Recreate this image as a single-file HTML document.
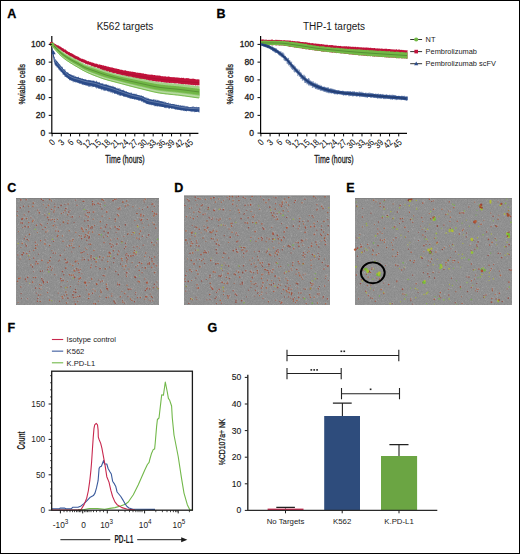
<!DOCTYPE html>
<html><head><meta charset="utf-8"><style>
html,body{margin:0;padding:0;background:#fff;}
#w{position:relative;width:520px;height:554px;box-sizing:border-box;border:1px solid #000;overflow:hidden;background:#fff;}
svg{position:absolute;left:-1px;top:-1px;}
svg text{font-family:"Liberation Sans", sans-serif;}
.h{stroke:#1a1a1a;stroke-width:0.3px;}
.cb{font-weight:bold;}
</style></head><body><div id="w">
<svg width="520" height="554" viewBox="0 0 520 554">
<defs>
<filter id="nf" x="0" y="0" width="100%" height="100%" color-interpolation-filters="sRGB"><feTurbulence type="fractalNoise" baseFrequency="1.3" numOctaves="1" seed="3"/><feColorMatrix type="matrix" values="1.6 0 0 0 -0.23  1.6 0 0 0 -0.23  1.6 0 0 0 -0.23  0 0 0 0 1"/></filter>
<pattern id="noise" patternUnits="userSpaceOnUse" width="160" height="110"><rect width="160" height="110" filter="url(#nf)"/></pattern>
</defs>
<text x="7.30" y="17.70" font-size="12.5" text-anchor="start" font-weight="bold" fill="#000" stroke="#000" stroke-width="0.3">A</text>
<text x="216.60" y="17.70" font-size="12.5" text-anchor="start" font-weight="bold" fill="#000" stroke="#000" stroke-width="0.3">B</text>
<text x="7.20" y="192.40" font-size="12.5" text-anchor="start" font-weight="bold" fill="#000" stroke="#000" stroke-width="0.3">C</text>
<text x="174.30" y="192.40" font-size="12.5" text-anchor="start" font-weight="bold" fill="#000" stroke="#000" stroke-width="0.3">D</text>
<text x="346.20" y="192.40" font-size="12.5" text-anchor="start" font-weight="bold" fill="#000" stroke="#000" stroke-width="0.3">E</text>
<text x="7.60" y="331.90" font-size="12.5" text-anchor="start" font-weight="bold" fill="#000" stroke="#000" stroke-width="0.3">F</text>
<text x="207.60" y="332.20" font-size="12.5" text-anchor="start" font-weight="bold" fill="#000" stroke="#000" stroke-width="0.3">G</text>
<g>
<text x="125.00" y="30.00" font-size="10" text-anchor="middle" font-weight="normal" fill="#1a1a1a" >K562 targets</text>
<path d="M51.8,36 V133.3 M51.2,133.3 H198.4" stroke="#050505" stroke-width="1.2" fill="none"/>
<path d="M52.00,42.79 L52.50,43.17 L53.00,43.27 L53.50,43.15 L54.00,43.31 L54.50,43.51 L55.00,43.92 L55.50,43.95 L56.00,44.48 L56.50,44.68 L57.00,45.16 L57.50,45.35 L58.00,45.18 L58.50,45.55 L59.00,45.75 L59.50,46.31 L60.00,46.54 L60.50,46.54 L61.00,47.20 L61.50,47.28 L62.00,47.66 L62.50,48.16 L63.00,48.12 L63.50,48.59 L64.00,49.02 L64.50,49.48 L65.00,49.45 L65.50,49.61 L66.00,49.85 L66.50,50.60 L67.00,50.98 L67.50,51.18 L68.00,51.42 L68.50,51.89 L69.00,51.97 L69.50,52.02 L70.00,52.66 L70.50,53.05 L71.00,53.07 L71.50,53.13 L72.00,53.49 L72.50,53.70 L73.00,54.01 L73.50,54.43 L74.00,54.51 L74.50,55.05 L75.00,55.47 L75.50,55.41 L76.00,55.71 L76.50,56.32 L77.00,56.11 L77.50,56.39 L78.00,56.85 L78.50,56.75 L79.00,57.22 L79.50,57.82 L80.00,57.81 L80.50,58.15 L81.00,58.53 L81.50,58.76 L82.00,58.71 L82.50,58.77 L83.00,58.97 L83.50,59.28 L84.00,59.58 L84.50,59.58 L85.00,59.84 L85.50,59.99 L86.00,60.54 L86.50,60.50 L87.00,60.75 L87.50,61.22 L88.00,61.16 L88.50,61.11 L89.00,61.43 L89.50,61.88 L90.00,61.56 L90.50,62.03 L91.00,62.19 L91.50,62.34 L92.00,62.70 L92.50,62.49 L93.00,62.59 L93.50,62.96 L94.00,62.99 L94.50,63.43 L95.00,63.61 L95.50,63.74 L96.00,63.53 L96.50,63.74 L97.00,63.67 L97.50,63.94 L98.00,64.48 L98.50,64.58 L99.00,64.70 L99.50,64.37 L100.00,64.47 L100.50,64.83 L101.00,65.07 L101.50,65.07 L102.00,64.83 L102.50,65.44 L103.00,65.46 L103.50,65.23 L104.00,65.44 L104.50,65.95 L105.00,65.74 L105.50,66.07 L106.00,65.85 L106.50,66.45 L107.00,66.13 L107.50,66.76 L108.00,66.52 L108.50,66.53 L109.00,67.17 L109.50,67.04 L110.00,67.11 L110.50,67.48 L111.00,67.27 L111.50,67.39 L112.00,67.53 L112.50,67.58 L113.00,67.84 L113.50,68.10 L114.00,68.12 L114.50,68.29 L115.00,68.41 L115.50,68.48 L116.00,68.32 L116.50,68.54 L117.00,68.98 L117.50,68.84 L118.00,69.09 L118.50,68.93 L119.00,69.12 L119.50,69.54 L120.00,69.51 L120.50,69.83 L121.00,69.75 L121.50,69.79 L122.00,69.86 L122.50,69.97 L123.00,70.21 L123.50,70.45 L124.00,70.32 L124.50,70.58 L125.00,70.25 L125.50,70.32 L126.00,70.41 L126.50,70.93 L127.00,70.65 L127.50,71.05 L128.00,71.27 L128.50,70.97 L129.00,71.17 L129.50,71.61 L130.00,71.21 L130.50,71.51 L131.00,71.40 L131.50,71.81 L132.00,71.80 L132.50,71.56 L133.00,72.01 L133.50,71.76 L134.00,72.28 L134.50,71.96 L135.00,72.00 L135.50,72.23 L136.00,72.40 L136.50,72.72 L137.00,72.40 L137.50,72.74 L138.00,72.53 L138.50,72.97 L139.00,72.68 L139.50,73.10 L140.00,72.85 L140.50,72.92 L141.00,73.23 L141.50,73.37 L142.00,73.28 L142.50,73.51 L143.00,73.34 L143.50,73.38 L144.00,73.62 L144.50,73.96 L145.00,73.88 L145.50,73.87 L146.00,73.88 L146.50,74.25 L147.00,74.00 L147.50,74.52 L148.00,74.52 L148.50,74.40 L149.00,74.41 L149.50,74.66 L150.00,74.52 L150.50,74.81 L151.00,74.70 L151.50,74.56 L152.00,74.64 L152.50,74.82 L153.00,74.78 L153.50,75.32 L154.00,75.04 L154.50,75.11 L155.00,75.09 L155.50,75.22 L156.00,75.71 L156.50,75.33 L157.00,75.43 L157.50,75.31 L158.00,75.65 L158.50,75.55 L159.00,75.49 L159.50,75.60 L160.00,75.63 L160.50,75.84 L161.00,76.06 L161.50,76.21 L162.00,76.25 L162.50,76.10 L163.00,76.51 L163.50,76.41 L164.00,76.05 L164.50,76.61 L165.00,76.56 L165.50,76.25 L166.00,76.52 L166.50,76.74 L167.00,76.66 L167.50,76.76 L168.00,76.54 L168.50,76.52 L169.00,76.55 L169.50,76.87 L170.00,76.95 L170.50,76.92 L171.00,77.14 L171.50,77.01 L172.00,77.15 L172.50,77.24 L173.00,76.88 L173.50,77.32 L174.00,77.37 L174.50,77.26 L175.00,77.30 L175.50,77.51 L176.00,77.48 L176.50,77.22 L177.00,77.63 L177.50,77.56 L178.00,77.30 L178.50,77.71 L179.00,77.76 L179.50,77.71 L180.00,77.72 L180.50,78.02 L181.00,78.12 L181.50,77.58 L182.00,78.11 L182.50,77.93 L183.00,77.83 L183.50,77.87 L184.00,77.88 L184.50,78.41 L185.00,78.37 L185.50,78.45 L186.00,78.10 L186.50,78.30 L187.00,78.05 L187.50,78.36 L188.00,78.22 L188.50,78.36 L189.00,78.22 L189.50,78.76 L190.00,78.86 L190.50,78.88 L191.00,78.61 L191.50,79.03 L192.00,78.69 L192.50,78.68 L193.00,78.61 L193.50,78.77 L194.00,78.79 L194.50,78.99 L195.00,78.95 L195.50,79.29 L196.00,79.18 L196.50,79.41 L197.00,79.32 L197.50,79.37 L198.00,79.42 L198.50,79.19 L199.00,79.61 L199.50,79.38 L199.50,85.51 L199.00,85.33 L198.50,85.24 L198.00,85.55 L197.50,85.39 L197.00,85.11 L196.50,85.36 L196.00,85.54 L195.50,85.43 L195.00,85.47 L194.50,84.97 L194.00,84.97 L193.50,85.33 L193.00,85.22 L192.50,84.71 L192.00,84.89 L191.50,84.95 L191.00,84.78 L190.50,84.68 L190.00,84.89 L189.50,84.49 L189.00,84.82 L188.50,84.83 L188.00,84.49 L187.50,84.42 L187.00,84.49 L186.50,84.16 L186.00,84.64 L185.50,84.48 L185.00,84.32 L184.50,84.05 L184.00,84.24 L183.50,84.23 L183.00,84.40 L182.50,83.95 L182.00,84.32 L181.50,83.97 L181.00,84.21 L180.50,83.73 L180.00,83.63 L179.50,83.79 L179.00,83.64 L178.50,83.84 L178.00,83.54 L177.50,83.34 L177.00,83.47 L176.50,83.39 L176.00,83.24 L175.50,83.52 L175.00,83.52 L174.50,83.29 L174.00,83.60 L173.50,83.09 L173.00,83.08 L172.50,83.03 L172.00,82.87 L171.50,83.11 L171.00,83.19 L170.50,82.70 L170.00,83.06 L169.50,82.98 L169.00,83.06 L168.50,82.72 L168.00,82.48 L167.50,82.83 L167.00,82.90 L166.50,82.81 L166.00,82.76 L165.50,82.52 L165.00,82.65 L164.50,82.48 L164.00,82.55 L163.50,82.39 L163.00,82.03 L162.50,82.09 L162.00,82.36 L161.50,82.17 L161.00,82.04 L160.50,81.80 L160.00,81.61 L159.50,81.78 L159.00,81.64 L158.50,81.72 L158.00,81.65 L157.50,81.51 L157.00,81.43 L156.50,81.72 L156.00,81.40 L155.50,81.58 L155.00,81.20 L154.50,81.13 L154.00,80.93 L153.50,81.11 L153.00,81.14 L152.50,80.65 L152.00,80.92 L151.50,80.47 L151.00,80.52 L150.50,80.62 L150.00,80.65 L149.50,80.66 L149.00,80.29 L148.50,80.40 L148.00,80.08 L147.50,79.80 L147.00,79.93 L146.50,79.89 L146.00,79.48 L145.50,79.40 L145.00,79.40 L144.50,79.38 L144.00,79.30 L143.50,79.15 L143.00,79.04 L142.50,78.99 L142.00,78.84 L141.50,79.23 L141.00,78.78 L140.50,79.01 L140.00,78.91 L139.50,78.79 L139.00,78.78 L138.50,78.38 L138.00,78.07 L137.50,78.36 L137.00,78.40 L136.50,77.91 L136.00,78.20 L135.50,77.64 L135.00,77.93 L134.50,77.53 L134.00,77.85 L133.50,77.76 L133.00,77.38 L132.50,77.17 L132.00,77.14 L131.50,76.79 L131.00,76.87 L130.50,76.78 L130.00,76.73 L129.50,76.87 L129.00,76.56 L128.50,76.73 L128.00,76.64 L127.50,76.04 L127.00,76.27 L126.50,76.28 L126.00,76.03 L125.50,75.67 L125.00,75.68 L124.50,75.39 L124.00,75.76 L123.50,75.24 L123.00,75.50 L122.50,75.43 L122.00,75.07 L121.50,75.05 L121.00,74.83 L120.50,74.67 L120.00,74.75 L119.50,74.48 L119.00,74.23 L118.50,74.28 L118.00,74.29 L117.50,74.02 L117.00,73.92 L116.50,73.75 L116.00,73.82 L115.50,73.33 L115.00,73.11 L114.50,73.30 L114.00,73.40 L113.50,73.26 L113.00,72.87 L112.50,73.00 L112.00,72.58 L111.50,72.54 L111.00,72.23 L110.50,72.04 L110.00,72.29 L109.50,72.19 L109.00,71.87 L108.50,71.35 L108.00,71.52 L107.50,71.44 L107.00,71.39 L106.50,71.23 L106.00,70.69 L105.50,70.55 L105.00,70.87 L104.50,70.38 L104.00,70.47 L103.50,70.29 L103.00,69.93 L102.50,69.94 L102.00,69.68 L101.50,69.58 L101.00,69.20 L100.50,69.27 L100.00,68.66 L99.50,68.48 L99.00,68.37 L98.50,68.56 L98.00,68.04 L97.50,68.00 L97.00,67.57 L96.50,67.24 L96.00,67.35 L95.50,67.31 L95.00,67.18 L94.50,67.13 L94.00,66.51 L93.50,66.68 L93.00,66.51 L92.50,66.10 L92.00,66.13 L91.50,66.14 L91.00,65.40 L90.50,65.31 L90.00,65.62 L89.50,64.98 L89.00,64.87 L88.50,64.59 L88.00,64.65 L87.50,64.77 L87.00,64.06 L86.50,64.01 L86.00,63.70 L85.50,63.94 L85.00,63.44 L84.50,63.10 L84.00,62.83 L83.50,62.67 L83.00,62.39 L82.50,62.50 L82.00,62.12 L81.50,62.12 L81.00,61.86 L80.50,61.18 L80.00,61.27 L79.50,61.06 L79.00,60.74 L78.50,60.40 L78.00,60.06 L77.50,59.94 L77.00,59.54 L76.50,59.24 L76.00,59.42 L75.50,58.89 L75.00,58.90 L74.50,58.65 L74.00,58.13 L73.50,58.12 L73.00,57.48 L72.50,57.52 L72.00,56.86 L71.50,56.79 L71.00,56.64 L70.50,56.13 L70.00,56.27 L69.50,55.80 L69.00,55.48 L68.50,55.35 L68.00,54.75 L67.50,54.52 L67.00,54.04 L66.50,53.89 L66.00,53.63 L65.50,53.21 L65.00,53.06 L64.50,52.36 L64.00,52.16 L63.50,52.20 L63.00,51.72 L62.50,51.50 L62.00,50.96 L61.50,50.82 L61.00,50.41 L60.50,49.96 L60.00,49.56 L59.50,49.43 L59.00,49.23 L58.50,49.06 L58.00,48.33 L57.50,48.12 L57.00,47.67 L56.50,47.59 L56.00,47.64 L55.50,46.93 L55.00,47.03 L54.50,46.34 L54.00,46.32 L53.50,46.15 L53.00,45.85 L52.50,45.46 L52.00,45.29Z" fill="#c0113a" opacity="1"/>
<circle cx="51.6" cy="43.9" r="2.1" fill="#c0113a"/>
<polyline points="54.00,45.27 55.00,45.70 56.00,46.18 57.00,46.71 58.00,47.27 59.00,47.86 60.00,48.47 61.00,49.08 62.00,49.68 63.00,50.28 64.00,50.88 65.00,51.50 66.00,52.13 67.00,52.76 68.00,53.38 69.00,53.98 70.00,54.57 71.00,55.14 72.00,55.69 73.00,56.23 74.00,56.76 75.00,57.28 76.00,57.79 77.00,58.30 78.00,58.80 79.00,59.30 80.00,59.80 81.00,60.29 82.00,60.78 83.00,61.24 84.00,61.69 85.00,62.10 86.00,62.49 87.00,62.86 88.00,63.22 89.00,63.57 90.00,63.90 91.00,64.23 92.00,64.55 93.00,64.87 94.00,65.18 95.00,65.50 96.00,65.82 97.00,66.13 98.00,66.44 99.00,66.74 100.00,67.04 101.00,67.34 102.00,67.64 103.00,67.93 104.00,68.21 105.00,68.50 106.00,68.78 107.00,69.07 108.00,69.35 109.00,69.63 110.00,69.91 111.00,70.18 112.00,70.45 113.00,70.71 114.00,70.96 115.00,71.20 116.00,71.43 117.00,71.66 118.00,71.89 119.00,72.11 120.00,72.33 121.00,72.55 122.00,72.77 123.00,72.98 124.00,73.19 125.00,73.40 126.00,73.60 127.00,73.80 128.00,74.00 129.00,74.20 130.00,74.39 131.00,74.58 132.00,74.77 133.00,74.96 134.00,75.14 135.00,75.32 136.00,75.50 137.00,75.68 138.00,75.86 139.00,76.03 140.00,76.20 141.00,76.37 142.00,76.54 143.00,76.71 144.00,76.87 145.00,77.04 146.00,77.20 147.00,77.36 148.00,77.52 149.00,77.68 150.00,77.84 151.00,77.99 152.00,78.14 153.00,78.28 154.00,78.42 155.00,78.56 156.00,78.70 157.00,78.83 158.00,78.96 159.00,79.08 160.00,79.20 161.00,79.31 162.00,79.43 163.00,79.53 164.00,79.64 165.00,79.74 166.00,79.84 167.00,79.93 168.00,80.03 169.00,80.12 170.00,80.21 171.00,80.30 172.00,80.39 173.00,80.48 174.00,80.57 175.00,80.66 176.00,80.74 177.00,80.83 178.00,80.92 179.00,81.01 180.00,81.10 181.00,81.19 182.00,81.28 183.00,81.37 184.00,81.46 185.00,81.55 186.00,81.63 187.00,81.72 188.00,81.81 189.00,81.89 190.00,81.98 191.00,82.07 192.00,82.15 193.00,82.24 194.00,82.32 195.00,82.41 196.00,82.50 197.00,82.58 198.00,82.67 199.00,82.76" fill="none" stroke="#5a0a1a" stroke-width="0.5" opacity="0.35"/>
<path d="M52.00,43.53 L52.50,43.92 L53.00,44.31 L53.50,44.69 L54.00,45.08 L54.50,45.49 L55.00,45.92 L55.50,46.38 L56.00,46.84 L56.50,47.31 L57.00,47.79 L57.50,48.27 L58.00,48.75 L58.50,49.23 L59.00,49.70 L59.50,50.17 L60.00,50.63 L60.50,51.08 L61.00,51.52 L61.50,51.94 L62.00,52.35 L62.50,52.74 L63.00,53.12 L63.50,53.48 L64.00,53.83 L64.50,54.17 L65.00,54.51 L65.50,54.83 L66.00,55.15 L66.50,55.47 L67.00,55.78 L67.50,56.08 L68.00,56.38 L68.50,56.67 L69.00,56.97 L69.50,57.26 L70.00,57.54 L70.50,57.83 L71.00,58.12 L71.50,58.39 L72.00,58.66 L72.50,58.93 L73.00,59.19 L73.50,59.45 L74.00,59.71 L74.50,59.96 L75.00,60.22 L75.50,60.47 L76.00,60.73 L76.50,60.99 L77.00,61.25 L77.50,61.51 L78.00,61.78 L78.50,62.06 L79.00,62.34 L79.50,62.63 L80.00,62.92 L80.50,63.21 L81.00,63.51 L81.50,63.80 L82.00,64.08 L82.50,64.37 L83.00,64.64 L83.50,64.91 L84.00,65.16 L84.50,65.40 L85.00,65.63 L85.50,65.84 L86.00,66.04 L86.50,66.24 L87.00,66.42 L87.50,66.60 L88.00,66.77 L88.50,66.94 L89.00,67.10 L89.50,67.25 L90.00,67.41 L90.50,67.56 L91.00,67.71 L91.50,67.86 L92.00,68.01 L92.50,68.16 L93.00,68.31 L93.50,68.47 L94.00,68.63 L94.50,68.80 L95.00,68.97 L95.50,69.15 L96.00,69.32 L96.50,69.50 L97.00,69.68 L97.50,69.85 L98.00,70.03 L98.50,70.21 L99.00,70.39 L99.50,70.57 L100.00,70.74 L100.50,70.92 L101.00,71.09 L101.50,71.26 L102.00,71.43 L102.50,71.60 L103.00,71.77 L103.50,71.94 L104.00,72.10 L104.50,72.26 L105.00,72.42 L105.50,72.57 L106.00,72.72 L106.50,72.88 L107.00,73.03 L107.50,73.18 L108.00,73.33 L108.50,73.47 L109.00,73.62 L109.50,73.77 L110.00,73.91 L110.50,74.05 L111.00,74.19 L111.50,74.33 L112.00,74.47 L112.50,74.61 L113.00,74.74 L113.50,74.88 L114.00,75.01 L114.50,75.14 L115.00,75.27 L115.50,75.40 L116.00,75.52 L116.50,75.65 L117.00,75.77 L117.50,75.90 L118.00,76.02 L118.50,76.14 L119.00,76.26 L119.50,76.38 L120.00,76.49 L120.50,76.61 L121.00,76.73 L121.50,76.84 L122.00,76.95 L122.50,77.07 L123.00,77.18 L123.50,77.29 L124.00,77.40 L124.50,77.51 L125.00,77.62 L125.50,77.72 L126.00,77.83 L126.50,77.94 L127.00,78.04 L127.50,78.15 L128.00,78.25 L128.50,78.36 L129.00,78.46 L129.50,78.56 L130.00,78.67 L130.50,78.77 L131.00,78.87 L131.50,78.97 L132.00,79.07 L132.50,79.18 L133.00,79.28 L133.50,79.38 L134.00,79.48 L134.50,79.58 L135.00,79.68 L135.50,79.78 L136.00,79.88 L136.50,79.98 L137.00,80.08 L137.50,80.18 L138.00,80.28 L138.50,80.38 L139.00,80.48 L139.50,80.58 L140.00,80.68 L140.50,80.79 L141.00,80.89 L141.50,80.99 L142.00,81.10 L142.50,81.20 L143.00,81.31 L143.50,81.41 L144.00,81.52 L144.50,81.62 L145.00,81.73 L145.50,81.84 L146.00,81.94 L146.50,82.05 L147.00,82.15 L147.50,82.26 L148.00,82.36 L148.50,82.47 L149.00,82.57 L149.50,82.67 L150.00,82.78 L150.50,82.88 L151.00,82.98 L151.50,83.08 L152.00,83.18 L152.50,83.27 L153.00,83.37 L153.50,83.46 L154.00,83.55 L154.50,83.64 L155.00,83.73 L155.50,83.82 L156.00,83.91 L156.50,83.99 L157.00,84.07 L157.50,84.15 L158.00,84.23 L158.50,84.30 L159.00,84.37 L159.50,84.44 L160.00,84.51 L160.50,84.57 L161.00,84.64 L161.50,84.70 L162.00,84.76 L162.50,84.82 L163.00,84.87 L163.50,84.93 L164.00,84.98 L164.50,85.03 L165.00,85.09 L165.50,85.14 L166.00,85.19 L166.50,85.24 L167.00,85.28 L167.50,85.33 L168.00,85.38 L168.50,85.42 L169.00,85.47 L169.50,85.51 L170.00,85.56 L170.50,85.60 L171.00,85.65 L171.50,85.69 L172.00,85.73 L172.50,85.78 L173.00,85.82 L173.50,85.87 L174.00,85.91 L174.50,85.96 L175.00,86.00 L175.50,86.05 L176.00,86.10 L176.50,86.14 L177.00,86.19 L177.50,86.24 L178.00,86.29 L178.50,86.34 L179.00,86.39 L179.50,86.45 L180.00,86.50 L180.50,86.56 L181.00,86.61 L181.50,86.67 L182.00,86.72 L182.50,86.78 L183.00,86.84 L183.50,86.90 L184.00,86.96 L184.50,87.02 L185.00,87.08 L185.50,87.14 L186.00,87.20 L186.50,87.26 L187.00,87.32 L187.50,87.38 L188.00,87.45 L188.50,87.51 L189.00,87.57 L189.50,87.63 L190.00,87.70 L190.50,87.76 L191.00,87.82 L191.50,87.89 L192.00,87.95 L192.50,88.01 L193.00,88.08 L193.50,88.14 L194.00,88.20 L194.50,88.27 L195.00,88.33 L195.50,88.39 L196.00,88.45 L196.50,88.52 L197.00,88.58 L197.50,88.64 L198.00,88.70 L198.50,88.77 L199.00,88.83 L199.50,88.89 L199.50,95.71 L199.00,95.64 L198.50,95.58 L198.00,95.51 L197.50,95.44 L197.00,95.37 L196.50,95.30 L196.00,95.23 L195.50,95.17 L195.00,95.10 L194.50,95.03 L194.00,94.96 L193.50,94.89 L193.00,94.82 L192.50,94.75 L192.00,94.68 L191.50,94.61 L191.00,94.55 L190.50,94.48 L190.00,94.41 L189.50,94.34 L189.00,94.27 L188.50,94.20 L188.00,94.14 L187.50,94.07 L187.00,94.00 L186.50,93.93 L186.00,93.87 L185.50,93.80 L185.00,93.73 L184.50,93.67 L184.00,93.60 L183.50,93.54 L183.00,93.47 L182.50,93.41 L182.00,93.35 L181.50,93.28 L181.00,93.22 L180.50,93.16 L180.00,93.10 L179.50,93.04 L179.00,92.98 L178.50,92.92 L178.00,92.87 L177.50,92.81 L177.00,92.76 L176.50,92.71 L176.00,92.65 L175.50,92.60 L175.00,92.55 L174.50,92.50 L174.00,92.45 L173.50,92.40 L173.00,92.35 L172.50,92.30 L172.00,92.26 L171.50,92.21 L171.00,92.16 L170.50,92.11 L170.00,92.06 L169.50,92.01 L169.00,91.96 L168.50,91.91 L168.00,91.86 L167.50,91.81 L167.00,91.75 L166.50,91.70 L166.00,91.65 L165.50,91.59 L165.00,91.53 L164.50,91.48 L164.00,91.42 L163.50,91.36 L163.00,91.30 L162.50,91.23 L162.00,91.17 L161.50,91.10 L161.00,91.03 L160.50,90.96 L160.00,90.89 L159.50,90.82 L159.00,90.74 L158.50,90.66 L158.00,90.57 L157.50,90.48 L157.00,90.39 L156.50,90.30 L156.00,90.21 L155.50,90.11 L155.00,90.01 L154.50,89.91 L154.00,89.81 L153.50,89.70 L153.00,89.59 L152.50,89.48 L152.00,89.37 L151.50,89.26 L151.00,89.15 L150.50,89.03 L150.00,88.91 L149.50,88.80 L149.00,88.68 L148.50,88.56 L148.00,88.44 L147.50,88.32 L147.00,88.20 L146.50,88.08 L146.00,87.96 L145.50,87.83 L145.00,87.71 L144.50,87.59 L144.00,87.47 L143.50,87.35 L143.00,87.23 L142.50,87.11 L142.00,86.99 L141.50,86.87 L141.00,86.75 L140.50,86.63 L140.00,86.52 L139.50,86.40 L139.00,86.28 L138.50,86.17 L138.00,86.05 L137.50,85.93 L137.00,85.81 L136.50,85.69 L136.00,85.58 L135.50,85.46 L135.00,85.34 L134.50,85.22 L134.00,85.10 L133.50,84.98 L133.00,84.85 L132.50,84.73 L132.00,84.61 L131.50,84.49 L131.00,84.37 L130.50,84.24 L130.00,84.12 L129.50,84.00 L129.00,83.87 L128.50,83.75 L128.00,83.63 L127.50,83.50 L127.00,83.38 L126.50,83.25 L126.00,83.13 L125.50,83.00 L125.00,82.88 L124.50,82.75 L124.00,82.63 L123.50,82.50 L123.00,82.37 L122.50,82.25 L122.00,82.12 L121.50,81.99 L121.00,81.87 L120.50,81.74 L120.00,81.61 L119.50,81.48 L119.00,81.36 L118.50,81.23 L118.00,81.10 L117.50,80.97 L117.00,80.84 L116.50,80.72 L116.00,80.59 L115.50,80.46 L115.00,80.33 L114.50,80.20 L114.00,80.07 L113.50,79.94 L113.00,79.81 L112.50,79.69 L112.00,79.56 L111.50,79.42 L111.00,79.29 L110.50,79.16 L110.00,79.02 L109.50,78.89 L109.00,78.75 L108.50,78.61 L108.00,78.47 L107.50,78.33 L107.00,78.19 L106.50,78.04 L106.00,77.89 L105.50,77.74 L105.00,77.58 L104.50,77.43 L104.00,77.27 L103.50,77.10 L103.00,76.94 L102.50,76.77 L102.00,76.59 L101.50,76.42 L101.00,76.24 L100.50,76.06 L100.00,75.88 L99.50,75.70 L99.00,75.51 L98.50,75.33 L98.00,75.14 L97.50,74.96 L97.00,74.77 L96.50,74.59 L96.00,74.40 L95.50,74.22 L95.00,74.03 L94.50,73.84 L94.00,73.66 L93.50,73.47 L93.00,73.28 L92.50,73.09 L92.00,72.90 L91.50,72.71 L91.00,72.51 L90.50,72.32 L90.00,72.12 L89.50,71.92 L89.00,71.71 L88.50,71.51 L88.00,71.30 L87.50,71.08 L87.00,70.87 L86.50,70.65 L86.00,70.43 L85.50,70.20 L85.00,69.97 L84.50,69.73 L84.00,69.48 L83.50,69.22 L83.00,68.95 L82.50,68.67 L82.00,68.38 L81.50,68.09 L81.00,67.79 L80.50,67.49 L80.00,67.19 L79.50,66.89 L79.00,66.60 L78.50,66.30 L78.00,66.02 L77.50,65.73 L77.00,65.45 L76.50,65.17 L76.00,64.89 L75.50,64.61 L75.00,64.33 L74.50,64.05 L74.00,63.77 L73.50,63.48 L73.00,63.19 L72.50,62.90 L72.00,62.60 L71.50,62.30 L71.00,62.00 L70.50,61.69 L70.00,61.37 L69.50,61.06 L69.00,60.74 L68.50,60.42 L68.00,60.10 L67.50,59.77 L67.00,59.44 L66.50,59.11 L66.00,58.77 L65.50,58.42 L65.00,58.06 L64.50,57.70 L64.00,57.33 L63.50,56.94 L63.00,56.55 L62.50,56.14 L62.00,55.72 L61.50,55.28 L61.00,54.82 L60.50,54.35 L60.00,53.87 L59.50,53.38 L59.00,52.87 L58.50,52.36 L58.00,51.85 L57.50,51.32 L57.00,50.80 L56.50,50.27 L56.00,49.73 L55.50,49.20 L55.00,48.67 L54.50,48.12 L54.00,47.54 L53.50,46.93 L53.00,46.30 L52.50,45.68 L52.00,45.07Z" fill="#72b846" opacity="1"/>
<path d="M52.00,42.98V45.64M53.00,43.50V47.02M54.00,44.19V48.45M55.00,45.00V49.68M56.00,45.76V50.86M57.00,46.81V51.83M58.00,47.74V53.06M59.00,48.49V53.90M60.00,49.31V55.19M61.00,50.27V56.06M62.00,51.23V56.79M63.00,51.86V57.66M64.00,52.66V58.51M65.00,53.37V59.34M66.00,53.86V60.19M67.00,54.44V60.83M68.00,55.02V61.51M69.00,55.61V62.04M70.00,55.98V62.94M71.00,56.58V63.48M72.00,57.30V63.94M73.00,57.81V64.49M74.00,58.13V65.21M75.00,58.59V65.79M76.00,59.04V66.54M77.00,59.91V66.87M78.00,60.08V67.55M79.00,60.61V68.10M80.00,61.53V68.79M81.00,61.84V69.26M82.00,62.68V69.88M83.00,62.89V70.62M84.00,63.74V70.96M85.00,64.21V71.38M86.00,64.33V71.89M87.00,64.78V72.46M88.00,65.25V73.04M89.00,65.57V73.45M90.00,65.86V73.80M91.00,66.09V74.16M92.00,66.02V74.82M93.00,66.60V75.26M94.00,66.94V75.44M95.00,66.97V75.94M96.00,67.66V76.47M97.00,67.96V76.51M98.00,68.05V76.92M99.00,68.62V77.18M100.00,69.06V77.79M101.00,69.34V78.16M102.00,69.62V78.45M103.00,69.68V78.81M104.00,70.18V79.32M105.00,70.68V79.30M106.00,70.65V79.92M107.00,71.27V79.92M108.00,71.34V80.55M109.00,71.90V80.83M110.00,71.87V80.93M111.00,72.38V80.96M112.00,72.84V81.62M113.00,73.02V81.75M114.00,73.28V82.06M115.00,73.39V82.07M116.00,73.83V82.53M117.00,74.13V82.56M118.00,74.14V83.11M119.00,74.35V83.11M120.00,74.44V83.33M121.00,75.08V83.63M122.00,75.10V83.79M123.00,75.44V84.20M124.00,75.46V84.35M125.00,75.77V84.98M126.00,75.67V85.13M127.00,76.01V85.36M128.00,76.47V85.35M129.00,76.73V86.05M130.00,76.58V86.33M131.00,77.11V86.43M132.00,77.07V86.74M133.00,77.34V87.14M134.00,77.65V87.16M135.00,77.50V87.60M136.00,77.69V87.75M137.00,77.84V88.11M138.00,78.26V88.24M139.00,78.16V88.59M140.00,78.61V88.79M141.00,78.57V88.92M142.00,78.89V89.07M143.00,79.11V89.44M144.00,79.58V89.71M145.00,79.29V90.09M146.00,79.63V90.08M147.00,79.83V90.44M148.00,80.19V90.84M149.00,80.58V91.04M150.00,80.81V91.20M151.00,80.75V91.24M152.00,80.81V91.62M153.00,81.04V92.09M154.00,81.42V91.80M155.00,81.56V92.40M156.00,81.79V92.31M157.00,81.54V92.79M158.00,81.95V93.10M159.00,82.16V93.15M160.00,82.36V93.17M161.00,82.13V93.60M162.00,82.21V93.43M163.00,82.49V93.52M164.00,82.85V93.76M165.00,82.54V94.08M166.00,82.71V94.26M167.00,83.06V93.91M168.00,83.05V94.08M169.00,83.28V94.27M170.00,83.12V94.42M171.00,83.39V94.73M172.00,83.08V94.60M173.00,83.70V94.45M174.00,83.31V94.56M175.00,83.50V94.98M176.00,83.82V95.21M177.00,84.09V94.93M178.00,83.92V94.98M179.00,83.80V95.22M180.00,84.32V95.23M181.00,84.13V95.59M182.00,84.24V95.85M183.00,84.24V96.16M184.00,84.43V95.84M185.00,84.67V95.96M186.00,85.07V96.27M187.00,84.76V96.23M188.00,85.15V96.47M189.00,85.01V96.72M190.00,85.18V97.01M191.00,85.44V97.17M192.00,85.25V96.88M193.00,85.36V97.41M194.00,85.97V97.39M195.00,85.79V97.81M196.00,86.06V97.74M197.00,85.88V98.02M198.00,85.96V97.96M199.00,86.26V97.94" stroke="#72b846" stroke-width="0.8" opacity="1" fill="none"/>
<path d="M60.00,53.46 L60.50,53.93 L61.00,54.39 L61.50,54.83 L62.00,55.26 L62.50,55.68 L63.00,56.08 L63.50,56.47 L64.00,56.85 L64.50,57.22 L65.00,57.58 L65.50,57.93 L66.00,58.27 L66.50,58.61 L67.00,58.94 L67.50,59.27 L68.00,59.59 L68.50,59.91 L69.00,60.23 L69.50,60.54 L70.00,60.85 L70.50,61.16 L71.00,61.47 L71.50,61.77 L72.00,62.07 L72.50,62.36 L73.00,62.64 L73.50,62.93 L74.00,63.21 L74.50,63.49 L75.00,63.77 L75.50,64.04 L76.00,64.32 L76.50,64.60 L77.00,64.88 L77.50,65.16 L78.00,65.44 L78.50,65.73 L79.00,66.02 L79.50,66.31 L80.00,66.61 L80.50,66.90 L81.00,67.20 L81.50,67.49 L82.00,67.78 L82.50,68.07 L83.00,68.35 L83.50,68.62 L84.00,68.88 L84.50,69.14 L85.00,69.38 L85.50,69.61 L86.00,69.84 L86.50,70.06 L87.00,70.28 L87.50,70.49 L88.00,70.70 L88.50,70.90 L89.00,71.10 L89.50,71.29 L90.00,71.48 L90.50,71.67 L91.00,71.86 L91.50,72.04 L92.00,72.23 L92.50,72.41 L93.00,72.60 L93.50,72.78 L94.00,72.97 L94.50,73.15 L95.00,73.34 L95.50,73.53 L96.00,73.72 L96.50,73.90 L97.00,74.09 L97.50,74.28 L98.00,74.46 L98.50,74.65 L99.00,74.83 L99.50,75.01 L100.00,75.19 L100.50,75.37 L101.00,75.55 L101.50,75.73 L102.00,75.90 L102.50,76.07 L103.00,76.24 L103.50,76.40 L104.00,76.56 L104.50,76.72 L105.00,76.88 L105.50,77.03 L106.00,77.18 L106.50,77.33 L107.00,77.48 L107.50,77.62 L108.00,77.77 L108.50,77.91 L109.00,78.05 L109.50,78.18 L110.00,78.32 L110.50,78.45 L111.00,78.59 L111.50,78.72 L112.00,78.85 L112.50,78.98 L113.00,79.12 L113.50,79.25 L114.00,79.38 L114.50,79.51 L115.00,79.64 L115.50,79.77 L116.00,79.90 L116.50,80.03 L117.00,80.16 L117.50,80.29 L118.00,80.42 L118.50,80.55 L119.00,80.68 L119.50,80.80 L120.00,80.93 L120.50,81.06 L121.00,81.18 L121.50,81.31 L122.00,81.43 L122.50,81.56 L123.00,81.68 L123.50,81.81 L124.00,81.93 L124.50,82.06 L125.00,82.18 L125.50,82.30 L126.00,82.42 L126.50,82.55 L127.00,82.67 L127.50,82.79 L128.00,82.91 L128.50,83.03 L129.00,83.15 L129.50,83.27 L130.00,83.39 L130.50,83.51 L131.00,83.63 L131.50,83.75 L132.00,83.87 L132.50,83.98 L133.00,84.10 L133.50,84.22 L134.00,84.34 L134.50,84.45 L135.00,84.57 L135.50,84.69 L136.00,84.80 L136.50,84.92 L137.00,85.03 L137.50,85.15 L138.00,85.26 L138.50,85.38 L139.00,85.49 L139.50,85.61 L140.00,85.72 L140.50,85.83 L141.00,85.95 L141.50,86.07 L142.00,86.18 L142.50,86.30 L143.00,86.42 L143.50,86.54 L144.00,86.66 L144.50,86.78 L145.00,86.90 L145.50,87.02 L146.00,87.14 L146.50,87.26 L147.00,87.37 L147.50,87.49 L148.00,87.61 L148.50,87.73 L149.00,87.85 L149.50,87.96 L150.00,88.08 L150.50,88.19 L151.00,88.30 L151.50,88.42 L152.00,88.53 L152.50,88.64 L153.00,88.74 L153.50,88.85 L154.00,88.95 L154.50,89.05 L155.00,89.15 L155.50,89.25 L156.00,89.35 L156.50,89.44 L157.00,89.53 L157.50,89.62 L158.00,89.71 L158.50,89.79 L159.00,89.87 L159.50,89.95 L160.00,90.02 L160.50,90.09 L161.00,90.16 L161.50,90.23 L162.00,90.29 L162.50,90.36 L163.00,90.42 L163.50,90.48 L164.00,90.54 L164.50,90.60 L165.00,90.66 L165.50,90.71 L166.00,90.77 L166.50,90.82 L167.00,90.87 L167.50,90.92 L168.00,90.97 L168.50,91.02 L169.00,91.07 L169.50,91.12 L170.00,91.17 L170.50,91.22 L171.00,91.27 L171.50,91.32 L172.00,91.37 L172.50,91.41 L173.00,91.46 L173.50,91.51 L174.00,91.56 L174.50,91.61 L175.00,91.66 L175.50,91.71 L176.00,91.76 L176.50,91.81 L177.00,91.86 L177.50,91.92 L178.00,91.97 L178.50,92.03 L179.00,92.08 L179.50,92.14 L180.00,92.20 L180.50,92.26 L181.00,92.32 L181.50,92.38 L182.00,92.44 L182.50,92.51 L183.00,92.57 L183.50,92.63 L184.00,92.70 L184.50,92.76 L185.00,92.83 L185.50,92.89 L186.00,92.96 L186.50,93.02 L187.00,93.09 L187.50,93.16 L188.00,93.22 L188.50,93.29 L189.00,93.36 L189.50,93.43 L190.00,93.49 L190.50,93.56 L191.00,93.63 L191.50,93.70 L192.00,93.77 L192.50,93.83 L193.00,93.90 L193.50,93.97 L194.00,94.04 L194.50,94.11 L195.00,94.17 L195.50,94.24 L196.00,94.31 L196.50,94.38 L197.00,94.45 L197.50,94.51 L198.00,94.58 L198.50,94.65 L199.00,94.71 L199.50,94.78 L199.50,97.26 L199.00,97.19 L198.50,97.12 L198.00,97.05 L197.50,96.98 L197.00,96.92 L196.50,96.85 L196.00,96.78 L195.50,96.71 L195.00,96.64 L194.50,96.57 L194.00,96.50 L193.50,96.43 L193.00,96.35 L192.50,96.28 L192.00,96.21 L191.50,96.14 L191.00,96.07 L190.50,96.00 L190.00,95.93 L189.50,95.86 L189.00,95.79 L188.50,95.72 L188.00,95.66 L187.50,95.59 L187.00,95.52 L186.50,95.45 L186.00,95.38 L185.50,95.31 L185.00,95.25 L184.50,95.18 L184.00,95.11 L183.50,95.05 L183.00,94.98 L182.50,94.92 L182.00,94.85 L181.50,94.79 L181.00,94.72 L180.50,94.66 L180.00,94.60 L179.50,94.54 L179.00,94.48 L178.50,94.42 L178.00,94.36 L177.50,94.31 L177.00,94.25 L176.50,94.20 L176.00,94.14 L175.50,94.09 L175.00,94.04 L174.50,93.99 L174.00,93.94 L173.50,93.89 L173.00,93.84 L172.50,93.79 L172.00,93.74 L171.50,93.69 L171.00,93.64 L170.50,93.59 L170.00,93.54 L169.50,93.49 L169.00,93.44 L168.50,93.38 L168.00,93.33 L167.50,93.28 L167.00,93.22 L166.50,93.17 L166.00,93.11 L165.50,93.06 L165.00,93.00 L164.50,92.94 L164.00,92.88 L163.50,92.82 L163.00,92.76 L162.50,92.69 L162.00,92.62 L161.50,92.56 L161.00,92.49 L160.50,92.41 L160.00,92.34 L159.50,92.26 L159.00,92.18 L158.50,92.10 L158.00,92.01 L157.50,91.92 L157.00,91.83 L156.50,91.74 L156.00,91.64 L155.50,91.54 L155.00,91.44 L154.50,91.33 L154.00,91.23 L153.50,91.12 L153.00,91.01 L152.50,90.89 L152.00,90.78 L151.50,90.66 L151.00,90.55 L150.50,90.43 L150.00,90.31 L149.50,90.19 L149.00,90.07 L148.50,89.94 L148.00,89.82 L147.50,89.70 L147.00,89.57 L146.50,89.45 L146.00,89.32 L145.50,89.20 L145.00,89.07 L144.50,88.95 L144.00,88.82 L143.50,88.70 L143.00,88.57 L142.50,88.45 L142.00,88.32 L141.50,88.20 L141.00,88.08 L140.50,87.96 L140.00,87.84 L139.50,87.72 L139.00,87.60 L138.50,87.48 L138.00,87.36 L137.50,87.24 L137.00,87.12 L136.50,86.99 L136.00,86.87 L135.50,86.75 L135.00,86.63 L134.50,86.50 L134.00,86.38 L133.50,86.25 L133.00,86.13 L132.50,86.00 L132.00,85.88 L131.50,85.75 L131.00,85.63 L130.50,85.50 L130.00,85.37 L129.50,85.25 L129.00,85.12 L128.50,84.99 L128.00,84.86 L127.50,84.74 L127.00,84.61 L126.50,84.48 L126.00,84.35 L125.50,84.22 L125.00,84.09 L124.50,83.96 L124.00,83.83 L123.50,83.70 L123.00,83.57 L122.50,83.44 L122.00,83.31 L121.50,83.18 L121.00,83.05 L120.50,82.92 L120.00,82.79 L119.50,82.66 L119.00,82.53 L118.50,82.40 L118.00,82.27 L117.50,82.14 L117.00,82.01 L116.50,81.87 L116.00,81.74 L115.50,81.61 L115.00,81.48 L114.50,81.35 L114.00,81.22 L113.50,81.09 L113.00,80.96 L112.50,80.83 L112.00,80.70 L111.50,80.57 L111.00,80.44 L110.50,80.31 L110.00,80.18 L109.50,80.05 L109.00,79.91 L108.50,79.78 L108.00,79.64 L107.50,79.50 L107.00,79.36 L106.50,79.21 L106.00,79.06 L105.50,78.91 L105.00,78.76 L104.50,78.60 L104.00,78.44 L103.50,78.28 L103.00,78.11 L102.50,77.95 L102.00,77.77 L101.50,77.60 L101.00,77.42 L100.50,77.24 L100.00,77.06 L99.50,76.88 L99.00,76.70 L98.50,76.51 L98.00,76.32 L97.50,76.13 L97.00,75.94 L96.50,75.75 L96.00,75.56 L95.50,75.37 L95.00,75.18 L94.50,74.99 L94.00,74.79 L93.50,74.60 L93.00,74.40 L92.50,74.21 L92.00,74.01 L91.50,73.81 L91.00,73.61 L90.50,73.40 L90.00,73.19 L89.50,72.99 L89.00,72.77 L88.50,72.56 L88.00,72.34 L87.50,72.12 L87.00,71.90 L86.50,71.67 L86.00,71.44 L85.50,71.20 L85.00,70.96 L84.50,70.71 L84.00,70.45 L83.50,70.19 L83.00,69.91 L82.50,69.63 L82.00,69.34 L81.50,69.05 L81.00,68.76 L80.50,68.46 L80.00,68.16 L79.50,67.86 L79.00,67.57 L78.50,67.27 L78.00,66.98 L77.50,66.69 L77.00,66.41 L76.50,66.12 L76.00,65.83 L75.50,65.55 L75.00,65.26 L74.50,64.97 L74.00,64.69 L73.50,64.39 L73.00,64.10 L72.50,63.80 L72.00,63.50 L71.50,63.19 L71.00,62.88 L70.50,62.56 L70.00,62.24 L69.50,61.92 L69.00,61.60 L68.50,61.27 L68.00,60.95 L67.50,60.61 L67.00,60.28 L66.50,59.94 L66.00,59.59 L65.50,59.23 L65.00,58.87 L64.50,58.50 L64.00,58.12 L63.50,57.73 L63.00,57.33 L62.50,56.91 L62.00,56.48 L61.50,56.04 L61.00,55.59 L60.50,55.12 L60.00,54.64Z" fill="#ffffff" opacity="0.2"/>
<polyline points="53.00,46.70 54.00,48.11 55.00,49.40 56.00,50.58 57.00,51.71 58.00,52.80 59.00,53.85 60.00,54.84 61.00,55.80 62.00,56.70 63.00,57.55 64.00,58.35 65.00,59.12 66.00,59.85 67.00,60.55 68.00,61.22 69.00,61.89 70.00,62.54 71.00,63.19 72.00,63.81 73.00,64.42 74.00,65.02 75.00,65.61 76.00,66.19 77.00,66.77 78.00,67.35 79.00,67.94 80.00,68.54 81.00,69.13 82.00,69.72 83.00,70.29 84.00,70.83 85.00,71.35 86.00,71.84 87.00,72.31 88.00,72.77 89.00,73.22 90.00,73.65 91.00,74.08 92.00,74.49 93.00,74.90 94.00,75.30 95.00,75.70 96.00,76.09 97.00,76.48 98.00,76.86 99.00,77.24 100.00,77.61 101.00,77.97 102.00,78.32 103.00,78.66 104.00,78.98 105.00,79.30 106.00,79.60 107.00,79.89 108.00,80.17 109.00,80.44 110.00,80.70 111.00,80.96 112.00,81.22 113.00,81.48 114.00,81.74 115.00,82.00 116.00,82.27 117.00,82.53 118.00,82.80 119.00,83.06 120.00,83.33 121.00,83.60 122.00,83.86 123.00,84.13 124.00,84.39 125.00,84.66 126.00,84.92 127.00,85.19 128.00,85.45 129.00,85.71 130.00,85.97 131.00,86.23 132.00,86.49 133.00,86.75 134.00,87.00 135.00,87.26 136.00,87.51 137.00,87.76 138.00,88.01 139.00,88.26 140.00,88.50 141.00,88.75 142.00,89.00 143.00,89.25 144.00,89.50 145.00,89.76 146.00,90.02 147.00,90.27 148.00,90.53 149.00,90.78 150.00,91.03 151.00,91.27 152.00,91.51 153.00,91.74 154.00,91.96 155.00,92.18 156.00,92.38 157.00,92.58 158.00,92.77 159.00,92.94 160.00,93.10 161.00,93.25 162.00,93.39 163.00,93.52 164.00,93.65 165.00,93.77 166.00,93.89 167.00,94.00 168.00,94.11 169.00,94.22 170.00,94.32 171.00,94.42 172.00,94.52 173.00,94.62 174.00,94.73 175.00,94.83 176.00,94.94 177.00,95.05 178.00,95.16 179.00,95.28 180.00,95.40 181.00,95.53 182.00,95.66 183.00,95.79 184.00,95.92 185.00,96.06 186.00,96.19 187.00,96.33 188.00,96.47 189.00,96.61 190.00,96.75 191.00,96.90 192.00,97.04 193.00,97.18 194.00,97.32 195.00,97.47 196.00,97.61 197.00,97.75 198.00,97.89 199.00,98.03" fill="none" stroke="#72b846" stroke-width="0.9" opacity="1"/>
<polyline points="52.00,44.00 53.00,45.01 54.00,46.01 55.00,47.00 56.00,47.99 57.00,48.99 58.00,50.00 59.00,50.99 60.00,51.95 61.00,52.87 62.00,53.74 63.00,54.53 64.00,55.28 65.00,55.99 66.00,56.66 67.00,57.31 68.00,57.94 69.00,58.55 70.00,59.16 71.00,59.76 72.00,60.33 73.00,60.89 74.00,61.44 75.00,61.98 76.00,62.51 77.00,63.05 78.00,63.60 79.00,64.17 80.00,64.76 81.00,65.35 82.00,65.93 83.00,66.49 84.00,67.02 85.00,67.50 86.00,67.94 87.00,68.35 88.00,68.73 89.00,69.11 90.00,69.46 91.00,69.81 92.00,70.16 93.00,70.50 94.00,70.85 95.00,71.20 96.00,71.56 97.00,71.92 98.00,72.29 99.00,72.65 100.00,73.01 101.00,73.37 102.00,73.71 103.00,74.05 104.00,74.38 105.00,74.70 106.00,75.01 107.00,75.31 108.00,75.60 109.00,75.89 110.00,76.17 111.00,76.44 112.00,76.71 113.00,76.98 114.00,77.24 115.00,77.50 116.00,77.76 117.00,78.01 118.00,78.26 119.00,78.51 120.00,78.75 121.00,79.00 122.00,79.24 123.00,79.48 124.00,79.71 125.00,79.95 126.00,80.18 127.00,80.41 128.00,80.64 129.00,80.87 130.00,81.09 131.00,81.32 132.00,81.54 133.00,81.77 134.00,81.99 135.00,82.21 136.00,82.43 137.00,82.65 138.00,82.86 139.00,83.08 140.00,83.30 141.00,83.52 142.00,83.74 143.00,83.97 144.00,84.19 145.00,84.42 146.00,84.65 147.00,84.88 148.00,85.10 149.00,85.33 150.00,85.55 151.00,85.76 152.00,85.97 153.00,86.18 154.00,86.38 155.00,86.57 156.00,86.76 157.00,86.93 158.00,87.10 159.00,87.26 160.00,87.40 161.00,87.54 162.00,87.66 163.00,87.78 164.00,87.90 165.00,88.01 166.00,88.12 167.00,88.22 168.00,88.32 169.00,88.41 170.00,88.51 171.00,88.60 172.00,88.69 173.00,88.79 174.00,88.88 175.00,88.98 176.00,89.07 177.00,89.18 178.00,89.28 179.00,89.39 180.00,89.50 181.00,89.62 182.00,89.74 183.00,89.86 184.00,89.98 185.00,90.11 186.00,90.23 187.00,90.36 188.00,90.49 189.00,90.62 190.00,90.75 191.00,90.88 192.00,91.02 193.00,91.15 194.00,91.28 195.00,91.41 196.00,91.54 197.00,91.68 198.00,91.81 199.00,91.94" fill="none" stroke="#1d3a10" stroke-width="0.6" opacity="0.5"/>
<circle cx="52.3" cy="44.6" r="2" fill="#72b846"/>
<path d="M52.20,47.59 L52.70,50.71 L53.20,52.76 L53.70,54.83 L54.20,56.47 L54.70,58.06 L55.20,59.34 L55.70,60.46 L56.20,60.76 L56.70,61.11 L57.20,61.73 L57.70,62.12 L58.20,62.87 L58.70,63.56 L59.20,63.89 L59.70,64.47 L60.20,64.83 L60.70,66.17 L61.20,66.40 L61.70,67.29 L62.20,67.40 L62.70,68.06 L63.20,69.05 L63.70,69.52 L64.20,69.38 L64.70,70.59 L65.20,70.84 L65.70,71.16 L66.20,71.96 L66.70,72.49 L67.20,72.20 L67.70,72.92 L68.20,73.62 L68.70,73.74 L69.20,73.92 L69.70,73.90 L70.20,74.35 L70.70,74.95 L71.20,74.80 L71.70,75.46 L72.20,75.28 L72.70,75.84 L73.20,75.94 L73.70,76.30 L74.20,76.24 L74.70,76.92 L75.20,77.01 L75.70,76.62 L76.20,77.32 L76.70,76.92 L77.20,77.20 L77.70,77.26 L78.20,77.60 L78.70,77.40 L79.20,77.64 L79.70,78.08 L80.20,78.33 L80.70,78.26 L81.20,78.80 L81.70,78.85 L82.20,78.53 L82.70,78.75 L83.20,79.07 L83.70,78.99 L84.20,79.49 L84.70,79.20 L85.20,79.38 L85.70,79.43 L86.20,79.47 L86.70,80.24 L87.20,80.20 L87.70,80.45 L88.20,79.94 L88.70,80.48 L89.20,80.50 L89.70,80.35 L90.20,80.26 L90.70,80.44 L91.20,81.06 L91.70,81.16 L92.20,80.76 L92.70,81.23 L93.20,80.71 L93.70,81.07 L94.20,81.03 L94.70,81.71 L95.20,81.45 L95.70,81.87 L96.20,81.43 L96.70,82.29 L97.20,82.31 L97.70,82.15 L98.20,82.82 L98.70,82.43 L99.20,82.65 L99.70,82.58 L100.20,83.48 L100.70,83.68 L101.20,83.28 L101.70,84.02 L102.20,83.73 L102.70,83.91 L103.20,84.46 L103.70,84.50 L104.20,84.65 L104.70,84.61 L105.20,84.51 L105.70,85.01 L106.20,84.68 L106.70,84.84 L107.20,84.80 L107.70,85.17 L108.20,85.75 L108.70,85.39 L109.20,85.39 L109.70,86.03 L110.20,85.80 L110.70,86.26 L111.20,86.52 L111.70,86.62 L112.20,86.93 L112.70,86.89 L113.20,87.21 L113.70,86.99 L114.20,87.10 L114.70,87.63 L115.20,87.67 L115.70,87.94 L116.20,88.37 L116.70,88.70 L117.20,88.47 L117.70,88.94 L118.20,88.47 L118.70,88.71 L119.20,89.58 L119.70,89.72 L120.20,89.86 L120.70,89.56 L121.20,90.29 L121.70,90.20 L122.20,90.08 L122.70,90.21 L123.20,90.48 L123.70,90.99 L124.20,90.66 L124.70,91.37 L125.20,91.26 L125.70,91.82 L126.20,91.41 L126.70,91.85 L127.20,92.22 L127.70,92.01 L128.20,92.38 L128.70,92.46 L129.20,92.63 L129.70,92.83 L130.20,93.40 L130.70,93.16 L131.20,93.60 L131.70,93.17 L132.20,93.65 L132.70,93.77 L133.20,93.94 L133.70,93.71 L134.20,94.33 L134.70,94.00 L135.20,94.32 L135.70,94.24 L136.20,94.64 L136.70,94.40 L137.20,95.05 L137.70,94.67 L138.20,95.36 L138.70,95.10 L139.20,95.57 L139.70,95.68 L140.20,95.75 L140.70,95.87 L141.20,95.75 L141.70,96.29 L142.20,96.03 L142.70,96.51 L143.20,96.45 L143.70,97.20 L144.20,96.92 L144.70,97.76 L145.20,98.08 L145.70,98.14 L146.20,98.39 L146.70,98.44 L147.20,98.64 L147.70,98.82 L148.20,98.61 L148.70,99.10 L149.20,99.43 L149.70,99.28 L150.20,99.39 L150.70,99.20 L151.20,99.26 L151.70,99.67 L152.20,99.85 L152.70,100.01 L153.20,99.91 L153.70,99.98 L154.20,100.42 L154.70,100.42 L155.20,100.41 L155.70,100.08 L156.20,100.41 L156.70,100.85 L157.20,100.86 L157.70,100.39 L158.20,101.05 L158.70,101.28 L159.20,101.33 L159.70,101.20 L160.20,101.08 L160.70,101.44 L161.20,101.18 L161.70,101.41 L162.20,101.95 L162.70,101.66 L163.20,101.74 L163.70,102.29 L164.20,102.60 L164.70,102.49 L165.20,102.24 L165.70,102.78 L166.20,103.04 L166.70,103.31 L167.20,102.93 L167.70,103.12 L168.20,103.47 L168.70,103.65 L169.20,103.62 L169.70,103.69 L170.20,103.58 L170.70,103.46 L171.20,104.03 L171.70,104.05 L172.20,103.84 L172.70,104.37 L173.20,103.95 L173.70,104.14 L174.20,104.34 L174.70,104.74 L175.20,104.88 L175.70,104.60 L176.20,104.79 L176.70,104.78 L177.20,105.51 L177.70,105.24 L178.20,105.03 L178.70,105.57 L179.20,105.74 L179.70,106.07 L180.20,105.62 L180.70,105.55 L181.20,105.93 L181.70,105.74 L182.20,105.79 L182.70,106.62 L183.20,106.11 L183.70,106.43 L184.20,106.75 L184.70,106.41 L185.20,106.27 L185.70,106.91 L186.20,106.34 L186.70,106.99 L187.20,107.03 L187.70,106.66 L188.20,106.71 L188.70,106.83 L189.20,107.15 L189.70,107.20 L190.20,107.11 L190.70,107.33 L191.20,106.94 L191.70,107.53 L192.20,107.50 L192.70,107.03 L193.20,107.44 L193.70,107.47 L194.20,107.61 L194.70,107.12 L195.20,107.46 L195.70,107.51 L196.20,107.38 L196.70,107.59 L197.20,107.41 L197.70,107.54 L198.20,107.29 L198.70,107.21 L199.20,107.29 L199.20,111.39 L198.70,112.06 L198.20,111.80 L197.70,111.51 L197.20,111.81 L196.70,111.88 L196.20,111.84 L195.70,111.91 L195.20,111.65 L194.70,111.79 L194.20,111.30 L193.70,111.26 L193.20,111.72 L192.70,111.12 L192.20,110.91 L191.70,111.04 L191.20,111.34 L190.70,111.21 L190.20,111.10 L189.70,110.92 L189.20,111.35 L188.70,111.23 L188.20,110.62 L187.70,110.63 L187.20,110.86 L186.70,110.82 L186.20,111.08 L185.70,110.92 L185.20,111.00 L184.70,110.47 L184.20,110.30 L183.70,110.61 L183.20,110.51 L182.70,110.06 L182.20,110.31 L181.70,110.41 L181.20,109.90 L180.70,110.05 L180.20,110.26 L179.70,110.03 L179.20,109.71 L178.70,109.54 L178.20,109.69 L177.70,109.29 L177.20,109.61 L176.70,109.40 L176.20,108.91 L175.70,109.45 L175.20,108.98 L174.70,108.67 L174.20,108.88 L173.70,108.61 L173.20,108.51 L172.70,108.15 L172.20,108.23 L171.70,108.67 L171.20,108.21 L170.70,107.90 L170.20,107.70 L169.70,108.14 L169.20,108.31 L168.70,107.65 L168.20,107.40 L167.70,107.42 L167.20,107.81 L166.70,107.58 L166.20,107.25 L165.70,107.27 L165.20,107.67 L164.70,107.50 L164.20,107.16 L163.70,106.92 L163.20,106.98 L162.70,107.10 L162.20,107.11 L161.70,107.06 L161.20,106.37 L160.70,106.40 L160.20,106.27 L159.70,106.71 L159.20,106.00 L158.70,106.02 L158.20,105.84 L157.70,105.90 L157.20,106.27 L156.70,105.57 L156.20,106.10 L155.70,106.03 L155.20,105.80 L154.70,105.85 L154.20,105.07 L153.70,105.18 L153.20,104.83 L152.70,105.32 L152.20,104.67 L151.70,104.55 L151.20,104.77 L150.70,104.66 L150.20,104.30 L149.70,104.24 L149.20,104.60 L148.70,104.04 L148.20,104.21 L147.70,103.91 L147.20,103.91 L146.70,103.64 L146.20,103.18 L145.70,103.12 L145.20,102.51 L144.70,102.17 L144.20,102.31 L143.70,102.29 L143.20,101.50 L142.70,101.34 L142.20,101.10 L141.70,100.69 L141.20,101.01 L140.70,100.32 L140.20,100.12 L139.70,100.35 L139.20,100.04 L138.70,99.66 L138.20,100.29 L137.70,99.51 L137.20,100.08 L136.70,99.61 L136.20,99.86 L135.70,99.25 L135.20,99.33 L134.70,99.32 L134.20,99.44 L133.70,99.04 L133.20,98.60 L132.70,99.05 L132.20,98.87 L131.70,98.80 L131.20,98.10 L130.70,97.96 L130.20,98.46 L129.70,97.85 L129.20,97.83 L128.70,97.99 L128.20,97.31 L127.70,97.49 L127.20,96.86 L126.70,97.09 L126.20,96.58 L125.70,96.79 L125.20,96.37 L124.70,96.20 L124.20,96.16 L123.70,95.91 L123.20,96.06 L122.70,95.59 L122.20,95.56 L121.70,95.59 L121.20,95.01 L120.70,95.38 L120.20,94.95 L119.70,94.72 L119.20,94.71 L118.70,94.23 L118.20,94.14 L117.70,94.46 L117.20,94.20 L116.70,93.45 L116.20,93.70 L115.70,93.18 L115.20,93.60 L114.70,92.89 L114.20,93.15 L113.70,92.45 L113.20,92.24 L112.70,92.20 L112.20,91.96 L111.70,91.65 L111.20,92.06 L110.70,91.76 L110.20,91.40 L109.70,91.28 L109.20,91.17 L108.70,90.70 L108.20,91.29 L107.70,91.15 L107.20,90.68 L106.70,90.16 L106.20,90.58 L105.70,89.91 L105.20,90.01 L104.70,89.85 L104.20,90.07 L103.70,89.91 L103.20,89.32 L102.70,89.42 L102.20,89.08 L101.70,89.48 L101.20,88.93 L100.70,88.40 L100.20,88.72 L99.70,88.64 L99.20,88.08 L98.70,88.26 L98.20,88.00 L97.70,87.56 L97.20,87.89 L96.70,87.22 L96.20,86.91 L95.70,86.75 L95.20,87.23 L94.70,86.48 L94.20,86.63 L93.70,86.96 L93.20,86.50 L92.70,86.36 L92.20,86.57 L91.70,85.98 L91.20,85.82 L90.70,85.91 L90.20,85.54 L89.70,85.71 L89.20,85.65 L88.70,85.28 L88.20,85.91 L87.70,85.32 L87.20,85.75 L86.70,85.55 L86.20,85.05 L85.70,84.66 L85.20,85.27 L84.70,84.68 L84.20,84.98 L83.70,84.40 L83.20,84.06 L82.70,84.51 L82.20,84.19 L81.70,83.59 L81.20,83.48 L80.70,83.22 L80.20,83.48 L79.70,82.88 L79.20,82.89 L78.70,82.42 L78.20,82.99 L77.70,82.31 L77.20,82.52 L76.70,81.88 L76.20,82.30 L75.70,81.82 L75.20,81.87 L74.70,81.87 L74.20,81.57 L73.70,81.04 L73.20,81.02 L72.70,81.10 L72.20,80.47 L71.70,80.74 L71.20,80.14 L70.70,79.93 L70.20,80.15 L69.70,79.75 L69.20,79.26 L68.70,79.10 L68.20,78.72 L67.70,78.33 L67.20,77.53 L66.70,77.21 L66.20,77.28 L65.70,76.90 L65.20,75.68 L64.70,75.57 L64.20,75.24 L63.70,74.16 L63.20,74.28 L62.70,73.42 L62.20,72.70 L61.70,72.09 L61.20,71.82 L60.70,70.80 L60.20,70.29 L59.70,69.71 L59.20,69.24 L58.70,68.54 L58.20,68.36 L57.70,67.34 L57.20,66.71 L56.70,66.18 L56.20,65.63 L55.70,65.63 L55.20,64.18 L54.70,63.63 L54.20,61.38 L53.70,59.48 L53.20,57.05 L52.70,54.34 L52.20,51.44Z" fill="#2d4d8a" opacity="1"/>
<path d="M52.40,48.53V52.99M53.30,52.53V57.55M54.20,57.07V61.83M55.10,59.13V65.02M56.00,59.90V66.17M56.90,61.11V67.33M57.80,62.58V67.92M58.70,63.49V69.59M59.60,64.73V70.58M60.50,65.81V71.51M61.40,66.51V72.19M62.30,66.79V72.66M63.20,68.97V75.02M64.10,69.26V74.73M65.00,69.46V76.95M65.90,71.64V77.00M66.80,72.37V77.59M67.70,72.34V78.05M68.60,72.88V78.53M69.50,74.26V80.26M70.40,74.45V80.18M71.30,74.64V80.73M72.20,75.39V80.49M73.10,75.28V82.27M74.00,75.25V82.15M74.90,76.46V81.98M75.80,76.20V82.67M76.70,77.28V82.24M77.60,77.13V82.87M78.50,76.73V83.11M79.40,78.16V83.87M80.30,77.86V83.72M81.20,78.47V83.90M82.10,78.52V84.72M83.00,79.23V84.70M83.90,79.38V85.20M84.80,79.83V84.83M85.70,79.57V85.60M86.60,80.20V85.54M87.50,80.13V85.46M88.40,79.88V86.68M89.30,80.02V86.85M90.20,80.66V86.98M91.10,80.50V86.01M92.00,80.06V87.30M92.90,81.39V86.48M93.80,80.38V86.79M94.70,81.41V86.48M95.60,81.96V87.66M96.50,80.75V88.52M97.40,81.78V87.29M98.30,82.37V88.78M99.20,81.89V88.87M100.10,83.15V89.01M101.00,83.07V89.47M101.90,83.70V90.27M102.80,82.99V89.32M103.70,84.19V90.69M104.60,84.46V91.04M105.50,84.32V90.89M106.40,84.26V90.37M107.30,85.15V90.67M108.20,84.76V91.59M109.10,85.87V92.14M110.00,85.68V91.39M110.90,85.94V92.83M111.80,86.04V92.57M112.70,85.79V93.41M113.60,86.36V92.88M114.50,86.96V93.97M115.40,86.98V93.80M116.30,88.00V93.80M117.20,87.73V94.43M118.10,89.17V94.98M119.00,88.11V95.43M119.90,88.45V95.91M120.80,89.35V96.03M121.70,89.92V95.26M122.60,90.30V95.89M123.50,89.76V96.74M124.40,90.68V96.92M125.30,91.63V97.06M126.20,91.10V97.11M127.10,92.08V97.39M128.00,92.27V98.05M128.90,92.84V97.46M129.80,92.89V98.58M130.70,92.55V98.78M131.60,92.57V98.61M132.50,94.10V99.02M133.40,93.75V98.83M134.30,93.65V99.27M135.20,94.44V99.44M136.10,93.63V99.16M137.00,94.62V99.71M137.90,95.02V100.10M138.80,95.18V100.98M139.70,95.01V100.88M140.60,95.73V100.81M141.50,95.44V101.69M142.40,96.35V101.57M143.30,95.95V102.58M144.20,97.32V102.67M145.10,97.03V102.97M146.00,97.59V103.83M146.90,97.54V104.10M147.80,98.26V104.14M148.70,98.40V104.36M149.60,98.93V104.64M150.50,99.38V104.51M151.40,99.65V105.30M152.30,99.76V104.72M153.20,99.06V105.24M154.10,99.00V105.87M155.00,99.98V106.45M155.90,99.38V105.79M156.80,100.73V106.45M157.70,99.84V106.56M158.60,100.14V106.43M159.50,100.60V106.36M160.40,101.13V106.68M161.30,101.39V106.86M162.20,101.01V106.68M163.10,102.09V106.95M164.00,101.26V107.46M164.90,102.75V108.02M165.80,101.87V108.13M166.70,102.78V108.15M167.60,103.07V107.52M168.50,102.56V108.55M169.40,103.60V108.75M170.30,104.03V108.18M171.20,104.23V108.17M172.10,104.22V109.00M173.00,104.25V108.52M173.90,104.58V108.83M174.80,103.95V109.36M175.70,105.07V109.62M176.60,104.74V109.51M177.50,104.94V109.92M178.40,104.81V109.91M179.30,105.19V110.03M180.20,105.37V110.10M181.10,105.80V110.40M182.00,105.61V110.27M182.90,105.51V110.66M183.80,105.73V111.02M184.70,105.74V111.13M185.60,106.47V110.92M186.50,106.35V111.41M187.40,106.17V110.78M188.30,107.15V110.83M189.20,107.19V110.85M190.10,107.34V111.14M191.00,107.28V111.72M191.90,106.75V112.11M192.80,106.39V111.92M193.70,106.45V111.14M194.60,107.35V112.26M195.50,107.10V111.47M196.40,106.81V111.78M197.30,107.12V111.72M198.20,107.53V111.51M199.10,107.14V112.61" stroke="#2d4d8a" stroke-width="0.7" opacity="0.9" fill="none"/>
<path d="M51.3,54.2 L55.7,54.2 L53.5,50.2 Z" fill="#2d4d8a"/>
<polyline points="54.00,57.62 55.00,60.70 56.00,62.30 57.00,63.45 58.00,64.43 59.00,65.54 60.00,66.78 61.00,68.01 62.00,69.21 63.00,70.33 64.00,71.41 65.00,72.43 66.00,73.37 67.00,74.20 68.00,74.96 69.00,75.66 70.00,76.28 71.00,76.82 72.00,77.31 73.00,77.75 74.00,78.13 75.00,78.44 76.00,78.70 77.00,78.94 78.00,79.20 79.00,79.50 80.00,79.82 81.00,80.16 82.00,80.50 83.00,80.83 84.00,81.13 85.00,81.40 86.00,81.63 87.00,81.85 88.00,82.04 89.00,82.22 90.00,82.40 91.00,82.57 92.00,82.76 93.00,82.95 94.00,83.16 95.00,83.40 96.00,83.67 97.00,83.98 98.00,84.31 99.00,84.66 100.00,85.01 101.00,85.36 102.00,85.68 103.00,85.99 104.00,86.27 105.00,86.54 106.00,86.80 107.00,87.05 108.00,87.32 109.00,87.59 110.00,87.88 111.00,88.19 112.00,88.52 113.00,88.87 114.00,89.24 115.00,89.61 116.00,89.98 117.00,90.34 118.00,90.70 119.00,91.05 120.00,91.41 121.00,91.76 122.00,92.11 123.00,92.46 124.00,92.81 125.00,93.14 126.00,93.46 127.00,93.78 128.00,94.10 129.00,94.42 130.00,94.72 131.00,95.02 132.00,95.30 133.00,95.57 134.00,95.82 135.00,96.04 136.00,96.23 137.00,96.42 138.00,96.62 139.00,96.84 140.00,97.09 141.00,97.40 142.00,97.82 143.00,98.32 144.00,98.86 145.00,99.41 146.00,99.92 147.00,100.36 148.00,100.70 149.00,100.95 150.00,101.17 151.00,101.36 152.00,101.54 153.00,101.71 154.00,101.88 155.00,102.05 156.00,102.24 157.00,102.44 158.00,102.64 159.00,102.84 160.00,103.05 161.00,103.25 162.00,103.46 163.00,103.66 164.00,103.87 165.00,104.07 166.00,104.28 167.00,104.48 168.00,104.68 169.00,104.88 170.00,105.07 171.00,105.26 172.00,105.45 173.00,105.65 174.00,105.85 175.00,106.05 176.00,106.25 177.00,106.46 178.00,106.66 179.00,106.85 180.00,107.04 181.00,107.22 182.00,107.39 183.00,107.55 184.00,107.70 185.00,107.83 186.00,107.95 187.00,108.05 188.00,108.14 189.00,108.22 190.00,108.30 191.00,108.37 192.00,108.43 193.00,108.49 194.00,108.56 195.00,108.61 196.00,108.67 197.00,108.73 198.00,108.80 199.00,108.86" fill="none" stroke="#dfe6f2" stroke-width="0.5" opacity="0.6"/>
<path d="M48.7,133.10 H51.8" stroke="#050505" stroke-width="1"/>
<text x="45.20" y="135.70" font-size="8.5" text-anchor="end" font-weight="normal" fill="#1a1a1a" class="h">0</text>
<path d="M48.7,115.36 H51.8" stroke="#050505" stroke-width="1"/>
<text x="45.20" y="117.96" font-size="8.5" text-anchor="end" font-weight="normal" fill="#1a1a1a" class="h">20</text>
<path d="M48.7,97.62 H51.8" stroke="#050505" stroke-width="1"/>
<text x="45.20" y="100.22" font-size="8.5" text-anchor="end" font-weight="normal" fill="#1a1a1a" class="h">40</text>
<path d="M48.7,79.88 H51.8" stroke="#050505" stroke-width="1"/>
<text x="45.20" y="82.48" font-size="8.5" text-anchor="end" font-weight="normal" fill="#1a1a1a" class="h">60</text>
<path d="M48.7,62.14 H51.8" stroke="#050505" stroke-width="1"/>
<text x="45.20" y="64.74" font-size="8.5" text-anchor="end" font-weight="normal" fill="#1a1a1a" class="h">80</text>
<path d="M48.7,44.40 H51.8" stroke="#050505" stroke-width="1"/>
<text x="45.20" y="47.00" font-size="8.5" text-anchor="end" font-weight="normal" fill="#1a1a1a" class="h">100</text>
<path d="M52.10,133.3 V136.4" stroke="#050505" stroke-width="1"/>
<text font-size="8.8" text-anchor="end" fill="#000" transform="translate(53.50,140.90) rotate(-45) scale(0.85,1.05)" dy="3.0">0</text>
<path d="M61.29,133.3 V136.4" stroke="#050505" stroke-width="1"/>
<text font-size="8.8" text-anchor="end" fill="#000" transform="translate(62.69,140.90) rotate(-45) scale(0.85,1.05)" dy="3.0">3</text>
<path d="M70.48,133.3 V136.4" stroke="#050505" stroke-width="1"/>
<text font-size="8.8" text-anchor="end" fill="#000" transform="translate(71.88,140.90) rotate(-45) scale(0.85,1.05)" dy="3.0">6</text>
<path d="M79.67,133.3 V136.4" stroke="#050505" stroke-width="1"/>
<text font-size="8.8" text-anchor="end" fill="#000" transform="translate(81.07,140.90) rotate(-45) scale(0.85,1.05)" dy="3.0">9</text>
<path d="M88.86,133.3 V136.4" stroke="#050505" stroke-width="1"/>
<text font-size="8.8" text-anchor="end" fill="#000" transform="translate(90.26,140.90) rotate(-45) scale(0.85,1.05)" dy="3.0">12</text>
<path d="M98.04,133.3 V136.4" stroke="#050505" stroke-width="1"/>
<text font-size="8.8" text-anchor="end" fill="#000" transform="translate(99.44,140.90) rotate(-45) scale(0.85,1.05)" dy="3.0">15</text>
<path d="M107.23,133.3 V136.4" stroke="#050505" stroke-width="1"/>
<text font-size="8.8" text-anchor="end" fill="#000" transform="translate(108.63,140.90) rotate(-45) scale(0.85,1.05)" dy="3.0">18</text>
<path d="M116.42,133.3 V136.4" stroke="#050505" stroke-width="1"/>
<text font-size="8.8" text-anchor="end" fill="#000" transform="translate(117.82,140.90) rotate(-45) scale(0.85,1.05)" dy="3.0">21</text>
<path d="M125.61,133.3 V136.4" stroke="#050505" stroke-width="1"/>
<text font-size="8.8" text-anchor="end" fill="#000" transform="translate(127.01,140.90) rotate(-45) scale(0.85,1.05)" dy="3.0">24</text>
<path d="M134.80,133.3 V136.4" stroke="#050505" stroke-width="1"/>
<text font-size="8.8" text-anchor="end" fill="#000" transform="translate(136.20,140.90) rotate(-45) scale(0.85,1.05)" dy="3.0">27</text>
<path d="M143.99,133.3 V136.4" stroke="#050505" stroke-width="1"/>
<text font-size="8.8" text-anchor="end" fill="#000" transform="translate(145.39,140.90) rotate(-45) scale(0.85,1.05)" dy="3.0">30</text>
<path d="M153.18,133.3 V136.4" stroke="#050505" stroke-width="1"/>
<text font-size="8.8" text-anchor="end" fill="#000" transform="translate(154.58,140.90) rotate(-45) scale(0.85,1.05)" dy="3.0">33</text>
<path d="M162.37,133.3 V136.4" stroke="#050505" stroke-width="1"/>
<text font-size="8.8" text-anchor="end" fill="#000" transform="translate(163.77,140.90) rotate(-45) scale(0.85,1.05)" dy="3.0">36</text>
<path d="M171.56,133.3 V136.4" stroke="#050505" stroke-width="1"/>
<text font-size="8.8" text-anchor="end" fill="#000" transform="translate(172.96,140.90) rotate(-45) scale(0.85,1.05)" dy="3.0">39</text>
<path d="M180.75,133.3 V136.4" stroke="#050505" stroke-width="1"/>
<text font-size="8.8" text-anchor="end" fill="#000" transform="translate(182.15,140.90) rotate(-45) scale(0.85,1.05)" dy="3.0">42</text>
<path d="M189.94,133.3 V136.4" stroke="#050505" stroke-width="1"/>
<text font-size="8.8" text-anchor="end" fill="#000" transform="translate(191.34,140.90) rotate(-45) scale(0.85,1.05)" dy="3.0">45</text>
<text class="h" font-size="10" text-anchor="middle" fill="#1a1a1a" transform="translate(125.00,162.7) scale(0.7,1)">Time (hours)</text>
<text class="h" font-size="9.2" text-anchor="middle" fill="#1a1a1a" transform="translate(25.20,84.2) rotate(-90) scale(0.76,1)">%viable cells</text>
<text x="334.00" y="30.00" font-size="10" text-anchor="middle" font-weight="normal" fill="#1a1a1a" >THP-1 targets</text>
<path d="M260.6,36 V133.3 M260.0,133.3 H407.0" stroke="#050505" stroke-width="1.2" fill="none"/>
<path d="M261.00,39.36 L261.50,39.87 L262.00,39.53 L262.50,39.42 L263.00,39.36 L263.50,39.38 L264.00,39.79 L264.50,39.76 L265.00,39.81 L265.50,39.85 L266.00,39.46 L266.50,39.78 L267.00,39.66 L267.50,39.94 L268.00,39.95 L268.50,40.01 L269.00,39.52 L269.50,40.02 L270.00,40.06 L270.50,40.09 L271.00,39.60 L271.50,39.67 L272.00,39.62 L272.50,39.59 L273.00,40.09 L273.50,40.08 L274.00,39.98 L274.50,40.11 L275.00,40.00 L275.50,39.81 L276.00,39.71 L276.50,39.72 L277.00,40.13 L277.50,39.81 L278.00,39.89 L278.50,39.97 L279.00,39.74 L279.50,39.90 L280.00,39.93 L280.50,40.22 L281.00,40.03 L281.50,40.02 L282.00,40.44 L282.50,40.19 L283.00,40.42 L283.50,40.31 L284.00,39.99 L284.50,40.25 L285.00,40.30 L285.50,40.54 L286.00,40.32 L286.50,40.57 L287.00,40.51 L287.50,40.35 L288.00,40.78 L288.50,40.36 L289.00,40.84 L289.50,40.49 L290.00,40.43 L290.50,40.60 L291.00,40.98 L291.50,41.16 L292.00,40.62 L292.50,40.96 L293.00,41.00 L293.50,41.24 L294.00,40.92 L294.50,41.15 L295.00,41.11 L295.50,41.45 L296.00,41.16 L296.50,41.62 L297.00,41.27 L297.50,41.28 L298.00,41.62 L298.50,41.55 L299.00,41.37 L299.50,41.74 L300.00,41.46 L300.50,41.94 L301.00,41.94 L301.50,42.05 L302.00,42.01 L302.50,41.91 L303.00,42.00 L303.50,42.05 L304.00,42.41 L304.50,41.99 L305.00,42.53 L305.50,42.08 L306.00,42.25 L306.50,42.35 L307.00,42.80 L307.50,42.62 L308.00,42.61 L308.50,42.98 L309.00,42.65 L309.50,42.85 L310.00,42.96 L310.50,43.16 L311.00,43.22 L311.50,43.22 L312.00,43.10 L312.50,43.15 L313.00,43.11 L313.50,43.59 L314.00,43.54 L314.50,43.65 L315.00,43.36 L315.50,43.58 L316.00,43.84 L316.50,43.78 L317.00,43.57 L317.50,43.82 L318.00,44.13 L318.50,43.80 L319.00,43.82 L319.50,43.94 L320.00,44.23 L320.50,44.37 L321.00,44.01 L321.50,44.06 L322.00,44.17 L322.50,44.26 L323.00,44.43 L323.50,44.27 L324.00,44.42 L324.50,44.38 L325.00,44.90 L325.50,44.81 L326.00,44.48 L326.50,45.04 L327.00,44.58 L327.50,44.79 L328.00,45.20 L328.50,45.14 L329.00,45.15 L329.50,45.01 L330.00,44.92 L330.50,45.23 L331.00,44.96 L331.50,45.06 L332.00,45.22 L332.50,45.05 L333.00,45.31 L333.50,45.59 L334.00,45.58 L334.50,45.51 L335.00,45.63 L335.50,45.57 L336.00,45.42 L336.50,45.74 L337.00,45.66 L337.50,45.90 L338.00,46.04 L338.50,45.80 L339.00,45.92 L339.50,46.07 L340.00,45.91 L340.50,45.83 L341.00,46.16 L341.50,46.29 L342.00,46.26 L342.50,46.25 L343.00,46.38 L343.50,46.31 L344.00,46.32 L344.50,46.24 L345.00,46.18 L345.50,46.40 L346.00,46.11 L346.50,46.34 L347.00,46.59 L347.50,46.57 L348.00,46.55 L348.50,46.35 L349.00,46.49 L349.50,46.53 L350.00,46.66 L350.50,46.56 L351.00,46.75 L351.50,46.93 L352.00,46.51 L352.50,46.83 L353.00,46.93 L353.50,46.72 L354.00,46.81 L354.50,47.13 L355.00,46.60 L355.50,46.93 L356.00,46.74 L356.50,47.14 L357.00,47.27 L357.50,47.04 L358.00,46.83 L358.50,47.14 L359.00,47.16 L359.50,47.30 L360.00,47.21 L360.50,47.32 L361.00,47.47 L361.50,47.32 L362.00,47.29 L362.50,47.64 L363.00,47.23 L363.50,47.55 L364.00,47.41 L364.50,47.67 L365.00,47.32 L365.50,47.87 L366.00,47.52 L366.50,47.38 L367.00,47.54 L367.50,47.65 L368.00,47.45 L368.50,47.73 L369.00,47.76 L369.50,47.96 L370.00,47.79 L370.50,47.77 L371.00,47.78 L371.50,48.12 L372.00,48.27 L372.50,48.06 L373.00,47.91 L373.50,48.29 L374.00,48.08 L374.50,48.00 L375.00,47.98 L375.50,48.40 L376.00,48.46 L376.50,48.38 L377.00,48.32 L377.50,48.40 L378.00,48.23 L378.50,48.71 L379.00,48.37 L379.50,48.58 L380.00,48.72 L380.50,48.75 L381.00,48.57 L381.50,48.50 L382.00,48.68 L382.50,48.46 L383.00,48.92 L383.50,48.66 L384.00,48.99 L384.50,48.67 L385.00,48.77 L385.50,48.73 L386.00,48.86 L386.50,48.75 L387.00,48.67 L387.50,49.13 L388.00,48.90 L388.50,48.91 L389.00,48.97 L389.50,49.11 L390.00,49.11 L390.50,49.27 L391.00,49.31 L391.50,49.17 L392.00,49.54 L392.50,49.53 L393.00,49.08 L393.50,49.57 L394.00,49.65 L394.50,49.61 L395.00,49.25 L395.50,49.70 L396.00,49.61 L396.50,49.27 L397.00,49.30 L397.50,49.90 L398.00,49.75 L398.50,49.54 L399.00,49.48 L399.50,49.54 L400.00,49.63 L400.50,49.98 L401.00,49.76 L401.50,49.67 L402.00,50.15 L402.50,50.12 L403.00,49.78 L403.50,50.24 L404.00,50.10 L404.50,50.24 L405.00,50.20 L405.50,50.37 L406.00,50.34 L406.50,50.40 L407.00,50.02 L407.50,50.32 L407.50,58.48 L407.00,58.78 L406.50,58.40 L406.00,58.39 L405.50,58.29 L405.00,58.39 L404.50,58.29 L404.00,58.36 L403.50,58.15 L403.00,58.55 L402.50,58.14 L402.00,58.04 L401.50,58.46 L401.00,58.31 L400.50,58.02 L400.00,58.31 L399.50,58.33 L399.00,58.32 L398.50,58.19 L398.00,57.92 L397.50,57.71 L397.00,58.24 L396.50,58.20 L396.00,57.80 L395.50,57.64 L395.00,58.02 L394.50,57.60 L394.00,57.50 L393.50,57.51 L393.00,57.94 L392.50,57.43 L392.00,57.35 L391.50,57.65 L391.00,57.44 L390.50,57.42 L390.00,57.51 L389.50,57.45 L389.00,57.52 L388.50,57.52 L388.00,57.47 L387.50,57.17 L387.00,57.57 L386.50,57.42 L386.00,57.25 L385.50,57.32 L385.00,57.21 L384.50,57.24 L384.00,56.86 L383.50,57.12 L383.00,56.80 L382.50,57.19 L382.00,56.90 L381.50,57.02 L381.00,56.88 L380.50,56.64 L380.00,56.60 L379.50,56.67 L379.00,56.81 L378.50,56.41 L378.00,56.82 L377.50,56.58 L377.00,56.60 L376.50,56.47 L376.00,56.33 L375.50,56.31 L375.00,56.66 L374.50,56.58 L374.00,56.43 L373.50,56.15 L373.00,56.47 L372.50,56.25 L372.00,55.96 L371.50,56.04 L371.00,56.32 L370.50,56.26 L370.00,56.17 L369.50,55.92 L369.00,56.05 L368.50,56.02 L368.00,56.22 L367.50,55.95 L367.00,55.99 L366.50,56.08 L366.00,55.86 L365.50,55.45 L365.00,55.93 L364.50,55.50 L364.00,55.69 L363.50,55.47 L363.00,55.72 L362.50,55.23 L362.00,55.52 L361.50,55.41 L361.00,55.18 L360.50,55.26 L360.00,55.29 L359.50,55.13 L359.00,55.19 L358.50,55.13 L358.00,55.37 L357.50,55.07 L357.00,54.77 L356.50,54.82 L356.00,55.14 L355.50,54.87 L355.00,55.12 L354.50,54.51 L354.00,54.75 L353.50,54.76 L353.00,54.47 L352.50,54.49 L352.00,54.72 L351.50,54.22 L351.00,54.32 L350.50,54.43 L350.00,54.25 L349.50,54.29 L349.00,54.25 L348.50,54.30 L348.00,54.02 L347.50,53.91 L347.00,53.82 L346.50,53.98 L346.00,54.12 L345.50,53.74 L345.00,53.87 L344.50,53.73 L344.00,53.57 L343.50,53.49 L343.00,53.33 L342.50,53.36 L342.00,53.26 L341.50,53.15 L341.00,53.19 L340.50,53.43 L340.00,53.26 L339.50,53.01 L339.00,53.06 L338.50,53.09 L338.00,52.76 L337.50,52.80 L337.00,52.95 L336.50,52.78 L336.00,53.01 L335.50,52.76 L335.00,52.61 L334.50,52.64 L334.00,52.47 L333.50,52.36 L333.00,52.54 L332.50,52.71 L332.00,52.45 L331.50,52.50 L331.00,52.51 L330.50,52.14 L330.00,52.35 L329.50,52.15 L329.00,51.92 L328.50,51.83 L328.00,51.66 L327.50,51.97 L327.00,52.08 L326.50,51.51 L326.00,51.97 L325.50,51.54 L325.00,51.34 L324.50,51.76 L324.00,51.62 L323.50,51.66 L323.00,51.38 L322.50,51.44 L322.00,51.43 L321.50,51.43 L321.00,51.37 L320.50,50.90 L320.00,50.92 L319.50,51.10 L319.00,51.11 L318.50,51.02 L318.00,50.57 L317.50,50.76 L317.00,50.90 L316.50,50.56 L316.00,50.38 L315.50,50.51 L315.00,50.60 L314.50,50.19 L314.00,50.17 L313.50,49.99 L313.00,50.33 L312.50,50.15 L312.00,50.07 L311.50,49.81 L311.00,49.68 L310.50,49.60 L310.00,49.66 L309.50,49.63 L309.00,49.69 L308.50,49.22 L308.00,49.45 L307.50,49.30 L307.00,48.98 L306.50,49.29 L306.00,49.25 L305.50,49.28 L305.00,48.68 L304.50,49.09 L304.00,48.53 L303.50,48.75 L303.00,48.67 L302.50,48.63 L302.00,48.39 L301.50,48.22 L301.00,48.20 L300.50,48.08 L300.00,48.43 L299.50,48.02 L299.00,48.27 L298.50,47.97 L298.00,47.78 L297.50,48.00 L297.00,47.89 L296.50,47.42 L296.00,47.75 L295.50,47.33 L295.00,47.55 L294.50,47.38 L294.00,47.48 L293.50,47.03 L293.00,47.13 L292.50,47.04 L292.00,47.25 L291.50,46.58 L291.00,46.62 L290.50,46.87 L290.00,46.91 L289.50,46.72 L289.00,46.25 L288.50,46.60 L288.00,46.06 L287.50,46.37 L287.00,46.09 L286.50,45.92 L286.00,46.06 L285.50,45.73 L285.00,45.86 L284.50,45.81 L284.00,45.97 L283.50,45.55 L283.00,45.36 L282.50,45.51 L282.00,45.18 L281.50,45.52 L281.00,45.45 L280.50,45.20 L280.00,45.42 L279.50,45.41 L279.00,45.52 L278.50,45.26 L278.00,45.31 L277.50,45.36 L277.00,45.02 L276.50,45.41 L276.00,45.40 L275.50,45.28 L275.00,45.06 L274.50,44.94 L274.00,45.05 L273.50,44.94 L273.00,44.91 L272.50,45.40 L272.00,45.35 L271.50,45.29 L271.00,45.35 L270.50,44.84 L270.00,44.86 L269.50,44.89 L269.00,45.37 L268.50,44.87 L268.00,44.92 L267.50,44.92 L267.00,45.19 L266.50,45.05 L266.00,45.37 L265.50,44.97 L265.00,44.99 L264.50,45.03 L264.00,44.99 L263.50,45.38 L263.00,45.39 L262.50,45.32 L262.00,45.20 L261.50,44.85 L261.00,45.34Z" fill="#c0113a" opacity="1"/>
<path d="M261.00,40.72 L261.50,40.85 L262.00,40.67 L262.50,40.94 L263.00,40.74 L263.50,40.57 L264.00,40.56 L264.50,40.50 L265.00,40.72 L265.50,40.46 L266.00,40.70 L266.50,40.51 L267.00,40.72 L267.50,40.73 L268.00,40.76 L268.50,40.95 L269.00,40.44 L269.50,40.94 L270.00,40.72 L270.50,40.78 L271.00,40.85 L271.50,40.95 L272.00,40.68 L272.50,40.71 L273.00,41.03 L273.50,40.51 L274.00,40.85 L274.50,40.85 L275.00,40.49 L275.50,40.84 L276.00,40.89 L276.50,41.04 L277.00,40.69 L277.50,41.08 L278.00,40.81 L278.50,40.80 L279.00,41.06 L279.50,40.55 L280.00,40.98 L280.50,40.94 L281.00,40.79 L281.50,41.13 L282.00,40.86 L282.50,40.96 L283.00,41.02 L283.50,41.20 L284.00,40.90 L284.50,41.08 L285.00,41.11 L285.50,41.23 L286.00,41.44 L286.50,41.17 L287.00,41.54 L287.50,41.34 L288.00,41.45 L288.50,41.36 L289.00,41.56 L289.50,41.90 L290.00,41.76 L290.50,41.91 L291.00,41.69 L291.50,41.74 L292.00,41.79 L292.50,42.03 L293.00,42.12 L293.50,42.28 L294.00,41.90 L294.50,42.37 L295.00,42.53 L295.50,42.40 L296.00,42.16 L296.50,42.38 L297.00,42.27 L297.50,42.45 L298.00,42.95 L298.50,42.83 L299.00,42.93 L299.50,43.08 L300.00,43.23 L300.50,43.13 L301.00,43.21 L301.50,43.30 L302.00,43.42 L302.50,43.44 L303.00,43.58 L303.50,43.38 L304.00,43.74 L304.50,43.71 L305.00,43.98 L305.50,43.67 L306.00,43.81 L306.50,43.81 L307.00,44.35 L307.50,44.52 L308.00,44.46 L308.50,44.38 L309.00,44.74 L309.50,44.81 L310.00,44.77 L310.50,44.68 L311.00,44.79 L311.50,44.95 L312.00,44.98 L312.50,45.13 L313.00,45.34 L313.50,45.60 L314.00,45.15 L314.50,45.54 L315.00,45.30 L315.50,45.43 L316.00,45.91 L316.50,45.85 L317.00,46.12 L317.50,45.90 L318.00,45.71 L318.50,45.99 L319.00,46.18 L319.50,46.45 L320.00,46.53 L320.50,46.29 L321.00,46.31 L321.50,46.18 L322.00,46.56 L322.50,46.36 L323.00,46.37 L323.50,46.35 L324.00,46.39 L324.50,46.85 L325.00,46.57 L325.50,47.13 L326.00,46.65 L326.50,47.17 L327.00,46.77 L327.50,46.76 L328.00,47.23 L328.50,46.99 L329.00,47.33 L329.50,47.05 L330.00,47.02 L330.50,47.50 L331.00,47.51 L331.50,47.64 L332.00,47.61 L332.50,47.27 L333.00,47.64 L333.50,47.73 L334.00,47.63 L334.50,47.95 L335.00,47.59 L335.50,48.06 L336.00,47.96 L336.50,47.58 L337.00,47.62 L337.50,48.05 L338.00,48.19 L338.50,47.79 L339.00,47.97 L339.50,48.26 L340.00,47.97 L340.50,48.42 L341.00,48.24 L341.50,48.02 L342.00,48.24 L342.50,48.41 L343.00,48.36 L343.50,48.54 L344.00,48.26 L344.50,48.68 L345.00,48.46 L345.50,48.66 L346.00,48.68 L346.50,48.59 L347.00,48.60 L347.50,48.88 L348.00,49.00 L348.50,48.94 L349.00,48.84 L349.50,48.71 L350.00,48.60 L350.50,49.18 L351.00,49.05 L351.50,49.15 L352.00,48.89 L352.50,49.08 L353.00,49.34 L353.50,49.28 L354.00,49.17 L354.50,49.03 L355.00,49.13 L355.50,49.44 L356.00,49.16 L356.50,49.38 L357.00,49.36 L357.50,49.57 L358.00,49.55 L358.50,49.27 L359.00,49.13 L359.50,49.32 L360.00,49.45 L360.50,49.59 L361.00,49.76 L361.50,49.84 L362.00,49.36 L362.50,49.87 L363.00,49.89 L363.50,49.96 L364.00,49.81 L364.50,49.67 L365.00,50.05 L365.50,50.06 L366.00,50.01 L366.50,50.19 L367.00,49.88 L367.50,49.75 L368.00,50.07 L368.50,50.25 L369.00,49.92 L369.50,50.28 L370.00,50.42 L370.50,50.04 L371.00,50.29 L371.50,50.37 L372.00,50.27 L372.50,50.15 L373.00,50.21 L373.50,50.54 L374.00,50.59 L374.50,50.43 L375.00,50.23 L375.50,50.70 L376.00,50.71 L376.50,50.41 L377.00,50.65 L377.50,50.87 L378.00,50.90 L378.50,50.71 L379.00,50.71 L379.50,50.81 L380.00,50.60 L380.50,50.64 L381.00,50.66 L381.50,51.00 L382.00,50.83 L382.50,50.98 L383.00,50.91 L383.50,51.01 L384.00,50.82 L384.50,50.79 L385.00,51.39 L385.50,51.05 L386.00,50.92 L386.50,51.26 L387.00,51.39 L387.50,51.04 L388.00,51.33 L388.50,51.21 L389.00,51.35 L389.50,51.08 L390.00,51.12 L390.50,51.72 L391.00,51.68 L391.50,51.48 L392.00,51.56 L392.50,51.40 L393.00,51.74 L393.50,51.56 L394.00,51.90 L394.50,51.83 L395.00,51.89 L395.50,52.01 L396.00,51.61 L396.50,51.51 L397.00,51.64 L397.50,51.66 L398.00,51.63 L398.50,51.64 L399.00,51.97 L399.50,52.19 L400.00,51.97 L400.50,52.30 L401.00,52.31 L401.50,51.83 L402.00,52.18 L402.50,52.09 L403.00,51.96 L403.50,52.49 L404.00,52.10 L404.50,52.31 L405.00,52.39 L405.50,52.61 L406.00,52.47 L406.50,52.34 L407.00,52.37 L407.50,52.20 L407.50,58.80 L407.00,58.63 L406.50,58.66 L406.00,58.46 L405.50,58.26 L405.00,58.41 L404.50,58.42 L404.00,58.57 L403.50,58.11 L403.00,58.58 L402.50,58.38 L402.00,58.23 L401.50,58.51 L401.00,57.97 L400.50,57.91 L400.00,58.17 L399.50,57.89 L399.00,58.05 L398.50,58.32 L398.00,58.26 L397.50,58.17 L397.00,58.13 L396.50,58.19 L396.00,58.03 L395.50,57.57 L395.00,57.62 L394.50,57.62 L394.00,57.48 L393.50,57.76 L393.00,57.51 L392.50,57.79 L392.00,57.57 L391.50,57.59 L391.00,57.32 L390.50,57.22 L390.00,57.76 L389.50,57.73 L389.00,57.40 L388.50,57.47 L388.00,57.29 L387.50,57.52 L387.00,57.11 L386.50,57.16 L386.00,57.45 L385.50,57.25 L385.00,56.85 L384.50,57.38 L384.00,57.29 L383.50,57.03 L383.00,57.07 L382.50,56.94 L382.00,57.02 L381.50,56.79 L381.00,57.06 L380.50,57.02 L380.00,56.99 L379.50,56.72 L379.00,56.75 L378.50,56.69 L378.00,56.43 L377.50,56.39 L377.00,56.55 L376.50,56.72 L376.00,56.36 L375.50,56.31 L375.00,56.70 L374.50,56.44 L374.00,56.21 L373.50,56.20 L373.00,56.46 L372.50,56.45 L372.00,56.26 L371.50,56.09 L371.00,56.10 L370.50,56.29 L370.00,55.83 L369.50,55.90 L369.00,56.19 L368.50,55.80 L368.00,55.91 L367.50,56.15 L367.00,55.95 L366.50,55.58 L366.00,55.67 L365.50,55.56 L365.00,55.50 L364.50,55.80 L364.00,55.58 L363.50,55.37 L363.00,55.36 L362.50,55.31 L362.00,55.74 L361.50,55.19 L361.00,55.19 L360.50,55.29 L360.00,55.35 L359.50,55.40 L359.00,55.51 L358.50,55.30 L358.00,54.94 L357.50,54.84 L357.00,54.97 L356.50,54.87 L356.00,55.01 L355.50,54.65 L355.00,54.88 L354.50,54.90 L354.00,54.68 L353.50,54.49 L353.00,54.35 L352.50,54.52 L352.00,54.63 L351.50,54.28 L351.00,54.30 L350.50,54.08 L350.00,54.57 L349.50,54.38 L349.00,54.16 L348.50,53.98 L348.00,53.82 L347.50,53.86 L347.00,54.05 L346.50,53.97 L346.00,53.79 L345.50,53.73 L345.00,53.84 L344.50,53.52 L344.00,53.86 L343.50,53.48 L343.00,53.57 L342.50,53.44 L342.00,53.50 L341.50,53.64 L341.00,53.32 L340.50,53.05 L340.00,53.41 L339.50,53.02 L339.00,53.22 L338.50,53.30 L338.00,52.81 L337.50,52.86 L337.00,53.19 L336.50,53.14 L336.00,52.66 L335.50,52.46 L335.00,52.84 L334.50,52.38 L334.00,52.61 L333.50,52.41 L333.00,52.41 L332.50,52.68 L332.00,52.24 L331.50,52.12 L331.00,52.15 L330.50,52.06 L330.00,52.44 L329.50,52.30 L329.00,51.92 L328.50,52.16 L328.00,51.82 L327.50,52.19 L327.00,52.07 L326.50,51.57 L326.00,51.98 L325.50,51.40 L325.00,51.85 L324.50,51.46 L324.00,51.81 L323.50,51.75 L323.00,51.61 L322.50,51.51 L322.00,51.20 L321.50,51.46 L321.00,51.22 L320.50,51.12 L320.00,50.76 L319.50,50.72 L319.00,50.87 L318.50,50.93 L318.00,51.09 L317.50,50.77 L317.00,50.42 L316.50,50.56 L316.00,50.35 L315.50,50.70 L315.00,50.68 L314.50,50.29 L314.00,50.53 L313.50,49.93 L313.00,50.03 L312.50,50.09 L312.00,50.08 L311.50,49.94 L311.00,49.94 L310.50,49.89 L310.00,49.63 L309.50,49.42 L309.00,49.33 L308.50,49.52 L308.00,49.27 L307.50,49.04 L307.00,49.05 L306.50,49.42 L306.00,49.25 L305.50,49.22 L305.00,48.75 L304.50,48.86 L304.00,48.66 L303.50,48.85 L303.00,48.50 L302.50,48.48 L302.00,48.34 L301.50,48.31 L301.00,48.24 L300.50,48.18 L300.00,47.93 L299.50,47.93 L299.00,47.94 L298.50,47.90 L298.00,47.65 L297.50,48.02 L297.00,48.06 L296.50,47.81 L296.00,47.88 L295.50,47.51 L295.00,47.22 L294.50,47.24 L294.00,47.56 L293.50,47.03 L293.00,47.04 L292.50,46.98 L292.00,47.06 L291.50,46.96 L291.00,46.87 L290.50,46.50 L290.00,46.50 L289.50,46.22 L289.00,46.41 L288.50,46.47 L288.00,46.24 L287.50,46.22 L287.00,45.89 L286.50,46.13 L286.00,45.73 L285.50,45.82 L285.00,45.83 L284.50,45.75 L284.00,45.82 L283.50,45.42 L283.00,45.51 L282.50,45.49 L282.00,45.50 L281.50,45.16 L281.00,45.43 L280.50,45.23 L280.00,45.14 L279.50,45.52 L279.00,44.98 L278.50,45.22 L278.00,45.19 L277.50,44.91 L277.00,45.29 L276.50,44.93 L276.00,45.07 L275.50,45.11 L275.00,45.45 L274.50,45.09 L274.00,45.08 L273.50,45.42 L273.00,44.88 L272.50,45.20 L272.00,45.23 L271.50,44.94 L271.00,45.05 L270.50,45.11 L270.00,45.16 L269.50,44.93 L269.00,45.43 L268.50,44.92 L268.00,45.11 L267.50,45.13 L267.00,45.13 L266.50,45.34 L266.00,45.14 L265.50,45.39 L265.00,45.12 L264.50,45.33 L264.00,45.27 L263.50,45.25 L263.00,45.08 L262.50,44.88 L262.00,45.14 L261.50,44.96 L261.00,45.08Z" fill="#72b846" opacity="1"/>
<polyline points="261.00,42.90 262.00,42.91 263.00,42.91 264.00,42.92 265.00,42.92 266.00,42.92 267.00,42.93 268.00,42.93 269.00,42.94 270.00,42.94 271.00,42.95 272.00,42.95 273.00,42.96 274.00,42.96 275.00,42.97 276.00,42.98 277.00,42.99 278.00,43.00 279.00,43.02 280.00,43.06 281.00,43.11 282.00,43.18 283.00,43.27 284.00,43.36 285.00,43.47 286.00,43.59 287.00,43.71 288.00,43.85 289.00,43.99 290.00,44.13 291.00,44.28 292.00,44.43 293.00,44.58 294.00,44.73 295.00,44.88 296.00,45.02 297.00,45.16 298.00,45.30 299.00,45.44 300.00,45.58 301.00,45.73 302.00,45.88 303.00,46.04 304.00,46.20 305.00,46.36 306.00,46.53 307.00,46.70 308.00,46.87 309.00,47.04 310.00,47.20 311.00,47.37 312.00,47.53 313.00,47.69 314.00,47.84 315.00,47.99 316.00,48.13 317.00,48.27 318.00,48.40 319.00,48.52 320.00,48.64 321.00,48.76 322.00,48.88 323.00,48.99 324.00,49.10 325.00,49.21 326.00,49.32 327.00,49.42 328.00,49.53 329.00,49.63 330.00,49.73 331.00,49.83 332.00,49.93 333.00,50.02 334.00,50.12 335.00,50.21 336.00,50.31 337.00,50.41 338.00,50.50 339.00,50.59 340.00,50.69 341.00,50.78 342.00,50.87 343.00,50.97 344.00,51.06 345.00,51.15 346.00,51.24 347.00,51.33 348.00,51.41 349.00,51.50 350.00,51.59 351.00,51.67 352.00,51.76 353.00,51.84 354.00,51.92 355.00,52.01 356.00,52.09 357.00,52.17 358.00,52.25 359.00,52.32 360.00,52.40 361.00,52.48 362.00,52.55 363.00,52.63 364.00,52.70 365.00,52.77 366.00,52.84 367.00,52.92 368.00,52.99 369.00,53.06 370.00,53.13 371.00,53.20 372.00,53.26 373.00,53.33 374.00,53.40 375.00,53.47 376.00,53.53 377.00,53.60 378.00,53.67 379.00,53.73 380.00,53.80 381.00,53.86 382.00,53.93 383.00,53.99 384.00,54.05 385.00,54.12 386.00,54.18 387.00,54.25 388.00,54.31 389.00,54.37 390.00,54.44 391.00,54.50 392.00,54.56 393.00,54.63 394.00,54.69 395.00,54.75 396.00,54.82 397.00,54.88 398.00,54.95 399.00,55.01 400.00,55.07 401.00,55.14 402.00,55.20 403.00,55.27 404.00,55.33 405.00,55.40 406.00,55.47 407.00,55.50" fill="none" stroke="#1d3a10" stroke-width="0.6" opacity="0.55"/>
<path d="M261.00,43.51V45.16M261.77,43.53V45.75M262.53,43.73V46.06M263.30,44.43V46.01M264.06,43.91V46.40M264.83,44.11V46.21M265.60,44.63V46.55M266.36,44.77V47.09M267.13,45.45V47.08M267.89,45.46V48.06M268.66,45.26V47.73M269.43,45.49V48.11M270.19,45.96V48.52M270.96,46.96V49.81M271.72,47.06V49.52M272.49,46.45V50.82M273.26,47.67V51.45M274.02,47.69V51.59M274.79,48.54V52.49M275.55,48.22V53.09M276.32,48.29V52.64M277.09,49.54V52.99M277.85,50.34V53.39M278.62,50.56V54.88M279.38,51.57V55.64M280.15,51.51V55.62M280.92,51.17V56.59M281.68,52.67V57.29M282.45,52.52V57.18M283.21,52.59V57.82M283.98,53.68V60.22M284.75,55.85V60.88M285.51,55.85V61.23M286.28,57.34V60.91M287.04,57.78V63.67M287.81,58.58V64.13M288.58,57.86V65.45M289.34,60.01V65.09M290.11,60.51V66.93M290.87,62.31V67.78M291.64,61.67V68.91M292.41,64.20V69.96M293.17,64.95V69.50M293.94,64.67V71.64M294.70,66.13V72.52M295.47,66.54V72.03M296.24,67.90V72.58M297.00,69.26V73.36M297.77,68.74V76.05M298.53,70.71V74.77M299.30,69.70V76.65M300.07,71.79V76.80M300.83,72.17V78.89M301.60,73.25V78.78M302.36,74.89V80.63M303.13,75.67V80.43M303.90,74.59V80.32M304.66,75.49V82.78M305.43,76.36V83.06M306.19,78.15V82.90M306.96,78.68V84.38M307.73,78.96V84.09M308.49,78.04V85.47M309.26,78.65V85.13M310.02,80.19V86.18M310.79,80.69V85.70M311.56,81.31V85.81M312.32,81.80V87.92M313.09,81.04V87.55M313.85,82.37V87.32M314.62,83.57V87.52M315.39,82.58V89.01M316.15,83.77V89.15M316.92,83.33V89.27M317.68,83.89V89.68M318.45,84.79V89.85M319.22,85.27V89.70M319.98,84.69V90.34M320.75,85.86V91.04M321.51,85.51V90.62M322.28,86.93V90.80M323.05,86.78V91.26M323.81,86.68V91.74M324.58,86.63V91.94M325.34,87.40V91.90M326.11,86.99V92.44M326.88,87.90V92.68M327.64,87.26V92.63M328.41,87.32V93.28M329.17,88.30V92.76M329.94,89.09V93.45M330.71,88.01V93.03M331.47,88.60V93.59M332.24,88.72V92.86M333.00,88.81V93.68M333.77,89.17V93.57M334.54,89.40V94.28M335.30,89.53V94.33M336.07,90.65V93.56M336.83,90.11V94.47M337.60,90.59V94.64M338.37,90.04V93.72M339.13,90.40V94.12M339.90,91.16V94.07M340.66,90.84V94.24M341.43,91.13V94.10M342.20,90.79V94.74M342.96,90.64V95.17M343.73,91.32V95.75M344.49,91.78V95.04M345.26,91.42V95.13M346.03,91.76V95.88M346.79,91.42V94.68M347.56,91.11V94.85M348.32,91.29V95.31M349.09,91.31V96.37M349.86,91.00V95.58M350.62,91.07V96.01M351.39,91.85V95.28M352.15,91.56V96.02M352.92,91.05V96.73M353.69,91.67V95.81M354.45,91.28V95.32M355.22,92.60V96.28M355.98,91.86V95.67M356.75,91.90V96.94M357.52,92.37V96.27M358.28,92.68V96.11M359.05,91.56V96.32M359.81,91.64V97.25M360.58,92.30V96.27M361.35,91.75V96.72M362.11,92.73V96.51M362.88,91.89V96.85M363.64,93.07V96.89M364.41,93.40V97.19M365.18,92.96V96.74M365.94,92.49V97.65M366.71,93.78V97.25M367.47,93.44V97.95M368.24,92.70V96.92M369.01,93.58V96.85M369.77,92.51V97.13M370.54,93.18V97.48M371.30,93.19V97.75M372.07,93.11V97.04M372.84,93.15V97.39M373.60,93.57V97.51M374.37,94.01V97.88M375.13,93.82V97.67M375.90,93.45V98.09M376.67,94.62V97.63M377.43,94.04V98.72M378.20,93.43V98.20M378.96,94.85V98.62M379.73,94.28V98.37M380.50,93.91V98.51M381.26,94.33V99.00M382.03,94.55V98.26M382.79,93.90V98.02M383.56,94.82V99.05M384.33,95.23V99.11M385.09,94.34V98.56M385.86,95.03V99.14M386.62,94.15V98.23M387.39,94.87V98.91M388.16,94.91V98.63M388.92,95.50V99.08M389.69,94.57V98.36M390.45,95.51V99.54M391.22,94.74V99.36M391.99,95.95V99.51M392.75,94.60V99.98M393.52,95.08V98.62M394.28,94.94V98.93M395.05,95.29V100.07M395.82,95.26V98.92M396.58,95.95V100.14M397.35,96.22V99.74M398.11,95.90V99.14M398.88,95.67V99.03M399.65,96.48V99.58M400.41,96.60V99.17M401.18,95.94V100.22M401.94,95.57V99.40M402.71,96.28V99.72M403.48,96.10V100.03M404.24,95.68V99.93M405.01,97.02V100.45M405.77,96.95V100.42M406.54,96.51V100.87M407.31,96.44V100.46" stroke="#2d4d8a" stroke-width="0.7" opacity="0.85" fill="none"/>
<path d="M261.00,43.30 L261.50,43.35 L262.00,43.44 L262.50,43.54 L263.00,43.63 L263.50,43.72 L264.00,43.82 L264.50,43.91 L265.00,44.01 L265.50,44.12 L266.00,44.25 L266.50,44.38 L267.00,44.53 L267.50,44.70 L268.00,44.89 L268.50,45.09 L269.00,45.29 L269.50,45.51 L270.00,45.74 L270.50,45.98 L271.00,46.23 L271.50,46.48 L272.00,46.74 L272.50,47.01 L273.00,47.28 L273.50,47.56 L274.00,47.84 L274.50,48.12 L275.00,48.42 L275.50,48.72 L276.00,49.02 L276.50,49.34 L277.00,49.66 L277.50,49.99 L278.00,50.33 L278.50,50.68 L279.00,51.04 L279.50,51.40 L280.00,51.77 L280.50,52.16 L281.00,52.56 L281.50,52.97 L282.00,53.39 L282.50,53.82 L283.00,54.26 L283.50,54.71 L284.00,55.17 L284.50,55.64 L285.00,56.12 L285.50,56.60 L286.00,57.10 L286.50,57.62 L287.00,58.15 L287.50,58.71 L288.00,59.28 L288.50,59.85 L289.00,60.44 L289.50,61.03 L290.00,61.62 L290.50,62.20 L291.00,62.79 L291.50,63.36 L292.00,63.92 L292.50,64.49 L293.00,65.05 L293.50,65.62 L294.00,66.19 L294.50,66.75 L295.00,67.32 L295.50,67.88 L296.00,68.43 L296.50,68.98 L297.00,69.53 L297.50,70.07 L298.00,70.60 L298.50,71.13 L299.00,71.66 L299.50,72.18 L300.00,72.71 L300.50,73.23 L301.00,73.75 L301.50,74.26 L302.00,74.76 L302.50,75.24 L303.00,75.72 L303.50,76.18 L304.00,76.63 L304.50,77.06 L305.00,77.48 L305.50,77.90 L306.00,78.31 L306.50,78.71 L307.00,79.10 L307.50,79.49 L308.00,79.86 L308.50,80.22 L309.00,80.57 L309.50,80.90 L310.00,81.22 L310.50,81.52 L311.00,81.81 L311.50,82.09 L312.00,82.36 L312.50,82.63 L313.00,82.88 L313.50,83.13 L314.00,83.37 L314.50,83.61 L315.00,83.84 L315.50,84.06 L316.00,84.28 L316.50,84.50 L317.00,84.71 L317.50,84.92 L318.00,85.12 L318.50,85.32 L319.00,85.51 L319.50,85.70 L320.00,85.89 L320.50,86.07 L321.00,86.25 L321.50,86.43 L322.00,86.60 L322.50,86.77 L323.00,86.93 L323.50,87.10 L324.00,87.27 L324.50,87.43 L325.00,87.59 L325.50,87.75 L326.00,87.91 L326.50,88.06 L327.00,88.21 L327.50,88.36 L328.00,88.50 L328.50,88.64 L329.00,88.77 L329.50,88.90 L330.00,89.03 L330.50,89.15 L331.00,89.26 L331.50,89.38 L332.00,89.49 L332.50,89.60 L333.00,89.71 L333.50,89.81 L334.00,89.91 L334.50,90.01 L335.00,90.11 L335.50,90.20 L336.00,90.29 L336.50,90.37 L337.00,90.45 L337.50,90.53 L338.00,90.60 L338.50,90.67 L339.00,90.74 L339.50,90.80 L340.00,90.87 L340.50,90.93 L341.00,90.99 L341.50,91.05 L342.00,91.11 L342.50,91.17 L343.00,91.22 L343.50,91.28 L344.00,91.33 L344.50,91.39 L345.00,91.44 L345.50,91.49 L346.00,91.54 L346.50,91.59 L347.00,91.64 L347.50,91.69 L348.00,91.74 L348.50,91.78 L349.00,91.83 L349.50,91.88 L350.00,91.92 L350.50,91.97 L351.00,92.01 L351.50,92.05 L352.00,92.10 L352.50,92.14 L353.00,92.19 L353.50,92.23 L354.00,92.27 L354.50,92.31 L355.00,92.36 L355.50,92.40 L356.00,92.44 L356.50,92.49 L357.00,92.53 L357.50,92.58 L358.00,92.62 L358.50,92.66 L359.00,92.71 L359.50,92.75 L360.00,92.80 L360.50,92.85 L361.00,92.89 L361.50,92.94 L362.00,92.98 L362.50,93.03 L363.00,93.07 L363.50,93.12 L364.00,93.16 L364.50,93.21 L365.00,93.25 L365.50,93.30 L366.00,93.34 L366.50,93.39 L367.00,93.43 L367.50,93.47 L368.00,93.52 L368.50,93.56 L369.00,93.60 L369.50,93.65 L370.00,93.69 L370.50,93.73 L371.00,93.78 L371.50,93.82 L372.00,93.86 L372.50,93.90 L373.00,93.95 L373.50,93.99 L374.00,94.03 L374.50,94.07 L375.00,94.12 L375.50,94.16 L376.00,94.20 L376.50,94.24 L377.00,94.28 L377.50,94.32 L378.00,94.37 L378.50,94.41 L379.00,94.45 L379.50,94.49 L380.00,94.53 L380.50,94.57 L381.00,94.61 L381.50,94.65 L382.00,94.70 L382.50,94.74 L383.00,94.78 L383.50,94.82 L384.00,94.86 L384.50,94.90 L385.00,94.94 L385.50,94.98 L386.00,95.02 L386.50,95.06 L387.00,95.10 L387.50,95.14 L388.00,95.19 L388.50,95.23 L389.00,95.27 L389.50,95.31 L390.00,95.35 L390.50,95.39 L391.00,95.43 L391.50,95.47 L392.00,95.51 L392.50,95.55 L393.00,95.59 L393.50,95.63 L394.00,95.67 L394.50,95.71 L395.00,95.75 L395.50,95.79 L396.00,95.83 L396.50,95.88 L397.00,95.92 L397.50,95.96 L398.00,96.00 L398.50,96.04 L399.00,96.08 L399.50,96.12 L400.00,96.16 L400.50,96.20 L401.00,96.24 L401.50,96.28 L402.00,96.33 L402.50,96.37 L403.00,96.41 L403.50,96.45 L404.00,96.49 L404.50,96.53 L405.00,96.57 L405.50,96.62 L406.00,96.66 L406.50,96.70 L407.00,96.70 L407.50,96.70 L407.50,100.10 L407.00,100.10 L406.50,100.10 L406.00,100.06 L405.50,100.02 L405.00,99.97 L404.50,99.93 L404.00,99.89 L403.50,99.85 L403.00,99.81 L402.50,99.77 L402.00,99.73 L401.50,99.68 L401.00,99.64 L400.50,99.60 L400.00,99.56 L399.50,99.52 L399.00,99.48 L398.50,99.44 L398.00,99.40 L397.50,99.36 L397.00,99.32 L396.50,99.28 L396.00,99.23 L395.50,99.19 L395.00,99.15 L394.50,99.11 L394.00,99.07 L393.50,99.03 L393.00,98.99 L392.50,98.95 L392.00,98.91 L391.50,98.87 L391.00,98.83 L390.50,98.79 L390.00,98.75 L389.50,98.71 L389.00,98.67 L388.50,98.63 L388.00,98.59 L387.50,98.54 L387.00,98.50 L386.50,98.46 L386.00,98.42 L385.50,98.38 L385.00,98.34 L384.50,98.30 L384.00,98.26 L383.50,98.22 L383.00,98.18 L382.50,98.14 L382.00,98.10 L381.50,98.05 L381.00,98.01 L380.50,97.97 L380.00,97.93 L379.50,97.89 L379.00,97.85 L378.50,97.81 L378.00,97.77 L377.50,97.72 L377.00,97.68 L376.50,97.64 L376.00,97.60 L375.50,97.56 L375.00,97.52 L374.50,97.47 L374.00,97.43 L373.50,97.39 L373.00,97.35 L372.50,97.30 L372.00,97.26 L371.50,97.22 L371.00,97.18 L370.50,97.13 L370.00,97.09 L369.50,97.05 L369.00,97.00 L368.50,96.96 L368.00,96.92 L367.50,96.87 L367.00,96.83 L366.50,96.79 L366.00,96.74 L365.50,96.70 L365.00,96.65 L364.50,96.61 L364.00,96.56 L363.50,96.52 L363.00,96.47 L362.50,96.43 L362.00,96.38 L361.50,96.34 L361.00,96.29 L360.50,96.25 L360.00,96.20 L359.50,96.15 L359.00,96.11 L358.50,96.06 L358.00,96.02 L357.50,95.98 L357.00,95.93 L356.50,95.89 L356.00,95.84 L355.50,95.80 L355.00,95.76 L354.50,95.71 L354.00,95.67 L353.50,95.63 L353.00,95.59 L352.50,95.54 L352.00,95.50 L351.50,95.45 L351.00,95.41 L350.50,95.37 L350.00,95.32 L349.50,95.28 L349.00,95.23 L348.50,95.18 L348.00,95.14 L347.50,95.09 L347.00,95.04 L346.50,94.99 L346.00,94.94 L345.50,94.89 L345.00,94.84 L344.50,94.79 L344.00,94.73 L343.50,94.68 L343.00,94.62 L342.50,94.57 L342.00,94.51 L341.50,94.45 L341.00,94.39 L340.50,94.33 L340.00,94.27 L339.50,94.20 L339.00,94.14 L338.50,94.07 L338.00,94.00 L337.50,93.93 L337.00,93.85 L336.50,93.77 L336.00,93.69 L335.50,93.60 L335.00,93.51 L334.50,93.41 L334.00,93.31 L333.50,93.21 L333.00,93.11 L332.50,93.00 L332.00,92.89 L331.50,92.78 L331.00,92.66 L330.50,92.55 L330.00,92.43 L329.50,92.30 L329.00,92.17 L328.50,92.04 L328.00,91.90 L327.50,91.76 L327.00,91.61 L326.50,91.46 L326.00,91.31 L325.50,91.15 L325.00,90.99 L324.50,90.83 L324.00,90.67 L323.50,90.50 L323.00,90.33 L322.50,90.17 L322.00,90.00 L321.50,89.83 L321.00,89.65 L320.50,89.47 L320.00,89.29 L319.50,89.10 L319.00,88.91 L318.50,88.72 L318.00,88.52 L317.50,88.32 L317.00,88.11 L316.50,87.90 L316.00,87.68 L315.50,87.46 L315.00,87.24 L314.50,87.01 L314.00,86.77 L313.50,86.53 L313.00,86.28 L312.50,86.03 L312.00,85.76 L311.50,85.49 L311.00,85.21 L310.50,84.92 L310.00,84.62 L309.50,84.30 L309.00,83.97 L308.50,83.62 L308.00,83.26 L307.50,82.89 L307.00,82.50 L306.50,82.11 L306.00,81.71 L305.50,81.30 L305.00,80.88 L304.50,80.46 L304.00,80.03 L303.50,79.58 L303.00,79.12 L302.50,78.64 L302.00,78.16 L301.50,77.66 L301.00,77.15 L300.50,76.63 L300.00,76.11 L299.50,75.58 L299.00,75.06 L298.50,74.53 L298.00,74.00 L297.50,73.47 L297.00,72.93 L296.50,72.38 L296.00,71.83 L295.50,71.28 L295.00,70.72 L294.50,70.15 L294.00,69.59 L293.50,69.02 L293.00,68.45 L292.50,67.89 L292.00,67.32 L291.50,66.76 L291.00,66.19 L290.50,65.60 L290.00,65.02 L289.50,64.43 L289.00,63.84 L288.50,63.25 L288.00,62.68 L287.50,62.11 L287.00,61.55 L286.50,61.02 L286.00,60.50 L285.50,60.00 L285.00,59.52 L284.50,59.04 L284.00,58.57 L283.50,58.11 L283.00,57.66 L282.50,57.22 L282.00,56.79 L281.50,56.37 L281.00,55.96 L280.50,55.56 L280.00,55.17 L279.50,54.80 L279.00,54.44 L278.50,54.08 L278.00,53.73 L277.50,53.39 L277.00,53.06 L276.50,52.74 L276.00,52.42 L275.50,52.12 L275.00,51.82 L274.50,51.52 L274.00,51.24 L273.50,50.96 L273.00,50.68 L272.50,50.40 L272.00,50.13 L271.50,49.86 L271.00,49.59 L270.50,49.33 L270.00,49.07 L269.50,48.82 L269.00,48.58 L268.50,48.35 L268.00,48.13 L267.50,47.92 L267.00,47.72 L266.50,47.54 L266.00,47.36 L265.50,47.19 L265.00,47.02 L264.50,46.85 L264.00,46.68 L263.50,46.50 L263.00,46.31 L262.50,46.11 L262.00,45.89 L261.50,45.63 L261.00,45.30Z" fill="#2d4d8a" opacity="1"/>
<polyline points="262.00,44.67 263.00,44.97 264.00,45.25 265.00,45.52 266.00,45.80 267.00,46.13 268.00,46.51 269.00,46.94 270.00,47.41 271.00,47.91 272.00,48.44 273.00,48.98 274.00,49.54 275.00,50.12 276.00,50.72 277.00,51.36 278.00,52.03 279.00,52.74 280.00,53.47 281.00,54.26 282.00,55.09 283.00,55.96 284.00,56.87 285.00,57.82 286.00,58.80 287.00,59.85 288.00,60.98 289.00,62.14 290.00,63.32 291.00,64.49 292.00,65.62 293.00,66.75 294.00,67.89 295.00,69.02 296.00,70.13 297.00,71.23 298.00,72.30 299.00,73.36 300.00,74.41 301.00,75.45 302.00,76.46 303.00,77.42 304.00,78.33 305.00,79.18 306.00,80.01 307.00,80.80 308.00,81.56 309.00,82.27 310.00,82.92 311.00,83.51 312.00,84.06 313.00,84.58 314.00,85.07 315.00,85.54 316.00,85.98 317.00,86.41 318.00,86.82 319.00,87.21 320.00,87.59 321.00,87.95 322.00,88.30 323.00,88.63 324.00,88.97 325.00,89.29 326.00,89.61 327.00,89.91 328.00,90.20 329.00,90.47 330.00,90.73 331.00,90.96 332.00,91.19 333.00,91.41 334.00,91.61 335.00,91.81 336.00,91.99 337.00,92.15 338.00,92.30 339.00,92.44 340.00,92.57 341.00,92.69 342.00,92.81 343.00,92.92 344.00,93.03 345.00,93.14 346.00,93.24 347.00,93.34 348.00,93.44 349.00,93.53 350.00,93.62 351.00,93.71 352.00,93.80 353.00,93.89 354.00,93.97 355.00,94.06 356.00,94.14 357.00,94.23 358.00,94.32 359.00,94.41 360.00,94.50 361.00,94.59 362.00,94.68 363.00,94.77 364.00,94.86 365.00,94.95 366.00,95.04 367.00,95.13 368.00,95.22 369.00,95.30 370.00,95.39 371.00,95.48 372.00,95.56 373.00,95.65 374.00,95.73 375.00,95.82 376.00,95.90 377.00,95.98 378.00,96.07 379.00,96.15 380.00,96.23 381.00,96.31 382.00,96.40 383.00,96.48 384.00,96.56 385.00,96.64 386.00,96.72 387.00,96.80 388.00,96.89 389.00,96.97 390.00,97.05 391.00,97.13 392.00,97.21 393.00,97.29 394.00,97.37 395.00,97.45 396.00,97.53 397.00,97.62 398.00,97.70 399.00,97.78 400.00,97.86 401.00,97.94 402.00,98.03 403.00,98.11 404.00,98.19 405.00,98.27 406.00,98.36" fill="none" stroke="#0b1730" stroke-width="0.6" opacity="0.6"/>
<path d="M257.5,133.10 H260.6" stroke="#050505" stroke-width="1"/>
<text x="254.00" y="135.70" font-size="8.5" text-anchor="end" font-weight="normal" fill="#1a1a1a" class="h">0</text>
<path d="M257.5,115.36 H260.6" stroke="#050505" stroke-width="1"/>
<text x="254.00" y="117.96" font-size="8.5" text-anchor="end" font-weight="normal" fill="#1a1a1a" class="h">20</text>
<path d="M257.5,97.62 H260.6" stroke="#050505" stroke-width="1"/>
<text x="254.00" y="100.22" font-size="8.5" text-anchor="end" font-weight="normal" fill="#1a1a1a" class="h">40</text>
<path d="M257.5,79.88 H260.6" stroke="#050505" stroke-width="1"/>
<text x="254.00" y="82.48" font-size="8.5" text-anchor="end" font-weight="normal" fill="#1a1a1a" class="h">60</text>
<path d="M257.5,62.14 H260.6" stroke="#050505" stroke-width="1"/>
<text x="254.00" y="64.74" font-size="8.5" text-anchor="end" font-weight="normal" fill="#1a1a1a" class="h">80</text>
<path d="M257.5,44.40 H260.6" stroke="#050505" stroke-width="1"/>
<text x="254.00" y="47.00" font-size="8.5" text-anchor="end" font-weight="normal" fill="#1a1a1a" class="h">100</text>
<path d="M260.90,133.3 V136.4" stroke="#050505" stroke-width="1"/>
<text font-size="8.8" text-anchor="end" fill="#000" transform="translate(262.30,140.90) rotate(-45) scale(0.85,1.05)" dy="3.0">0</text>
<path d="M270.09,133.3 V136.4" stroke="#050505" stroke-width="1"/>
<text font-size="8.8" text-anchor="end" fill="#000" transform="translate(271.49,140.90) rotate(-45) scale(0.85,1.05)" dy="3.0">3</text>
<path d="M279.28,133.3 V136.4" stroke="#050505" stroke-width="1"/>
<text font-size="8.8" text-anchor="end" fill="#000" transform="translate(280.68,140.90) rotate(-45) scale(0.85,1.05)" dy="3.0">6</text>
<path d="M288.47,133.3 V136.4" stroke="#050505" stroke-width="1"/>
<text font-size="8.8" text-anchor="end" fill="#000" transform="translate(289.87,140.90) rotate(-45) scale(0.85,1.05)" dy="3.0">9</text>
<path d="M297.66,133.3 V136.4" stroke="#050505" stroke-width="1"/>
<text font-size="8.8" text-anchor="end" fill="#000" transform="translate(299.06,140.90) rotate(-45) scale(0.85,1.05)" dy="3.0">12</text>
<path d="M306.85,133.3 V136.4" stroke="#050505" stroke-width="1"/>
<text font-size="8.8" text-anchor="end" fill="#000" transform="translate(308.25,140.90) rotate(-45) scale(0.85,1.05)" dy="3.0">15</text>
<path d="M316.03,133.3 V136.4" stroke="#050505" stroke-width="1"/>
<text font-size="8.8" text-anchor="end" fill="#000" transform="translate(317.43,140.90) rotate(-45) scale(0.85,1.05)" dy="3.0">18</text>
<path d="M325.22,133.3 V136.4" stroke="#050505" stroke-width="1"/>
<text font-size="8.8" text-anchor="end" fill="#000" transform="translate(326.62,140.90) rotate(-45) scale(0.85,1.05)" dy="3.0">21</text>
<path d="M334.41,133.3 V136.4" stroke="#050505" stroke-width="1"/>
<text font-size="8.8" text-anchor="end" fill="#000" transform="translate(335.81,140.90) rotate(-45) scale(0.85,1.05)" dy="3.0">24</text>
<path d="M343.60,133.3 V136.4" stroke="#050505" stroke-width="1"/>
<text font-size="8.8" text-anchor="end" fill="#000" transform="translate(345.00,140.90) rotate(-45) scale(0.85,1.05)" dy="3.0">27</text>
<path d="M352.79,133.3 V136.4" stroke="#050505" stroke-width="1"/>
<text font-size="8.8" text-anchor="end" fill="#000" transform="translate(354.19,140.90) rotate(-45) scale(0.85,1.05)" dy="3.0">30</text>
<path d="M361.98,133.3 V136.4" stroke="#050505" stroke-width="1"/>
<text font-size="8.8" text-anchor="end" fill="#000" transform="translate(363.38,140.90) rotate(-45) scale(0.85,1.05)" dy="3.0">33</text>
<path d="M371.17,133.3 V136.4" stroke="#050505" stroke-width="1"/>
<text font-size="8.8" text-anchor="end" fill="#000" transform="translate(372.57,140.90) rotate(-45) scale(0.85,1.05)" dy="3.0">36</text>
<path d="M380.36,133.3 V136.4" stroke="#050505" stroke-width="1"/>
<text font-size="8.8" text-anchor="end" fill="#000" transform="translate(381.76,140.90) rotate(-45) scale(0.85,1.05)" dy="3.0">39</text>
<path d="M389.55,133.3 V136.4" stroke="#050505" stroke-width="1"/>
<text font-size="8.8" text-anchor="end" fill="#000" transform="translate(390.95,140.90) rotate(-45) scale(0.85,1.05)" dy="3.0">42</text>
<path d="M398.74,133.3 V136.4" stroke="#050505" stroke-width="1"/>
<text font-size="8.8" text-anchor="end" fill="#000" transform="translate(400.13,140.90) rotate(-45) scale(0.85,1.05)" dy="3.0">45</text>
<text class="h" font-size="10" text-anchor="middle" fill="#1a1a1a" transform="translate(334.00,162.7) scale(0.7,1)">Time (hours)</text>
<text class="h" font-size="9.2" text-anchor="middle" fill="#1a1a1a" transform="translate(233.20,84.2) rotate(-90) scale(0.76,1)">%viable cells</text>
</g>
<path d="M410.2,39.50 H422.1" stroke="#333" stroke-width="1"/>
<circle cx="416.2" cy="39.50" r="2.1" fill="#72b846"/>
<text x="425.60" y="42.10" font-size="7.4" text-anchor="start" font-weight="normal" fill="#1a1a1a" >NT</text>
<path d="M410.2,51.60 H422.1" stroke="#333" stroke-width="1"/>
<rect x="414.4" y="49.80" width="3.6" height="3.6" fill="#c0113a"/>
<text x="425.60" y="54.20" font-size="7.4" text-anchor="start" font-weight="normal" fill="#1a1a1a" >Pembrolizumab</text>
<path d="M410.2,63.70 H422.1" stroke="#333" stroke-width="1"/>
<path d="M414.1,65.30 L418.3,65.30 L416.2,61.50 Z" fill="#2d4d8a"/>
<text x="425.60" y="66.30" font-size="7.4" text-anchor="start" font-weight="normal" fill="#1a1a1a" >Pembrolizumab scFV</text>
<rect x="16" y="198" width="143" height="107" fill="#8f8f8f"/>
<rect x="16" y="198" width="143" height="107" fill="url(#noise)" opacity="0.07"/>
<path d="M16,198.5 H159" stroke="#7a7a7a" stroke-width="1" opacity="0.6"/>
<path d="M35.2 287.6a1.17 1.17 0 1 0 2.33 0a1.17 1.17 0 1 0 -2.33 0M124.0 248.1a1.03 1.03 0 1 0 2.07 0a1.03 1.03 0 1 0 -2.07 0M20.4 286.4a1.05 1.05 0 1 0 2.10 0a1.05 1.05 0 1 0 -2.10 0M114.6 226.4a1.18 1.18 0 1 0 2.36 0a1.18 1.18 0 1 0 -2.36 0M144.0 201.5a0.91 0.91 0 1 0 1.82 0a0.91 0.91 0 1 0 -1.82 0M113.3 300.4a1.15 1.15 0 1 0 2.31 0a1.15 1.15 0 1 0 -2.31 0M149.2 256.6a1.02 1.02 0 1 0 2.04 0a1.02 1.02 0 1 0 -2.04 0M151.0 296.0a1.05 1.05 0 1 0 2.09 0a1.05 1.05 0 1 0 -2.09 0M30.4 264.6a1.15 1.15 0 1 0 2.31 0a1.15 1.15 0 1 0 -2.31 0M63.3 274.3a1.15 1.15 0 1 0 2.30 0a1.15 1.15 0 1 0 -2.30 0M88.2 294.2a0.97 0.97 0 1 0 1.93 0a0.97 0.97 0 1 0 -1.93 0M121.4 240.9a1.13 1.13 0 1 0 2.27 0a1.13 1.13 0 1 0 -2.27 0M126.2 276.1a0.93 0.93 0 1 0 1.86 0a0.93 0.93 0 1 0 -1.86 0M126.4 253.2a1.04 1.04 0 1 0 2.08 0a1.04 1.04 0 1 0 -2.08 0M82.6 230.8a1.20 1.20 0 1 0 2.39 0a1.20 1.20 0 1 0 -2.39 0M72.0 216.3a1.08 1.08 0 1 0 2.15 0a1.08 1.08 0 1 0 -2.15 0M92.7 289.0a0.98 0.98 0 1 0 1.96 0a0.98 0.98 0 1 0 -1.96 0M66.2 294.2a1.13 1.13 0 1 0 2.26 0a1.13 1.13 0 1 0 -2.26 0M17.0 280.9a1.19 1.19 0 1 0 2.37 0a1.19 1.19 0 1 0 -2.37 0M88.7 211.9a1.17 1.17 0 1 0 2.34 0a1.17 1.17 0 1 0 -2.34 0M84.3 236.7a1.09 1.09 0 1 0 2.19 0a1.09 1.09 0 1 0 -2.19 0M84.9 235.9a1.02 1.02 0 1 0 2.04 0a1.02 1.02 0 1 0 -2.04 0M127.5 233.2a1.11 1.11 0 1 0 2.22 0a1.11 1.11 0 1 0 -2.22 0M41.3 259.9a1.20 1.20 0 1 0 2.40 0a1.20 1.20 0 1 0 -2.40 0M21.1 297.8a0.92 0.92 0 1 0 1.85 0a0.92 0.92 0 1 0 -1.85 0M18.5 277.9a0.99 0.99 0 1 0 1.97 0a0.99 0.99 0 1 0 -1.97 0M42.5 228.9a0.96 0.96 0 1 0 1.92 0a0.96 0.96 0 1 0 -1.92 0M109.2 266.6a1.00 1.00 0 1 0 2.01 0a1.00 1.00 0 1 0 -2.01 0M83.4 200.8a1.04 1.04 0 1 0 2.07 0a1.04 1.04 0 1 0 -2.07 0M52.8 225.0a1.16 1.16 0 1 0 2.31 0a1.16 1.16 0 1 0 -2.31 0M77.5 301.1a0.98 0.98 0 1 0 1.96 0a0.98 0.98 0 1 0 -1.96 0M117.9 215.2a1.15 1.15 0 1 0 2.29 0a1.15 1.15 0 1 0 -2.29 0M134.0 301.3a1.12 1.12 0 1 0 2.24 0a1.12 1.12 0 1 0 -2.24 0M47.9 266.7a1.04 1.04 0 1 0 2.08 0a1.04 1.04 0 1 0 -2.08 0M109.5 243.2a1.16 1.16 0 1 0 2.32 0a1.16 1.16 0 1 0 -2.32 0M140.0 230.6a1.20 1.20 0 1 0 2.40 0a1.20 1.20 0 1 0 -2.40 0M99.7 221.2a1.22 1.22 0 1 0 2.43 0a1.22 1.22 0 1 0 -2.43 0M104.5 202.2a0.97 0.97 0 1 0 1.94 0a0.97 0.97 0 1 0 -1.94 0M111.8 243.9a0.97 0.97 0 1 0 1.94 0a0.97 0.97 0 1 0 -1.94 0M71.6 251.4a0.91 0.91 0 1 0 1.81 0a0.91 0.91 0 1 0 -1.81 0M143.6 200.2a0.97 0.97 0 1 0 1.94 0a0.97 0.97 0 1 0 -1.94 0M127.1 234.0a0.97 0.97 0 1 0 1.95 0a0.97 0.97 0 1 0 -1.95 0M148.0 234.5a1.21 1.21 0 1 0 2.42 0a1.21 1.21 0 1 0 -2.42 0M125.1 254.4a0.92 0.92 0 1 0 1.85 0a0.92 0.92 0 1 0 -1.85 0M40.4 294.3a0.97 0.97 0 1 0 1.95 0a0.97 0.97 0 1 0 -1.95 0M87.9 225.2a1.02 1.02 0 1 0 2.04 0a1.02 1.02 0 1 0 -2.04 0M138.8 262.0a1.23 1.23 0 1 0 2.47 0a1.23 1.23 0 1 0 -2.47 0M98.4 279.5a1.01 1.01 0 1 0 2.02 0a1.01 1.01 0 1 0 -2.02 0M138.7 281.4a1.19 1.19 0 1 0 2.38 0a1.19 1.19 0 1 0 -2.38 0M99.5 295.9a0.93 0.93 0 1 0 1.85 0a0.93 0.93 0 1 0 -1.85 0M27.7 226.4a1.21 1.21 0 1 0 2.42 0a1.21 1.21 0 1 0 -2.42 0M81.0 227.5a1.18 1.18 0 1 0 2.35 0a1.18 1.18 0 1 0 -2.35 0M103.1 199.8a1.04 1.04 0 1 0 2.09 0a1.04 1.04 0 1 0 -2.09 0M42.9 281.1a1.11 1.11 0 1 0 2.21 0a1.11 1.11 0 1 0 -2.21 0M39.9 223.7a1.16 1.16 0 1 0 2.32 0a1.16 1.16 0 1 0 -2.32 0M130.3 255.5a1.19 1.19 0 1 0 2.37 0a1.19 1.19 0 1 0 -2.37 0M127.5 295.9a1.15 1.15 0 1 0 2.31 0a1.15 1.15 0 1 0 -2.31 0M60.5 204.9a1.22 1.22 0 1 0 2.44 0a1.22 1.22 0 1 0 -2.44 0M32.0 221.0a1.12 1.12 0 1 0 2.23 0a1.12 1.12 0 1 0 -2.23 0M139.1 247.7a1.02 1.02 0 1 0 2.05 0a1.02 1.02 0 1 0 -2.05 0M59.9 224.3a0.93 0.93 0 1 0 1.86 0a0.93 0.93 0 1 0 -1.86 0M29.2 258.8a1.02 1.02 0 1 0 2.04 0a1.02 1.02 0 1 0 -2.04 0M22.0 218.0a1.18 1.18 0 1 0 2.35 0a1.18 1.18 0 1 0 -2.35 0M51.0 208.9a1.11 1.11 0 1 0 2.23 0a1.11 1.11 0 1 0 -2.23 0M51.1 200.4a0.99 0.99 0 1 0 1.97 0a0.99 0.99 0 1 0 -1.97 0M86.2 289.2a0.95 0.95 0 1 0 1.91 0a0.95 0.95 0 1 0 -1.91 0M27.3 298.3a0.96 0.96 0 1 0 1.92 0a0.96 0.96 0 1 0 -1.92 0M132.6 232.0a0.94 0.94 0 1 0 1.87 0a0.94 0.94 0 1 0 -1.87 0M57.9 292.5a0.95 0.95 0 1 0 1.90 0a0.95 0.95 0 1 0 -1.90 0M126.5 284.8a1.12 1.12 0 1 0 2.24 0a1.12 1.12 0 1 0 -2.24 0M135.1 276.9a1.14 1.14 0 1 0 2.28 0a1.14 1.14 0 1 0 -2.28 0M92.2 203.4a1.20 1.20 0 1 0 2.40 0a1.20 1.20 0 1 0 -2.40 0M112.8 245.4a1.05 1.05 0 1 0 2.10 0a1.05 1.05 0 1 0 -2.10 0M136.7 246.1a1.04 1.04 0 1 0 2.08 0a1.04 1.04 0 1 0 -2.08 0M84.9 281.9a1.23 1.23 0 1 0 2.45 0a1.23 1.23 0 1 0 -2.45 0M25.3 235.7a0.95 0.95 0 1 0 1.90 0a0.95 0.95 0 1 0 -1.90 0M155.3 227.5a1.10 1.10 0 1 0 2.19 0a1.10 1.10 0 1 0 -2.19 0M49.3 199.1a1.09 1.09 0 1 0 2.17 0a1.09 1.09 0 1 0 -2.17 0M146.4 296.3a1.12 1.12 0 1 0 2.25 0a1.12 1.12 0 1 0 -2.25 0M86.4 248.8a0.98 0.98 0 1 0 1.96 0a0.98 0.98 0 1 0 -1.96 0M102.7 275.1a1.13 1.13 0 1 0 2.26 0a1.13 1.13 0 1 0 -2.26 0M23.1 205.8a1.08 1.08 0 1 0 2.16 0a1.08 1.08 0 1 0 -2.16 0M88.8 281.8a0.97 0.97 0 1 0 1.94 0a0.97 0.97 0 1 0 -1.94 0M136.3 237.5a1.15 1.15 0 1 0 2.29 0a1.15 1.15 0 1 0 -2.29 0M28.3 211.3a1.11 1.11 0 1 0 2.22 0a1.11 1.11 0 1 0 -2.22 0M41.3 224.7a0.98 0.98 0 1 0 1.95 0a0.98 0.98 0 1 0 -1.95 0M86.3 239.8a1.12 1.12 0 1 0 2.25 0a1.12 1.12 0 1 0 -2.25 0M93.3 303.1a1.08 1.08 0 1 0 2.17 0a1.08 1.08 0 1 0 -2.17 0M105.0 226.5a1.22 1.22 0 1 0 2.44 0a1.22 1.22 0 1 0 -2.44 0M153.2 263.3a1.24 1.24 0 1 0 2.48 0a1.24 1.24 0 1 0 -2.48 0M79.1 295.7a1.24 1.24 0 1 0 2.48 0a1.24 1.24 0 1 0 -2.48 0M72.5 294.2a1.05 1.05 0 1 0 2.11 0a1.05 1.05 0 1 0 -2.11 0M152.0 210.9a1.11 1.11 0 1 0 2.22 0a1.11 1.11 0 1 0 -2.22 0M109.8 227.6a1.03 1.03 0 1 0 2.07 0a1.03 1.03 0 1 0 -2.07 0M91.2 259.3a0.91 0.91 0 1 0 1.82 0a0.91 0.91 0 1 0 -1.82 0M134.5 220.1a1.00 1.00 0 1 0 2.00 0a1.00 1.00 0 1 0 -2.00 0M60.2 278.1a1.19 1.19 0 1 0 2.38 0a1.19 1.19 0 1 0 -2.38 0M93.3 250.0a1.20 1.20 0 1 0 2.40 0a1.20 1.20 0 1 0 -2.40 0M140.5 219.9a1.18 1.18 0 1 0 2.37 0a1.18 1.18 0 1 0 -2.37 0M33.0 277.1a1.09 1.09 0 1 0 2.18 0a1.09 1.09 0 1 0 -2.18 0M154.0 212.7a1.08 1.08 0 1 0 2.15 0a1.08 1.08 0 1 0 -2.15 0M78.1 269.7a1.17 1.17 0 1 0 2.33 0a1.17 1.17 0 1 0 -2.33 0M78.9 245.7a1.01 1.01 0 1 0 2.01 0a1.01 1.01 0 1 0 -2.01 0M112.9 250.2a1.13 1.13 0 1 0 2.25 0a1.13 1.13 0 1 0 -2.25 0M95.0 303.2a1.12 1.12 0 1 0 2.24 0a1.12 1.12 0 1 0 -2.24 0M133.4 252.2a1.25 1.25 0 1 0 2.49 0a1.25 1.25 0 1 0 -2.49 0M74.0 276.8a1.25 1.25 0 1 0 2.49 0a1.25 1.25 0 1 0 -2.49 0M80.0 268.8a0.97 0.97 0 1 0 1.94 0a0.97 0.97 0 1 0 -1.94 0M71.4 243.2a1.04 1.04 0 1 0 2.08 0a1.04 1.04 0 1 0 -2.08 0M154.0 272.0a1.24 1.24 0 1 0 2.48 0a1.24 1.24 0 1 0 -2.48 0M105.8 297.1a1.17 1.17 0 1 0 2.35 0a1.17 1.17 0 1 0 -2.35 0M131.7 262.1a1.02 1.02 0 1 0 2.04 0a1.02 1.02 0 1 0 -2.04 0M74.5 270.5a1.01 1.01 0 1 0 2.01 0a1.01 1.01 0 1 0 -2.01 0M85.0 247.5a0.92 0.92 0 1 0 1.83 0a0.92 0.92 0 1 0 -1.83 0M100.0 205.7a0.92 0.92 0 1 0 1.85 0a0.92 0.92 0 1 0 -1.85 0M88.0 298.0a1.14 1.14 0 1 0 2.28 0a1.14 1.14 0 1 0 -2.28 0M55.3 230.4a1.08 1.08 0 1 0 2.17 0a1.08 1.08 0 1 0 -2.17 0M54.3 206.2a1.19 1.19 0 1 0 2.38 0a1.19 1.19 0 1 0 -2.38 0M82.6 257.1a0.92 0.92 0 1 0 1.83 0a0.92 0.92 0 1 0 -1.83 0M117.3 284.2a0.99 0.99 0 1 0 1.99 0a0.99 0.99 0 1 0 -1.99 0M71.8 240.4a1.07 1.07 0 1 0 2.14 0a1.07 1.07 0 1 0 -2.14 0M62.8 221.7a1.24 1.24 0 1 0 2.47 0a1.24 1.24 0 1 0 -2.47 0M20.6 293.1a1.12 1.12 0 1 0 2.24 0a1.12 1.12 0 1 0 -2.24 0M148.3 224.5a0.99 0.99 0 1 0 1.99 0a0.99 0.99 0 1 0 -1.99 0M39.8 300.9a1.06 1.06 0 1 0 2.11 0a1.06 1.06 0 1 0 -2.11 0M37.3 298.0a1.06 1.06 0 1 0 2.12 0a1.06 1.06 0 1 0 -2.12 0M142.8 244.7a1.01 1.01 0 1 0 2.02 0a1.01 1.01 0 1 0 -2.02 0M117.9 274.0a1.01 1.01 0 1 0 2.01 0a1.01 1.01 0 1 0 -2.01 0M61.6 296.2a1.23 1.23 0 1 0 2.47 0a1.23 1.23 0 1 0 -2.47 0M19.6 277.6a1.14 1.14 0 1 0 2.28 0a1.14 1.14 0 1 0 -2.28 0M131.5 299.9a1.11 1.11 0 1 0 2.23 0a1.11 1.11 0 1 0 -2.23 0M33.2 271.3a0.93 0.93 0 1 0 1.87 0a0.93 0.93 0 1 0 -1.87 0M79.8 277.4a1.24 1.24 0 1 0 2.48 0a1.24 1.24 0 1 0 -2.48 0M81.8 259.4a0.97 0.97 0 1 0 1.95 0a0.97 0.97 0 1 0 -1.95 0M86.6 210.0a0.97 0.97 0 1 0 1.95 0a0.97 0.97 0 1 0 -1.95 0M129.1 288.7a1.01 1.01 0 1 0 2.02 0a1.01 1.01 0 1 0 -2.02 0M57.1 218.9a0.96 0.96 0 1 0 1.91 0a0.96 0.96 0 1 0 -1.91 0M38.0 294.6a0.91 0.91 0 1 0 1.81 0a0.91 0.91 0 1 0 -1.81 0M93.1 257.8a0.99 0.99 0 1 0 1.98 0a0.99 0.99 0 1 0 -1.98 0M135.3 293.8a0.91 0.91 0 1 0 1.82 0a0.91 0.91 0 1 0 -1.82 0M22.5 227.1a0.94 0.94 0 1 0 1.88 0a0.94 0.94 0 1 0 -1.88 0M87.1 212.0a1.00 1.00 0 1 0 2.00 0a1.00 1.00 0 1 0 -2.00 0M110.0 239.4a1.12 1.12 0 1 0 2.24 0a1.12 1.12 0 1 0 -2.24 0M106.2 224.2a1.11 1.11 0 1 0 2.21 0a1.11 1.11 0 1 0 -2.21 0M65.7 262.1a1.10 1.10 0 1 0 2.19 0a1.10 1.10 0 1 0 -2.19 0M144.3 255.9a1.09 1.09 0 1 0 2.18 0a1.09 1.09 0 1 0 -2.18 0M76.2 268.1a1.15 1.15 0 1 0 2.30 0a1.15 1.15 0 1 0 -2.30 0M153.9 205.9a0.96 0.96 0 1 0 1.92 0a0.96 0.96 0 1 0 -1.92 0M146.1 288.4a1.20 1.20 0 1 0 2.40 0a1.20 1.20 0 1 0 -2.40 0M145.3 252.4a1.08 1.08 0 1 0 2.15 0a1.08 1.08 0 1 0 -2.15 0M22.0 254.3a1.06 1.06 0 1 0 2.11 0a1.06 1.06 0 1 0 -2.11 0M124.3 293.0a1.06 1.06 0 1 0 2.11 0a1.06 1.06 0 1 0 -2.11 0M24.5 225.8a1.16 1.16 0 1 0 2.31 0a1.16 1.16 0 1 0 -2.31 0M130.5 288.5a1.01 1.01 0 1 0 2.01 0a1.01 1.01 0 1 0 -2.01 0M87.3 220.0a1.22 1.22 0 1 0 2.45 0a1.22 1.22 0 1 0 -2.45 0M151.7 259.9a0.94 0.94 0 1 0 1.87 0a0.94 0.94 0 1 0 -1.87 0M90.3 257.2a1.20 1.20 0 1 0 2.39 0a1.20 1.20 0 1 0 -2.39 0M91.9 292.8a1.19 1.19 0 1 0 2.38 0a1.19 1.19 0 1 0 -2.38 0M44.7 239.3a1.01 1.01 0 1 0 2.03 0a1.01 1.01 0 1 0 -2.03 0M97.5 202.9a1.19 1.19 0 1 0 2.37 0a1.19 1.19 0 1 0 -2.37 0M75.5 231.9a1.00 1.00 0 1 0 1.99 0a1.00 1.00 0 1 0 -1.99 0M87.3 253.8a0.95 0.95 0 1 0 1.90 0a0.95 0.95 0 1 0 -1.90 0M127.3 258.7a1.06 1.06 0 1 0 2.12 0a1.06 1.06 0 1 0 -2.12 0M145.2 296.1a1.24 1.24 0 1 0 2.48 0a1.24 1.24 0 1 0 -2.48 0M146.9 282.8a0.95 0.95 0 1 0 1.89 0a0.95 0.95 0 1 0 -1.89 0M137.0 224.9a0.99 0.99 0 1 0 1.97 0a0.99 0.99 0 1 0 -1.97 0M67.4 297.6a1.13 1.13 0 1 0 2.25 0a1.13 1.13 0 1 0 -2.25 0M113.4 257.6a1.22 1.22 0 1 0 2.43 0a1.22 1.22 0 1 0 -2.43 0M149.0 263.6a1.18 1.18 0 1 0 2.37 0a1.18 1.18 0 1 0 -2.37 0M54.0 209.6a0.99 0.99 0 1 0 1.98 0a0.99 0.99 0 1 0 -1.98 0M106.9 288.4a1.18 1.18 0 1 0 2.36 0a1.18 1.18 0 1 0 -2.36 0M88.6 243.8a1.11 1.11 0 1 0 2.21 0a1.11 1.11 0 1 0 -2.21 0M116.6 228.2a1.21 1.21 0 1 0 2.42 0a1.21 1.21 0 1 0 -2.42 0M76.5 269.5a1.09 1.09 0 1 0 2.18 0a1.09 1.09 0 1 0 -2.18 0M118.8 284.1a1.25 1.25 0 1 0 2.50 0a1.25 1.25 0 1 0 -2.50 0M17.5 254.4a1.03 1.03 0 1 0 2.07 0a1.03 1.03 0 1 0 -2.07 0M73.3 291.3a1.18 1.18 0 1 0 2.36 0a1.18 1.18 0 1 0 -2.36 0M66.2 302.4a0.90 0.90 0 1 0 1.80 0a0.90 0.90 0 1 0 -1.80 0M114.2 198.9a0.94 0.94 0 1 0 1.88 0a0.94 0.94 0 1 0 -1.88 0M60.9 280.2a1.13 1.13 0 1 0 2.25 0a1.13 1.13 0 1 0 -2.25 0M90.5 255.4a1.19 1.19 0 1 0 2.37 0a1.19 1.19 0 1 0 -2.37 0M101.6 259.5a1.06 1.06 0 1 0 2.12 0a1.06 1.06 0 1 0 -2.12 0M99.1 256.3a1.24 1.24 0 1 0 2.48 0a1.24 1.24 0 1 0 -2.48 0M73.0 297.0a1.21 1.21 0 1 0 2.43 0a1.21 1.21 0 1 0 -2.43 0M147.2 287.5a1.03 1.03 0 1 0 2.07 0a1.03 1.03 0 1 0 -2.07 0M106.1 288.1a1.17 1.17 0 1 0 2.34 0a1.17 1.17 0 1 0 -2.34 0M84.8 213.6a0.95 0.95 0 1 0 1.90 0a0.95 0.95 0 1 0 -1.90 0M68.2 211.7a1.18 1.18 0 1 0 2.35 0a1.18 1.18 0 1 0 -2.35 0M52.7 252.5a1.16 1.16 0 1 0 2.32 0a1.16 1.16 0 1 0 -2.32 0M63.9 294.6a0.98 0.98 0 1 0 1.95 0a0.98 0.98 0 1 0 -1.95 0M117.7 207.9a0.95 0.95 0 1 0 1.89 0a0.95 0.95 0 1 0 -1.89 0M119.7 209.2a0.95 0.95 0 1 0 1.91 0a0.95 0.95 0 1 0 -1.91 0M72.6 274.6a1.19 1.19 0 1 0 2.38 0a1.19 1.19 0 1 0 -2.38 0M151.4 203.7a0.98 0.98 0 1 0 1.95 0a0.98 0.98 0 1 0 -1.95 0M150.2 300.5a0.94 0.94 0 1 0 1.87 0a0.94 0.94 0 1 0 -1.87 0M134.2 276.4a1.25 1.25 0 1 0 2.50 0a1.25 1.25 0 1 0 -2.50 0M84.0 281.9a1.20 1.20 0 1 0 2.40 0a1.20 1.20 0 1 0 -2.40 0M107.6 289.6a0.94 0.94 0 1 0 1.89 0a0.94 0.94 0 1 0 -1.89 0M88.3 293.7a0.94 0.94 0 1 0 1.88 0a0.94 0.94 0 1 0 -1.88 0M37.3 263.0a1.15 1.15 0 1 0 2.29 0a1.15 1.15 0 1 0 -2.29 0M75.1 291.9a1.25 1.25 0 1 0 2.49 0a1.25 1.25 0 1 0 -2.49 0M105.8 283.7a1.22 1.22 0 1 0 2.44 0a1.22 1.22 0 1 0 -2.44 0M64.2 249.5a0.90 0.90 0 1 0 1.81 0a0.90 0.90 0 1 0 -1.81 0M65.3 291.6a1.15 1.15 0 1 0 2.30 0a1.15 1.15 0 1 0 -2.30 0M78.5 278.4a1.19 1.19 0 1 0 2.39 0a1.19 1.19 0 1 0 -2.39 0M54.7 224.3a0.95 0.95 0 1 0 1.90 0a0.95 0.95 0 1 0 -1.90 0M95.5 261.4a1.24 1.24 0 1 0 2.47 0a1.24 1.24 0 1 0 -2.47 0M88.4 298.0a0.99 0.99 0 1 0 1.99 0a0.99 0.99 0 1 0 -1.99 0M54.1 220.9a1.03 1.03 0 1 0 2.06 0a1.03 1.03 0 1 0 -2.06 0M41.2 278.3a1.16 1.16 0 1 0 2.32 0a1.16 1.16 0 1 0 -2.32 0M92.0 204.4a1.01 1.01 0 1 0 2.03 0a1.01 1.01 0 1 0 -2.03 0M124.1 302.5a0.97 0.97 0 1 0 1.95 0a0.97 0.97 0 1 0 -1.95 0M63.1 211.8a0.95 0.95 0 1 0 1.90 0a0.95 0.95 0 1 0 -1.90 0M106.3 285.7a0.92 0.92 0 1 0 1.84 0a0.92 0.92 0 1 0 -1.84 0M48.3 219.3a1.10 1.10 0 1 0 2.20 0a1.10 1.10 0 1 0 -2.20 0M62.5 279.9a1.19 1.19 0 1 0 2.38 0a1.19 1.19 0 1 0 -2.38 0M28.2 222.0a1.14 1.14 0 1 0 2.28 0a1.14 1.14 0 1 0 -2.28 0M54.4 274.1a1.03 1.03 0 1 0 2.07 0a1.03 1.03 0 1 0 -2.07 0M35.9 224.7a1.17 1.17 0 1 0 2.34 0a1.17 1.17 0 1 0 -2.34 0M65.2 208.0a1.25 1.25 0 1 0 2.50 0a1.25 1.25 0 1 0 -2.50 0M54.6 203.5a0.91 0.91 0 1 0 1.82 0a0.91 0.91 0 1 0 -1.82 0M68.9 274.2a1.14 1.14 0 1 0 2.28 0a1.14 1.14 0 1 0 -2.28 0M55.1 252.6a1.01 1.01 0 1 0 2.03 0a1.01 1.01 0 1 0 -2.03 0M146.8 281.7a1.15 1.15 0 1 0 2.31 0a1.15 1.15 0 1 0 -2.31 0M73.6 269.9a1.12 1.12 0 1 0 2.23 0a1.12 1.12 0 1 0 -2.23 0M75.6 296.7a1.01 1.01 0 1 0 2.01 0a1.01 1.01 0 1 0 -2.01 0M94.0 204.0a1.08 1.08 0 1 0 2.16 0a1.08 1.08 0 1 0 -2.16 0M143.4 227.2a0.91 0.91 0 1 0 1.81 0a0.91 0.91 0 1 0 -1.81 0M53.3 211.6a1.15 1.15 0 1 0 2.30 0a1.15 1.15 0 1 0 -2.30 0M108.8 255.7a1.09 1.09 0 1 0 2.18 0a1.09 1.09 0 1 0 -2.18 0M88.0 259.5a1.12 1.12 0 1 0 2.23 0a1.12 1.12 0 1 0 -2.23 0M38.5 294.6a0.95 0.95 0 1 0 1.90 0a0.95 0.95 0 1 0 -1.90 0M84.7 282.7a1.17 1.17 0 1 0 2.34 0a1.17 1.17 0 1 0 -2.34 0M39.0 287.8a1.03 1.03 0 1 0 2.07 0a1.03 1.03 0 1 0 -2.07 0M154.5 213.6a1.00 1.00 0 1 0 2.01 0a1.00 1.00 0 1 0 -2.01 0M101.5 199.2a1.23 1.23 0 1 0 2.47 0a1.23 1.23 0 1 0 -2.47 0M34.9 277.0a1.23 1.23 0 1 0 2.46 0a1.23 1.23 0 1 0 -2.46 0M126.5 261.4a1.05 1.05 0 1 0 2.10 0a1.05 1.05 0 1 0 -2.10 0M73.9 247.0a0.93 0.93 0 1 0 1.87 0a0.93 0.93 0 1 0 -1.87 0M116.0 198.4a0.91 0.91 0 1 0 1.83 0a0.91 0.91 0 1 0 -1.83 0M91.3 278.7a1.09 1.09 0 1 0 2.19 0a1.09 1.09 0 1 0 -2.19 0M144.8 267.3a1.18 1.18 0 1 0 2.36 0a1.18 1.18 0 1 0 -2.36 0M147.6 263.8a0.94 0.94 0 1 0 1.87 0a0.94 0.94 0 1 0 -1.87 0M32.7 202.6a1.15 1.15 0 1 0 2.29 0a1.15 1.15 0 1 0 -2.29 0M65.1 267.6a1.25 1.25 0 1 0 2.50 0a1.25 1.25 0 1 0 -2.50 0M103.6 242.0a1.03 1.03 0 1 0 2.05 0a1.03 1.03 0 1 0 -2.05 0M78.6 272.0a1.12 1.12 0 1 0 2.24 0a1.12 1.12 0 1 0 -2.24 0M64.6 210.3a1.08 1.08 0 1 0 2.16 0a1.08 1.08 0 1 0 -2.16 0M85.2 234.2a1.15 1.15 0 1 0 2.30 0a1.15 1.15 0 1 0 -2.30 0M84.2 220.4a1.12 1.12 0 1 0 2.24 0a1.12 1.12 0 1 0 -2.24 0M117.7 208.8a1.02 1.02 0 1 0 2.03 0a1.02 1.02 0 1 0 -2.03 0M50.9 269.6a1.16 1.16 0 1 0 2.32 0a1.16 1.16 0 1 0 -2.32 0M125.8 274.5a0.97 0.97 0 1 0 1.94 0a0.97 0.97 0 1 0 -1.94 0M33.4 249.8a0.99 0.99 0 1 0 1.99 0a0.99 0.99 0 1 0 -1.99 0M69.7 209.8a0.91 0.91 0 1 0 1.82 0a0.91 0.91 0 1 0 -1.82 0M81.2 238.0a1.08 1.08 0 1 0 2.15 0a1.08 1.08 0 1 0 -2.15 0M38.3 253.6a0.94 0.94 0 1 0 1.87 0a0.94 0.94 0 1 0 -1.87 0M72.3 265.1a1.16 1.16 0 1 0 2.32 0a1.16 1.16 0 1 0 -2.32 0M114.7 302.8a1.09 1.09 0 1 0 2.18 0a1.09 1.09 0 1 0 -2.18 0M144.7 268.1a1.02 1.02 0 1 0 2.04 0a1.02 1.02 0 1 0 -2.04 0M148.7 299.5a0.96 0.96 0 1 0 1.92 0a0.96 0.96 0 1 0 -1.92 0M47.2 223.1a0.91 0.91 0 1 0 1.83 0a0.91 0.91 0 1 0 -1.83 0M115.3 271.1a1.13 1.13 0 1 0 2.26 0a1.13 1.13 0 1 0 -2.26 0M72.6 247.3a1.10 1.10 0 1 0 2.20 0a1.10 1.10 0 1 0 -2.20 0M95.5 265.9a1.07 1.07 0 1 0 2.14 0a1.07 1.07 0 1 0 -2.14 0M126.1 200.5a1.20 1.20 0 1 0 2.40 0a1.20 1.20 0 1 0 -2.40 0M74.9 261.0a1.25 1.25 0 1 0 2.49 0a1.25 1.25 0 1 0 -2.49 0M125.1 265.4a1.25 1.25 0 1 0 2.49 0a1.25 1.25 0 1 0 -2.49 0M40.1 240.0a1.04 1.04 0 1 0 2.07 0a1.04 1.04 0 1 0 -2.07 0M67.2 214.3a1.10 1.10 0 1 0 2.20 0a1.10 1.10 0 1 0 -2.20 0M104.3 275.4a1.02 1.02 0 1 0 2.04 0a1.02 1.02 0 1 0 -2.04 0M152.1 222.1a0.92 0.92 0 1 0 1.85 0a0.92 0.92 0 1 0 -1.85 0M44.3 243.5a1.21 1.21 0 1 0 2.41 0a1.21 1.21 0 1 0 -2.41 0M81.6 273.3a0.93 0.93 0 1 0 1.86 0a0.93 0.93 0 1 0 -1.86 0M127.4 204.4a1.16 1.16 0 1 0 2.32 0a1.16 1.16 0 1 0 -2.32 0M35.7 261.2a1.14 1.14 0 1 0 2.27 0a1.14 1.14 0 1 0 -2.27 0M136.6 213.0a0.97 0.97 0 1 0 1.94 0a0.97 0.97 0 1 0 -1.94 0M66.9 286.7a0.98 0.98 0 1 0 1.96 0a0.98 0.98 0 1 0 -1.96 0M85.9 229.1a1.08 1.08 0 1 0 2.16 0a1.08 1.08 0 1 0 -2.16 0M81.7 228.9a1.18 1.18 0 1 0 2.37 0a1.18 1.18 0 1 0 -2.37 0M69.0 245.1a1.12 1.12 0 1 0 2.23 0a1.12 1.12 0 1 0 -2.23 0M38.8 212.3a1.22 1.22 0 1 0 2.45 0a1.22 1.22 0 1 0 -2.45 0M137.2 265.1a0.99 0.99 0 1 0 1.97 0a0.99 0.99 0 1 0 -1.97 0M72.3 294.4a1.24 1.24 0 1 0 2.49 0a1.24 1.24 0 1 0 -2.49 0M109.7 252.8a1.18 1.18 0 1 0 2.37 0a1.18 1.18 0 1 0 -2.37 0M16.9 211.0a0.97 0.97 0 1 0 1.94 0a0.97 0.97 0 1 0 -1.94 0M111.3 295.4a1.08 1.08 0 1 0 2.15 0a1.08 1.08 0 1 0 -2.15 0M125.1 242.7a1.00 1.00 0 1 0 1.99 0a1.00 1.00 0 1 0 -1.99 0M42.6 200.0a1.16 1.16 0 1 0 2.33 0a1.16 1.16 0 1 0 -2.33 0M132.5 255.1a1.22 1.22 0 1 0 2.45 0a1.22 1.22 0 1 0 -2.45 0M27.1 276.9a1.20 1.20 0 1 0 2.39 0a1.20 1.20 0 1 0 -2.39 0M151.7 261.0a0.97 0.97 0 1 0 1.93 0a0.97 0.97 0 1 0 -1.93 0M67.3 222.8a1.13 1.13 0 1 0 2.26 0a1.13 1.13 0 1 0 -2.26 0M64.7 203.8a0.92 0.92 0 1 0 1.83 0a0.92 0.92 0 1 0 -1.83 0M137.1 297.2a1.06 1.06 0 1 0 2.13 0a1.06 1.06 0 1 0 -2.13 0M156.4 286.4a1.04 1.04 0 1 0 2.08 0a1.04 1.04 0 1 0 -2.08 0M135.4 266.4a1.04 1.04 0 1 0 2.08 0a1.04 1.04 0 1 0 -2.08 0M152.1 203.5a1.23 1.23 0 1 0 2.46 0a1.23 1.23 0 1 0 -2.46 0M76.7 260.3a1.01 1.01 0 1 0 2.02 0a1.01 1.01 0 1 0 -2.02 0M95.1 303.4a0.92 0.92 0 1 0 1.85 0a0.92 0.92 0 1 0 -1.85 0M74.9 303.6a1.18 1.18 0 1 0 2.35 0a1.18 1.18 0 1 0 -2.35 0M21.7 254.1a0.94 0.94 0 1 0 1.87 0a0.94 0.94 0 1 0 -1.87 0M122.5 201.9a1.03 1.03 0 1 0 2.06 0a1.03 1.03 0 1 0 -2.06 0M28.2 255.2a1.02 1.02 0 1 0 2.03 0a1.02 1.02 0 1 0 -2.03 0M16.9 215.2a1.01 1.01 0 1 0 2.03 0a1.01 1.01 0 1 0 -2.03 0M37.3 209.7a1.01 1.01 0 1 0 2.02 0a1.01 1.01 0 1 0 -2.02 0M124.8 224.3a1.18 1.18 0 1 0 2.35 0a1.18 1.18 0 1 0 -2.35 0M94.1 258.8a1.12 1.12 0 1 0 2.23 0a1.12 1.12 0 1 0 -2.23 0M144.2 298.7a1.04 1.04 0 1 0 2.09 0a1.04 1.04 0 1 0 -2.09 0M119.1 226.0a0.97 0.97 0 1 0 1.95 0a0.97 0.97 0 1 0 -1.95 0M22.9 252.3a1.18 1.18 0 1 0 2.35 0a1.18 1.18 0 1 0 -2.35 0M132.6 206.2a1.01 1.01 0 1 0 2.02 0a1.01 1.01 0 1 0 -2.02 0M35.2 244.9a1.03 1.03 0 1 0 2.05 0a1.03 1.03 0 1 0 -2.05 0M156.3 242.3a0.96 0.96 0 1 0 1.91 0a0.96 0.96 0 1 0 -1.91 0M99.4 268.2a1.21 1.21 0 1 0 2.41 0a1.21 1.21 0 1 0 -2.41 0M49.1 260.2a1.24 1.24 0 1 0 2.48 0a1.24 1.24 0 1 0 -2.48 0M54.2 219.0a0.92 0.92 0 1 0 1.84 0a0.92 0.92 0 1 0 -1.84 0M147.5 263.1a1.02 1.02 0 1 0 2.05 0a1.02 1.02 0 1 0 -2.05 0M17.8 301.8a0.91 0.91 0 1 0 1.82 0a0.91 0.91 0 1 0 -1.82 0M21.8 222.6a1.21 1.21 0 1 0 2.42 0a1.21 1.21 0 1 0 -2.42 0M21.4 254.0a0.97 0.97 0 1 0 1.95 0a0.97 0.97 0 1 0 -1.95 0M87.7 232.5a1.23 1.23 0 1 0 2.46 0a1.23 1.23 0 1 0 -2.46 0M42.1 270.4a1.00 1.00 0 1 0 2.01 0a1.00 1.00 0 1 0 -2.01 0M103.1 236.6a1.07 1.07 0 1 0 2.14 0a1.07 1.07 0 1 0 -2.14 0M104.6 268.3a1.23 1.23 0 1 0 2.47 0a1.23 1.23 0 1 0 -2.47 0M98.6 234.0a1.13 1.13 0 1 0 2.25 0a1.13 1.13 0 1 0 -2.25 0M129.9 298.6a1.19 1.19 0 1 0 2.38 0a1.19 1.19 0 1 0 -2.38 0M149.2 288.4a1.11 1.11 0 1 0 2.22 0a1.11 1.11 0 1 0 -2.22 0M101.8 215.7a0.99 0.99 0 1 0 1.99 0a0.99 0.99 0 1 0 -1.99 0M96.0 283.2a1.11 1.11 0 1 0 2.23 0a1.11 1.11 0 1 0 -2.23 0M18.3 278.1a1.17 1.17 0 1 0 2.35 0a1.17 1.17 0 1 0 -2.35 0M49.1 245.1a1.14 1.14 0 1 0 2.29 0a1.14 1.14 0 1 0 -2.29 0M156.0 213.6a1.20 1.20 0 1 0 2.40 0a1.20 1.20 0 1 0 -2.40 0M66.9 281.0a0.90 0.90 0 1 0 1.81 0a0.90 0.90 0 1 0 -1.81 0M24.0 238.2a1.01 1.01 0 1 0 2.03 0a1.01 1.01 0 1 0 -2.03 0M45.9 206.9a0.94 0.94 0 1 0 1.88 0a0.94 0.94 0 1 0 -1.88 0M25.8 280.6a1.00 1.00 0 1 0 2.01 0a1.00 1.00 0 1 0 -2.01 0M49.1 299.7a1.15 1.15 0 1 0 2.29 0a1.15 1.15 0 1 0 -2.29 0M122.4 265.8a1.01 1.01 0 1 0 2.01 0a1.01 1.01 0 1 0 -2.01 0M153.8 283.7a1.20 1.20 0 1 0 2.40 0a1.20 1.20 0 1 0 -2.40 0M148.8 262.4a1.12 1.12 0 1 0 2.23 0a1.12 1.12 0 1 0 -2.23 0M117.1 238.3a1.12 1.12 0 1 0 2.24 0a1.12 1.12 0 1 0 -2.24 0M121.7 291.0a0.90 0.90 0 1 0 1.80 0a0.90 0.90 0 1 0 -1.80 0M79.3 216.3a0.95 0.95 0 1 0 1.90 0a0.95 0.95 0 1 0 -1.90 0M94.6 290.5a1.08 1.08 0 1 0 2.16 0a1.08 1.08 0 1 0 -2.16 0M32.0 266.4a1.18 1.18 0 1 0 2.37 0a1.18 1.18 0 1 0 -2.37 0M18.1 231.1a0.93 0.93 0 1 0 1.86 0a0.93 0.93 0 1 0 -1.86 0M47.5 262.1a1.13 1.13 0 1 0 2.25 0a1.13 1.13 0 1 0 -2.25 0M78.2 281.0a0.92 0.92 0 1 0 1.84 0a0.92 0.92 0 1 0 -1.84 0M88.5 212.0a1.22 1.22 0 1 0 2.45 0a1.22 1.22 0 1 0 -2.45 0M47.2 269.2a1.05 1.05 0 1 0 2.10 0a1.05 1.05 0 1 0 -2.10 0M25.7 199.2a1.09 1.09 0 1 0 2.18 0a1.09 1.09 0 1 0 -2.18 0M102.8 257.2a1.06 1.06 0 1 0 2.13 0a1.06 1.06 0 1 0 -2.13 0M94.3 224.8a0.98 0.98 0 1 0 1.96 0a0.98 0.98 0 1 0 -1.96 0M50.1 256.8a1.06 1.06 0 1 0 2.12 0a1.06 1.06 0 1 0 -2.12 0M33.3 257.6a1.08 1.08 0 1 0 2.15 0a1.08 1.08 0 1 0 -2.15 0M47.1 216.9a1.22 1.22 0 1 0 2.43 0a1.22 1.22 0 1 0 -2.43 0M140.4 213.7a1.19 1.19 0 1 0 2.38 0a1.19 1.19 0 1 0 -2.38 0M122.2 299.7a0.92 0.92 0 1 0 1.84 0a0.92 0.92 0 1 0 -1.84 0M128.7 268.4a0.94 0.94 0 1 0 1.88 0a0.94 0.94 0 1 0 -1.88 0M119.2 207.5a1.18 1.18 0 1 0 2.35 0a1.18 1.18 0 1 0 -2.35 0M117.2 253.9a1.20 1.20 0 1 0 2.41 0a1.20 1.20 0 1 0 -2.41 0M52.0 218.8a1.02 1.02 0 1 0 2.04 0a1.02 1.02 0 1 0 -2.04 0M138.9 238.6a1.14 1.14 0 1 0 2.28 0a1.14 1.14 0 1 0 -2.28 0M134.0 249.9a1.02 1.02 0 1 0 2.04 0a1.02 1.02 0 1 0 -2.04 0M32.3 205.9a1.18 1.18 0 1 0 2.36 0a1.18 1.18 0 1 0 -2.36 0M59.3 300.7a1.02 1.02 0 1 0 2.03 0a1.02 1.02 0 1 0 -2.03 0M80.9 235.4a1.04 1.04 0 1 0 2.08 0a1.04 1.04 0 1 0 -2.08 0M68.8 230.2a1.01 1.01 0 1 0 2.01 0a1.01 1.01 0 1 0 -2.01 0M116.9 214.1a1.06 1.06 0 1 0 2.12 0a1.06 1.06 0 1 0 -2.12 0M39.2 284.0a0.99 0.99 0 1 0 1.98 0a0.99 0.99 0 1 0 -1.98 0M40.6 288.5a1.01 1.01 0 1 0 2.02 0a1.01 1.01 0 1 0 -2.02 0M66.4 245.7a0.94 0.94 0 1 0 1.88 0a0.94 0.94 0 1 0 -1.88 0M26.1 218.0a1.09 1.09 0 1 0 2.17 0a1.09 1.09 0 1 0 -2.17 0M151.3 266.8a1.16 1.16 0 1 0 2.31 0a1.16 1.16 0 1 0 -2.31 0M137.6 280.7a1.12 1.12 0 1 0 2.24 0a1.12 1.12 0 1 0 -2.24 0M108.9 217.8a1.03 1.03 0 1 0 2.06 0a1.03 1.03 0 1 0 -2.06 0M117.1 282.4a0.92 0.92 0 1 0 1.84 0a0.92 0.92 0 1 0 -1.84 0M62.6 240.8a1.03 1.03 0 1 0 2.05 0a1.03 1.03 0 1 0 -2.05 0M115.1 199.0a0.93 0.93 0 1 0 1.87 0a0.93 0.93 0 1 0 -1.87 0M88.0 226.4a0.96 0.96 0 1 0 1.91 0a0.96 0.96 0 1 0 -1.91 0M88.5 293.3a1.09 1.09 0 1 0 2.18 0a1.09 1.09 0 1 0 -2.18 0M127.9 289.2a1.05 1.05 0 1 0 2.11 0a1.05 1.05 0 1 0 -2.11 0M88.8 235.8a1.05 1.05 0 1 0 2.10 0a1.05 1.05 0 1 0 -2.10 0M67.7 203.5a1.03 1.03 0 1 0 2.05 0a1.03 1.03 0 1 0 -2.05 0M114.8 220.6a1.05 1.05 0 1 0 2.11 0a1.05 1.05 0 1 0 -2.11 0M64.6 258.9a1.19 1.19 0 1 0 2.39 0a1.19 1.19 0 1 0 -2.39 0M47.1 292.1a1.09 1.09 0 1 0 2.19 0a1.09 1.09 0 1 0 -2.19 0M87.0 235.1a1.07 1.07 0 1 0 2.14 0a1.07 1.07 0 1 0 -2.14 0M121.0 258.1a1.25 1.25 0 1 0 2.50 0a1.25 1.25 0 1 0 -2.50 0M28.9 233.9a1.20 1.20 0 1 0 2.40 0a1.20 1.20 0 1 0 -2.40 0M107.5 232.3a1.25 1.25 0 1 0 2.49 0a1.25 1.25 0 1 0 -2.49 0M60.7 286.2a0.99 0.99 0 1 0 1.98 0a0.99 0.99 0 1 0 -1.98 0M75.3 199.6a0.96 0.96 0 1 0 1.91 0a0.96 0.96 0 1 0 -1.91 0M77.4 296.0a0.98 0.98 0 1 0 1.95 0a0.98 0.98 0 1 0 -1.95 0M118.1 250.4a1.00 1.00 0 1 0 2.00 0a1.00 1.00 0 1 0 -2.00 0M62.0 235.4a1.04 1.04 0 1 0 2.08 0a1.04 1.04 0 1 0 -2.08 0M114.6 218.6a1.24 1.24 0 1 0 2.49 0a1.24 1.24 0 1 0 -2.49 0M153.6 223.9a1.16 1.16 0 1 0 2.31 0a1.16 1.16 0 1 0 -2.31 0M26.3 253.0a1.07 1.07 0 1 0 2.13 0a1.07 1.07 0 1 0 -2.13 0M146.0 282.1a1.10 1.10 0 1 0 2.19 0a1.10 1.10 0 1 0 -2.19 0M70.8 274.7a1.19 1.19 0 1 0 2.38 0a1.19 1.19 0 1 0 -2.38 0M99.5 203.7a1.15 1.15 0 1 0 2.31 0a1.15 1.15 0 1 0 -2.31 0M49.9 266.3a1.09 1.09 0 1 0 2.18 0a1.09 1.09 0 1 0 -2.18 0M123.6 235.9a0.96 0.96 0 1 0 1.91 0a0.96 0.96 0 1 0 -1.91 0M151.1 258.1a1.24 1.24 0 1 0 2.48 0a1.24 1.24 0 1 0 -2.48 0M83.8 259.0a1.21 1.21 0 1 0 2.42 0a1.21 1.21 0 1 0 -2.42 0M108.7 252.0a1.25 1.25 0 1 0 2.49 0a1.25 1.25 0 1 0 -2.49 0M61.0 212.9a0.96 0.96 0 1 0 1.92 0a0.96 0.96 0 1 0 -1.92 0M103.6 230.8a1.09 1.09 0 1 0 2.19 0a1.09 1.09 0 1 0 -2.19 0M88.5 231.1a1.08 1.08 0 1 0 2.16 0a1.08 1.08 0 1 0 -2.16 0M100.1 281.3a1.00 1.00 0 1 0 2.00 0a1.00 1.00 0 1 0 -2.00 0M131.4 234.2a1.05 1.05 0 1 0 2.10 0a1.05 1.05 0 1 0 -2.10 0M120.2 263.5a1.05 1.05 0 1 0 2.11 0a1.05 1.05 0 1 0 -2.11 0M67.9 220.1a0.93 0.93 0 1 0 1.86 0a0.93 0.93 0 1 0 -1.86 0M71.2 245.0a0.96 0.96 0 1 0 1.93 0a0.96 0.96 0 1 0 -1.93 0M21.3 218.7a1.24 1.24 0 1 0 2.48 0a1.24 1.24 0 1 0 -2.48 0M57.3 235.1a1.16 1.16 0 1 0 2.33 0a1.16 1.16 0 1 0 -2.33 0M41.8 280.1a1.09 1.09 0 1 0 2.19 0a1.09 1.09 0 1 0 -2.19 0M154.3 256.3a1.06 1.06 0 1 0 2.11 0a1.06 1.06 0 1 0 -2.11 0M142.2 209.0a0.92 0.92 0 1 0 1.84 0a0.92 0.92 0 1 0 -1.84 0M82.2 251.8a0.96 0.96 0 1 0 1.91 0a0.96 0.96 0 1 0 -1.91 0M141.1 263.0a1.20 1.20 0 1 0 2.40 0a1.20 1.20 0 1 0 -2.40 0M36.9 300.7a1.11 1.11 0 1 0 2.23 0a1.11 1.11 0 1 0 -2.23 0M141.9 266.8a0.95 0.95 0 1 0 1.91 0a0.95 0.95 0 1 0 -1.91 0M23.8 214.3a1.03 1.03 0 1 0 2.06 0a1.03 1.03 0 1 0 -2.06 0M72.5 239.1a1.15 1.15 0 1 0 2.30 0a1.15 1.15 0 1 0 -2.30 0M59.2 259.6a1.01 1.01 0 1 0 2.02 0a1.01 1.01 0 1 0 -2.02 0M30.6 217.2a0.95 0.95 0 1 0 1.91 0a0.95 0.95 0 1 0 -1.91 0M92.0 231.6a1.19 1.19 0 1 0 2.38 0a1.19 1.19 0 1 0 -2.38 0M148.5 234.2a1.10 1.10 0 1 0 2.21 0a1.10 1.10 0 1 0 -2.21 0M61.9 271.1a1.19 1.19 0 1 0 2.38 0a1.19 1.19 0 1 0 -2.38 0M50.4 219.4a1.11 1.11 0 1 0 2.22 0a1.11 1.11 0 1 0 -2.22 0M144.4 278.4a1.01 1.01 0 1 0 2.03 0a1.01 1.01 0 1 0 -2.03 0M67.0 261.6a1.21 1.21 0 1 0 2.42 0a1.21 1.21 0 1 0 -2.42 0M127.6 288.3a1.00 1.00 0 1 0 2.00 0a1.00 1.00 0 1 0 -2.00 0M101.6 280.5a1.19 1.19 0 1 0 2.39 0a1.19 1.19 0 1 0 -2.39 0M132.8 232.1a0.97 0.97 0 1 0 1.94 0a0.97 0.97 0 1 0 -1.94 0M77.8 283.5a0.93 0.93 0 1 0 1.87 0a0.93 0.93 0 1 0 -1.87 0M32.0 281.7a1.19 1.19 0 1 0 2.37 0a1.19 1.19 0 1 0 -2.37 0M36.7 244.4a1.09 1.09 0 1 0 2.18 0a1.09 1.09 0 1 0 -2.18 0M90.1 227.5a1.23 1.23 0 1 0 2.46 0a1.23 1.23 0 1 0 -2.46 0M153.3 215.2a1.24 1.24 0 1 0 2.48 0a1.24 1.24 0 1 0 -2.48 0M90.0 243.8a1.20 1.20 0 1 0 2.39 0a1.20 1.20 0 1 0 -2.39 0M115.8 231.7a0.95 0.95 0 1 0 1.90 0a0.95 0.95 0 1 0 -1.90 0M35.0 247.7a1.25 1.25 0 1 0 2.50 0a1.25 1.25 0 1 0 -2.50 0M35.9 292.5a1.02 1.02 0 1 0 2.04 0a1.02 1.02 0 1 0 -2.04 0M20.6 247.0a0.97 0.97 0 1 0 1.94 0a0.97 0.97 0 1 0 -1.94 0M144.7 198.8a1.14 1.14 0 1 0 2.29 0a1.14 1.14 0 1 0 -2.29 0M43.0 282.3a1.18 1.18 0 1 0 2.37 0a1.18 1.18 0 1 0 -2.37 0M138.9 233.3a1.06 1.06 0 1 0 2.11 0a1.06 1.06 0 1 0 -2.11 0M90.2 267.0a1.13 1.13 0 1 0 2.27 0a1.13 1.13 0 1 0 -2.27 0M108.0 296.6a1.03 1.03 0 1 0 2.07 0a1.03 1.03 0 1 0 -2.07 0M146.9 218.9a0.95 0.95 0 1 0 1.90 0a0.95 0.95 0 1 0 -1.90 0M110.9 246.4a1.12 1.12 0 1 0 2.23 0a1.12 1.12 0 1 0 -2.23 0M40.7 284.8a1.08 1.08 0 1 0 2.17 0a1.08 1.08 0 1 0 -2.17 0M75.0 288.9a1.14 1.14 0 1 0 2.29 0a1.14 1.14 0 1 0 -2.29 0M126.6 260.0a0.92 0.92 0 1 0 1.83 0a0.92 0.92 0 1 0 -1.83 0M146.5 236.7a0.92 0.92 0 1 0 1.84 0a0.92 0.92 0 1 0 -1.84 0M106.1 211.4a1.23 1.23 0 1 0 2.47 0a1.23 1.23 0 1 0 -2.47 0M122.4 301.6a1.11 1.11 0 1 0 2.21 0a1.11 1.11 0 1 0 -2.21 0M101.5 208.5a1.09 1.09 0 1 0 2.18 0a1.09 1.09 0 1 0 -2.18 0M107.3 255.7a1.04 1.04 0 1 0 2.09 0a1.04 1.04 0 1 0 -2.09 0M70.1 286.0a1.01 1.01 0 1 0 2.02 0a1.01 1.01 0 1 0 -2.02 0M100.1 289.6a1.03 1.03 0 1 0 2.06 0a1.03 1.03 0 1 0 -2.06 0M141.1 218.9a1.14 1.14 0 1 0 2.28 0a1.14 1.14 0 1 0 -2.28 0M88.9 294.3a0.98 0.98 0 1 0 1.96 0a0.98 0.98 0 1 0 -1.96 0M25.1 243.5a1.00 1.00 0 1 0 2.01 0a1.00 1.00 0 1 0 -2.01 0M100.4 227.5a1.12 1.12 0 1 0 2.23 0a1.12 1.12 0 1 0 -2.23 0M144.8 289.9a1.17 1.17 0 1 0 2.34 0a1.17 1.17 0 1 0 -2.34 0M91.9 226.6a0.96 0.96 0 1 0 1.92 0a0.96 0.96 0 1 0 -1.92 0M58.2 260.5a1.01 1.01 0 1 0 2.02 0a1.01 1.01 0 1 0 -2.02 0M123.8 268.6a1.04 1.04 0 1 0 2.09 0a1.04 1.04 0 1 0 -2.09 0M86.2 284.9a0.94 0.94 0 1 0 1.88 0a0.94 0.94 0 1 0 -1.88 0M128.0 255.3a1.01 1.01 0 1 0 2.01 0a1.01 1.01 0 1 0 -2.01 0M157.6 288.0a1.06 1.06 0 1 0 2.11 0a1.06 1.06 0 1 0 -2.11 0M92.8 211.5a1.24 1.24 0 1 0 2.48 0a1.24 1.24 0 1 0 -2.48 0M119.0 251.2a0.91 0.91 0 1 0 1.82 0a0.91 0.91 0 1 0 -1.82 0M113.2 262.1a1.12 1.12 0 1 0 2.25 0a1.12 1.12 0 1 0 -2.25 0M29.3 250.8a1.02 1.02 0 1 0 2.04 0a1.02 1.02 0 1 0 -2.04 0M43.0 204.2a0.94 0.94 0 1 0 1.88 0a0.94 0.94 0 1 0 -1.88 0M91.3 277.7a0.97 0.97 0 1 0 1.94 0a0.97 0.97 0 1 0 -1.94 0M138.8 207.8a1.02 1.02 0 1 0 2.05 0a1.02 1.02 0 1 0 -2.05 0M78.0 263.1a1.00 1.00 0 1 0 2.00 0a1.00 1.00 0 1 0 -2.00 0M152.8 287.2a1.05 1.05 0 1 0 2.10 0a1.05 1.05 0 1 0 -2.10 0M42.7 279.2a0.91 0.91 0 1 0 1.82 0a0.91 0.91 0 1 0 -1.82 0M151.0 242.0a1.23 1.23 0 1 0 2.46 0a1.23 1.23 0 1 0 -2.46 0M156.5 281.5a0.98 0.98 0 1 0 1.96 0a0.98 0.98 0 1 0 -1.96 0M25.7 245.4a1.18 1.18 0 1 0 2.37 0a1.18 1.18 0 1 0 -2.37 0M114.0 301.5a1.08 1.08 0 1 0 2.16 0a1.08 1.08 0 1 0 -2.16 0M119.8 296.3a1.11 1.11 0 1 0 2.23 0a1.11 1.11 0 1 0 -2.23 0M126.0 272.2a1.25 1.25 0 1 0 2.50 0a1.25 1.25 0 1 0 -2.50 0M114.0 238.4a0.91 0.91 0 1 0 1.82 0a0.91 0.91 0 1 0 -1.82 0M92.1 200.9a0.98 0.98 0 1 0 1.96 0a0.98 0.98 0 1 0 -1.96 0M141.6 272.2a1.05 1.05 0 1 0 2.11 0a1.05 1.05 0 1 0 -2.11 0M51.6 250.1a0.94 0.94 0 1 0 1.88 0a0.94 0.94 0 1 0 -1.88 0M107.1 261.0a1.21 1.21 0 1 0 2.43 0a1.21 1.21 0 1 0 -2.43 0M153.9 286.5a0.91 0.91 0 1 0 1.82 0a0.91 0.91 0 1 0 -1.82 0M76.6 204.7a1.04 1.04 0 1 0 2.07 0a1.04 1.04 0 1 0 -2.07 0M44.8 226.9a1.11 1.11 0 1 0 2.22 0a1.11 1.11 0 1 0 -2.22 0M62.4 297.7a1.10 1.10 0 1 0 2.19 0a1.10 1.10 0 1 0 -2.19 0M149.9 293.4a0.91 0.91 0 1 0 1.82 0a0.91 0.91 0 1 0 -1.82 0M125.2 246.2a1.16 1.16 0 1 0 2.33 0a1.16 1.16 0 1 0 -2.33 0M73.9 300.6a0.91 0.91 0 1 0 1.82 0a0.91 0.91 0 1 0 -1.82 0M126.0 257.3a1.04 1.04 0 1 0 2.07 0a1.04 1.04 0 1 0 -2.07 0M88.5 237.9a0.92 0.92 0 1 0 1.84 0a0.92 0.92 0 1 0 -1.84 0M111.6 293.3a0.93 0.93 0 1 0 1.86 0a0.93 0.93 0 1 0 -1.86 0M125.0 205.5a1.19 1.19 0 1 0 2.38 0a1.19 1.19 0 1 0 -2.38 0M59.8 254.9a1.12 1.12 0 1 0 2.23 0a1.12 1.12 0 1 0 -2.23 0M141.9 235.7a1.08 1.08 0 1 0 2.17 0a1.08 1.08 0 1 0 -2.17 0M156.0 265.2a1.15 1.15 0 1 0 2.29 0a1.15 1.15 0 1 0 -2.29 0M52.2 267.6a0.98 0.98 0 1 0 1.96 0a0.98 0.98 0 1 0 -1.96 0M28.4 240.3a0.95 0.95 0 1 0 1.90 0a0.95 0.95 0 1 0 -1.90 0M26.7 239.0a1.15 1.15 0 1 0 2.29 0a1.15 1.15 0 1 0 -2.29 0M46.8 281.6a1.15 1.15 0 1 0 2.29 0a1.15 1.15 0 1 0 -2.29 0M118.2 228.8a1.24 1.24 0 1 0 2.49 0a1.24 1.24 0 1 0 -2.49 0M28.2 205.7a0.98 0.98 0 1 0 1.96 0a0.98 0.98 0 1 0 -1.96 0M133.4 246.6a1.11 1.11 0 1 0 2.22 0a1.11 1.11 0 1 0 -2.22 0M92.8 218.6a0.99 0.99 0 1 0 1.97 0a0.99 0.99 0 1 0 -1.97 0M57.8 230.8a1.22 1.22 0 1 0 2.44 0a1.22 1.22 0 1 0 -2.44 0M20.3 199.4a1.17 1.17 0 1 0 2.35 0a1.17 1.17 0 1 0 -2.35 0M45.4 231.6a1.13 1.13 0 1 0 2.26 0a1.13 1.13 0 1 0 -2.26 0M139.4 218.6a0.97 0.97 0 1 0 1.94 0a0.97 0.97 0 1 0 -1.94 0M100.5 291.5a1.24 1.24 0 1 0 2.48 0a1.24 1.24 0 1 0 -2.48 0M20.4 222.3a1.07 1.07 0 1 0 2.13 0a1.07 1.07 0 1 0 -2.13 0M47.9 204.9a1.20 1.20 0 1 0 2.41 0a1.20 1.20 0 1 0 -2.41 0M66.1 302.3a1.03 1.03 0 1 0 2.07 0a1.03 1.03 0 1 0 -2.07 0M91.8 227.7a0.96 0.96 0 1 0 1.93 0a0.96 0.96 0 1 0 -1.93 0M35.1 263.4a1.08 1.08 0 1 0 2.17 0a1.08 1.08 0 1 0 -2.17 0M37.0 231.9a0.91 0.91 0 1 0 1.83 0a0.91 0.91 0 1 0 -1.83 0M83.4 251.3a1.17 1.17 0 1 0 2.35 0a1.17 1.17 0 1 0 -2.35 0M34.9 241.6a1.04 1.04 0 1 0 2.07 0a1.04 1.04 0 1 0 -2.07 0M47.1 230.4a1.03 1.03 0 1 0 2.07 0a1.03 1.03 0 1 0 -2.07 0M19.7 258.3a0.97 0.97 0 1 0 1.93 0a0.97 0.97 0 1 0 -1.93 0M141.9 222.5a0.97 0.97 0 1 0 1.95 0a0.97 0.97 0 1 0 -1.95 0M135.4 292.0a0.91 0.91 0 1 0 1.81 0a0.91 0.91 0 1 0 -1.81 0M116.3 243.6a1.23 1.23 0 1 0 2.47 0a1.23 1.23 0 1 0 -2.47 0M96.2 283.9a1.23 1.23 0 1 0 2.45 0a1.23 1.23 0 1 0 -2.45 0M73.7 221.9a0.94 0.94 0 1 0 1.89 0a0.94 0.94 0 1 0 -1.89 0M88.6 237.0a1.19 1.19 0 1 0 2.37 0a1.19 1.19 0 1 0 -2.37 0M53.1 240.9a1.04 1.04 0 1 0 2.07 0a1.04 1.04 0 1 0 -2.07 0M69.8 263.7a0.94 0.94 0 1 0 1.87 0a0.94 0.94 0 1 0 -1.87 0M105.6 234.6a0.91 0.91 0 1 0 1.82 0a0.91 0.91 0 1 0 -1.82 0M24.8 278.7a1.22 1.22 0 1 0 2.43 0a1.22 1.22 0 1 0 -2.43 0M80.5 252.3a1.21 1.21 0 1 0 2.42 0a1.21 1.21 0 1 0 -2.42 0M135.4 253.5a1.12 1.12 0 1 0 2.23 0a1.12 1.12 0 1 0 -2.23 0M39.9 270.8a1.15 1.15 0 1 0 2.30 0a1.15 1.15 0 1 0 -2.30 0M122.4 201.2a1.08 1.08 0 1 0 2.15 0a1.08 1.08 0 1 0 -2.15 0M19.8 207.2a1.12 1.12 0 1 0 2.24 0a1.12 1.12 0 1 0 -2.24 0M57.9 206.8a1.06 1.06 0 1 0 2.12 0a1.06 1.06 0 1 0 -2.12 0M138.7 269.8a1.13 1.13 0 1 0 2.27 0a1.13 1.13 0 1 0 -2.27 0M55.9 226.6a0.96 0.96 0 1 0 1.92 0a0.96 0.96 0 1 0 -1.92 0M112.5 200.1a1.21 1.21 0 1 0 2.41 0a1.21 1.21 0 1 0 -2.41 0M44.5 214.4a0.96 0.96 0 1 0 1.93 0a0.96 0.96 0 1 0 -1.93 0M40.9 198.8a1.09 1.09 0 1 0 2.18 0a1.09 1.09 0 1 0 -2.18 0M21.6 242.8a1.19 1.19 0 1 0 2.37 0a1.19 1.19 0 1 0 -2.37 0M153.5 244.5a1.19 1.19 0 1 0 2.39 0a1.19 1.19 0 1 0 -2.39 0M69.7 240.3a1.05 1.05 0 1 0 2.10 0a1.05 1.05 0 1 0 -2.10 0M147.1 206.6a1.19 1.19 0 1 0 2.38 0a1.19 1.19 0 1 0 -2.38 0M143.2 215.2a1.09 1.09 0 1 0 2.18 0a1.09 1.09 0 1 0 -2.18 0M87.4 216.4a1.25 1.25 0 1 0 2.49 0a1.25 1.25 0 1 0 -2.49 0M151.8 297.0a1.06 1.06 0 1 0 2.12 0a1.06 1.06 0 1 0 -2.12 0M56.8 236.1a1.09 1.09 0 1 0 2.18 0a1.09 1.09 0 1 0 -2.18 0M91.3 226.2a1.20 1.20 0 1 0 2.40 0a1.20 1.20 0 1 0 -2.40 0M140.1 215.2a1.25 1.25 0 1 0 2.50 0a1.25 1.25 0 1 0 -2.50 0M85.7 215.1a1.07 1.07 0 1 0 2.14 0a1.07 1.07 0 1 0 -2.14 0M70.8 216.5a0.93 0.93 0 1 0 1.87 0a0.93 0.93 0 1 0 -1.87 0M82.6 200.9a1.00 1.00 0 1 0 1.99 0a1.00 1.00 0 1 0 -1.99 0M107.1 235.8a1.05 1.05 0 1 0 2.11 0a1.05 1.05 0 1 0 -2.11 0M139.9 297.0a1.04 1.04 0 1 0 2.07 0a1.04 1.04 0 1 0 -2.07 0M78.8 235.1a1.05 1.05 0 1 0 2.10 0a1.05 1.05 0 1 0 -2.10 0M121.8 260.2a0.97 0.97 0 1 0 1.93 0a0.97 0.97 0 1 0 -1.93 0M152.5 300.3a0.92 0.92 0 1 0 1.85 0a0.92 0.92 0 1 0 -1.85 0M97.9 300.6a0.95 0.95 0 1 0 1.90 0a0.95 0.95 0 1 0 -1.90 0M32.4 219.8a1.23 1.23 0 1 0 2.46 0a1.23 1.23 0 1 0 -2.46 0M91.0 264.3a0.96 0.96 0 1 0 1.91 0a0.96 0.96 0 1 0 -1.91 0M136.5 212.9a1.04 1.04 0 1 0 2.08 0a1.04 1.04 0 1 0 -2.08 0M126.8 254.4a0.91 0.91 0 1 0 1.82 0a0.91 0.91 0 1 0 -1.82 0" fill="#d0d0d0" opacity="0.18"/>
<path d="M35.0 288.1a0.77 0.77 0 1 0 1.53 0a0.77 0.77 0 1 0 -1.53 0M123.8 248.6a0.63 0.63 0 1 0 1.27 0a0.63 0.63 0 1 0 -1.27 0M143.8 202.0a0.51 0.51 0 1 0 1.02 0a0.51 0.51 0 1 0 -1.02 0M113.1 300.9a0.75 0.75 0 1 0 1.51 0a0.75 0.75 0 1 0 -1.51 0M149.0 257.1a0.62 0.62 0 1 0 1.24 0a0.62 0.62 0 1 0 -1.24 0M63.1 274.8a0.75 0.75 0 1 0 1.50 0a0.75 0.75 0 1 0 -1.50 0M88.0 294.7a0.57 0.57 0 1 0 1.13 0a0.57 0.57 0 1 0 -1.13 0M84.1 237.2a0.69 0.69 0 1 0 1.39 0a0.69 0.69 0 1 0 -1.39 0M20.9 298.3a0.52 0.52 0 1 0 1.05 0a0.52 0.52 0 1 0 -1.05 0M109.0 267.1a0.60 0.60 0 1 0 1.21 0a0.60 0.60 0 1 0 -1.21 0M133.8 301.8a0.72 0.72 0 1 0 1.44 0a0.72 0.72 0 1 0 -1.44 0M71.4 251.9a0.51 0.51 0 1 0 1.01 0a0.51 0.51 0 1 0 -1.01 0M126.9 234.5a0.57 0.57 0 1 0 1.15 0a0.57 0.57 0 1 0 -1.15 0M147.8 235.0a0.81 0.81 0 1 0 1.62 0a0.81 0.81 0 1 0 -1.62 0M98.2 280.0a0.61 0.61 0 1 0 1.22 0a0.61 0.61 0 1 0 -1.22 0M42.7 281.6a0.71 0.71 0 1 0 1.41 0a0.71 0.71 0 1 0 -1.41 0M39.7 224.2a0.76 0.76 0 1 0 1.52 0a0.76 0.76 0 1 0 -1.52 0M127.3 296.4a0.75 0.75 0 1 0 1.51 0a0.75 0.75 0 1 0 -1.51 0M60.3 205.4a0.82 0.82 0 1 0 1.64 0a0.82 0.82 0 1 0 -1.64 0M59.7 224.8a0.53 0.53 0 1 0 1.06 0a0.53 0.53 0 1 0 -1.06 0M134.9 277.4a0.74 0.74 0 1 0 1.48 0a0.74 0.74 0 1 0 -1.48 0M112.6 245.9a0.65 0.65 0 1 0 1.30 0a0.65 0.65 0 1 0 -1.30 0M28.1 211.8a0.71 0.71 0 1 0 1.42 0a0.71 0.71 0 1 0 -1.42 0M78.9 296.2a0.84 0.84 0 1 0 1.68 0a0.84 0.84 0 1 0 -1.68 0M72.3 294.7a0.65 0.65 0 1 0 1.31 0a0.65 0.65 0 1 0 -1.31 0M20.4 293.6a0.72 0.72 0 1 0 1.44 0a0.72 0.72 0 1 0 -1.44 0M117.7 274.5a0.61 0.61 0 1 0 1.21 0a0.61 0.61 0 1 0 -1.21 0M33.0 271.8a0.53 0.53 0 1 0 1.07 0a0.53 0.53 0 1 0 -1.07 0M21.8 254.8a0.66 0.66 0 1 0 1.31 0a0.66 0.66 0 1 0 -1.31 0M24.3 226.3a0.76 0.76 0 1 0 1.51 0a0.76 0.76 0 1 0 -1.51 0M87.1 220.5a0.82 0.82 0 1 0 1.65 0a0.82 0.82 0 1 0 -1.65 0M151.5 260.4a0.54 0.54 0 1 0 1.07 0a0.54 0.54 0 1 0 -1.07 0M127.1 259.2a0.66 0.66 0 1 0 1.32 0a0.66 0.66 0 1 0 -1.32 0M67.2 298.1a0.73 0.73 0 1 0 1.45 0a0.73 0.73 0 1 0 -1.45 0M113.2 258.1a0.82 0.82 0 1 0 1.63 0a0.82 0.82 0 1 0 -1.63 0M88.4 244.3a0.71 0.71 0 1 0 1.41 0a0.71 0.71 0 1 0 -1.41 0M76.3 270.0a0.69 0.69 0 1 0 1.38 0a0.69 0.69 0 1 0 -1.38 0M90.3 255.9a0.79 0.79 0 1 0 1.57 0a0.79 0.79 0 1 0 -1.57 0M101.4 260.0a0.66 0.66 0 1 0 1.32 0a0.66 0.66 0 1 0 -1.32 0M68.0 212.2a0.78 0.78 0 1 0 1.55 0a0.78 0.78 0 1 0 -1.55 0M52.5 253.0a0.76 0.76 0 1 0 1.52 0a0.76 0.76 0 1 0 -1.52 0M63.7 295.1a0.58 0.58 0 1 0 1.15 0a0.58 0.58 0 1 0 -1.15 0M150.0 301.0a0.54 0.54 0 1 0 1.07 0a0.54 0.54 0 1 0 -1.07 0M74.9 292.4a0.85 0.85 0 1 0 1.69 0a0.85 0.85 0 1 0 -1.69 0M54.5 224.8a0.55 0.55 0 1 0 1.10 0a0.55 0.55 0 1 0 -1.10 0M41.0 278.8a0.76 0.76 0 1 0 1.52 0a0.76 0.76 0 1 0 -1.52 0M123.9 303.0a0.57 0.57 0 1 0 1.15 0a0.57 0.57 0 1 0 -1.15 0M48.1 219.8a0.70 0.70 0 1 0 1.40 0a0.70 0.70 0 1 0 -1.40 0M54.4 204.0a0.51 0.51 0 1 0 1.02 0a0.51 0.51 0 1 0 -1.02 0M126.3 261.9a0.65 0.65 0 1 0 1.30 0a0.65 0.65 0 1 0 -1.30 0M84.0 220.9a0.72 0.72 0 1 0 1.44 0a0.72 0.72 0 1 0 -1.44 0M38.1 254.1a0.54 0.54 0 1 0 1.07 0a0.54 0.54 0 1 0 -1.07 0M114.5 303.3a0.69 0.69 0 1 0 1.38 0a0.69 0.69 0 1 0 -1.38 0M136.4 213.5a0.57 0.57 0 1 0 1.14 0a0.57 0.57 0 1 0 -1.14 0M72.1 294.9a0.84 0.84 0 1 0 1.69 0a0.84 0.84 0 1 0 -1.69 0M16.7 211.5a0.57 0.57 0 1 0 1.14 0a0.57 0.57 0 1 0 -1.14 0M42.4 200.5a0.76 0.76 0 1 0 1.53 0a0.76 0.76 0 1 0 -1.53 0M135.2 266.9a0.64 0.64 0 1 0 1.28 0a0.64 0.64 0 1 0 -1.28 0M124.6 224.8a0.78 0.78 0 1 0 1.55 0a0.78 0.78 0 1 0 -1.55 0M118.9 226.5a0.57 0.57 0 1 0 1.15 0a0.57 0.57 0 1 0 -1.15 0M21.2 254.5a0.57 0.57 0 1 0 1.15 0a0.57 0.57 0 1 0 -1.15 0M41.9 270.9a0.60 0.60 0 1 0 1.21 0a0.60 0.60 0 1 0 -1.21 0M149.0 288.9a0.71 0.71 0 1 0 1.42 0a0.71 0.71 0 1 0 -1.42 0M153.6 284.2a0.80 0.80 0 1 0 1.60 0a0.80 0.80 0 1 0 -1.60 0M79.1 216.8a0.55 0.55 0 1 0 1.10 0a0.55 0.55 0 1 0 -1.10 0M31.8 266.9a0.78 0.78 0 1 0 1.57 0a0.78 0.78 0 1 0 -1.57 0M49.9 257.3a0.66 0.66 0 1 0 1.32 0a0.66 0.66 0 1 0 -1.32 0M59.1 301.2a0.62 0.62 0 1 0 1.23 0a0.62 0.62 0 1 0 -1.23 0M60.5 286.7a0.59 0.59 0 1 0 1.18 0a0.59 0.59 0 1 0 -1.18 0M114.4 219.1a0.84 0.84 0 1 0 1.69 0a0.84 0.84 0 1 0 -1.69 0M99.3 204.2a0.75 0.75 0 1 0 1.51 0a0.75 0.75 0 1 0 -1.51 0M49.7 266.8a0.69 0.69 0 1 0 1.38 0a0.69 0.69 0 1 0 -1.38 0M150.9 258.6a0.84 0.84 0 1 0 1.68 0a0.84 0.84 0 1 0 -1.68 0M83.6 259.5a0.81 0.81 0 1 0 1.62 0a0.81 0.81 0 1 0 -1.62 0M103.4 231.3a0.69 0.69 0 1 0 1.39 0a0.69 0.69 0 1 0 -1.39 0M120.0 264.0a0.65 0.65 0 1 0 1.31 0a0.65 0.65 0 1 0 -1.31 0M21.1 219.2a0.84 0.84 0 1 0 1.68 0a0.84 0.84 0 1 0 -1.68 0M142.0 209.5a0.52 0.52 0 1 0 1.04 0a0.52 0.52 0 1 0 -1.04 0M82.0 252.3a0.56 0.56 0 1 0 1.11 0a0.56 0.56 0 1 0 -1.11 0M141.7 267.3a0.55 0.55 0 1 0 1.11 0a0.55 0.55 0 1 0 -1.11 0M148.3 234.7a0.70 0.70 0 1 0 1.41 0a0.70 0.70 0 1 0 -1.41 0M127.4 288.8a0.60 0.60 0 1 0 1.20 0a0.60 0.60 0 1 0 -1.20 0M35.7 293.0a0.62 0.62 0 1 0 1.24 0a0.62 0.62 0 1 0 -1.24 0M74.8 289.4a0.74 0.74 0 1 0 1.49 0a0.74 0.74 0 1 0 -1.49 0M101.3 209.0a0.69 0.69 0 1 0 1.38 0a0.69 0.69 0 1 0 -1.38 0M144.6 290.4a0.77 0.77 0 1 0 1.54 0a0.77 0.77 0 1 0 -1.54 0M91.7 227.1a0.56 0.56 0 1 0 1.12 0a0.56 0.56 0 1 0 -1.12 0M58.0 261.0a0.61 0.61 0 1 0 1.22 0a0.61 0.61 0 1 0 -1.22 0M113.0 262.6a0.72 0.72 0 1 0 1.45 0a0.72 0.72 0 1 0 -1.45 0M42.5 279.7a0.51 0.51 0 1 0 1.02 0a0.51 0.51 0 1 0 -1.02 0M113.8 238.9a0.51 0.51 0 1 0 1.02 0a0.51 0.51 0 1 0 -1.02 0M26.5 239.5a0.75 0.75 0 1 0 1.49 0a0.75 0.75 0 1 0 -1.49 0M133.2 247.1a0.71 0.71 0 1 0 1.42 0a0.71 0.71 0 1 0 -1.42 0M91.6 228.2a0.56 0.56 0 1 0 1.13 0a0.56 0.56 0 1 0 -1.13 0M73.5 222.4a0.54 0.54 0 1 0 1.09 0a0.54 0.54 0 1 0 -1.09 0M88.4 237.5a0.79 0.79 0 1 0 1.57 0a0.79 0.79 0 1 0 -1.57 0M105.4 235.1a0.51 0.51 0 1 0 1.02 0a0.51 0.51 0 1 0 -1.02 0M39.7 271.3a0.75 0.75 0 1 0 1.50 0a0.75 0.75 0 1 0 -1.50 0M57.7 207.3a0.66 0.66 0 1 0 1.32 0a0.66 0.66 0 1 0 -1.32 0M151.6 297.5a0.66 0.66 0 1 0 1.32 0a0.66 0.66 0 1 0 -1.32 0" fill="#903c30" opacity="0.8"/>
<path d="M20.2 286.9a0.65 0.65 0 1 0 1.30 0a0.65 0.65 0 1 0 -1.30 0M114.4 226.9a0.78 0.78 0 1 0 1.56 0a0.78 0.78 0 1 0 -1.56 0M126.0 276.6a0.53 0.53 0 1 0 1.06 0a0.53 0.53 0 1 0 -1.06 0M126.2 253.7a0.64 0.64 0 1 0 1.28 0a0.64 0.64 0 1 0 -1.28 0M88.5 212.4a0.77 0.77 0 1 0 1.54 0a0.77 0.77 0 1 0 -1.54 0M77.3 301.6a0.58 0.58 0 1 0 1.16 0a0.58 0.58 0 1 0 -1.16 0M27.5 226.9a0.81 0.81 0 1 0 1.62 0a0.81 0.81 0 1 0 -1.62 0M80.8 228.0a0.78 0.78 0 1 0 1.55 0a0.78 0.78 0 1 0 -1.55 0M102.9 200.3a0.64 0.64 0 1 0 1.29 0a0.64 0.64 0 1 0 -1.29 0M50.8 209.4a0.71 0.71 0 1 0 1.43 0a0.71 0.71 0 1 0 -1.43 0M57.7 293.0a0.55 0.55 0 1 0 1.10 0a0.55 0.55 0 1 0 -1.10 0M92.0 203.9a0.80 0.80 0 1 0 1.60 0a0.80 0.80 0 1 0 -1.60 0M84.7 282.4a0.83 0.83 0 1 0 1.65 0a0.83 0.83 0 1 0 -1.65 0M155.1 228.0a0.70 0.70 0 1 0 1.39 0a0.70 0.70 0 1 0 -1.39 0M41.1 225.2a0.58 0.58 0 1 0 1.15 0a0.58 0.58 0 1 0 -1.15 0M153.0 263.8a0.84 0.84 0 1 0 1.68 0a0.84 0.84 0 1 0 -1.68 0M151.8 211.4a0.71 0.71 0 1 0 1.42 0a0.71 0.71 0 1 0 -1.42 0M140.3 220.4a0.78 0.78 0 1 0 1.57 0a0.78 0.78 0 1 0 -1.57 0M77.9 270.2a0.77 0.77 0 1 0 1.53 0a0.77 0.77 0 1 0 -1.53 0M105.6 297.6a0.77 0.77 0 1 0 1.55 0a0.77 0.77 0 1 0 -1.55 0M142.6 245.2a0.61 0.61 0 1 0 1.22 0a0.61 0.61 0 1 0 -1.22 0M86.4 210.5a0.57 0.57 0 1 0 1.15 0a0.57 0.57 0 1 0 -1.15 0M22.3 227.6a0.54 0.54 0 1 0 1.08 0a0.54 0.54 0 1 0 -1.08 0M65.5 262.6a0.70 0.70 0 1 0 1.39 0a0.70 0.70 0 1 0 -1.39 0M153.7 206.4a0.56 0.56 0 1 0 1.12 0a0.56 0.56 0 1 0 -1.12 0M145.9 288.9a0.80 0.80 0 1 0 1.60 0a0.80 0.80 0 1 0 -1.60 0M145.0 296.6a0.84 0.84 0 1 0 1.68 0a0.84 0.84 0 1 0 -1.68 0M17.3 254.9a0.63 0.63 0 1 0 1.27 0a0.63 0.63 0 1 0 -1.27 0M73.1 291.8a0.78 0.78 0 1 0 1.56 0a0.78 0.78 0 1 0 -1.56 0M72.8 297.5a0.81 0.81 0 1 0 1.63 0a0.81 0.81 0 1 0 -1.63 0M105.9 288.6a0.77 0.77 0 1 0 1.54 0a0.77 0.77 0 1 0 -1.54 0M119.5 209.7a0.55 0.55 0 1 0 1.11 0a0.55 0.55 0 1 0 -1.11 0M151.2 204.2a0.58 0.58 0 1 0 1.15 0a0.58 0.58 0 1 0 -1.15 0M88.1 294.2a0.54 0.54 0 1 0 1.08 0a0.54 0.54 0 1 0 -1.08 0M62.9 212.3a0.55 0.55 0 1 0 1.10 0a0.55 0.55 0 1 0 -1.10 0M106.1 286.2a0.52 0.52 0 1 0 1.04 0a0.52 0.52 0 1 0 -1.04 0M35.7 225.2a0.77 0.77 0 1 0 1.54 0a0.77 0.77 0 1 0 -1.54 0M53.1 212.1a0.75 0.75 0 1 0 1.50 0a0.75 0.75 0 1 0 -1.50 0M38.8 288.3a0.63 0.63 0 1 0 1.27 0a0.63 0.63 0 1 0 -1.27 0M34.7 277.5a0.83 0.83 0 1 0 1.66 0a0.83 0.83 0 1 0 -1.66 0M64.9 268.1a0.85 0.85 0 1 0 1.70 0a0.85 0.85 0 1 0 -1.70 0M78.4 272.5a0.72 0.72 0 1 0 1.44 0a0.72 0.72 0 1 0 -1.44 0M85.0 234.7a0.75 0.75 0 1 0 1.50 0a0.75 0.75 0 1 0 -1.50 0M33.2 250.3a0.59 0.59 0 1 0 1.19 0a0.59 0.59 0 1 0 -1.19 0M72.4 247.8a0.70 0.70 0 1 0 1.40 0a0.70 0.70 0 1 0 -1.40 0M38.6 212.8a0.82 0.82 0 1 0 1.65 0a0.82 0.82 0 1 0 -1.65 0M132.3 255.6a0.82 0.82 0 1 0 1.65 0a0.82 0.82 0 1 0 -1.65 0M67.1 223.3a0.73 0.73 0 1 0 1.46 0a0.73 0.73 0 1 0 -1.46 0M136.9 297.7a0.66 0.66 0 1 0 1.33 0a0.66 0.66 0 1 0 -1.33 0M151.9 204.0a0.83 0.83 0 1 0 1.66 0a0.83 0.83 0 1 0 -1.66 0M74.7 304.1a0.78 0.78 0 1 0 1.55 0a0.78 0.78 0 1 0 -1.55 0M35.0 245.4a0.63 0.63 0 1 0 1.25 0a0.63 0.63 0 1 0 -1.25 0M155.8 214.1a0.80 0.80 0 1 0 1.60 0a0.80 0.80 0 1 0 -1.60 0M23.8 238.7a0.61 0.61 0 1 0 1.23 0a0.61 0.61 0 1 0 -1.23 0M88.3 212.5a0.82 0.82 0 1 0 1.65 0a0.82 0.82 0 1 0 -1.65 0M47.0 269.7a0.65 0.65 0 1 0 1.30 0a0.65 0.65 0 1 0 -1.30 0M25.5 199.7a0.69 0.69 0 1 0 1.38 0a0.69 0.69 0 1 0 -1.38 0M94.1 225.3a0.58 0.58 0 1 0 1.16 0a0.58 0.58 0 1 0 -1.16 0M140.2 214.2a0.79 0.79 0 1 0 1.58 0a0.79 0.79 0 1 0 -1.58 0M80.7 235.9a0.64 0.64 0 1 0 1.28 0a0.64 0.64 0 1 0 -1.28 0M64.4 259.4a0.79 0.79 0 1 0 1.59 0a0.79 0.79 0 1 0 -1.59 0M75.1 200.1a0.56 0.56 0 1 0 1.11 0a0.56 0.56 0 1 0 -1.11 0M145.8 282.6a0.70 0.70 0 1 0 1.39 0a0.70 0.70 0 1 0 -1.39 0M123.4 236.4a0.56 0.56 0 1 0 1.11 0a0.56 0.56 0 1 0 -1.11 0M108.5 252.5a0.85 0.85 0 1 0 1.69 0a0.85 0.85 0 1 0 -1.69 0M99.9 281.8a0.60 0.60 0 1 0 1.20 0a0.60 0.60 0 1 0 -1.20 0M41.6 280.6a0.69 0.69 0 1 0 1.39 0a0.69 0.69 0 1 0 -1.39 0M30.4 217.7a0.55 0.55 0 1 0 1.11 0a0.55 0.55 0 1 0 -1.11 0M101.4 281.0a0.79 0.79 0 1 0 1.59 0a0.79 0.79 0 1 0 -1.59 0M132.6 232.6a0.57 0.57 0 1 0 1.14 0a0.57 0.57 0 1 0 -1.14 0M42.8 282.8a0.78 0.78 0 1 0 1.57 0a0.78 0.78 0 1 0 -1.57 0M110.7 246.9a0.72 0.72 0 1 0 1.43 0a0.72 0.72 0 1 0 -1.43 0M99.9 290.1a0.63 0.63 0 1 0 1.26 0a0.63 0.63 0 1 0 -1.26 0M140.9 219.4a0.74 0.74 0 1 0 1.48 0a0.74 0.74 0 1 0 -1.48 0M118.8 251.7a0.51 0.51 0 1 0 1.02 0a0.51 0.51 0 1 0 -1.02 0M29.1 251.3a0.62 0.62 0 1 0 1.24 0a0.62 0.62 0 1 0 -1.24 0M77.8 263.6a0.60 0.60 0 1 0 1.20 0a0.60 0.60 0 1 0 -1.20 0M152.6 287.7a0.65 0.65 0 1 0 1.30 0a0.65 0.65 0 1 0 -1.30 0M91.9 201.4a0.58 0.58 0 1 0 1.16 0a0.58 0.58 0 1 0 -1.16 0M141.4 272.7a0.65 0.65 0 1 0 1.31 0a0.65 0.65 0 1 0 -1.31 0M76.4 205.2a0.64 0.64 0 1 0 1.27 0a0.64 0.64 0 1 0 -1.27 0M44.6 227.4a0.71 0.71 0 1 0 1.42 0a0.71 0.71 0 1 0 -1.42 0M149.7 293.9a0.51 0.51 0 1 0 1.02 0a0.51 0.51 0 1 0 -1.02 0M125.0 246.7a0.76 0.76 0 1 0 1.53 0a0.76 0.76 0 1 0 -1.53 0M57.6 231.3a0.82 0.82 0 1 0 1.64 0a0.82 0.82 0 1 0 -1.64 0M20.1 199.9a0.77 0.77 0 1 0 1.55 0a0.77 0.77 0 1 0 -1.55 0M20.2 222.8a0.67 0.67 0 1 0 1.33 0a0.67 0.67 0 1 0 -1.33 0M83.2 251.8a0.77 0.77 0 1 0 1.55 0a0.77 0.77 0 1 0 -1.55 0M34.7 242.1a0.64 0.64 0 1 0 1.27 0a0.64 0.64 0 1 0 -1.27 0M135.2 292.5a0.51 0.51 0 1 0 1.01 0a0.51 0.51 0 1 0 -1.01 0M138.5 270.3a0.73 0.73 0 1 0 1.47 0a0.73 0.73 0 1 0 -1.47 0M44.3 214.9a0.56 0.56 0 1 0 1.13 0a0.56 0.56 0 1 0 -1.13 0M85.5 215.6a0.67 0.67 0 1 0 1.34 0a0.67 0.67 0 1 0 -1.34 0" fill="#a8432e" opacity="0.8"/>
<path d="M150.8 296.5a0.65 0.65 0 1 0 1.29 0a0.65 0.65 0 1 0 -1.29 0M30.2 265.1a0.75 0.75 0 1 0 1.51 0a0.75 0.75 0 1 0 -1.51 0M121.2 241.4a0.73 0.73 0 1 0 1.47 0a0.73 0.73 0 1 0 -1.47 0M66.0 294.7a0.73 0.73 0 1 0 1.46 0a0.73 0.73 0 1 0 -1.46 0M16.8 281.4a0.79 0.79 0 1 0 1.57 0a0.79 0.79 0 1 0 -1.57 0M127.3 233.7a0.71 0.71 0 1 0 1.42 0a0.71 0.71 0 1 0 -1.42 0M99.5 221.7a0.82 0.82 0 1 0 1.63 0a0.82 0.82 0 1 0 -1.63 0M111.6 244.4a0.57 0.57 0 1 0 1.14 0a0.57 0.57 0 1 0 -1.14 0M130.1 256.0a0.79 0.79 0 1 0 1.57 0a0.79 0.79 0 1 0 -1.57 0M49.1 199.6a0.69 0.69 0 1 0 1.37 0a0.69 0.69 0 1 0 -1.37 0M32.8 277.6a0.69 0.69 0 1 0 1.38 0a0.69 0.69 0 1 0 -1.38 0M78.7 246.2a0.61 0.61 0 1 0 1.21 0a0.61 0.61 0 1 0 -1.21 0M94.8 303.7a0.72 0.72 0 1 0 1.44 0a0.72 0.72 0 1 0 -1.44 0M79.8 269.3a0.57 0.57 0 1 0 1.14 0a0.57 0.57 0 1 0 -1.14 0M153.8 272.5a0.84 0.84 0 1 0 1.68 0a0.84 0.84 0 1 0 -1.68 0M131.5 262.6a0.62 0.62 0 1 0 1.24 0a0.62 0.62 0 1 0 -1.24 0M84.8 248.0a0.52 0.52 0 1 0 1.03 0a0.52 0.52 0 1 0 -1.03 0M87.8 298.5a0.74 0.74 0 1 0 1.48 0a0.74 0.74 0 1 0 -1.48 0M82.4 257.6a0.52 0.52 0 1 0 1.03 0a0.52 0.52 0 1 0 -1.03 0M62.6 222.2a0.84 0.84 0 1 0 1.67 0a0.84 0.84 0 1 0 -1.67 0M148.1 225.0a0.59 0.59 0 1 0 1.19 0a0.59 0.59 0 1 0 -1.19 0M39.6 301.4a0.66 0.66 0 1 0 1.31 0a0.66 0.66 0 1 0 -1.31 0M56.9 219.4a0.56 0.56 0 1 0 1.11 0a0.56 0.56 0 1 0 -1.11 0M37.8 295.1a0.51 0.51 0 1 0 1.01 0a0.51 0.51 0 1 0 -1.01 0M92.9 258.3a0.59 0.59 0 1 0 1.18 0a0.59 0.59 0 1 0 -1.18 0M109.8 239.9a0.72 0.72 0 1 0 1.44 0a0.72 0.72 0 1 0 -1.44 0M76.0 268.6a0.75 0.75 0 1 0 1.50 0a0.75 0.75 0 1 0 -1.50 0M148.8 264.1a0.78 0.78 0 1 0 1.57 0a0.78 0.78 0 1 0 -1.57 0M66.0 302.9a0.50 0.50 0 1 0 1.00 0a0.50 0.50 0 1 0 -1.00 0M114.0 199.4a0.54 0.54 0 1 0 1.08 0a0.54 0.54 0 1 0 -1.08 0M98.9 256.8a0.84 0.84 0 1 0 1.68 0a0.84 0.84 0 1 0 -1.68 0M83.8 282.4a0.80 0.80 0 1 0 1.60 0a0.80 0.80 0 1 0 -1.60 0M107.4 290.1a0.54 0.54 0 1 0 1.09 0a0.54 0.54 0 1 0 -1.09 0M64.0 250.0a0.50 0.50 0 1 0 1.01 0a0.50 0.50 0 1 0 -1.01 0M65.1 292.1a0.75 0.75 0 1 0 1.50 0a0.75 0.75 0 1 0 -1.50 0M91.8 204.9a0.61 0.61 0 1 0 1.23 0a0.61 0.61 0 1 0 -1.23 0M108.6 256.2a0.69 0.69 0 1 0 1.38 0a0.69 0.69 0 1 0 -1.38 0M154.3 214.1a0.60 0.60 0 1 0 1.21 0a0.60 0.60 0 1 0 -1.21 0M101.3 199.7a0.83 0.83 0 1 0 1.67 0a0.83 0.83 0 1 0 -1.67 0M73.7 247.5a0.53 0.53 0 1 0 1.07 0a0.53 0.53 0 1 0 -1.07 0M32.5 203.1a0.75 0.75 0 1 0 1.49 0a0.75 0.75 0 1 0 -1.49 0M64.4 210.8a0.68 0.68 0 1 0 1.36 0a0.68 0.68 0 1 0 -1.36 0M117.5 209.3a0.62 0.62 0 1 0 1.23 0a0.62 0.62 0 1 0 -1.23 0M50.7 270.1a0.76 0.76 0 1 0 1.52 0a0.76 0.76 0 1 0 -1.52 0M125.9 201.0a0.80 0.80 0 1 0 1.60 0a0.80 0.80 0 1 0 -1.60 0M67.0 214.8a0.70 0.70 0 1 0 1.40 0a0.70 0.70 0 1 0 -1.40 0M127.2 204.9a0.76 0.76 0 1 0 1.52 0a0.76 0.76 0 1 0 -1.52 0M85.7 229.6a0.68 0.68 0 1 0 1.36 0a0.68 0.68 0 1 0 -1.36 0M109.5 253.3a0.78 0.78 0 1 0 1.57 0a0.78 0.78 0 1 0 -1.57 0M122.3 202.4a0.63 0.63 0 1 0 1.26 0a0.63 0.63 0 1 0 -1.26 0M156.1 242.8a0.56 0.56 0 1 0 1.11 0a0.56 0.56 0 1 0 -1.11 0M48.9 260.7a0.84 0.84 0 1 0 1.68 0a0.84 0.84 0 1 0 -1.68 0M147.3 263.6a0.62 0.62 0 1 0 1.25 0a0.62 0.62 0 1 0 -1.25 0M102.9 237.1a0.67 0.67 0 1 0 1.34 0a0.67 0.67 0 1 0 -1.34 0M104.4 268.8a0.83 0.83 0 1 0 1.67 0a0.83 0.83 0 1 0 -1.67 0M48.9 245.6a0.74 0.74 0 1 0 1.49 0a0.74 0.74 0 1 0 -1.49 0M66.7 281.5a0.50 0.50 0 1 0 1.01 0a0.50 0.50 0 1 0 -1.01 0M45.7 207.4a0.54 0.54 0 1 0 1.08 0a0.54 0.54 0 1 0 -1.08 0M128.5 268.9a0.54 0.54 0 1 0 1.08 0a0.54 0.54 0 1 0 -1.08 0M117.0 254.4a0.80 0.80 0 1 0 1.61 0a0.80 0.80 0 1 0 -1.61 0M51.8 219.3a0.62 0.62 0 1 0 1.24 0a0.62 0.62 0 1 0 -1.24 0M133.8 250.4a0.62 0.62 0 1 0 1.24 0a0.62 0.62 0 1 0 -1.24 0M25.9 218.5a0.69 0.69 0 1 0 1.37 0a0.69 0.69 0 1 0 -1.37 0M67.5 204.0a0.63 0.63 0 1 0 1.25 0a0.63 0.63 0 1 0 -1.25 0M86.8 235.6a0.67 0.67 0 1 0 1.34 0a0.67 0.67 0 1 0 -1.34 0M28.7 234.4a0.80 0.80 0 1 0 1.60 0a0.80 0.80 0 1 0 -1.60 0M77.2 296.5a0.58 0.58 0 1 0 1.15 0a0.58 0.58 0 1 0 -1.15 0M153.4 224.4a0.76 0.76 0 1 0 1.51 0a0.76 0.76 0 1 0 -1.51 0M60.8 213.4a0.56 0.56 0 1 0 1.12 0a0.56 0.56 0 1 0 -1.12 0M72.3 239.6a0.75 0.75 0 1 0 1.50 0a0.75 0.75 0 1 0 -1.50 0M36.5 244.9a0.69 0.69 0 1 0 1.38 0a0.69 0.69 0 1 0 -1.38 0M89.8 244.3a0.80 0.80 0 1 0 1.59 0a0.80 0.80 0 1 0 -1.59 0M34.8 248.2a0.85 0.85 0 1 0 1.70 0a0.85 0.85 0 1 0 -1.70 0M20.4 247.5a0.57 0.57 0 1 0 1.14 0a0.57 0.57 0 1 0 -1.14 0M126.4 260.5a0.52 0.52 0 1 0 1.03 0a0.52 0.52 0 1 0 -1.03 0M24.9 244.0a0.60 0.60 0 1 0 1.21 0a0.60 0.60 0 1 0 -1.21 0M113.8 302.0a0.68 0.68 0 1 0 1.36 0a0.68 0.68 0 1 0 -1.36 0M51.4 250.6a0.54 0.54 0 1 0 1.08 0a0.54 0.54 0 1 0 -1.08 0M28.0 206.2a0.58 0.58 0 1 0 1.16 0a0.58 0.58 0 1 0 -1.16 0M45.2 232.1a0.73 0.73 0 1 0 1.46 0a0.73 0.73 0 1 0 -1.46 0M100.3 292.0a0.84 0.84 0 1 0 1.68 0a0.84 0.84 0 1 0 -1.68 0M141.7 223.0a0.57 0.57 0 1 0 1.15 0a0.57 0.57 0 1 0 -1.15 0M96.0 284.4a0.83 0.83 0 1 0 1.65 0a0.83 0.83 0 1 0 -1.65 0M55.7 227.1a0.56 0.56 0 1 0 1.12 0a0.56 0.56 0 1 0 -1.12 0M153.3 245.0a0.79 0.79 0 1 0 1.59 0a0.79 0.79 0 1 0 -1.59 0M143.0 215.7a0.69 0.69 0 1 0 1.38 0a0.69 0.69 0 1 0 -1.38 0M56.6 236.6a0.69 0.69 0 1 0 1.38 0a0.69 0.69 0 1 0 -1.38 0M91.1 226.7a0.80 0.80 0 1 0 1.60 0a0.80 0.80 0 1 0 -1.60 0M70.6 217.0a0.53 0.53 0 1 0 1.07 0a0.53 0.53 0 1 0 -1.07 0M82.4 201.4a0.60 0.60 0 1 0 1.19 0a0.60 0.60 0 1 0 -1.19 0M139.7 297.5a0.64 0.64 0 1 0 1.27 0a0.64 0.64 0 1 0 -1.27 0M78.6 235.6a0.65 0.65 0 1 0 1.30 0a0.65 0.65 0 1 0 -1.30 0M97.7 301.1a0.55 0.55 0 1 0 1.10 0a0.55 0.55 0 1 0 -1.10 0M136.3 213.4a0.64 0.64 0 1 0 1.28 0a0.64 0.64 0 1 0 -1.28 0" fill="#a04a2c" opacity="0.8"/>
<path d="M135.7 252.1a0.71 0.71 0 1 0 1.41 0a0.71 0.71 0 1 0 -1.41 0M51.2 300.7a0.60 0.60 0 1 0 1.20 0a0.60 0.60 0 1 0 -1.20 0M51.8 239.3a0.70 0.70 0 1 0 1.40 0a0.70 0.70 0 1 0 -1.40 0M110.0 256.2a0.58 0.58 0 1 0 1.16 0a0.58 0.58 0 1 0 -1.16 0M72.6 278.1a0.58 0.58 0 1 0 1.15 0a0.58 0.58 0 1 0 -1.15 0" fill="#9cc230" opacity="0.75"/>
<path d="M82.4 231.3a0.80 0.80 0 1 0 1.59 0a0.80 0.80 0 1 0 -1.59 0M92.5 289.5a0.58 0.58 0 1 0 1.16 0a0.58 0.58 0 1 0 -1.16 0M84.7 236.4a0.62 0.62 0 1 0 1.24 0a0.62 0.62 0 1 0 -1.24 0M18.3 278.4a0.59 0.59 0 1 0 1.17 0a0.59 0.59 0 1 0 -1.17 0M52.6 225.5a0.76 0.76 0 1 0 1.51 0a0.76 0.76 0 1 0 -1.51 0M117.7 215.7a0.75 0.75 0 1 0 1.49 0a0.75 0.75 0 1 0 -1.49 0M104.3 202.7a0.57 0.57 0 1 0 1.14 0a0.57 0.57 0 1 0 -1.14 0M143.4 200.7a0.57 0.57 0 1 0 1.14 0a0.57 0.57 0 1 0 -1.14 0M40.2 294.8a0.57 0.57 0 1 0 1.15 0a0.57 0.57 0 1 0 -1.15 0M138.5 281.9a0.79 0.79 0 1 0 1.58 0a0.79 0.79 0 1 0 -1.58 0M99.3 296.4a0.53 0.53 0 1 0 1.05 0a0.53 0.53 0 1 0 -1.05 0M31.8 221.5a0.72 0.72 0 1 0 1.43 0a0.72 0.72 0 1 0 -1.43 0M50.9 200.9a0.59 0.59 0 1 0 1.17 0a0.59 0.59 0 1 0 -1.17 0M132.4 232.5a0.54 0.54 0 1 0 1.07 0a0.54 0.54 0 1 0 -1.07 0M126.3 285.3a0.72 0.72 0 1 0 1.44 0a0.72 0.72 0 1 0 -1.44 0M86.2 249.3a0.58 0.58 0 1 0 1.16 0a0.58 0.58 0 1 0 -1.16 0M136.1 238.0a0.75 0.75 0 1 0 1.49 0a0.75 0.75 0 1 0 -1.49 0M93.1 250.5a0.80 0.80 0 1 0 1.60 0a0.80 0.80 0 1 0 -1.60 0M133.2 252.7a0.85 0.85 0 1 0 1.69 0a0.85 0.85 0 1 0 -1.69 0M71.2 243.7a0.64 0.64 0 1 0 1.28 0a0.64 0.64 0 1 0 -1.28 0M71.6 240.9a0.67 0.67 0 1 0 1.34 0a0.67 0.67 0 1 0 -1.34 0M61.4 296.7a0.83 0.83 0 1 0 1.67 0a0.83 0.83 0 1 0 -1.67 0M19.4 278.1a0.74 0.74 0 1 0 1.48 0a0.74 0.74 0 1 0 -1.48 0M128.9 289.2a0.61 0.61 0 1 0 1.22 0a0.61 0.61 0 1 0 -1.22 0M144.1 256.4a0.69 0.69 0 1 0 1.38 0a0.69 0.69 0 1 0 -1.38 0M90.1 257.7a0.80 0.80 0 1 0 1.59 0a0.80 0.80 0 1 0 -1.59 0M75.3 232.4a0.60 0.60 0 1 0 1.19 0a0.60 0.60 0 1 0 -1.19 0M146.7 283.3a0.55 0.55 0 1 0 1.09 0a0.55 0.55 0 1 0 -1.09 0M53.8 210.1a0.59 0.59 0 1 0 1.18 0a0.59 0.59 0 1 0 -1.18 0M72.4 275.1a0.79 0.79 0 1 0 1.58 0a0.79 0.79 0 1 0 -1.58 0M105.6 284.2a0.82 0.82 0 1 0 1.64 0a0.82 0.82 0 1 0 -1.64 0M95.3 261.9a0.84 0.84 0 1 0 1.67 0a0.84 0.84 0 1 0 -1.67 0M73.4 270.4a0.72 0.72 0 1 0 1.43 0a0.72 0.72 0 1 0 -1.43 0M143.2 227.7a0.51 0.51 0 1 0 1.01 0a0.51 0.51 0 1 0 -1.01 0M91.1 279.2a0.69 0.69 0 1 0 1.39 0a0.69 0.69 0 1 0 -1.39 0M125.6 275.0a0.57 0.57 0 1 0 1.14 0a0.57 0.57 0 1 0 -1.14 0M72.1 265.6a0.76 0.76 0 1 0 1.52 0a0.76 0.76 0 1 0 -1.52 0M144.5 268.6a0.62 0.62 0 1 0 1.24 0a0.62 0.62 0 1 0 -1.24 0M148.5 300.0a0.56 0.56 0 1 0 1.12 0a0.56 0.56 0 1 0 -1.12 0M124.9 265.9a0.85 0.85 0 1 0 1.69 0a0.85 0.85 0 1 0 -1.69 0M151.9 222.6a0.52 0.52 0 1 0 1.05 0a0.52 0.52 0 1 0 -1.05 0M44.1 244.0a0.81 0.81 0 1 0 1.61 0a0.81 0.81 0 1 0 -1.61 0M81.5 229.4a0.78 0.78 0 1 0 1.57 0a0.78 0.78 0 1 0 -1.57 0M137.0 265.6a0.59 0.59 0 1 0 1.17 0a0.59 0.59 0 1 0 -1.17 0M151.5 261.5a0.57 0.57 0 1 0 1.13 0a0.57 0.57 0 1 0 -1.13 0M156.2 286.9a0.64 0.64 0 1 0 1.28 0a0.64 0.64 0 1 0 -1.28 0M76.5 260.8a0.61 0.61 0 1 0 1.22 0a0.61 0.61 0 1 0 -1.22 0M28.0 255.7a0.62 0.62 0 1 0 1.23 0a0.62 0.62 0 1 0 -1.23 0M16.7 215.7a0.61 0.61 0 1 0 1.23 0a0.61 0.61 0 1 0 -1.23 0M144.0 299.2a0.64 0.64 0 1 0 1.29 0a0.64 0.64 0 1 0 -1.29 0M132.4 206.7a0.61 0.61 0 1 0 1.22 0a0.61 0.61 0 1 0 -1.22 0M17.6 302.3a0.51 0.51 0 1 0 1.02 0a0.51 0.51 0 1 0 -1.02 0M87.5 233.0a0.83 0.83 0 1 0 1.66 0a0.83 0.83 0 1 0 -1.66 0M98.4 234.5a0.73 0.73 0 1 0 1.45 0a0.73 0.73 0 1 0 -1.45 0M129.7 299.1a0.79 0.79 0 1 0 1.58 0a0.79 0.79 0 1 0 -1.58 0M48.9 300.2a0.75 0.75 0 1 0 1.49 0a0.75 0.75 0 1 0 -1.49 0M122.2 266.3a0.61 0.61 0 1 0 1.21 0a0.61 0.61 0 1 0 -1.21 0M94.4 291.0a0.68 0.68 0 1 0 1.36 0a0.68 0.68 0 1 0 -1.36 0M17.9 231.6a0.53 0.53 0 1 0 1.06 0a0.53 0.53 0 1 0 -1.06 0M78.0 281.5a0.52 0.52 0 1 0 1.04 0a0.52 0.52 0 1 0 -1.04 0M102.6 257.7a0.66 0.66 0 1 0 1.33 0a0.66 0.66 0 1 0 -1.33 0M32.1 206.4a0.78 0.78 0 1 0 1.56 0a0.78 0.78 0 1 0 -1.56 0M68.6 230.7a0.61 0.61 0 1 0 1.21 0a0.61 0.61 0 1 0 -1.21 0M40.4 289.0a0.61 0.61 0 1 0 1.22 0a0.61 0.61 0 1 0 -1.22 0M108.7 218.3a0.63 0.63 0 1 0 1.26 0a0.63 0.63 0 1 0 -1.26 0M87.8 226.9a0.56 0.56 0 1 0 1.11 0a0.56 0.56 0 1 0 -1.11 0M88.3 293.8a0.69 0.69 0 1 0 1.38 0a0.69 0.69 0 1 0 -1.38 0M114.6 221.1a0.65 0.65 0 1 0 1.31 0a0.65 0.65 0 1 0 -1.31 0M120.8 258.6a0.85 0.85 0 1 0 1.70 0a0.85 0.85 0 1 0 -1.70 0M61.8 235.9a0.64 0.64 0 1 0 1.28 0a0.64 0.64 0 1 0 -1.28 0M70.6 275.2a0.79 0.79 0 1 0 1.58 0a0.79 0.79 0 1 0 -1.58 0M131.2 234.7a0.65 0.65 0 1 0 1.30 0a0.65 0.65 0 1 0 -1.30 0M67.7 220.6a0.53 0.53 0 1 0 1.06 0a0.53 0.53 0 1 0 -1.06 0M71.0 245.5a0.56 0.56 0 1 0 1.13 0a0.56 0.56 0 1 0 -1.13 0M91.8 232.1a0.79 0.79 0 1 0 1.58 0a0.79 0.79 0 1 0 -1.58 0M153.1 215.7a0.84 0.84 0 1 0 1.68 0a0.84 0.84 0 1 0 -1.68 0M144.5 199.3a0.74 0.74 0 1 0 1.49 0a0.74 0.74 0 1 0 -1.49 0M138.7 233.8a0.66 0.66 0 1 0 1.31 0a0.66 0.66 0 1 0 -1.31 0M107.8 297.1a0.63 0.63 0 1 0 1.27 0a0.63 0.63 0 1 0 -1.27 0M122.2 302.1a0.71 0.71 0 1 0 1.41 0a0.71 0.71 0 1 0 -1.41 0M107.1 256.2a0.64 0.64 0 1 0 1.29 0a0.64 0.64 0 1 0 -1.29 0M88.7 294.8a0.58 0.58 0 1 0 1.16 0a0.58 0.58 0 1 0 -1.16 0M123.6 269.1a0.64 0.64 0 1 0 1.29 0a0.64 0.64 0 1 0 -1.29 0M42.8 204.7a0.54 0.54 0 1 0 1.08 0a0.54 0.54 0 1 0 -1.08 0M138.6 208.3a0.62 0.62 0 1 0 1.25 0a0.62 0.62 0 1 0 -1.25 0M106.9 261.5a0.81 0.81 0 1 0 1.63 0a0.81 0.81 0 1 0 -1.63 0M28.2 240.8a0.55 0.55 0 1 0 1.10 0a0.55 0.55 0 1 0 -1.10 0M92.6 219.1a0.59 0.59 0 1 0 1.17 0a0.59 0.59 0 1 0 -1.17 0M139.2 219.1a0.57 0.57 0 1 0 1.14 0a0.57 0.57 0 1 0 -1.14 0M47.7 205.4a0.80 0.80 0 1 0 1.61 0a0.80 0.80 0 1 0 -1.61 0M65.9 302.8a0.63 0.63 0 1 0 1.27 0a0.63 0.63 0 1 0 -1.27 0M36.8 232.4a0.51 0.51 0 1 0 1.03 0a0.51 0.51 0 1 0 -1.03 0M46.9 230.9a0.63 0.63 0 1 0 1.27 0a0.63 0.63 0 1 0 -1.27 0M19.5 258.8a0.57 0.57 0 1 0 1.13 0a0.57 0.57 0 1 0 -1.13 0M69.6 264.2a0.54 0.54 0 1 0 1.07 0a0.54 0.54 0 1 0 -1.07 0M135.2 254.0a0.72 0.72 0 1 0 1.43 0a0.72 0.72 0 1 0 -1.43 0M21.4 243.3a0.79 0.79 0 1 0 1.57 0a0.79 0.79 0 1 0 -1.57 0M69.5 240.8a0.65 0.65 0 1 0 1.30 0a0.65 0.65 0 1 0 -1.30 0M32.2 220.3a0.83 0.83 0 1 0 1.66 0a0.83 0.83 0 1 0 -1.66 0" fill="#b45834" opacity="0.8"/>
<path d="M71.8 216.8a0.68 0.68 0 1 0 1.35 0a0.68 0.68 0 1 0 -1.35 0M42.3 229.4a0.56 0.56 0 1 0 1.12 0a0.56 0.56 0 1 0 -1.12 0M83.2 201.3a0.64 0.64 0 1 0 1.27 0a0.64 0.64 0 1 0 -1.27 0M109.3 243.7a0.76 0.76 0 1 0 1.52 0a0.76 0.76 0 1 0 -1.52 0M124.9 254.9a0.52 0.52 0 1 0 1.05 0a0.52 0.52 0 1 0 -1.05 0M87.7 225.7a0.62 0.62 0 1 0 1.24 0a0.62 0.62 0 1 0 -1.24 0M138.6 262.5a0.83 0.83 0 1 0 1.67 0a0.83 0.83 0 1 0 -1.67 0M138.9 248.2a0.62 0.62 0 1 0 1.25 0a0.62 0.62 0 1 0 -1.25 0M27.1 298.8a0.56 0.56 0 1 0 1.12 0a0.56 0.56 0 1 0 -1.12 0M102.5 275.6a0.73 0.73 0 1 0 1.46 0a0.73 0.73 0 1 0 -1.46 0M22.9 206.3a0.68 0.68 0 1 0 1.36 0a0.68 0.68 0 1 0 -1.36 0M86.1 240.3a0.72 0.72 0 1 0 1.45 0a0.72 0.72 0 1 0 -1.45 0M104.8 227.0a0.82 0.82 0 1 0 1.64 0a0.82 0.82 0 1 0 -1.64 0M109.6 228.1a0.63 0.63 0 1 0 1.27 0a0.63 0.63 0 1 0 -1.27 0M91.0 259.8a0.51 0.51 0 1 0 1.02 0a0.51 0.51 0 1 0 -1.02 0M60.0 278.6a0.79 0.79 0 1 0 1.58 0a0.79 0.79 0 1 0 -1.58 0M112.7 250.7a0.73 0.73 0 1 0 1.45 0a0.73 0.73 0 1 0 -1.45 0M73.8 277.3a0.85 0.85 0 1 0 1.69 0a0.85 0.85 0 1 0 -1.69 0M99.8 206.2a0.52 0.52 0 1 0 1.05 0a0.52 0.52 0 1 0 -1.05 0M117.1 284.7a0.59 0.59 0 1 0 1.19 0a0.59 0.59 0 1 0 -1.19 0M37.1 298.5a0.66 0.66 0 1 0 1.32 0a0.66 0.66 0 1 0 -1.32 0M135.1 294.3a0.51 0.51 0 1 0 1.02 0a0.51 0.51 0 1 0 -1.02 0M86.9 212.5a0.60 0.60 0 1 0 1.20 0a0.60 0.60 0 1 0 -1.20 0M106.0 224.7a0.71 0.71 0 1 0 1.41 0a0.71 0.71 0 1 0 -1.41 0M130.3 289.0a0.61 0.61 0 1 0 1.21 0a0.61 0.61 0 1 0 -1.21 0M91.7 293.3a0.79 0.79 0 1 0 1.58 0a0.79 0.79 0 1 0 -1.58 0M44.5 239.8a0.61 0.61 0 1 0 1.23 0a0.61 0.61 0 1 0 -1.23 0M106.7 288.9a0.78 0.78 0 1 0 1.56 0a0.78 0.78 0 1 0 -1.56 0M116.4 228.7a0.81 0.81 0 1 0 1.62 0a0.81 0.81 0 1 0 -1.62 0M118.6 284.6a0.85 0.85 0 1 0 1.70 0a0.85 0.85 0 1 0 -1.70 0M117.5 208.4a0.55 0.55 0 1 0 1.09 0a0.55 0.55 0 1 0 -1.09 0M134.0 276.9a0.85 0.85 0 1 0 1.70 0a0.85 0.85 0 1 0 -1.70 0M62.3 280.4a0.79 0.79 0 1 0 1.58 0a0.79 0.79 0 1 0 -1.58 0M65.0 208.5a0.85 0.85 0 1 0 1.70 0a0.85 0.85 0 1 0 -1.70 0M93.8 204.5a0.68 0.68 0 1 0 1.36 0a0.68 0.68 0 1 0 -1.36 0M87.8 260.0a0.72 0.72 0 1 0 1.43 0a0.72 0.72 0 1 0 -1.43 0M38.3 295.1a0.55 0.55 0 1 0 1.10 0a0.55 0.55 0 1 0 -1.10 0M115.8 198.9a0.51 0.51 0 1 0 1.03 0a0.51 0.51 0 1 0 -1.03 0M144.6 267.8a0.78 0.78 0 1 0 1.56 0a0.78 0.78 0 1 0 -1.56 0M147.4 264.3a0.54 0.54 0 1 0 1.07 0a0.54 0.54 0 1 0 -1.07 0M69.5 210.3a0.51 0.51 0 1 0 1.02 0a0.51 0.51 0 1 0 -1.02 0M81.0 238.5a0.68 0.68 0 1 0 1.35 0a0.68 0.68 0 1 0 -1.35 0M47.0 223.6a0.51 0.51 0 1 0 1.03 0a0.51 0.51 0 1 0 -1.03 0M115.1 271.6a0.73 0.73 0 1 0 1.46 0a0.73 0.73 0 1 0 -1.46 0M95.3 266.4a0.67 0.67 0 1 0 1.34 0a0.67 0.67 0 1 0 -1.34 0M81.4 273.8a0.53 0.53 0 1 0 1.06 0a0.53 0.53 0 1 0 -1.06 0M35.5 261.7a0.74 0.74 0 1 0 1.47 0a0.74 0.74 0 1 0 -1.47 0M124.9 243.2a0.60 0.60 0 1 0 1.19 0a0.60 0.60 0 1 0 -1.19 0M26.9 277.4a0.80 0.80 0 1 0 1.59 0a0.80 0.80 0 1 0 -1.59 0M64.5 204.3a0.52 0.52 0 1 0 1.03 0a0.52 0.52 0 1 0 -1.03 0M93.9 259.3a0.72 0.72 0 1 0 1.43 0a0.72 0.72 0 1 0 -1.43 0M22.7 252.8a0.78 0.78 0 1 0 1.55 0a0.78 0.78 0 1 0 -1.55 0M99.2 268.7a0.81 0.81 0 1 0 1.61 0a0.81 0.81 0 1 0 -1.61 0M21.6 223.1a0.81 0.81 0 1 0 1.62 0a0.81 0.81 0 1 0 -1.62 0M148.6 262.9a0.72 0.72 0 1 0 1.43 0a0.72 0.72 0 1 0 -1.43 0M33.1 258.1a0.68 0.68 0 1 0 1.35 0a0.68 0.68 0 1 0 -1.35 0M122.0 300.2a0.52 0.52 0 1 0 1.04 0a0.52 0.52 0 1 0 -1.04 0M138.7 239.1a0.74 0.74 0 1 0 1.48 0a0.74 0.74 0 1 0 -1.48 0M116.7 214.6a0.66 0.66 0 1 0 1.32 0a0.66 0.66 0 1 0 -1.32 0M127.7 289.7a0.65 0.65 0 1 0 1.31 0a0.65 0.65 0 1 0 -1.31 0M88.6 236.3a0.65 0.65 0 1 0 1.30 0a0.65 0.65 0 1 0 -1.30 0M107.3 232.8a0.85 0.85 0 1 0 1.69 0a0.85 0.85 0 1 0 -1.69 0M117.9 250.9a0.60 0.60 0 1 0 1.20 0a0.60 0.60 0 1 0 -1.20 0M36.7 301.2a0.71 0.71 0 1 0 1.43 0a0.71 0.71 0 1 0 -1.43 0M59.0 260.1a0.61 0.61 0 1 0 1.22 0a0.61 0.61 0 1 0 -1.22 0M61.7 271.6a0.79 0.79 0 1 0 1.58 0a0.79 0.79 0 1 0 -1.58 0M66.8 262.1a0.81 0.81 0 1 0 1.62 0a0.81 0.81 0 1 0 -1.62 0M77.6 284.0a0.53 0.53 0 1 0 1.07 0a0.53 0.53 0 1 0 -1.07 0M89.9 228.0a0.83 0.83 0 1 0 1.66 0a0.83 0.83 0 1 0 -1.66 0M115.6 232.2a0.55 0.55 0 1 0 1.10 0a0.55 0.55 0 1 0 -1.10 0M146.7 219.4a0.55 0.55 0 1 0 1.10 0a0.55 0.55 0 1 0 -1.10 0M146.3 237.2a0.52 0.52 0 1 0 1.04 0a0.52 0.52 0 1 0 -1.04 0M69.9 286.5a0.61 0.61 0 1 0 1.22 0a0.61 0.61 0 1 0 -1.22 0M127.8 255.8a0.61 0.61 0 1 0 1.21 0a0.61 0.61 0 1 0 -1.21 0M91.1 278.2a0.57 0.57 0 1 0 1.14 0a0.57 0.57 0 1 0 -1.14 0M150.8 242.5a0.83 0.83 0 1 0 1.66 0a0.83 0.83 0 1 0 -1.66 0M25.5 245.9a0.78 0.78 0 1 0 1.57 0a0.78 0.78 0 1 0 -1.57 0M125.8 272.7a0.85 0.85 0 1 0 1.70 0a0.85 0.85 0 1 0 -1.70 0M153.7 287.0a0.51 0.51 0 1 0 1.02 0a0.51 0.51 0 1 0 -1.02 0M73.7 301.1a0.51 0.51 0 1 0 1.02 0a0.51 0.51 0 1 0 -1.02 0M125.8 257.8a0.64 0.64 0 1 0 1.27 0a0.64 0.64 0 1 0 -1.27 0M88.3 238.4a0.52 0.52 0 1 0 1.04 0a0.52 0.52 0 1 0 -1.04 0M59.6 255.4a0.72 0.72 0 1 0 1.43 0a0.72 0.72 0 1 0 -1.43 0M141.7 236.2a0.68 0.68 0 1 0 1.37 0a0.68 0.68 0 1 0 -1.37 0M52.0 268.1a0.58 0.58 0 1 0 1.16 0a0.58 0.58 0 1 0 -1.16 0M46.6 282.1a0.75 0.75 0 1 0 1.49 0a0.75 0.75 0 1 0 -1.49 0M116.1 244.1a0.83 0.83 0 1 0 1.67 0a0.83 0.83 0 1 0 -1.67 0M52.9 241.4a0.64 0.64 0 1 0 1.27 0a0.64 0.64 0 1 0 -1.27 0M24.6 279.2a0.82 0.82 0 1 0 1.63 0a0.82 0.82 0 1 0 -1.63 0M19.6 207.7a0.72 0.72 0 1 0 1.44 0a0.72 0.72 0 1 0 -1.44 0M112.3 200.6a0.81 0.81 0 1 0 1.61 0a0.81 0.81 0 1 0 -1.61 0M40.7 199.3a0.69 0.69 0 1 0 1.38 0a0.69 0.69 0 1 0 -1.38 0M146.9 207.1a0.79 0.79 0 1 0 1.58 0a0.79 0.79 0 1 0 -1.58 0M90.8 264.8a0.56 0.56 0 1 0 1.11 0a0.56 0.56 0 1 0 -1.11 0M126.6 254.9a0.51 0.51 0 1 0 1.02 0a0.51 0.51 0 1 0 -1.02 0" fill="#9c3e30" opacity="0.8"/>
<path d="M41.1 260.4a0.80 0.80 0 1 0 1.60 0a0.80 0.80 0 1 0 -1.60 0M47.7 267.2a0.64 0.64 0 1 0 1.28 0a0.64 0.64 0 1 0 -1.28 0M139.8 231.1a0.80 0.80 0 1 0 1.60 0a0.80 0.80 0 1 0 -1.60 0M29.0 259.3a0.62 0.62 0 1 0 1.24 0a0.62 0.62 0 1 0 -1.24 0M21.8 218.5a0.78 0.78 0 1 0 1.55 0a0.78 0.78 0 1 0 -1.55 0M86.0 289.7a0.55 0.55 0 1 0 1.11 0a0.55 0.55 0 1 0 -1.11 0M136.5 246.6a0.64 0.64 0 1 0 1.28 0a0.64 0.64 0 1 0 -1.28 0M25.1 236.2a0.55 0.55 0 1 0 1.10 0a0.55 0.55 0 1 0 -1.10 0M146.2 296.8a0.72 0.72 0 1 0 1.45 0a0.72 0.72 0 1 0 -1.45 0M88.6 282.3a0.57 0.57 0 1 0 1.14 0a0.57 0.57 0 1 0 -1.14 0M93.1 303.6a0.68 0.68 0 1 0 1.37 0a0.68 0.68 0 1 0 -1.37 0M134.3 220.6a0.60 0.60 0 1 0 1.20 0a0.60 0.60 0 1 0 -1.20 0M153.8 213.2a0.68 0.68 0 1 0 1.35 0a0.68 0.68 0 1 0 -1.35 0M74.3 271.0a0.61 0.61 0 1 0 1.21 0a0.61 0.61 0 1 0 -1.21 0M55.1 230.9a0.68 0.68 0 1 0 1.37 0a0.68 0.68 0 1 0 -1.37 0M54.1 206.7a0.79 0.79 0 1 0 1.58 0a0.79 0.79 0 1 0 -1.58 0M131.3 300.4a0.71 0.71 0 1 0 1.43 0a0.71 0.71 0 1 0 -1.43 0M79.6 277.9a0.84 0.84 0 1 0 1.68 0a0.84 0.84 0 1 0 -1.68 0M81.6 259.9a0.57 0.57 0 1 0 1.15 0a0.57 0.57 0 1 0 -1.15 0M145.1 252.9a0.68 0.68 0 1 0 1.35 0a0.68 0.68 0 1 0 -1.35 0M124.1 293.5a0.66 0.66 0 1 0 1.31 0a0.66 0.66 0 1 0 -1.31 0M97.3 203.4a0.79 0.79 0 1 0 1.57 0a0.79 0.79 0 1 0 -1.57 0M87.1 254.3a0.55 0.55 0 1 0 1.10 0a0.55 0.55 0 1 0 -1.10 0M136.8 225.4a0.59 0.59 0 1 0 1.17 0a0.59 0.59 0 1 0 -1.17 0M60.7 280.7a0.73 0.73 0 1 0 1.45 0a0.73 0.73 0 1 0 -1.45 0M147.0 288.0a0.63 0.63 0 1 0 1.27 0a0.63 0.63 0 1 0 -1.27 0M84.6 214.1a0.55 0.55 0 1 0 1.10 0a0.55 0.55 0 1 0 -1.10 0M37.1 263.5a0.75 0.75 0 1 0 1.49 0a0.75 0.75 0 1 0 -1.49 0M78.3 278.9a0.79 0.79 0 1 0 1.59 0a0.79 0.79 0 1 0 -1.59 0M88.2 298.5a0.59 0.59 0 1 0 1.19 0a0.59 0.59 0 1 0 -1.19 0M53.9 221.4a0.63 0.63 0 1 0 1.26 0a0.63 0.63 0 1 0 -1.26 0M28.0 222.5a0.74 0.74 0 1 0 1.48 0a0.74 0.74 0 1 0 -1.48 0M54.2 274.6a0.63 0.63 0 1 0 1.27 0a0.63 0.63 0 1 0 -1.27 0M68.7 274.7a0.74 0.74 0 1 0 1.48 0a0.74 0.74 0 1 0 -1.48 0M54.9 253.1a0.61 0.61 0 1 0 1.23 0a0.61 0.61 0 1 0 -1.23 0M146.6 282.2a0.75 0.75 0 1 0 1.51 0a0.75 0.75 0 1 0 -1.51 0M75.4 297.2a0.61 0.61 0 1 0 1.21 0a0.61 0.61 0 1 0 -1.21 0M84.5 283.2a0.77 0.77 0 1 0 1.54 0a0.77 0.77 0 1 0 -1.54 0M103.4 242.5a0.63 0.63 0 1 0 1.25 0a0.63 0.63 0 1 0 -1.25 0M74.7 261.5a0.85 0.85 0 1 0 1.69 0a0.85 0.85 0 1 0 -1.69 0M39.9 240.5a0.64 0.64 0 1 0 1.27 0a0.64 0.64 0 1 0 -1.27 0M104.1 275.9a0.62 0.62 0 1 0 1.24 0a0.62 0.62 0 1 0 -1.24 0M66.7 287.2a0.58 0.58 0 1 0 1.16 0a0.58 0.58 0 1 0 -1.16 0M68.8 245.6a0.72 0.72 0 1 0 1.43 0a0.72 0.72 0 1 0 -1.43 0M111.1 295.9a0.68 0.68 0 1 0 1.35 0a0.68 0.68 0 1 0 -1.35 0M94.9 303.9a0.52 0.52 0 1 0 1.05 0a0.52 0.52 0 1 0 -1.05 0M21.5 254.6a0.54 0.54 0 1 0 1.07 0a0.54 0.54 0 1 0 -1.07 0M37.1 210.2a0.61 0.61 0 1 0 1.22 0a0.61 0.61 0 1 0 -1.22 0M54.0 219.5a0.52 0.52 0 1 0 1.04 0a0.52 0.52 0 1 0 -1.04 0M101.6 216.2a0.59 0.59 0 1 0 1.19 0a0.59 0.59 0 1 0 -1.19 0M95.8 283.7a0.71 0.71 0 1 0 1.43 0a0.71 0.71 0 1 0 -1.43 0M18.1 278.6a0.77 0.77 0 1 0 1.55 0a0.77 0.77 0 1 0 -1.55 0M25.6 281.1a0.60 0.60 0 1 0 1.21 0a0.60 0.60 0 1 0 -1.21 0M116.9 238.8a0.72 0.72 0 1 0 1.44 0a0.72 0.72 0 1 0 -1.44 0M121.5 291.5a0.50 0.50 0 1 0 1.00 0a0.50 0.50 0 1 0 -1.00 0M47.3 262.6a0.73 0.73 0 1 0 1.45 0a0.73 0.73 0 1 0 -1.45 0M46.9 217.4a0.82 0.82 0 1 0 1.63 0a0.82 0.82 0 1 0 -1.63 0M119.0 208.0a0.78 0.78 0 1 0 1.55 0a0.78 0.78 0 1 0 -1.55 0M39.0 284.5a0.59 0.59 0 1 0 1.18 0a0.59 0.59 0 1 0 -1.18 0M66.2 246.2a0.54 0.54 0 1 0 1.08 0a0.54 0.54 0 1 0 -1.08 0M151.1 267.3a0.76 0.76 0 1 0 1.51 0a0.76 0.76 0 1 0 -1.51 0M137.4 281.2a0.72 0.72 0 1 0 1.44 0a0.72 0.72 0 1 0 -1.44 0M116.9 282.9a0.52 0.52 0 1 0 1.04 0a0.52 0.52 0 1 0 -1.04 0M62.4 241.3a0.63 0.63 0 1 0 1.25 0a0.63 0.63 0 1 0 -1.25 0M114.9 199.5a0.53 0.53 0 1 0 1.07 0a0.53 0.53 0 1 0 -1.07 0M46.9 292.6a0.69 0.69 0 1 0 1.39 0a0.69 0.69 0 1 0 -1.39 0M26.1 253.5a0.67 0.67 0 1 0 1.33 0a0.67 0.67 0 1 0 -1.33 0M88.3 231.6a0.68 0.68 0 1 0 1.36 0a0.68 0.68 0 1 0 -1.36 0M57.1 235.6a0.76 0.76 0 1 0 1.53 0a0.76 0.76 0 1 0 -1.53 0M154.1 256.8a0.66 0.66 0 1 0 1.31 0a0.66 0.66 0 1 0 -1.31 0M140.9 263.5a0.80 0.80 0 1 0 1.60 0a0.80 0.80 0 1 0 -1.60 0M23.6 214.8a0.63 0.63 0 1 0 1.26 0a0.63 0.63 0 1 0 -1.26 0M50.2 219.9a0.71 0.71 0 1 0 1.42 0a0.71 0.71 0 1 0 -1.42 0M144.2 278.9a0.61 0.61 0 1 0 1.23 0a0.61 0.61 0 1 0 -1.23 0M31.8 282.2a0.79 0.79 0 1 0 1.57 0a0.79 0.79 0 1 0 -1.57 0M90.0 267.5a0.73 0.73 0 1 0 1.47 0a0.73 0.73 0 1 0 -1.47 0M40.5 285.3a0.68 0.68 0 1 0 1.37 0a0.68 0.68 0 1 0 -1.37 0M105.9 211.9a0.83 0.83 0 1 0 1.67 0a0.83 0.83 0 1 0 -1.67 0M100.2 228.0a0.72 0.72 0 1 0 1.43 0a0.72 0.72 0 1 0 -1.43 0M86.0 285.4a0.54 0.54 0 1 0 1.08 0a0.54 0.54 0 1 0 -1.08 0M157.4 288.5a0.66 0.66 0 1 0 1.31 0a0.66 0.66 0 1 0 -1.31 0M92.6 212.0a0.84 0.84 0 1 0 1.68 0a0.84 0.84 0 1 0 -1.68 0M156.3 282.0a0.58 0.58 0 1 0 1.16 0a0.58 0.58 0 1 0 -1.16 0M119.6 296.8a0.71 0.71 0 1 0 1.43 0a0.71 0.71 0 1 0 -1.43 0M62.2 298.2a0.70 0.70 0 1 0 1.39 0a0.70 0.70 0 1 0 -1.39 0M111.4 293.8a0.53 0.53 0 1 0 1.06 0a0.53 0.53 0 1 0 -1.06 0M124.8 206.0a0.79 0.79 0 1 0 1.58 0a0.79 0.79 0 1 0 -1.58 0M155.8 265.7a0.75 0.75 0 1 0 1.49 0a0.75 0.75 0 1 0 -1.49 0M118.0 229.3a0.84 0.84 0 1 0 1.69 0a0.84 0.84 0 1 0 -1.69 0M34.9 263.9a0.68 0.68 0 1 0 1.37 0a0.68 0.68 0 1 0 -1.37 0M80.3 252.8a0.81 0.81 0 1 0 1.62 0a0.81 0.81 0 1 0 -1.62 0M122.2 201.7a0.68 0.68 0 1 0 1.35 0a0.68 0.68 0 1 0 -1.35 0M87.2 216.9a0.85 0.85 0 1 0 1.69 0a0.85 0.85 0 1 0 -1.69 0M139.9 215.7a0.85 0.85 0 1 0 1.70 0a0.85 0.85 0 1 0 -1.70 0M106.9 236.3a0.65 0.65 0 1 0 1.31 0a0.65 0.65 0 1 0 -1.31 0M121.6 260.7a0.57 0.57 0 1 0 1.13 0a0.57 0.57 0 1 0 -1.13 0M152.3 300.8a0.52 0.52 0 1 0 1.05 0a0.52 0.52 0 1 0 -1.05 0" fill="#b04c32" opacity="0.8"/>
<path d="M121.4 242.7a0.59 0.59 0 1 0 1.18 0a0.59 0.59 0 1 0 -1.18 0M83.5 209.4a0.73 0.73 0 1 0 1.46 0a0.73 0.73 0 1 0 -1.46 0M156.9 288.6a0.71 0.71 0 1 0 1.43 0a0.71 0.71 0 1 0 -1.43 0M48.1 271.8a0.71 0.71 0 1 0 1.41 0a0.71 0.71 0 1 0 -1.41 0M34.5 229.2a0.67 0.67 0 1 0 1.33 0a0.67 0.67 0 1 0 -1.33 0M95.5 258.1a0.83 0.83 0 1 0 1.65 0a0.83 0.83 0 1 0 -1.65 0" fill="#86c03a" opacity="0.75"/>
<path d="M139.0 275.7a0.51 0.51 0 1 0 1.02 0a0.51 0.51 0 1 0 -1.02 0M100.7 234.7a0.68 0.68 0 1 0 1.36 0a0.68 0.68 0 1 0 -1.36 0M156.8 239.3a0.77 0.77 0 1 0 1.54 0a0.77 0.77 0 1 0 -1.54 0M104.2 205.6a0.66 0.66 0 1 0 1.32 0a0.66 0.66 0 1 0 -1.32 0M28.2 255.6a0.57 0.57 0 1 0 1.14 0a0.57 0.57 0 1 0 -1.14 0" fill="#70bc38" opacity="0.75"/>
<path d="M29.0 283.2a0.53 0.53 0 1 0 1.06 0a0.53 0.53 0 1 0 -1.06 0M17.4 243.5a0.73 0.73 0 1 0 1.46 0a0.73 0.73 0 1 0 -1.46 0M48.4 213.8a0.77 0.77 0 1 0 1.54 0a0.77 0.77 0 1 0 -1.54 0M133.8 232.8a0.61 0.61 0 1 0 1.21 0a0.61 0.61 0 1 0 -1.21 0" fill="#b4c030" opacity="0.75"/>
<path d="M137.0 226.7a0.83 0.83 0 1 0 1.65 0a0.83 0.83 0 1 0 -1.65 0M65.0 287.8a0.75 0.75 0 1 0 1.50 0a0.75 0.75 0 1 0 -1.50 0" fill="#a8b83a" opacity="0.75"/>
<path d="M145.7 245.5h1v1h-1zM100.2 243.7h1v1h-1zM138.5 296.6h1v1h-1zM144.3 207.1h1v1h-1zM103.2 280.9h1v1h-1zM146.8 257.5h1v1h-1zM83.2 217.2h1v1h-1zM17.7 201.1h1v1h-1zM56.1 274.9h1v1h-1zM73.6 255.9h1v1h-1zM55.0 301.7h1v1h-1zM147.2 226.5h1v1h-1zM71.1 209.7h1v1h-1zM72.6 224.1h1v1h-1zM119.7 231.6h1v1h-1zM113.9 201.3h1v1h-1zM116.9 266.1h1v1h-1zM57.7 280.2h1v1h-1zM139.2 294.5h1v1h-1zM115.1 245.0h1v1h-1zM99.5 279.3h1v1h-1zM61.3 292.1h1v1h-1zM128.2 272.1h1v1h-1zM124.3 203.9h1v1h-1zM131.9 245.8h1v1h-1zM114.0 267.5h1v1h-1zM76.6 276.5h1v1h-1zM138.3 303.9h1v1h-1zM19.0 295.5h1v1h-1zM126.6 261.6h1v1h-1zM124.7 235.4h1v1h-1zM73.9 202.8h1v1h-1zM148.3 284.1h1v1h-1zM89.8 263.4h1v1h-1zM133.5 216.1h1v1h-1zM97.5 275.1h1v1h-1zM99.3 302.0h1v1h-1zM52.9 270.5h1v1h-1zM127.1 239.9h1v1h-1zM150.0 242.2h1v1h-1zM37.3 216.6h1v1h-1zM72.3 303.1h1v1h-1zM146.4 293.9h1v1h-1zM110.7 251.9h1v1h-1zM107.7 262.6h1v1h-1zM152.1 240.2h1v1h-1zM72.1 275.8h1v1h-1zM130.6 276.9h1v1h-1zM39.2 265.7h1v1h-1zM54.7 227.6h1v1h-1zM52.8 199.4h1v1h-1zM33.5 269.7h1v1h-1zM129.5 209.8h1v1h-1zM150.9 247.9h1v1h-1zM127.6 202.9h1v1h-1zM27.9 284.8h1v1h-1zM30.2 202.5h1v1h-1zM109.9 203.1h1v1h-1zM75.4 284.9h1v1h-1zM32.7 287.8h1v1h-1zM145.7 301.9h1v1h-1zM103.7 285.6h1v1h-1zM39.1 259.4h1v1h-1zM140.8 290.2h1v1h-1zM40.9 286.3h1v1h-1zM73.0 252.8h1v1h-1zM129.7 269.3h1v1h-1zM62.8 289.2h1v1h-1zM148.7 284.2h1v1h-1zM23.6 200.1h1v1h-1zM98.2 209.0h1v1h-1zM28.9 290.8h1v1h-1zM23.3 228.3h1v1h-1zM59.8 297.3h1v1h-1zM150.9 281.7h1v1h-1zM81.6 210.9h1v1h-1zM153.4 222.2h1v1h-1zM107.5 281.0h1v1h-1zM88.9 292.4h1v1h-1zM149.8 237.3h1v1h-1zM117.2 208.5h1v1h-1zM77.7 269.8h1v1h-1zM55.5 238.1h1v1h-1zM124.3 220.9h1v1h-1zM147.5 213.4h1v1h-1zM48.2 263.6h1v1h-1zM49.2 287.5h1v1h-1zM67.5 212.0h1v1h-1zM111.5 243.8h1v1h-1zM105.1 210.4h1v1h-1zM24.0 229.8h1v1h-1zM89.7 219.6h1v1h-1zM46.1 287.1h1v1h-1zM50.9 235.3h1v1h-1zM140.2 304.3h1v1h-1zM126.2 213.4h1v1h-1zM125.1 208.1h1v1h-1zM130.0 227.8h1v1h-1zM47.6 243.7h1v1h-1zM36.7 269.2h1v1h-1zM133.4 269.1h1v1h-1zM129.7 215.6h1v1h-1zM55.2 287.3h1v1h-1zM62.9 277.7h1v1h-1zM97.0 214.3h1v1h-1zM47.9 296.4h1v1h-1zM144.6 261.7h1v1h-1zM18.8 200.3h1v1h-1zM149.7 283.2h1v1h-1zM115.6 226.0h1v1h-1zM145.5 206.2h1v1h-1zM114.2 271.4h1v1h-1zM69.1 284.6h1v1h-1zM43.4 300.5h1v1h-1zM149.0 234.4h1v1h-1zM63.3 282.8h1v1h-1zM65.2 260.9h1v1h-1zM114.6 298.7h1v1h-1zM123.6 227.7h1v1h-1zM66.7 206.5h1v1h-1zM130.7 288.0h1v1h-1zM48.2 248.5h1v1h-1zM65.7 228.5h1v1h-1zM20.7 261.5h1v1h-1zM151.5 216.6h1v1h-1zM123.6 280.4h1v1h-1zM92.5 288.4h1v1h-1zM76.6 264.3h1v1h-1zM26.2 214.7h1v1h-1zM99.9 287.8h1v1h-1zM83.8 297.5h1v1h-1zM86.6 242.0h1v1h-1zM127.8 296.1h1v1h-1zM144.4 268.4h1v1h-1zM47.0 231.2h1v1h-1zM95.7 202.3h1v1h-1zM58.9 282.0h1v1h-1zM52.2 267.2h1v1h-1zM59.7 212.6h1v1h-1zM63.9 232.5h1v1h-1zM56.0 231.4h1v1h-1zM146.9 259.4h1v1h-1zM87.1 226.5h1v1h-1zM57.6 283.2h1v1h-1zM63.9 214.3h1v1h-1zM71.5 269.9h1v1h-1zM150.1 286.8h1v1h-1zM86.8 216.4h1v1h-1zM142.3 202.7h1v1h-1zM99.3 301.5h1v1h-1zM61.5 253.9h1v1h-1zM59.9 242.5h1v1h-1zM32.0 264.0h1v1h-1zM116.1 212.2h1v1h-1zM18.0 224.1h1v1h-1zM66.8 244.6h1v1h-1zM117.7 253.7h1v1h-1zM21.1 200.5h1v1h-1zM79.5 216.4h1v1h-1zM131.3 277.6h1v1h-1zM130.7 263.9h1v1h-1zM46.2 282.5h1v1h-1zM57.6 216.0h1v1h-1zM22.0 239.9h1v1h-1zM152.1 271.0h1v1h-1zM110.2 238.8h1v1h-1zM78.4 294.9h1v1h-1zM158.3 233.9h1v1h-1zM100.0 250.1h1v1h-1zM45.3 252.7h1v1h-1zM29.1 282.9h1v1h-1zM74.0 267.9h1v1h-1zM127.3 223.5h1v1h-1zM151.1 303.1h1v1h-1zM85.4 206.2h1v1h-1zM107.3 270.4h1v1h-1zM47.5 281.0h1v1h-1zM56.5 226.1h1v1h-1zM28.6 264.1h1v1h-1zM123.9 272.1h1v1h-1zM59.9 230.0h1v1h-1zM24.2 217.1h1v1h-1zM52.6 220.6h1v1h-1zM22.5 240.8h1v1h-1zM17.9 251.8h1v1h-1zM16.9 239.0h1v1h-1zM30.2 215.7h1v1h-1zM115.4 206.2h1v1h-1zM127.3 270.6h1v1h-1zM107.5 254.8h1v1h-1zM119.0 221.9h1v1h-1zM74.2 200.4h1v1h-1zM17.1 242.6h1v1h-1zM104.1 300.8h1v1h-1zM135.6 204.2h1v1h-1zM146.8 240.5h1v1h-1zM75.3 215.4h1v1h-1zM29.5 246.4h1v1h-1zM93.8 288.8h1v1h-1zM110.9 218.8h1v1h-1zM101.1 285.5h1v1h-1zM51.6 229.5h1v1h-1zM53.1 301.5h1v1h-1zM37.4 265.5h1v1h-1zM67.9 275.3h1v1h-1zM87.5 221.7h1v1h-1zM138.6 255.4h1v1h-1zM19.6 221.7h1v1h-1zM40.5 232.6h1v1h-1zM39.6 266.9h1v1h-1zM102.9 239.6h1v1h-1zM53.1 265.8h1v1h-1zM69.8 279.9h1v1h-1zM139.2 274.8h1v1h-1zM149.9 230.4h1v1h-1zM137.4 241.5h1v1h-1zM138.3 263.9h1v1h-1zM57.2 228.2h1v1h-1zM138.2 249.7h1v1h-1zM38.2 260.0h1v1h-1zM36.6 205.0h1v1h-1zM53.5 280.7h1v1h-1zM46.1 290.0h1v1h-1zM22.2 234.2h1v1h-1zM17.1 271.4h1v1h-1zM103.9 281.6h1v1h-1zM132.3 294.7h1v1h-1zM76.7 237.4h1v1h-1zM102.9 250.0h1v1h-1zM44.0 244.4h1v1h-1zM72.1 292.7h1v1h-1zM28.0 275.5h1v1h-1zM116.8 295.4h1v1h-1zM97.2 273.3h1v1h-1zM34.0 291.1h1v1h-1zM23.9 263.0h1v1h-1zM32.5 222.8h1v1h-1zM114.1 239.2h1v1h-1zM113.9 221.8h1v1h-1zM30.1 235.3h1v1h-1zM88.3 284.3h1v1h-1zM139.5 238.6h1v1h-1zM150.4 258.2h1v1h-1zM42.7 251.9h1v1h-1zM113.0 279.4h1v1h-1zM33.5 301.6h1v1h-1zM95.6 199.0h1v1h-1zM57.0 286.7h1v1h-1zM24.2 231.6h1v1h-1zM112.8 212.0h1v1h-1zM118.4 261.0h1v1h-1zM54.6 284.4h1v1h-1zM26.9 219.0h1v1h-1zM125.0 262.3h1v1h-1zM47.3 240.1h1v1h-1zM137.0 216.9h1v1h-1zM25.7 251.3h1v1h-1zM45.5 270.8h1v1h-1zM51.2 218.6h1v1h-1zM103.7 300.2h1v1h-1zM94.4 300.9h1v1h-1zM157.3 278.2h1v1h-1zM98.0 238.0h1v1h-1zM27.7 254.5h1v1h-1zM42.0 258.6h1v1h-1zM78.1 257.5h1v1h-1zM98.2 257.9h1v1h-1zM148.2 257.2h1v1h-1zM33.2 292.2h1v1h-1zM121.8 237.5h1v1h-1zM79.5 258.1h1v1h-1zM72.1 269.5h1v1h-1zM158.2 204.0h1v1h-1zM146.8 303.4h1v1h-1zM139.0 247.6h1v1h-1zM110.7 248.0h1v1h-1zM69.5 215.1h1v1h-1zM45.0 249.1h1v1h-1zM56.6 220.6h1v1h-1zM103.0 228.5h1v1h-1zM134.7 207.8h1v1h-1zM48.7 243.5h1v1h-1zM46.9 287.2h1v1h-1zM86.4 205.0h1v1h-1zM45.5 272.6h1v1h-1zM60.4 230.2h1v1h-1zM46.4 199.8h1v1h-1zM124.2 233.0h1v1h-1zM51.1 209.7h1v1h-1zM88.3 276.8h1v1h-1zM151.0 297.4h1v1h-1zM18.9 251.1h1v1h-1zM85.4 256.7h1v1h-1zM77.1 296.8h1v1h-1zM100.8 244.7h1v1h-1zM153.2 253.4h1v1h-1zM17.7 265.0h1v1h-1zM153.5 267.7h1v1h-1zM44.9 287.4h1v1h-1zM21.6 288.3h1v1h-1zM35.7 287.7h1v1h-1zM41.8 214.0h1v1h-1zM52.2 251.9h1v1h-1zM114.8 252.8h1v1h-1zM26.6 298.9h1v1h-1zM135.6 237.4h1v1h-1zM21.8 241.9h1v1h-1zM153.3 299.6h1v1h-1zM40.5 219.4h1v1h-1zM155.2 234.4h1v1h-1zM115.3 297.0h1v1h-1zM133.8 283.8h1v1h-1zM103.5 284.1h1v1h-1zM49.9 294.3h1v1h-1zM46.8 211.6h1v1h-1zM125.8 303.6h1v1h-1zM124.3 264.6h1v1h-1zM29.1 254.5h1v1h-1zM41.9 255.8h1v1h-1zM74.7 213.4h1v1h-1zM93.7 282.4h1v1h-1zM118.0 213.4h1v1h-1zM149.5 297.3h1v1h-1zM67.4 302.1h1v1h-1zM43.6 240.9h1v1h-1zM135.9 207.6h1v1h-1zM72.5 199.5h1v1h-1zM46.5 236.2h1v1h-1zM134.9 264.8h1v1h-1zM30.0 282.9h1v1h-1zM124.3 231.0h1v1h-1zM41.1 276.4h1v1h-1zM149.6 221.7h1v1h-1zM63.4 233.7h1v1h-1zM153.8 203.9h1v1h-1zM19.1 217.8h1v1h-1zM82.2 300.9h1v1h-1zM21.7 283.0h1v1h-1zM91.1 292.9h1v1h-1zM153.4 274.6h1v1h-1zM52.0 295.0h1v1h-1zM18.2 303.2h1v1h-1zM75.2 227.1h1v1h-1zM141.9 251.3h1v1h-1zM71.3 230.9h1v1h-1zM76.0 224.8h1v1h-1zM90.0 244.7h1v1h-1zM54.0 199.1h1v1h-1zM38.0 281.3h1v1h-1zM117.1 296.4h1v1h-1zM37.7 296.7h1v1h-1zM142.5 235.6h1v1h-1zM152.0 302.8h1v1h-1zM136.6 257.5h1v1h-1zM140.2 214.9h1v1h-1zM35.4 213.2h1v1h-1zM115.2 300.3h1v1h-1zM44.1 213.0h1v1h-1zM142.2 291.6h1v1h-1zM34.6 202.0h1v1h-1zM56.0 227.4h1v1h-1zM17.6 213.9h1v1h-1zM135.1 205.3h1v1h-1zM81.3 274.4h1v1h-1zM117.9 231.3h1v1h-1zM35.5 243.7h1v1h-1zM67.6 246.0h1v1h-1zM58.0 248.9h1v1h-1zM154.9 199.3h1v1h-1zM49.2 288.5h1v1h-1zM87.4 281.6h1v1h-1zM27.7 303.4h1v1h-1zM16.9 281.8h1v1h-1zM51.4 273.9h1v1h-1zM130.8 276.4h1v1h-1zM152.1 222.1h1v1h-1zM137.5 264.0h1v1h-1zM42.5 221.6h1v1h-1zM29.4 294.2h1v1h-1zM63.4 235.3h1v1h-1zM33.8 283.6h1v1h-1zM95.5 220.2h1v1h-1zM129.4 255.4h1v1h-1zM129.1 273.3h1v1h-1zM77.8 236.3h1v1h-1zM143.3 217.7h1v1h-1zM30.9 289.5h1v1h-1zM114.1 296.6h1v1h-1zM103.2 304.4h1v1h-1zM77.8 205.2h1v1h-1zM111.1 225.2h1v1h-1zM72.2 237.5h1v1h-1zM62.8 253.3h1v1h-1zM101.5 206.0h1v1h-1zM143.3 235.3h1v1h-1zM121.2 235.2h1v1h-1zM33.5 233.4h1v1h-1zM48.5 230.7h1v1h-1zM111.4 270.4h1v1h-1zM43.7 273.3h1v1h-1zM104.0 215.7h1v1h-1zM98.9 204.5h1v1h-1zM110.3 226.7h1v1h-1zM100.2 297.9h1v1h-1zM116.8 257.7h1v1h-1zM97.4 224.8h1v1h-1zM83.0 204.3h1v1h-1zM86.5 301.1h1v1h-1zM87.9 277.4h1v1h-1zM144.7 258.5h1v1h-1zM34.9 303.5h1v1h-1zM88.8 243.9h1v1h-1zM25.4 275.2h1v1h-1zM136.8 254.9h1v1h-1zM42.8 273.4h1v1h-1zM43.4 235.3h1v1h-1zM50.4 254.4h1v1h-1zM108.8 257.7h1v1h-1zM40.0 223.4h1v1h-1zM47.7 252.6h1v1h-1zM153.3 268.0h1v1h-1zM138.5 208.1h1v1h-1zM20.0 256.2h1v1h-1zM49.1 233.8h1v1h-1zM120.3 208.4h1v1h-1zM141.2 242.2h1v1h-1zM100.8 203.0h1v1h-1zM25.3 269.9h1v1h-1zM21.9 266.0h1v1h-1zM60.7 230.3h1v1h-1zM152.2 290.0h1v1h-1zM60.1 239.3h1v1h-1zM58.3 211.2h1v1h-1zM151.9 267.5h1v1h-1zM118.0 243.4h1v1h-1zM46.1 265.4h1v1h-1zM51.4 295.3h1v1h-1zM150.7 301.1h1v1h-1zM47.0 229.9h1v1h-1zM139.0 247.8h1v1h-1zM95.8 274.2h1v1h-1zM46.4 247.6h1v1h-1zM28.4 201.8h1v1h-1zM154.0 275.0h1v1h-1zM104.8 220.2h1v1h-1zM58.4 296.0h1v1h-1zM157.6 266.6h1v1h-1zM147.6 240.3h1v1h-1zM136.3 275.7h1v1h-1zM47.9 296.2h1v1h-1zM18.5 226.9h1v1h-1zM86.6 297.9h1v1h-1zM66.5 210.1h1v1h-1zM119.1 269.5h1v1h-1zM33.5 271.5h1v1h-1zM71.6 243.1h1v1h-1zM150.1 286.7h1v1h-1zM155.3 272.9h1v1h-1zM71.4 238.1h1v1h-1zM36.6 205.7h1v1h-1zM89.2 215.4h1v1h-1zM99.2 221.0h1v1h-1zM87.9 293.7h1v1h-1zM82.6 296.5h1v1h-1zM59.2 212.8h1v1h-1zM116.9 244.5h1v1h-1zM111.4 259.8h1v1h-1zM78.4 237.0h1v1h-1zM47.4 303.6h1v1h-1zM45.4 247.4h1v1h-1zM143.2 285.0h1v1h-1zM156.0 264.6h1v1h-1zM56.9 290.5h1v1h-1zM25.8 298.4h1v1h-1zM80.1 270.8h1v1h-1zM143.5 253.5h1v1h-1zM133.0 287.4h1v1h-1zM88.8 295.1h1v1h-1zM51.8 215.1h1v1h-1zM117.0 285.9h1v1h-1z" fill="#c8c8c8" opacity="0.3"/>
<rect x="184" y="195.5" width="146" height="109.5" fill="#8f8f8f"/>
<rect x="184" y="195.5" width="146" height="109.5" fill="url(#noise)" opacity="0.07"/>
<path d="M184,196.0 H330" stroke="#7a7a7a" stroke-width="1" opacity="0.6"/>
<path d="M322.5 298.1a0.92 0.92 0 1 0 1.84 0a0.92 0.92 0 1 0 -1.84 0M290.7 268.1a1.01 1.01 0 1 0 2.02 0a1.01 1.01 0 1 0 -2.02 0M189.3 269.3a1.25 1.25 0 1 0 2.50 0a1.25 1.25 0 1 0 -2.50 0M308.6 250.7a1.03 1.03 0 1 0 2.06 0a1.03 1.03 0 1 0 -2.06 0M223.2 199.7a0.91 0.91 0 1 0 1.82 0a0.91 0.91 0 1 0 -1.82 0M315.3 241.5a1.21 1.21 0 1 0 2.42 0a1.21 1.21 0 1 0 -2.42 0M218.5 198.4a1.01 1.01 0 1 0 2.03 0a1.01 1.01 0 1 0 -2.03 0M236.2 251.2a1.10 1.10 0 1 0 2.19 0a1.10 1.10 0 1 0 -2.19 0M299.2 275.0a1.22 1.22 0 1 0 2.43 0a1.22 1.22 0 1 0 -2.43 0M235.3 301.6a1.24 1.24 0 1 0 2.47 0a1.24 1.24 0 1 0 -2.47 0M287.6 245.6a1.09 1.09 0 1 0 2.17 0a1.09 1.09 0 1 0 -2.17 0M256.7 285.5a1.02 1.02 0 1 0 2.05 0a1.02 1.02 0 1 0 -2.05 0M235.0 274.1a1.10 1.10 0 1 0 2.19 0a1.10 1.10 0 1 0 -2.19 0M216.3 230.8a1.14 1.14 0 1 0 2.29 0a1.14 1.14 0 1 0 -2.29 0M223.1 294.1a1.01 1.01 0 1 0 2.02 0a1.01 1.01 0 1 0 -2.02 0M304.3 256.5a1.08 1.08 0 1 0 2.16 0a1.08 1.08 0 1 0 -2.16 0M229.4 218.2a1.08 1.08 0 1 0 2.16 0a1.08 1.08 0 1 0 -2.16 0M217.2 290.3a0.94 0.94 0 1 0 1.87 0a0.94 0.94 0 1 0 -1.87 0M219.5 218.5a1.21 1.21 0 1 0 2.42 0a1.21 1.21 0 1 0 -2.42 0M294.0 201.9a1.03 1.03 0 1 0 2.05 0a1.03 1.03 0 1 0 -2.05 0M196.5 298.8a0.91 0.91 0 1 0 1.82 0a0.91 0.91 0 1 0 -1.82 0M238.0 209.6a1.23 1.23 0 1 0 2.46 0a1.23 1.23 0 1 0 -2.46 0M284.3 237.4a0.92 0.92 0 1 0 1.83 0a0.92 0.92 0 1 0 -1.83 0M324.4 196.3a1.23 1.23 0 1 0 2.46 0a1.23 1.23 0 1 0 -2.46 0M200.8 232.2a0.91 0.91 0 1 0 1.82 0a0.91 0.91 0 1 0 -1.82 0M291.1 293.1a1.16 1.16 0 1 0 2.33 0a1.16 1.16 0 1 0 -2.33 0M206.6 299.3a0.93 0.93 0 1 0 1.87 0a0.93 0.93 0 1 0 -1.87 0M187.7 280.9a1.23 1.23 0 1 0 2.46 0a1.23 1.23 0 1 0 -2.46 0M254.5 231.2a1.21 1.21 0 1 0 2.41 0a1.21 1.21 0 1 0 -2.41 0M272.0 241.1a0.91 0.91 0 1 0 1.81 0a0.91 0.91 0 1 0 -1.81 0M281.3 223.1a0.95 0.95 0 1 0 1.89 0a0.95 0.95 0 1 0 -1.89 0M275.9 250.6a1.24 1.24 0 1 0 2.49 0a1.24 1.24 0 1 0 -2.49 0M218.0 243.8a0.99 0.99 0 1 0 1.98 0a0.99 0.99 0 1 0 -1.98 0M298.7 263.1a1.03 1.03 0 1 0 2.05 0a1.03 1.03 0 1 0 -2.05 0M260.5 196.3a0.91 0.91 0 1 0 1.82 0a0.91 0.91 0 1 0 -1.82 0M199.5 198.4a1.13 1.13 0 1 0 2.27 0a1.13 1.13 0 1 0 -2.27 0M276.9 218.7a1.22 1.22 0 1 0 2.43 0a1.22 1.22 0 1 0 -2.43 0M300.9 241.7a0.91 0.91 0 1 0 1.81 0a0.91 0.91 0 1 0 -1.81 0M318.3 258.5a1.22 1.22 0 1 0 2.44 0a1.22 1.22 0 1 0 -2.44 0M237.1 251.8a1.22 1.22 0 1 0 2.45 0a1.22 1.22 0 1 0 -2.45 0M284.1 296.4a1.01 1.01 0 1 0 2.02 0a1.01 1.01 0 1 0 -2.02 0M198.8 228.8a1.19 1.19 0 1 0 2.39 0a1.19 1.19 0 1 0 -2.39 0M301.5 202.3a1.12 1.12 0 1 0 2.25 0a1.12 1.12 0 1 0 -2.25 0M273.1 196.4a0.91 0.91 0 1 0 1.82 0a0.91 0.91 0 1 0 -1.82 0M195.5 277.3a0.97 0.97 0 1 0 1.93 0a0.97 0.97 0 1 0 -1.93 0M287.8 210.9a1.02 1.02 0 1 0 2.04 0a1.02 1.02 0 1 0 -2.04 0M201.8 204.5a1.20 1.20 0 1 0 2.40 0a1.20 1.20 0 1 0 -2.40 0M284.3 198.5a1.13 1.13 0 1 0 2.26 0a1.13 1.13 0 1 0 -2.26 0M286.1 227.2a1.24 1.24 0 1 0 2.47 0a1.24 1.24 0 1 0 -2.47 0M223.2 252.6a1.07 1.07 0 1 0 2.13 0a1.07 1.07 0 1 0 -2.13 0M319.0 286.0a1.00 1.00 0 1 0 2.01 0a1.00 1.00 0 1 0 -2.01 0M270.4 255.0a1.14 1.14 0 1 0 2.29 0a1.14 1.14 0 1 0 -2.29 0M269.1 284.0a0.93 0.93 0 1 0 1.87 0a0.93 0.93 0 1 0 -1.87 0M205.6 240.8a0.92 0.92 0 1 0 1.85 0a0.92 0.92 0 1 0 -1.85 0M327.2 265.7a0.94 0.94 0 1 0 1.89 0a0.94 0.94 0 1 0 -1.89 0M286.7 291.3a1.02 1.02 0 1 0 2.03 0a1.02 1.02 0 1 0 -2.03 0M200.4 254.2a1.23 1.23 0 1 0 2.46 0a1.23 1.23 0 1 0 -2.46 0M231.8 222.6a1.08 1.08 0 1 0 2.16 0a1.08 1.08 0 1 0 -2.16 0M250.9 271.7a1.04 1.04 0 1 0 2.08 0a1.04 1.04 0 1 0 -2.08 0M289.5 246.2a1.15 1.15 0 1 0 2.30 0a1.15 1.15 0 1 0 -2.30 0M311.7 215.3a1.08 1.08 0 1 0 2.16 0a1.08 1.08 0 1 0 -2.16 0M221.0 274.7a1.04 1.04 0 1 0 2.09 0a1.04 1.04 0 1 0 -2.09 0M323.1 231.5a1.16 1.16 0 1 0 2.32 0a1.16 1.16 0 1 0 -2.32 0M216.8 262.8a1.04 1.04 0 1 0 2.08 0a1.04 1.04 0 1 0 -2.08 0M316.4 229.6a1.08 1.08 0 1 0 2.17 0a1.08 1.08 0 1 0 -2.17 0M278.4 283.9a0.91 0.91 0 1 0 1.81 0a0.91 0.91 0 1 0 -1.81 0M266.6 237.4a0.98 0.98 0 1 0 1.95 0a0.98 0.98 0 1 0 -1.95 0M302.2 278.6a0.97 0.97 0 1 0 1.94 0a0.97 0.97 0 1 0 -1.94 0M254.0 251.2a0.96 0.96 0 1 0 1.92 0a0.96 0.96 0 1 0 -1.92 0M234.9 293.5a1.09 1.09 0 1 0 2.17 0a1.09 1.09 0 1 0 -2.17 0M293.2 248.1a1.14 1.14 0 1 0 2.27 0a1.14 1.14 0 1 0 -2.27 0M310.9 245.5a1.25 1.25 0 1 0 2.49 0a1.25 1.25 0 1 0 -2.49 0M209.3 276.8a1.17 1.17 0 1 0 2.35 0a1.17 1.17 0 1 0 -2.35 0M252.0 196.0a0.91 0.91 0 1 0 1.82 0a0.91 0.91 0 1 0 -1.82 0M248.3 289.7a1.01 1.01 0 1 0 2.02 0a1.01 1.01 0 1 0 -2.02 0M284.0 272.5a1.01 1.01 0 1 0 2.01 0a1.01 1.01 0 1 0 -2.01 0M228.1 265.5a1.18 1.18 0 1 0 2.36 0a1.18 1.18 0 1 0 -2.36 0M259.1 295.1a1.08 1.08 0 1 0 2.16 0a1.08 1.08 0 1 0 -2.16 0M260.8 287.6a1.18 1.18 0 1 0 2.36 0a1.18 1.18 0 1 0 -2.36 0M190.2 298.3a1.10 1.10 0 1 0 2.19 0a1.10 1.10 0 1 0 -2.19 0M322.5 207.9a1.19 1.19 0 1 0 2.37 0a1.19 1.19 0 1 0 -2.37 0M215.2 234.2a1.02 1.02 0 1 0 2.03 0a1.02 1.02 0 1 0 -2.03 0M248.0 227.3a1.21 1.21 0 1 0 2.43 0a1.21 1.21 0 1 0 -2.43 0M327.5 219.1a1.00 1.00 0 1 0 1.99 0a1.00 1.00 0 1 0 -1.99 0M251.9 277.0a1.20 1.20 0 1 0 2.39 0a1.20 1.20 0 1 0 -2.39 0M299.0 221.0a1.18 1.18 0 1 0 2.37 0a1.18 1.18 0 1 0 -2.37 0M301.1 276.7a1.00 1.00 0 1 0 2.00 0a1.00 1.00 0 1 0 -2.00 0M256.7 270.2a1.23 1.23 0 1 0 2.46 0a1.23 1.23 0 1 0 -2.46 0M309.8 296.7a1.16 1.16 0 1 0 2.33 0a1.16 1.16 0 1 0 -2.33 0M261.3 264.5a0.93 0.93 0 1 0 1.85 0a0.93 0.93 0 1 0 -1.85 0M209.6 299.1a1.02 1.02 0 1 0 2.05 0a1.02 1.02 0 1 0 -2.05 0M229.6 236.7a1.24 1.24 0 1 0 2.48 0a1.24 1.24 0 1 0 -2.48 0M236.1 294.8a1.21 1.21 0 1 0 2.42 0a1.21 1.21 0 1 0 -2.42 0M185.4 230.4a1.19 1.19 0 1 0 2.38 0a1.19 1.19 0 1 0 -2.38 0M225.6 264.6a0.95 0.95 0 1 0 1.91 0a0.95 0.95 0 1 0 -1.91 0M198.2 211.1a0.97 0.97 0 1 0 1.94 0a0.97 0.97 0 1 0 -1.94 0M236.5 205.4a0.97 0.97 0 1 0 1.93 0a0.97 0.97 0 1 0 -1.93 0M272.5 232.1a1.03 1.03 0 1 0 2.06 0a1.03 1.03 0 1 0 -2.06 0M309.0 214.9a0.92 0.92 0 1 0 1.84 0a0.92 0.92 0 1 0 -1.84 0M203.4 252.2a1.20 1.20 0 1 0 2.39 0a1.20 1.20 0 1 0 -2.39 0M272.3 238.4a1.25 1.25 0 1 0 2.50 0a1.25 1.25 0 1 0 -2.50 0M255.0 289.8a1.09 1.09 0 1 0 2.18 0a1.09 1.09 0 1 0 -2.18 0M269.1 253.9a1.24 1.24 0 1 0 2.49 0a1.24 1.24 0 1 0 -2.49 0M249.6 259.6a0.94 0.94 0 1 0 1.88 0a0.94 0.94 0 1 0 -1.88 0M316.5 204.1a1.01 1.01 0 1 0 2.01 0a1.01 1.01 0 1 0 -2.01 0M280.9 205.7a1.24 1.24 0 1 0 2.48 0a1.24 1.24 0 1 0 -2.48 0M308.4 247.0a0.92 0.92 0 1 0 1.85 0a0.92 0.92 0 1 0 -1.85 0M204.5 250.0a0.92 0.92 0 1 0 1.84 0a0.92 0.92 0 1 0 -1.84 0M303.0 252.2a1.14 1.14 0 1 0 2.28 0a1.14 1.14 0 1 0 -2.28 0M238.0 196.0a1.09 1.09 0 1 0 2.18 0a1.09 1.09 0 1 0 -2.18 0M215.0 201.5a0.98 0.98 0 1 0 1.95 0a0.98 0.98 0 1 0 -1.95 0M277.7 238.3a1.23 1.23 0 1 0 2.45 0a1.23 1.23 0 1 0 -2.45 0M207.8 207.2a1.19 1.19 0 1 0 2.37 0a1.19 1.19 0 1 0 -2.37 0M209.4 217.6a1.02 1.02 0 1 0 2.04 0a1.02 1.02 0 1 0 -2.04 0M241.7 281.9a1.18 1.18 0 1 0 2.37 0a1.18 1.18 0 1 0 -2.37 0M223.7 252.7a1.07 1.07 0 1 0 2.14 0a1.07 1.07 0 1 0 -2.14 0M274.6 275.9a1.15 1.15 0 1 0 2.29 0a1.15 1.15 0 1 0 -2.29 0M290.8 288.7a0.98 0.98 0 1 0 1.96 0a0.98 0.98 0 1 0 -1.96 0M190.0 216.9a0.94 0.94 0 1 0 1.88 0a0.94 0.94 0 1 0 -1.88 0M316.9 278.1a0.93 0.93 0 1 0 1.86 0a0.93 0.93 0 1 0 -1.86 0M275.4 299.7a0.96 0.96 0 1 0 1.91 0a0.96 0.96 0 1 0 -1.91 0M307.2 251.7a0.92 0.92 0 1 0 1.85 0a0.92 0.92 0 1 0 -1.85 0M288.3 244.9a1.13 1.13 0 1 0 2.26 0a1.13 1.13 0 1 0 -2.26 0M290.5 297.7a0.91 0.91 0 1 0 1.81 0a0.91 0.91 0 1 0 -1.81 0M262.0 238.1a1.08 1.08 0 1 0 2.17 0a1.08 1.08 0 1 0 -2.17 0M246.5 209.7a0.96 0.96 0 1 0 1.92 0a0.96 0.96 0 1 0 -1.92 0M324.4 237.1a1.11 1.11 0 1 0 2.23 0a1.11 1.11 0 1 0 -2.23 0M253.1 216.5a1.06 1.06 0 1 0 2.13 0a1.06 1.06 0 1 0 -2.13 0M194.5 235.7a1.12 1.12 0 1 0 2.24 0a1.12 1.12 0 1 0 -2.24 0M278.9 258.0a0.94 0.94 0 1 0 1.89 0a0.94 0.94 0 1 0 -1.89 0M261.8 284.6a0.93 0.93 0 1 0 1.87 0a0.93 0.93 0 1 0 -1.87 0M213.0 229.6a1.01 1.01 0 1 0 2.02 0a1.01 1.01 0 1 0 -2.02 0M280.4 284.6a0.93 0.93 0 1 0 1.85 0a0.93 0.93 0 1 0 -1.85 0M187.1 258.4a0.95 0.95 0 1 0 1.89 0a0.95 0.95 0 1 0 -1.89 0M295.6 273.6a1.12 1.12 0 1 0 2.24 0a1.12 1.12 0 1 0 -2.24 0M277.4 249.3a1.18 1.18 0 1 0 2.36 0a1.18 1.18 0 1 0 -2.36 0M265.8 287.4a1.20 1.20 0 1 0 2.40 0a1.20 1.20 0 1 0 -2.40 0M285.9 290.1a1.11 1.11 0 1 0 2.21 0a1.11 1.11 0 1 0 -2.21 0M243.0 265.3a1.10 1.10 0 1 0 2.19 0a1.10 1.10 0 1 0 -2.19 0M204.3 262.9a1.04 1.04 0 1 0 2.07 0a1.04 1.04 0 1 0 -2.07 0M240.9 247.0a1.03 1.03 0 1 0 2.07 0a1.03 1.03 0 1 0 -2.07 0M192.1 252.4a1.21 1.21 0 1 0 2.42 0a1.21 1.21 0 1 0 -2.42 0M281.7 201.6a1.15 1.15 0 1 0 2.29 0a1.15 1.15 0 1 0 -2.29 0M223.8 235.1a1.03 1.03 0 1 0 2.05 0a1.03 1.03 0 1 0 -2.05 0M268.1 271.9a1.16 1.16 0 1 0 2.31 0a1.16 1.16 0 1 0 -2.31 0M188.5 200.3a1.13 1.13 0 1 0 2.25 0a1.13 1.13 0 1 0 -2.25 0M261.9 262.2a1.13 1.13 0 1 0 2.25 0a1.13 1.13 0 1 0 -2.25 0M276.9 254.2a1.14 1.14 0 1 0 2.27 0a1.14 1.14 0 1 0 -2.27 0M204.5 229.3a1.13 1.13 0 1 0 2.26 0a1.13 1.13 0 1 0 -2.26 0M235.5 232.5a1.22 1.22 0 1 0 2.45 0a1.22 1.22 0 1 0 -2.45 0M272.2 233.4a1.18 1.18 0 1 0 2.36 0a1.18 1.18 0 1 0 -2.36 0M300.5 292.5a1.08 1.08 0 1 0 2.16 0a1.08 1.08 0 1 0 -2.16 0M190.7 242.6a1.12 1.12 0 1 0 2.24 0a1.12 1.12 0 1 0 -2.24 0M287.8 288.8a0.93 0.93 0 1 0 1.85 0a0.93 0.93 0 1 0 -1.85 0M295.6 242.0a0.98 0.98 0 1 0 1.97 0a0.98 0.98 0 1 0 -1.97 0M190.7 259.8a1.24 1.24 0 1 0 2.48 0a1.24 1.24 0 1 0 -2.48 0M210.4 197.9a1.20 1.20 0 1 0 2.41 0a1.20 1.20 0 1 0 -2.41 0M298.2 292.3a1.04 1.04 0 1 0 2.08 0a1.04 1.04 0 1 0 -2.08 0M318.6 294.3a0.98 0.98 0 1 0 1.97 0a0.98 0.98 0 1 0 -1.97 0M185.2 239.5a1.08 1.08 0 1 0 2.15 0a1.08 1.08 0 1 0 -2.15 0M216.1 252.5a1.25 1.25 0 1 0 2.50 0a1.25 1.25 0 1 0 -2.50 0M316.4 209.5a1.05 1.05 0 1 0 2.10 0a1.05 1.05 0 1 0 -2.10 0M192.1 299.2a0.96 0.96 0 1 0 1.93 0a0.96 0.96 0 1 0 -1.93 0M270.7 284.4a1.20 1.20 0 1 0 2.41 0a1.20 1.20 0 1 0 -2.41 0M325.4 264.6a1.10 1.10 0 1 0 2.20 0a1.10 1.10 0 1 0 -2.20 0M252.2 216.1a1.05 1.05 0 1 0 2.10 0a1.05 1.05 0 1 0 -2.10 0M292.6 298.6a1.19 1.19 0 1 0 2.37 0a1.19 1.19 0 1 0 -2.37 0M246.1 296.3a0.91 0.91 0 1 0 1.82 0a0.91 0.91 0 1 0 -1.82 0M266.6 269.9a0.99 0.99 0 1 0 1.97 0a0.99 0.99 0 1 0 -1.97 0M259.6 262.6a1.22 1.22 0 1 0 2.44 0a1.22 1.22 0 1 0 -2.44 0M207.2 226.9a1.23 1.23 0 1 0 2.46 0a1.23 1.23 0 1 0 -2.46 0M257.2 292.7a1.16 1.16 0 1 0 2.32 0a1.16 1.16 0 1 0 -2.32 0M201.2 260.3a1.12 1.12 0 1 0 2.24 0a1.12 1.12 0 1 0 -2.24 0M324.0 237.9a1.12 1.12 0 1 0 2.23 0a1.12 1.12 0 1 0 -2.23 0M291.0 294.3a1.09 1.09 0 1 0 2.19 0a1.09 1.09 0 1 0 -2.19 0M280.3 265.9a1.04 1.04 0 1 0 2.09 0a1.04 1.04 0 1 0 -2.09 0M300.9 239.7a1.22 1.22 0 1 0 2.44 0a1.22 1.22 0 1 0 -2.44 0M227.4 272.9a1.24 1.24 0 1 0 2.48 0a1.24 1.24 0 1 0 -2.48 0M280.9 239.0a0.91 0.91 0 1 0 1.83 0a0.91 0.91 0 1 0 -1.83 0M185.9 286.1a1.01 1.01 0 1 0 2.03 0a1.01 1.01 0 1 0 -2.03 0M210.2 285.7a1.01 1.01 0 1 0 2.03 0a1.01 1.01 0 1 0 -2.03 0M253.8 262.7a0.98 0.98 0 1 0 1.96 0a0.98 0.98 0 1 0 -1.96 0M187.0 199.1a1.07 1.07 0 1 0 2.15 0a1.07 1.07 0 1 0 -2.15 0M185.6 239.6a1.13 1.13 0 1 0 2.26 0a1.13 1.13 0 1 0 -2.26 0M310.7 264.7a1.10 1.10 0 1 0 2.20 0a1.10 1.10 0 1 0 -2.20 0M231.5 231.8a1.17 1.17 0 1 0 2.35 0a1.17 1.17 0 1 0 -2.35 0M289.3 246.0a1.00 1.00 0 1 0 2.00 0a1.00 1.00 0 1 0 -2.00 0M237.4 234.8a1.03 1.03 0 1 0 2.06 0a1.03 1.03 0 1 0 -2.06 0M262.1 265.8a1.12 1.12 0 1 0 2.24 0a1.12 1.12 0 1 0 -2.24 0M218.7 288.9a1.11 1.11 0 1 0 2.21 0a1.11 1.11 0 1 0 -2.21 0M184.5 278.6a1.16 1.16 0 1 0 2.32 0a1.16 1.16 0 1 0 -2.32 0M212.8 271.4a1.22 1.22 0 1 0 2.45 0a1.22 1.22 0 1 0 -2.45 0M185.1 275.0a1.22 1.22 0 1 0 2.44 0a1.22 1.22 0 1 0 -2.44 0M184.4 204.9a1.17 1.17 0 1 0 2.35 0a1.17 1.17 0 1 0 -2.35 0M223.9 262.4a0.91 0.91 0 1 0 1.82 0a0.91 0.91 0 1 0 -1.82 0M228.4 257.4a1.07 1.07 0 1 0 2.13 0a1.07 1.07 0 1 0 -2.13 0M209.6 282.7a1.21 1.21 0 1 0 2.42 0a1.21 1.21 0 1 0 -2.42 0M193.4 211.7a1.07 1.07 0 1 0 2.14 0a1.07 1.07 0 1 0 -2.14 0M286.3 227.3a1.22 1.22 0 1 0 2.44 0a1.22 1.22 0 1 0 -2.44 0M214.5 240.8a0.94 0.94 0 1 0 1.89 0a0.94 0.94 0 1 0 -1.89 0M317.8 288.3a1.14 1.14 0 1 0 2.29 0a1.14 1.14 0 1 0 -2.29 0M206.5 220.4a1.12 1.12 0 1 0 2.23 0a1.12 1.12 0 1 0 -2.23 0M277.6 287.5a0.95 0.95 0 1 0 1.91 0a0.95 0.95 0 1 0 -1.91 0M231.0 225.2a1.03 1.03 0 1 0 2.06 0a1.03 1.03 0 1 0 -2.06 0M272.8 233.7a1.23 1.23 0 1 0 2.47 0a1.23 1.23 0 1 0 -2.47 0M229.0 277.9a1.16 1.16 0 1 0 2.33 0a1.16 1.16 0 1 0 -2.33 0M288.1 288.7a1.16 1.16 0 1 0 2.33 0a1.16 1.16 0 1 0 -2.33 0M255.6 240.8a1.03 1.03 0 1 0 2.05 0a1.03 1.03 0 1 0 -2.05 0M193.4 263.3a1.24 1.24 0 1 0 2.47 0a1.24 1.24 0 1 0 -2.47 0M313.8 233.8a1.20 1.20 0 1 0 2.39 0a1.20 1.20 0 1 0 -2.39 0M296.2 269.0a1.22 1.22 0 1 0 2.45 0a1.22 1.22 0 1 0 -2.45 0M267.0 279.8a0.98 0.98 0 1 0 1.96 0a0.98 0.98 0 1 0 -1.96 0M310.8 267.8a0.97 0.97 0 1 0 1.95 0a0.97 0.97 0 1 0 -1.95 0M304.5 231.9a1.22 1.22 0 1 0 2.45 0a1.22 1.22 0 1 0 -2.45 0M317.9 252.7a0.94 0.94 0 1 0 1.88 0a0.94 0.94 0 1 0 -1.88 0M283.2 236.6a1.05 1.05 0 1 0 2.09 0a1.05 1.05 0 1 0 -2.09 0M275.7 262.2a1.15 1.15 0 1 0 2.29 0a1.15 1.15 0 1 0 -2.29 0M304.9 273.5a0.96 0.96 0 1 0 1.92 0a0.96 0.96 0 1 0 -1.92 0M281.6 203.6a1.23 1.23 0 1 0 2.46 0a1.23 1.23 0 1 0 -2.46 0M218.7 244.9a1.04 1.04 0 1 0 2.08 0a1.04 1.04 0 1 0 -2.08 0M191.4 207.3a0.91 0.91 0 1 0 1.81 0a0.91 0.91 0 1 0 -1.81 0M322.8 296.4a1.19 1.19 0 1 0 2.38 0a1.19 1.19 0 1 0 -2.38 0M327.6 265.4a1.17 1.17 0 1 0 2.33 0a1.17 1.17 0 1 0 -2.33 0M245.2 270.2a1.19 1.19 0 1 0 2.38 0a1.19 1.19 0 1 0 -2.38 0M212.0 288.3a1.19 1.19 0 1 0 2.37 0a1.19 1.19 0 1 0 -2.37 0M223.2 224.5a0.99 0.99 0 1 0 1.98 0a0.99 0.99 0 1 0 -1.98 0M321.0 229.2a1.10 1.10 0 1 0 2.19 0a1.10 1.10 0 1 0 -2.19 0M295.1 302.1a0.96 0.96 0 1 0 1.92 0a0.96 0.96 0 1 0 -1.92 0M298.5 245.5a1.05 1.05 0 1 0 2.10 0a1.05 1.05 0 1 0 -2.10 0M194.6 196.6a1.22 1.22 0 1 0 2.45 0a1.22 1.22 0 1 0 -2.45 0M288.8 292.1a1.20 1.20 0 1 0 2.39 0a1.20 1.20 0 1 0 -2.39 0M276.7 212.8a0.98 0.98 0 1 0 1.95 0a0.98 0.98 0 1 0 -1.95 0M216.5 218.6a0.94 0.94 0 1 0 1.89 0a0.94 0.94 0 1 0 -1.89 0M257.7 292.1a0.96 0.96 0 1 0 1.91 0a0.96 0.96 0 1 0 -1.91 0M204.7 251.4a1.16 1.16 0 1 0 2.32 0a1.16 1.16 0 1 0 -2.32 0M263.1 228.4a1.25 1.25 0 1 0 2.50 0a1.25 1.25 0 1 0 -2.50 0M313.7 296.7a1.10 1.10 0 1 0 2.20 0a1.10 1.10 0 1 0 -2.20 0M313.7 255.3a1.11 1.11 0 1 0 2.22 0a1.11 1.11 0 1 0 -2.22 0M212.5 230.7a1.00 1.00 0 1 0 2.00 0a1.00 1.00 0 1 0 -2.00 0M191.0 232.0a1.06 1.06 0 1 0 2.11 0a1.06 1.06 0 1 0 -2.11 0M324.9 243.8a1.14 1.14 0 1 0 2.27 0a1.14 1.14 0 1 0 -2.27 0M288.2 197.0a1.13 1.13 0 1 0 2.26 0a1.13 1.13 0 1 0 -2.26 0M282.7 210.3a1.14 1.14 0 1 0 2.29 0a1.14 1.14 0 1 0 -2.29 0M325.0 278.1a0.92 0.92 0 1 0 1.84 0a0.92 0.92 0 1 0 -1.84 0M324.2 258.5a0.91 0.91 0 1 0 1.81 0a0.91 0.91 0 1 0 -1.81 0M278.5 277.6a1.07 1.07 0 1 0 2.13 0a1.07 1.07 0 1 0 -2.13 0M283.6 231.4a1.19 1.19 0 1 0 2.39 0a1.19 1.19 0 1 0 -2.39 0M288.3 287.2a1.17 1.17 0 1 0 2.34 0a1.17 1.17 0 1 0 -2.34 0M206.8 227.7a0.94 0.94 0 1 0 1.88 0a0.94 0.94 0 1 0 -1.88 0M318.7 292.8a0.94 0.94 0 1 0 1.87 0a0.94 0.94 0 1 0 -1.87 0M276.1 216.0a0.90 0.90 0 1 0 1.81 0a0.90 0.90 0 1 0 -1.81 0M199.2 259.0a0.92 0.92 0 1 0 1.83 0a0.92 0.92 0 1 0 -1.83 0M268.6 265.4a1.00 1.00 0 1 0 2.00 0a1.00 1.00 0 1 0 -2.00 0M213.9 210.0a1.18 1.18 0 1 0 2.35 0a1.18 1.18 0 1 0 -2.35 0M236.4 270.5a0.97 0.97 0 1 0 1.95 0a0.97 0.97 0 1 0 -1.95 0M196.5 284.2a1.10 1.10 0 1 0 2.20 0a1.10 1.10 0 1 0 -2.20 0M262.6 297.9a1.01 1.01 0 1 0 2.02 0a1.01 1.01 0 1 0 -2.02 0M325.2 303.2a1.08 1.08 0 1 0 2.15 0a1.08 1.08 0 1 0 -2.15 0M235.5 299.8a1.12 1.12 0 1 0 2.24 0a1.12 1.12 0 1 0 -2.24 0M312.3 283.5a1.23 1.23 0 1 0 2.47 0a1.23 1.23 0 1 0 -2.47 0M218.1 263.2a0.95 0.95 0 1 0 1.89 0a0.95 0.95 0 1 0 -1.89 0M205.0 199.0a1.03 1.03 0 1 0 2.06 0a1.03 1.03 0 1 0 -2.06 0M278.6 242.5a0.97 0.97 0 1 0 1.94 0a0.97 0.97 0 1 0 -1.94 0M247.5 222.5a0.99 0.99 0 1 0 1.98 0a0.99 0.99 0 1 0 -1.98 0M289.9 285.2a0.90 0.90 0 1 0 1.81 0a0.90 0.90 0 1 0 -1.81 0M298.2 296.9a1.17 1.17 0 1 0 2.33 0a1.17 1.17 0 1 0 -2.33 0M189.1 207.9a0.94 0.94 0 1 0 1.88 0a0.94 0.94 0 1 0 -1.88 0M245.7 251.3a0.91 0.91 0 1 0 1.82 0a0.91 0.91 0 1 0 -1.82 0M209.1 294.0a1.22 1.22 0 1 0 2.44 0a1.22 1.22 0 1 0 -2.44 0M313.9 225.9a1.22 1.22 0 1 0 2.44 0a1.22 1.22 0 1 0 -2.44 0M295.8 282.8a1.17 1.17 0 1 0 2.34 0a1.17 1.17 0 1 0 -2.34 0M272.0 214.8a1.24 1.24 0 1 0 2.48 0a1.24 1.24 0 1 0 -2.48 0M199.2 266.2a1.24 1.24 0 1 0 2.49 0a1.24 1.24 0 1 0 -2.49 0M313.2 196.1a1.21 1.21 0 1 0 2.43 0a1.21 1.21 0 1 0 -2.43 0M232.1 203.6a1.21 1.21 0 1 0 2.43 0a1.21 1.21 0 1 0 -2.43 0M208.6 216.7a1.05 1.05 0 1 0 2.10 0a1.05 1.05 0 1 0 -2.10 0M327.7 225.3a1.12 1.12 0 1 0 2.24 0a1.12 1.12 0 1 0 -2.24 0M216.1 303.1a0.97 0.97 0 1 0 1.94 0a0.97 0.97 0 1 0 -1.94 0M254.6 266.6a1.01 1.01 0 1 0 2.02 0a1.01 1.01 0 1 0 -2.02 0M190.2 245.3a1.23 1.23 0 1 0 2.47 0a1.23 1.23 0 1 0 -2.47 0M310.7 283.1a1.04 1.04 0 1 0 2.09 0a1.04 1.04 0 1 0 -2.09 0M297.0 283.3a1.24 1.24 0 1 0 2.48 0a1.24 1.24 0 1 0 -2.48 0M225.8 276.7a1.21 1.21 0 1 0 2.42 0a1.21 1.21 0 1 0 -2.42 0M311.5 284.9a0.96 0.96 0 1 0 1.92 0a0.96 0.96 0 1 0 -1.92 0M292.8 225.6a1.15 1.15 0 1 0 2.29 0a1.15 1.15 0 1 0 -2.29 0M268.3 199.2a1.14 1.14 0 1 0 2.28 0a1.14 1.14 0 1 0 -2.28 0M192.8 218.1a1.19 1.19 0 1 0 2.38 0a1.19 1.19 0 1 0 -2.38 0M262.2 286.0a0.95 0.95 0 1 0 1.91 0a0.95 0.95 0 1 0 -1.91 0M196.4 242.5a1.09 1.09 0 1 0 2.19 0a1.09 1.09 0 1 0 -2.19 0M244.6 222.2a1.12 1.12 0 1 0 2.24 0a1.12 1.12 0 1 0 -2.24 0M302.8 297.1a0.98 0.98 0 1 0 1.95 0a0.98 0.98 0 1 0 -1.95 0M243.2 252.8a1.13 1.13 0 1 0 2.25 0a1.13 1.13 0 1 0 -2.25 0M198.4 245.6a1.19 1.19 0 1 0 2.38 0a1.19 1.19 0 1 0 -2.38 0M227.5 297.6a1.15 1.15 0 1 0 2.30 0a1.15 1.15 0 1 0 -2.30 0M211.2 231.9a1.17 1.17 0 1 0 2.35 0a1.17 1.17 0 1 0 -2.35 0M223.9 282.9a1.01 1.01 0 1 0 2.03 0a1.01 1.01 0 1 0 -2.03 0M275.2 203.1a0.99 0.99 0 1 0 1.97 0a0.99 0.99 0 1 0 -1.97 0M285.8 201.7a1.18 1.18 0 1 0 2.37 0a1.18 1.18 0 1 0 -2.37 0M191.6 234.8a0.90 0.90 0 1 0 1.81 0a0.90 0.90 0 1 0 -1.81 0M271.6 271.8a1.11 1.11 0 1 0 2.22 0a1.11 1.11 0 1 0 -2.22 0M208.1 251.4a0.94 0.94 0 1 0 1.87 0a0.94 0.94 0 1 0 -1.87 0M233.7 273.6a1.14 1.14 0 1 0 2.28 0a1.14 1.14 0 1 0 -2.28 0M231.9 196.2a1.20 1.20 0 1 0 2.39 0a1.20 1.20 0 1 0 -2.39 0M269.2 206.7a1.23 1.23 0 1 0 2.46 0a1.23 1.23 0 1 0 -2.46 0M310.2 226.1a1.17 1.17 0 1 0 2.33 0a1.17 1.17 0 1 0 -2.33 0M188.3 302.9a1.11 1.11 0 1 0 2.23 0a1.11 1.11 0 1 0 -2.23 0M321.1 205.7a1.21 1.21 0 1 0 2.43 0a1.21 1.21 0 1 0 -2.43 0M191.4 232.8a1.15 1.15 0 1 0 2.31 0a1.15 1.15 0 1 0 -2.31 0M303.1 223.5a1.07 1.07 0 1 0 2.14 0a1.07 1.07 0 1 0 -2.14 0M222.4 256.9a1.08 1.08 0 1 0 2.16 0a1.08 1.08 0 1 0 -2.16 0M251.7 283.4a0.93 0.93 0 1 0 1.86 0a0.93 0.93 0 1 0 -1.86 0M206.0 230.4a1.07 1.07 0 1 0 2.14 0a1.07 1.07 0 1 0 -2.14 0M196.0 240.4a1.06 1.06 0 1 0 2.12 0a1.06 1.06 0 1 0 -2.12 0M317.0 302.5a1.07 1.07 0 1 0 2.14 0a1.07 1.07 0 1 0 -2.14 0M236.2 241.2a1.16 1.16 0 1 0 2.32 0a1.16 1.16 0 1 0 -2.32 0M279.3 279.8a1.04 1.04 0 1 0 2.08 0a1.04 1.04 0 1 0 -2.08 0M246.5 250.4a1.11 1.11 0 1 0 2.22 0a1.11 1.11 0 1 0 -2.22 0M231.5 225.8a0.97 0.97 0 1 0 1.93 0a0.97 0.97 0 1 0 -1.93 0M312.7 259.1a0.91 0.91 0 1 0 1.82 0a0.91 0.91 0 1 0 -1.82 0M279.5 236.8a0.95 0.95 0 1 0 1.90 0a0.95 0.95 0 1 0 -1.90 0M323.6 268.4a1.05 1.05 0 1 0 2.09 0a1.05 1.05 0 1 0 -2.09 0M214.6 298.0a1.14 1.14 0 1 0 2.28 0a1.14 1.14 0 1 0 -2.28 0M242.1 272.0a1.19 1.19 0 1 0 2.37 0a1.19 1.19 0 1 0 -2.37 0M250.7 263.8a1.19 1.19 0 1 0 2.38 0a1.19 1.19 0 1 0 -2.38 0M282.8 289.0a1.24 1.24 0 1 0 2.49 0a1.24 1.24 0 1 0 -2.49 0M260.9 294.0a1.01 1.01 0 1 0 2.02 0a1.01 1.01 0 1 0 -2.02 0M244.5 204.8a1.19 1.19 0 1 0 2.39 0a1.19 1.19 0 1 0 -2.39 0M233.8 282.8a0.98 0.98 0 1 0 1.96 0a0.98 0.98 0 1 0 -1.96 0M195.2 249.8a1.09 1.09 0 1 0 2.17 0a1.09 1.09 0 1 0 -2.17 0M307.7 220.5a1.01 1.01 0 1 0 2.01 0a1.01 1.01 0 1 0 -2.01 0M249.8 270.7a1.08 1.08 0 1 0 2.16 0a1.08 1.08 0 1 0 -2.16 0M250.2 198.9a1.05 1.05 0 1 0 2.10 0a1.05 1.05 0 1 0 -2.10 0M317.1 220.8a1.01 1.01 0 1 0 2.03 0a1.01 1.01 0 1 0 -2.03 0M203.5 225.6a1.12 1.12 0 1 0 2.25 0a1.12 1.12 0 1 0 -2.25 0M280.5 213.1a1.03 1.03 0 1 0 2.06 0a1.03 1.03 0 1 0 -2.06 0M314.5 256.5a0.98 0.98 0 1 0 1.95 0a0.98 0.98 0 1 0 -1.95 0M262.4 282.2a1.14 1.14 0 1 0 2.27 0a1.14 1.14 0 1 0 -2.27 0M268.0 301.2a1.12 1.12 0 1 0 2.25 0a1.12 1.12 0 1 0 -2.25 0M261.3 274.3a1.22 1.22 0 1 0 2.44 0a1.22 1.22 0 1 0 -2.44 0M213.2 197.1a1.09 1.09 0 1 0 2.19 0a1.09 1.09 0 1 0 -2.19 0M210.4 259.7a1.01 1.01 0 1 0 2.01 0a1.01 1.01 0 1 0 -2.01 0M268.4 263.8a1.14 1.14 0 1 0 2.28 0a1.14 1.14 0 1 0 -2.28 0M316.9 293.5a1.03 1.03 0 1 0 2.07 0a1.03 1.03 0 1 0 -2.07 0M220.0 208.6a0.97 0.97 0 1 0 1.95 0a0.97 0.97 0 1 0 -1.95 0M191.9 224.7a0.93 0.93 0 1 0 1.87 0a0.93 0.93 0 1 0 -1.87 0M286.2 216.9a1.10 1.10 0 1 0 2.20 0a1.10 1.10 0 1 0 -2.20 0M275.7 219.2a0.95 0.95 0 1 0 1.90 0a0.95 0.95 0 1 0 -1.90 0M312.9 216.7a1.02 1.02 0 1 0 2.05 0a1.02 1.02 0 1 0 -2.05 0M316.1 244.0a1.12 1.12 0 1 0 2.25 0a1.12 1.12 0 1 0 -2.25 0M304.5 198.7a1.09 1.09 0 1 0 2.18 0a1.09 1.09 0 1 0 -2.18 0M218.2 219.7a1.17 1.17 0 1 0 2.34 0a1.17 1.17 0 1 0 -2.34 0M204.4 229.2a0.90 0.90 0 1 0 1.80 0a0.90 0.90 0 1 0 -1.80 0M250.7 211.0a1.01 1.01 0 1 0 2.02 0a1.01 1.01 0 1 0 -2.02 0M199.4 211.8a1.09 1.09 0 1 0 2.17 0a1.09 1.09 0 1 0 -2.17 0M238.0 271.6a1.24 1.24 0 1 0 2.48 0a1.24 1.24 0 1 0 -2.48 0M325.5 275.6a1.04 1.04 0 1 0 2.08 0a1.04 1.04 0 1 0 -2.08 0M230.6 222.9a1.13 1.13 0 1 0 2.26 0a1.13 1.13 0 1 0 -2.26 0M250.5 280.8a1.05 1.05 0 1 0 2.09 0a1.05 1.05 0 1 0 -2.09 0M273.6 216.4a1.16 1.16 0 1 0 2.32 0a1.16 1.16 0 1 0 -2.32 0M190.9 241.1a1.04 1.04 0 1 0 2.08 0a1.04 1.04 0 1 0 -2.08 0M229.8 209.8a0.90 0.90 0 1 0 1.80 0a0.90 0.90 0 1 0 -1.80 0M205.9 278.9a1.00 1.00 0 1 0 2.01 0a1.00 1.00 0 1 0 -2.01 0M211.5 218.9a0.97 0.97 0 1 0 1.94 0a0.97 0.97 0 1 0 -1.94 0M232.7 250.2a1.22 1.22 0 1 0 2.43 0a1.22 1.22 0 1 0 -2.43 0M232.5 200.0a1.15 1.15 0 1 0 2.30 0a1.15 1.15 0 1 0 -2.30 0M218.5 275.4a1.20 1.20 0 1 0 2.40 0a1.20 1.20 0 1 0 -2.40 0M261.3 239.5a1.15 1.15 0 1 0 2.29 0a1.15 1.15 0 1 0 -2.29 0M187.2 242.5a0.98 0.98 0 1 0 1.96 0a0.98 0.98 0 1 0 -1.96 0M252.2 222.0a1.18 1.18 0 1 0 2.36 0a1.18 1.18 0 1 0 -2.36 0M258.7 220.2a0.91 0.91 0 1 0 1.82 0a0.91 0.91 0 1 0 -1.82 0M273.0 247.3a1.17 1.17 0 1 0 2.34 0a1.17 1.17 0 1 0 -2.34 0M227.0 295.2a1.19 1.19 0 1 0 2.39 0a1.19 1.19 0 1 0 -2.39 0M197.8 287.5a1.21 1.21 0 1 0 2.41 0a1.21 1.21 0 1 0 -2.41 0M191.3 280.0a0.97 0.97 0 1 0 1.94 0a0.97 0.97 0 1 0 -1.94 0M277.0 286.8a1.24 1.24 0 1 0 2.48 0a1.24 1.24 0 1 0 -2.48 0M223.1 209.0a0.92 0.92 0 1 0 1.84 0a0.92 0.92 0 1 0 -1.84 0M185.4 290.6a1.00 1.00 0 1 0 2.00 0a1.00 1.00 0 1 0 -2.00 0M239.8 283.6a1.01 1.01 0 1 0 2.02 0a1.01 1.01 0 1 0 -2.02 0M294.1 296.9a0.92 0.92 0 1 0 1.84 0a0.92 0.92 0 1 0 -1.84 0M288.4 270.8a1.17 1.17 0 1 0 2.34 0a1.17 1.17 0 1 0 -2.34 0M250.1 204.5a1.22 1.22 0 1 0 2.45 0a1.22 1.22 0 1 0 -2.45 0M276.8 234.8a1.17 1.17 0 1 0 2.33 0a1.17 1.17 0 1 0 -2.33 0M281.2 301.9a1.15 1.15 0 1 0 2.29 0a1.15 1.15 0 1 0 -2.29 0M202.5 237.4a1.16 1.16 0 1 0 2.32 0a1.16 1.16 0 1 0 -2.32 0M301.2 239.8a1.23 1.23 0 1 0 2.47 0a1.23 1.23 0 1 0 -2.47 0M189.7 238.4a0.92 0.92 0 1 0 1.85 0a0.92 0.92 0 1 0 -1.85 0M302.8 274.2a0.95 0.95 0 1 0 1.90 0a0.95 0.95 0 1 0 -1.90 0M319.3 255.9a0.99 0.99 0 1 0 1.98 0a0.99 0.99 0 1 0 -1.98 0M213.1 209.5a1.15 1.15 0 1 0 2.30 0a1.15 1.15 0 1 0 -2.30 0M302.6 254.8a1.16 1.16 0 1 0 2.31 0a1.16 1.16 0 1 0 -2.31 0M292.2 264.7a1.08 1.08 0 1 0 2.17 0a1.08 1.08 0 1 0 -2.17 0M227.6 282.6a0.95 0.95 0 1 0 1.90 0a0.95 0.95 0 1 0 -1.90 0M215.9 291.9a1.07 1.07 0 1 0 2.14 0a1.07 1.07 0 1 0 -2.14 0M265.9 252.1a1.03 1.03 0 1 0 2.07 0a1.03 1.03 0 1 0 -2.07 0M275.4 197.3a1.12 1.12 0 1 0 2.23 0a1.12 1.12 0 1 0 -2.23 0M220.9 201.7a1.04 1.04 0 1 0 2.08 0a1.04 1.04 0 1 0 -2.08 0M302.5 244.6a0.96 0.96 0 1 0 1.91 0a0.96 0.96 0 1 0 -1.91 0M227.1 281.5a1.01 1.01 0 1 0 2.03 0a1.01 1.01 0 1 0 -2.03 0M305.8 239.3a0.92 0.92 0 1 0 1.84 0a0.92 0.92 0 1 0 -1.84 0M257.1 272.4a1.05 1.05 0 1 0 2.09 0a1.05 1.05 0 1 0 -2.09 0M279.3 204.3a1.22 1.22 0 1 0 2.44 0a1.22 1.22 0 1 0 -2.44 0M243.1 256.2a0.92 0.92 0 1 0 1.85 0a0.92 0.92 0 1 0 -1.85 0M283.4 246.1a0.94 0.94 0 1 0 1.88 0a0.94 0.94 0 1 0 -1.88 0M296.3 300.1a1.19 1.19 0 1 0 2.39 0a1.19 1.19 0 1 0 -2.39 0M261.4 291.6a1.11 1.11 0 1 0 2.22 0a1.11 1.11 0 1 0 -2.22 0M325.1 240.7a0.97 0.97 0 1 0 1.94 0a0.97 0.97 0 1 0 -1.94 0M304.7 226.6a1.20 1.20 0 1 0 2.40 0a1.20 1.20 0 1 0 -2.40 0M242.8 196.7a1.08 1.08 0 1 0 2.17 0a1.08 1.08 0 1 0 -2.17 0M253.7 283.7a1.13 1.13 0 1 0 2.26 0a1.13 1.13 0 1 0 -2.26 0M321.8 262.0a1.15 1.15 0 1 0 2.31 0a1.15 1.15 0 1 0 -2.31 0M327.3 212.0a1.10 1.10 0 1 0 2.21 0a1.10 1.10 0 1 0 -2.21 0M309.1 294.2a1.17 1.17 0 1 0 2.34 0a1.17 1.17 0 1 0 -2.34 0M228.7 228.3a0.99 0.99 0 1 0 1.97 0a0.99 0.99 0 1 0 -1.97 0M226.9 197.2a0.92 0.92 0 1 0 1.83 0a0.92 0.92 0 1 0 -1.83 0M305.1 227.6a1.15 1.15 0 1 0 2.30 0a1.15 1.15 0 1 0 -2.30 0M285.6 278.2a0.98 0.98 0 1 0 1.96 0a0.98 0.98 0 1 0 -1.96 0M189.6 252.8a1.10 1.10 0 1 0 2.19 0a1.10 1.10 0 1 0 -2.19 0M212.2 288.5a1.09 1.09 0 1 0 2.18 0a1.09 1.09 0 1 0 -2.18 0M311.4 242.6a1.05 1.05 0 1 0 2.10 0a1.05 1.05 0 1 0 -2.10 0M274.8 275.1a0.93 0.93 0 1 0 1.86 0a0.93 0.93 0 1 0 -1.86 0M186.5 270.8a0.93 0.93 0 1 0 1.86 0a0.93 0.93 0 1 0 -1.86 0M272.4 269.1a1.17 1.17 0 1 0 2.35 0a1.17 1.17 0 1 0 -2.35 0M244.3 247.3a1.10 1.10 0 1 0 2.19 0a1.10 1.10 0 1 0 -2.19 0M213.4 197.3a1.21 1.21 0 1 0 2.42 0a1.21 1.21 0 1 0 -2.42 0M268.6 238.6a1.12 1.12 0 1 0 2.25 0a1.12 1.12 0 1 0 -2.25 0M310.0 282.1a1.04 1.04 0 1 0 2.07 0a1.04 1.04 0 1 0 -2.07 0M212.8 238.4a1.03 1.03 0 1 0 2.05 0a1.03 1.03 0 1 0 -2.05 0M261.0 277.9a1.15 1.15 0 1 0 2.29 0a1.15 1.15 0 1 0 -2.29 0M196.3 259.3a0.92 0.92 0 1 0 1.83 0a0.92 0.92 0 1 0 -1.83 0M202.9 258.7a1.06 1.06 0 1 0 2.12 0a1.06 1.06 0 1 0 -2.12 0M310.5 259.7a1.01 1.01 0 1 0 2.02 0a1.01 1.01 0 1 0 -2.02 0M290.7 252.4a0.97 0.97 0 1 0 1.94 0a0.97 0.97 0 1 0 -1.94 0M211.0 287.2a1.16 1.16 0 1 0 2.32 0a1.16 1.16 0 1 0 -2.32 0M298.4 272.3a1.10 1.10 0 1 0 2.21 0a1.10 1.10 0 1 0 -2.21 0M192.4 231.5a1.03 1.03 0 1 0 2.06 0a1.03 1.03 0 1 0 -2.06 0M324.1 285.6a1.13 1.13 0 1 0 2.26 0a1.13 1.13 0 1 0 -2.26 0M215.1 263.4a1.24 1.24 0 1 0 2.49 0a1.24 1.24 0 1 0 -2.49 0M274.6 208.6a1.22 1.22 0 1 0 2.44 0a1.22 1.22 0 1 0 -2.44 0M265.9 292.6a0.90 0.90 0 1 0 1.80 0a0.90 0.90 0 1 0 -1.80 0M197.5 198.0a1.15 1.15 0 1 0 2.31 0a1.15 1.15 0 1 0 -2.31 0M235.3 234.3a0.93 0.93 0 1 0 1.86 0a0.93 0.93 0 1 0 -1.86 0M216.8 239.6a1.15 1.15 0 1 0 2.30 0a1.15 1.15 0 1 0 -2.30 0M243.9 213.2a1.02 1.02 0 1 0 2.04 0a1.02 1.02 0 1 0 -2.04 0M328.0 279.7a0.96 0.96 0 1 0 1.93 0a0.96 0.96 0 1 0 -1.93 0M292.9 300.6a1.18 1.18 0 1 0 2.36 0a1.18 1.18 0 1 0 -2.36 0M240.5 218.1a1.18 1.18 0 1 0 2.36 0a1.18 1.18 0 1 0 -2.36 0M254.6 295.5a0.93 0.93 0 1 0 1.87 0a0.93 0.93 0 1 0 -1.87 0M262.3 227.2a0.99 0.99 0 1 0 1.97 0a0.99 0.99 0 1 0 -1.97 0M313.5 223.0a1.11 1.11 0 1 0 2.22 0a1.11 1.11 0 1 0 -2.22 0M254.0 214.6a1.05 1.05 0 1 0 2.10 0a1.05 1.05 0 1 0 -2.10 0M215.8 243.4a1.18 1.18 0 1 0 2.35 0a1.18 1.18 0 1 0 -2.35 0M305.7 303.1a1.11 1.11 0 1 0 2.22 0a1.11 1.11 0 1 0 -2.22 0M205.7 252.2a1.19 1.19 0 1 0 2.38 0a1.19 1.19 0 1 0 -2.38 0M320.2 233.8a1.08 1.08 0 1 0 2.17 0a1.08 1.08 0 1 0 -2.17 0M316.9 208.7a1.00 1.00 0 1 0 2.00 0a1.00 1.00 0 1 0 -2.00 0M218.3 225.3a0.97 0.97 0 1 0 1.94 0a0.97 0.97 0 1 0 -1.94 0M278.0 251.6a1.13 1.13 0 1 0 2.26 0a1.13 1.13 0 1 0 -2.26 0M225.2 225.2a0.91 0.91 0 1 0 1.82 0a0.91 0.91 0 1 0 -1.82 0M223.3 290.7a1.07 1.07 0 1 0 2.13 0a1.07 1.07 0 1 0 -2.13 0M280.5 302.9a1.04 1.04 0 1 0 2.08 0a1.04 1.04 0 1 0 -2.08 0M320.7 240.3a1.01 1.01 0 1 0 2.02 0a1.01 1.01 0 1 0 -2.02 0M259.3 208.9a1.00 1.00 0 1 0 2.01 0a1.00 1.00 0 1 0 -2.01 0M288.3 296.4a1.05 1.05 0 1 0 2.10 0a1.05 1.05 0 1 0 -2.10 0M243.1 246.9a1.03 1.03 0 1 0 2.06 0a1.03 1.03 0 1 0 -2.06 0M297.7 242.2a1.22 1.22 0 1 0 2.45 0a1.22 1.22 0 1 0 -2.45 0M250.6 286.8a0.98 0.98 0 1 0 1.97 0a0.98 0.98 0 1 0 -1.97 0M304.8 288.7a1.09 1.09 0 1 0 2.17 0a1.09 1.09 0 1 0 -2.17 0M219.7 299.9a1.18 1.18 0 1 0 2.36 0a1.18 1.18 0 1 0 -2.36 0M326.8 298.4a1.19 1.19 0 1 0 2.38 0a1.19 1.19 0 1 0 -2.38 0M191.2 271.1a1.00 1.00 0 1 0 2.01 0a1.00 1.00 0 1 0 -2.01 0M247.6 204.6a1.05 1.05 0 1 0 2.10 0a1.05 1.05 0 1 0 -2.10 0M270.8 212.3a1.08 1.08 0 1 0 2.17 0a1.08 1.08 0 1 0 -2.17 0M257.8 259.6a1.06 1.06 0 1 0 2.11 0a1.06 1.06 0 1 0 -2.11 0M304.7 253.9a0.97 0.97 0 1 0 1.93 0a0.97 0.97 0 1 0 -1.93 0M209.6 231.2a1.03 1.03 0 1 0 2.06 0a1.03 1.03 0 1 0 -2.06 0M235.8 248.9a1.11 1.11 0 1 0 2.21 0a1.11 1.11 0 1 0 -2.21 0M228.2 242.0a1.02 1.02 0 1 0 2.04 0a1.02 1.02 0 1 0 -2.04 0M223.1 287.1a0.97 0.97 0 1 0 1.95 0a0.97 0.97 0 1 0 -1.95 0M265.0 269.1a1.16 1.16 0 1 0 2.33 0a1.16 1.16 0 1 0 -2.33 0M271.4 226.8a1.02 1.02 0 1 0 2.04 0a1.02 1.02 0 1 0 -2.04 0M184.8 281.0a1.05 1.05 0 1 0 2.10 0a1.05 1.05 0 1 0 -2.10 0M299.3 218.0a1.04 1.04 0 1 0 2.08 0a1.04 1.04 0 1 0 -2.08 0M215.7 249.1a1.15 1.15 0 1 0 2.29 0a1.15 1.15 0 1 0 -2.29 0M232.5 290.3a1.21 1.21 0 1 0 2.43 0a1.21 1.21 0 1 0 -2.43 0M287.2 280.1a1.15 1.15 0 1 0 2.30 0a1.15 1.15 0 1 0 -2.30 0M273.3 212.5a1.17 1.17 0 1 0 2.34 0a1.17 1.17 0 1 0 -2.34 0M268.2 263.5a0.98 0.98 0 1 0 1.97 0a0.98 0.98 0 1 0 -1.97 0M273.1 291.0a1.23 1.23 0 1 0 2.47 0a1.23 1.23 0 1 0 -2.47 0M273.1 283.0a1.10 1.10 0 1 0 2.20 0a1.10 1.10 0 1 0 -2.20 0M210.9 238.1a1.18 1.18 0 1 0 2.36 0a1.18 1.18 0 1 0 -2.36 0M204.7 213.4a1.01 1.01 0 1 0 2.01 0a1.01 1.01 0 1 0 -2.01 0M302.5 220.8a1.03 1.03 0 1 0 2.06 0a1.03 1.03 0 1 0 -2.06 0M195.7 296.6a0.96 0.96 0 1 0 1.91 0a0.96 0.96 0 1 0 -1.91 0M243.5 213.9a0.90 0.90 0 1 0 1.80 0a0.90 0.90 0 1 0 -1.80 0M196.6 287.5a0.96 0.96 0 1 0 1.93 0a0.96 0.96 0 1 0 -1.93 0M286.4 207.5a0.93 0.93 0 1 0 1.86 0a0.93 0.93 0 1 0 -1.86 0M255.8 222.2a1.24 1.24 0 1 0 2.48 0a1.24 1.24 0 1 0 -2.48 0M237.5 240.5a0.98 0.98 0 1 0 1.95 0a0.98 0.98 0 1 0 -1.95 0M242.5 249.2a1.06 1.06 0 1 0 2.12 0a1.06 1.06 0 1 0 -2.12 0M212.2 217.5a1.01 1.01 0 1 0 2.03 0a1.01 1.01 0 1 0 -2.03 0M285.4 285.7a1.09 1.09 0 1 0 2.17 0a1.09 1.09 0 1 0 -2.17 0M253.2 272.1a1.07 1.07 0 1 0 2.15 0a1.07 1.07 0 1 0 -2.15 0M321.2 234.9a1.01 1.01 0 1 0 2.03 0a1.01 1.01 0 1 0 -2.03 0M297.8 261.1a1.14 1.14 0 1 0 2.27 0a1.14 1.14 0 1 0 -2.27 0M209.5 274.9a1.13 1.13 0 1 0 2.25 0a1.13 1.13 0 1 0 -2.25 0M215.8 296.5a1.01 1.01 0 1 0 2.01 0a1.01 1.01 0 1 0 -2.01 0M324.1 239.9a0.99 0.99 0 1 0 1.98 0a0.99 0.99 0 1 0 -1.98 0M210.3 260.1a0.99 0.99 0 1 0 1.97 0a0.99 0.99 0 1 0 -1.97 0M261.0 236.9a1.11 1.11 0 1 0 2.23 0a1.11 1.11 0 1 0 -2.23 0M274.7 252.6a1.19 1.19 0 1 0 2.39 0a1.19 1.19 0 1 0 -2.39 0M200.8 205.2a1.02 1.02 0 1 0 2.03 0a1.02 1.02 0 1 0 -2.03 0M196.0 245.1a1.00 1.00 0 1 0 2.01 0a1.00 1.00 0 1 0 -2.01 0M201.1 280.5a1.12 1.12 0 1 0 2.24 0a1.12 1.12 0 1 0 -2.24 0M220.1 275.9a1.14 1.14 0 1 0 2.27 0a1.14 1.14 0 1 0 -2.27 0M270.3 270.3a0.92 0.92 0 1 0 1.85 0a0.92 0.92 0 1 0 -1.85 0M281.0 239.9a1.20 1.20 0 1 0 2.40 0a1.20 1.20 0 1 0 -2.40 0M265.7 241.2a1.04 1.04 0 1 0 2.09 0a1.04 1.04 0 1 0 -2.09 0M310.7 226.3a0.91 0.91 0 1 0 1.82 0a0.91 0.91 0 1 0 -1.82 0M311.8 254.1a1.19 1.19 0 1 0 2.39 0a1.19 1.19 0 1 0 -2.39 0M327.2 234.1a1.25 1.25 0 1 0 2.49 0a1.25 1.25 0 1 0 -2.49 0M267.4 269.9a1.08 1.08 0 1 0 2.16 0a1.08 1.08 0 1 0 -2.16 0M241.0 300.1a1.22 1.22 0 1 0 2.43 0a1.22 1.22 0 1 0 -2.43 0M194.7 226.5a1.11 1.11 0 1 0 2.22 0a1.11 1.11 0 1 0 -2.22 0M239.3 265.7a0.94 0.94 0 1 0 1.88 0a0.94 0.94 0 1 0 -1.88 0M266.7 250.6a1.14 1.14 0 1 0 2.27 0a1.14 1.14 0 1 0 -2.27 0M196.1 226.9a1.19 1.19 0 1 0 2.37 0a1.19 1.19 0 1 0 -2.37 0M202.6 214.0a1.13 1.13 0 1 0 2.27 0a1.13 1.13 0 1 0 -2.27 0M221.0 302.5a1.02 1.02 0 1 0 2.05 0a1.02 1.02 0 1 0 -2.05 0M221.5 281.9a1.24 1.24 0 1 0 2.47 0a1.24 1.24 0 1 0 -2.47 0M297.2 287.2a0.91 0.91 0 1 0 1.83 0a0.91 0.91 0 1 0 -1.83 0M252.2 257.6a1.04 1.04 0 1 0 2.07 0a1.04 1.04 0 1 0 -2.07 0M238.4 200.1a1.15 1.15 0 1 0 2.30 0a1.15 1.15 0 1 0 -2.30 0M251.6 195.8a1.07 1.07 0 1 0 2.14 0a1.07 1.07 0 1 0 -2.14 0M255.4 283.0a1.05 1.05 0 1 0 2.10 0a1.05 1.05 0 1 0 -2.10 0M288.1 204.6a1.15 1.15 0 1 0 2.30 0a1.15 1.15 0 1 0 -2.30 0M291.3 292.4a1.12 1.12 0 1 0 2.23 0a1.12 1.12 0 1 0 -2.23 0M246.8 222.5a1.16 1.16 0 1 0 2.32 0a1.16 1.16 0 1 0 -2.32 0M271.4 280.1a0.94 0.94 0 1 0 1.88 0a0.94 0.94 0 1 0 -1.88 0M302.6 263.1a1.20 1.20 0 1 0 2.41 0a1.20 1.20 0 1 0 -2.41 0M262.3 273.6a1.11 1.11 0 1 0 2.22 0a1.11 1.11 0 1 0 -2.22 0M315.3 197.4a0.99 0.99 0 1 0 1.98 0a0.99 0.99 0 1 0 -1.98 0M278.4 266.4a0.99 0.99 0 1 0 1.98 0a0.99 0.99 0 1 0 -1.98 0M294.8 200.1a1.16 1.16 0 1 0 2.32 0a1.16 1.16 0 1 0 -2.32 0M222.7 209.1a1.25 1.25 0 1 0 2.49 0a1.25 1.25 0 1 0 -2.49 0M207.6 208.9a1.06 1.06 0 1 0 2.12 0a1.06 1.06 0 1 0 -2.12 0M268.6 273.5a0.97 0.97 0 1 0 1.93 0a0.97 0.97 0 1 0 -1.93 0M214.6 271.8a1.09 1.09 0 1 0 2.18 0a1.09 1.09 0 1 0 -2.18 0M286.8 282.7a1.00 1.00 0 1 0 2.01 0a1.00 1.00 0 1 0 -2.01 0M291.6 269.7a0.95 0.95 0 1 0 1.89 0a0.95 0.95 0 1 0 -1.89 0M241.5 249.7a1.06 1.06 0 1 0 2.11 0a1.06 1.06 0 1 0 -2.11 0M310.3 287.6a1.17 1.17 0 1 0 2.33 0a1.17 1.17 0 1 0 -2.33 0M255.6 265.8a1.04 1.04 0 1 0 2.07 0a1.04 1.04 0 1 0 -2.07 0M241.7 283.4a1.12 1.12 0 1 0 2.23 0a1.12 1.12 0 1 0 -2.23 0M281.3 293.1a0.90 0.90 0 1 0 1.81 0a0.90 0.90 0 1 0 -1.81 0M302.7 259.2a0.94 0.94 0 1 0 1.89 0a0.94 0.94 0 1 0 -1.89 0M236.4 196.6a1.02 1.02 0 1 0 2.04 0a1.02 1.02 0 1 0 -2.04 0M197.4 273.5a1.17 1.17 0 1 0 2.33 0a1.17 1.17 0 1 0 -2.33 0M302.3 240.5a1.14 1.14 0 1 0 2.29 0a1.14 1.14 0 1 0 -2.29 0M298.8 225.5a1.04 1.04 0 1 0 2.09 0a1.04 1.04 0 1 0 -2.09 0M274.3 255.6a1.01 1.01 0 1 0 2.02 0a1.01 1.01 0 1 0 -2.02 0M250.1 203.9a1.02 1.02 0 1 0 2.04 0a1.02 1.02 0 1 0 -2.04 0M263.2 199.2a1.06 1.06 0 1 0 2.11 0a1.06 1.06 0 1 0 -2.11 0M196.7 204.4a0.94 0.94 0 1 0 1.87 0a0.94 0.94 0 1 0 -1.87 0M258.6 250.9a1.18 1.18 0 1 0 2.37 0a1.18 1.18 0 1 0 -2.37 0M258.1 237.9a1.09 1.09 0 1 0 2.18 0a1.09 1.09 0 1 0 -2.18 0M281.9 249.2a1.03 1.03 0 1 0 2.05 0a1.03 1.03 0 1 0 -2.05 0M244.9 197.9a0.98 0.98 0 1 0 1.96 0a0.98 0.98 0 1 0 -1.96 0M264.4 269.0a1.16 1.16 0 1 0 2.31 0a1.16 1.16 0 1 0 -2.31 0M195.4 199.7a0.92 0.92 0 1 0 1.85 0a0.92 0.92 0 1 0 -1.85 0M199.3 208.4a1.06 1.06 0 1 0 2.12 0a1.06 1.06 0 1 0 -2.12 0M222.4 269.8a0.91 0.91 0 1 0 1.81 0a0.91 0.91 0 1 0 -1.81 0M228.9 198.5a1.07 1.07 0 1 0 2.14 0a1.07 1.07 0 1 0 -2.14 0M192.3 242.9a1.06 1.06 0 1 0 2.11 0a1.06 1.06 0 1 0 -2.11 0M225.4 253.3a1.00 1.00 0 1 0 2.00 0a1.00 1.00 0 1 0 -2.00 0M247.6 217.2a1.15 1.15 0 1 0 2.30 0a1.15 1.15 0 1 0 -2.30 0M325.3 235.3a0.90 0.90 0 1 0 1.80 0a0.90 0.90 0 1 0 -1.80 0M292.3 262.3a1.18 1.18 0 1 0 2.36 0a1.18 1.18 0 1 0 -2.36 0M195.7 270.0a1.20 1.20 0 1 0 2.40 0a1.20 1.20 0 1 0 -2.40 0M250.5 236.8a1.07 1.07 0 1 0 2.14 0a1.07 1.07 0 1 0 -2.14 0M269.4 263.8a0.96 0.96 0 1 0 1.92 0a0.96 0.96 0 1 0 -1.92 0M226.5 283.2a1.08 1.08 0 1 0 2.15 0a1.08 1.08 0 1 0 -2.15 0M297.9 228.2a1.04 1.04 0 1 0 2.08 0a1.04 1.04 0 1 0 -2.08 0M267.0 279.5a0.98 0.98 0 1 0 1.96 0a0.98 0.98 0 1 0 -1.96 0M238.9 212.0a1.09 1.09 0 1 0 2.18 0a1.09 1.09 0 1 0 -2.18 0M323.4 220.8a1.18 1.18 0 1 0 2.35 0a1.18 1.18 0 1 0 -2.35 0M318.3 246.4a1.14 1.14 0 1 0 2.28 0a1.14 1.14 0 1 0 -2.28 0M209.8 232.0a1.07 1.07 0 1 0 2.14 0a1.07 1.07 0 1 0 -2.14 0M261.4 223.4a1.12 1.12 0 1 0 2.23 0a1.12 1.12 0 1 0 -2.23 0M309.7 288.5a1.21 1.21 0 1 0 2.42 0a1.21 1.21 0 1 0 -2.42 0M239.1 276.6a1.24 1.24 0 1 0 2.48 0a1.24 1.24 0 1 0 -2.48 0M321.2 225.4a0.98 0.98 0 1 0 1.97 0a0.98 0.98 0 1 0 -1.97 0M186.0 216.1a1.00 1.00 0 1 0 1.99 0a1.00 1.00 0 1 0 -1.99 0M197.0 216.1a0.95 0.95 0 1 0 1.91 0a0.95 0.95 0 1 0 -1.91 0M229.2 195.9a1.10 1.10 0 1 0 2.21 0a1.10 1.10 0 1 0 -2.21 0M279.4 301.0a1.02 1.02 0 1 0 2.04 0a1.02 1.02 0 1 0 -2.04 0M229.1 295.2a1.03 1.03 0 1 0 2.07 0a1.03 1.03 0 1 0 -2.07 0M298.5 246.1a1.05 1.05 0 1 0 2.10 0a1.05 1.05 0 1 0 -2.10 0M265.5 202.1a1.11 1.11 0 1 0 2.21 0a1.11 1.11 0 1 0 -2.21 0M257.3 256.1a0.95 0.95 0 1 0 1.91 0a0.95 0.95 0 1 0 -1.91 0M303.6 288.3a0.92 0.92 0 1 0 1.85 0a0.92 0.92 0 1 0 -1.85 0M228.0 296.3a0.99 0.99 0 1 0 1.98 0a0.99 0.99 0 1 0 -1.98 0" fill="#d0d0d0" opacity="0.18"/>
<path d="M322.3 298.6a0.52 0.52 0 1 0 1.04 0a0.52 0.52 0 1 0 -1.04 0M315.1 242.0a0.81 0.81 0 1 0 1.62 0a0.81 0.81 0 1 0 -1.62 0M284.1 237.9a0.52 0.52 0 1 0 1.03 0a0.52 0.52 0 1 0 -1.03 0M271.8 241.6a0.51 0.51 0 1 0 1.01 0a0.51 0.51 0 1 0 -1.01 0M275.7 251.1a0.84 0.84 0 1 0 1.69 0a0.84 0.84 0 1 0 -1.69 0M201.6 205.0a0.80 0.80 0 1 0 1.60 0a0.80 0.80 0 1 0 -1.60 0M327.0 266.2a0.54 0.54 0 1 0 1.09 0a0.54 0.54 0 1 0 -1.09 0M231.6 223.1a0.68 0.68 0 1 0 1.36 0a0.68 0.68 0 1 0 -1.36 0M327.3 219.6a0.60 0.60 0 1 0 1.19 0a0.60 0.60 0 1 0 -1.19 0M251.7 277.5a0.80 0.80 0 1 0 1.59 0a0.80 0.80 0 1 0 -1.59 0M209.4 299.6a0.62 0.62 0 1 0 1.25 0a0.62 0.62 0 1 0 -1.25 0M229.4 237.2a0.84 0.84 0 1 0 1.68 0a0.84 0.84 0 1 0 -1.68 0M302.8 252.7a0.74 0.74 0 1 0 1.48 0a0.74 0.74 0 1 0 -1.48 0M207.6 207.7a0.79 0.79 0 1 0 1.57 0a0.79 0.79 0 1 0 -1.57 0M209.2 218.1a0.62 0.62 0 1 0 1.24 0a0.62 0.62 0 1 0 -1.24 0M261.8 238.6a0.68 0.68 0 1 0 1.37 0a0.68 0.68 0 1 0 -1.37 0M278.7 258.5a0.54 0.54 0 1 0 1.09 0a0.54 0.54 0 1 0 -1.09 0M277.2 249.8a0.78 0.78 0 1 0 1.56 0a0.78 0.78 0 1 0 -1.56 0M242.8 265.8a0.70 0.70 0 1 0 1.39 0a0.70 0.70 0 1 0 -1.39 0M240.7 247.5a0.63 0.63 0 1 0 1.27 0a0.63 0.63 0 1 0 -1.27 0M188.3 200.8a0.73 0.73 0 1 0 1.45 0a0.73 0.73 0 1 0 -1.45 0M290.8 294.8a0.69 0.69 0 1 0 1.39 0a0.69 0.69 0 1 0 -1.39 0M237.2 235.3a0.63 0.63 0 1 0 1.26 0a0.63 0.63 0 1 0 -1.26 0M218.5 289.4a0.71 0.71 0 1 0 1.41 0a0.71 0.71 0 1 0 -1.41 0M184.9 275.5a0.82 0.82 0 1 0 1.64 0a0.82 0.82 0 1 0 -1.64 0M184.2 205.4a0.77 0.77 0 1 0 1.55 0a0.77 0.77 0 1 0 -1.55 0M272.6 234.2a0.83 0.83 0 1 0 1.67 0a0.83 0.83 0 1 0 -1.67 0M228.8 278.4a0.76 0.76 0 1 0 1.53 0a0.76 0.76 0 1 0 -1.53 0M296.0 269.5a0.82 0.82 0 1 0 1.65 0a0.82 0.82 0 1 0 -1.65 0M317.7 253.2a0.54 0.54 0 1 0 1.08 0a0.54 0.54 0 1 0 -1.08 0M283.0 237.1a0.65 0.65 0 1 0 1.29 0a0.65 0.65 0 1 0 -1.29 0M281.4 204.1a0.83 0.83 0 1 0 1.66 0a0.83 0.83 0 1 0 -1.66 0M218.5 245.4a0.64 0.64 0 1 0 1.28 0a0.64 0.64 0 1 0 -1.28 0M322.6 296.9a0.79 0.79 0 1 0 1.58 0a0.79 0.79 0 1 0 -1.58 0M211.8 288.8a0.79 0.79 0 1 0 1.57 0a0.79 0.79 0 1 0 -1.57 0M216.3 219.1a0.54 0.54 0 1 0 1.09 0a0.54 0.54 0 1 0 -1.09 0M204.5 251.9a0.76 0.76 0 1 0 1.52 0a0.76 0.76 0 1 0 -1.52 0M262.9 228.9a0.85 0.85 0 1 0 1.70 0a0.85 0.85 0 1 0 -1.70 0M275.9 216.5a0.50 0.50 0 1 0 1.01 0a0.50 0.50 0 1 0 -1.01 0M199.0 259.5a0.52 0.52 0 1 0 1.03 0a0.52 0.52 0 1 0 -1.03 0M198.2 246.1a0.79 0.79 0 1 0 1.58 0a0.79 0.79 0 1 0 -1.58 0M233.5 274.1a0.74 0.74 0 1 0 1.48 0a0.74 0.74 0 1 0 -1.48 0M188.1 303.4a0.71 0.71 0 1 0 1.43 0a0.71 0.71 0 1 0 -1.43 0M250.5 264.3a0.79 0.79 0 1 0 1.58 0a0.79 0.79 0 1 0 -1.58 0M244.3 205.3a0.79 0.79 0 1 0 1.59 0a0.79 0.79 0 1 0 -1.59 0M195.0 250.3a0.69 0.69 0 1 0 1.37 0a0.69 0.69 0 1 0 -1.37 0M249.6 271.2a0.68 0.68 0 1 0 1.36 0a0.68 0.68 0 1 0 -1.36 0M250.0 199.4a0.65 0.65 0 1 0 1.30 0a0.65 0.65 0 1 0 -1.30 0M210.2 260.2a0.61 0.61 0 1 0 1.21 0a0.61 0.61 0 1 0 -1.21 0M316.7 294.0a0.63 0.63 0 1 0 1.27 0a0.63 0.63 0 1 0 -1.27 0M191.7 225.2a0.53 0.53 0 1 0 1.07 0a0.53 0.53 0 1 0 -1.07 0M304.3 199.2a0.69 0.69 0 1 0 1.38 0a0.69 0.69 0 1 0 -1.38 0M190.7 241.6a0.64 0.64 0 1 0 1.28 0a0.64 0.64 0 1 0 -1.28 0M211.3 219.4a0.57 0.57 0 1 0 1.14 0a0.57 0.57 0 1 0 -1.14 0M232.5 250.7a0.82 0.82 0 1 0 1.63 0a0.82 0.82 0 1 0 -1.63 0M222.9 209.5a0.52 0.52 0 1 0 1.04 0a0.52 0.52 0 1 0 -1.04 0M239.6 284.1a0.61 0.61 0 1 0 1.22 0a0.61 0.61 0 1 0 -1.22 0M249.9 205.0a0.82 0.82 0 1 0 1.65 0a0.82 0.82 0 1 0 -1.65 0M276.6 235.3a0.77 0.77 0 1 0 1.53 0a0.77 0.77 0 1 0 -1.53 0M212.9 210.0a0.75 0.75 0 1 0 1.50 0a0.75 0.75 0 1 0 -1.50 0M215.7 292.4a0.67 0.67 0 1 0 1.34 0a0.67 0.67 0 1 0 -1.34 0M275.2 197.8a0.72 0.72 0 1 0 1.43 0a0.72 0.72 0 1 0 -1.43 0M242.6 197.2a0.68 0.68 0 1 0 1.37 0a0.68 0.68 0 1 0 -1.37 0M189.4 253.3a0.70 0.70 0 1 0 1.39 0a0.70 0.70 0 1 0 -1.39 0M311.2 243.1a0.65 0.65 0 1 0 1.30 0a0.65 0.65 0 1 0 -1.30 0M274.6 275.6a0.53 0.53 0 1 0 1.06 0a0.53 0.53 0 1 0 -1.06 0M213.2 197.8a0.81 0.81 0 1 0 1.62 0a0.81 0.81 0 1 0 -1.62 0M265.7 293.1a0.50 0.50 0 1 0 1.00 0a0.50 0.50 0 1 0 -1.00 0M254.4 296.0a0.53 0.53 0 1 0 1.07 0a0.53 0.53 0 1 0 -1.07 0M262.1 227.7a0.59 0.59 0 1 0 1.17 0a0.59 0.59 0 1 0 -1.17 0M215.6 243.9a0.78 0.78 0 1 0 1.55 0a0.78 0.78 0 1 0 -1.55 0M205.5 252.7a0.79 0.79 0 1 0 1.58 0a0.79 0.79 0 1 0 -1.58 0M316.7 209.2a0.60 0.60 0 1 0 1.20 0a0.60 0.60 0 1 0 -1.20 0M288.1 296.9a0.65 0.65 0 1 0 1.30 0a0.65 0.65 0 1 0 -1.30 0M326.6 298.9a0.79 0.79 0 1 0 1.58 0a0.79 0.79 0 1 0 -1.58 0M270.6 212.8a0.68 0.68 0 1 0 1.37 0a0.68 0.68 0 1 0 -1.37 0M235.6 249.4a0.71 0.71 0 1 0 1.41 0a0.71 0.71 0 1 0 -1.41 0M232.3 290.8a0.81 0.81 0 1 0 1.63 0a0.81 0.81 0 1 0 -1.63 0M272.9 283.5a0.70 0.70 0 1 0 1.40 0a0.70 0.70 0 1 0 -1.40 0M196.4 288.0a0.56 0.56 0 1 0 1.13 0a0.56 0.56 0 1 0 -1.13 0M237.3 241.0a0.58 0.58 0 1 0 1.15 0a0.58 0.58 0 1 0 -1.15 0M212.0 218.0a0.61 0.61 0 1 0 1.23 0a0.61 0.61 0 1 0 -1.23 0M253.0 272.6a0.67 0.67 0 1 0 1.35 0a0.67 0.67 0 1 0 -1.35 0M260.8 237.4a0.71 0.71 0 1 0 1.43 0a0.71 0.71 0 1 0 -1.43 0M270.1 270.8a0.52 0.52 0 1 0 1.05 0a0.52 0.52 0 1 0 -1.05 0M311.6 254.6a0.79 0.79 0 1 0 1.59 0a0.79 0.79 0 1 0 -1.59 0M240.8 300.6a0.82 0.82 0 1 0 1.63 0a0.82 0.82 0 1 0 -1.63 0M266.5 251.1a0.74 0.74 0 1 0 1.47 0a0.74 0.74 0 1 0 -1.47 0M297.0 287.7a0.51 0.51 0 1 0 1.03 0a0.51 0.51 0 1 0 -1.03 0M252.0 258.1a0.64 0.64 0 1 0 1.27 0a0.64 0.64 0 1 0 -1.27 0M251.4 196.3a0.67 0.67 0 1 0 1.34 0a0.67 0.67 0 1 0 -1.34 0M255.2 283.5a0.65 0.65 0 1 0 1.30 0a0.65 0.65 0 1 0 -1.30 0M291.1 292.9a0.72 0.72 0 1 0 1.43 0a0.72 0.72 0 1 0 -1.43 0M315.1 197.9a0.59 0.59 0 1 0 1.18 0a0.59 0.59 0 1 0 -1.18 0M294.6 200.6a0.76 0.76 0 1 0 1.52 0a0.76 0.76 0 1 0 -1.52 0M222.5 209.6a0.85 0.85 0 1 0 1.69 0a0.85 0.85 0 1 0 -1.69 0M207.4 209.4a0.66 0.66 0 1 0 1.32 0a0.66 0.66 0 1 0 -1.32 0M241.5 283.9a0.72 0.72 0 1 0 1.43 0a0.72 0.72 0 1 0 -1.43 0M236.2 197.1a0.62 0.62 0 1 0 1.24 0a0.62 0.62 0 1 0 -1.24 0M263.0 199.7a0.66 0.66 0 1 0 1.31 0a0.66 0.66 0 1 0 -1.31 0M199.1 208.9a0.66 0.66 0 1 0 1.32 0a0.66 0.66 0 1 0 -1.32 0M228.7 199.0a0.67 0.67 0 1 0 1.34 0a0.67 0.67 0 1 0 -1.34 0M247.4 217.7a0.75 0.75 0 1 0 1.50 0a0.75 0.75 0 1 0 -1.50 0M292.1 262.8a0.78 0.78 0 1 0 1.56 0a0.78 0.78 0 1 0 -1.56 0M321.0 225.9a0.58 0.58 0 1 0 1.17 0a0.58 0.58 0 1 0 -1.17 0M196.8 216.6a0.55 0.55 0 1 0 1.11 0a0.55 0.55 0 1 0 -1.11 0M279.2 301.5a0.62 0.62 0 1 0 1.24 0a0.62 0.62 0 1 0 -1.24 0" fill="#9c3e30" opacity="0.8"/>
<path d="M290.5 268.6a0.61 0.61 0 1 0 1.22 0a0.61 0.61 0 1 0 -1.22 0M308.4 251.2a0.63 0.63 0 1 0 1.26 0a0.63 0.63 0 1 0 -1.26 0M218.3 198.9a0.61 0.61 0 1 0 1.23 0a0.61 0.61 0 1 0 -1.23 0M299.0 275.5a0.82 0.82 0 1 0 1.63 0a0.82 0.82 0 1 0 -1.63 0M216.1 231.3a0.74 0.74 0 1 0 1.49 0a0.74 0.74 0 1 0 -1.49 0M229.2 218.7a0.68 0.68 0 1 0 1.36 0a0.68 0.68 0 1 0 -1.36 0M237.8 210.1a0.83 0.83 0 1 0 1.66 0a0.83 0.83 0 1 0 -1.66 0M200.6 232.7a0.51 0.51 0 1 0 1.02 0a0.51 0.51 0 1 0 -1.02 0M217.8 244.3a0.59 0.59 0 1 0 1.18 0a0.59 0.59 0 1 0 -1.18 0M199.3 198.9a0.73 0.73 0 1 0 1.47 0a0.73 0.73 0 1 0 -1.47 0M301.3 202.8a0.72 0.72 0 1 0 1.45 0a0.72 0.72 0 1 0 -1.45 0M268.9 284.5a0.53 0.53 0 1 0 1.07 0a0.53 0.53 0 1 0 -1.07 0M250.7 272.2a0.64 0.64 0 1 0 1.28 0a0.64 0.64 0 1 0 -1.28 0M302.0 279.1a0.57 0.57 0 1 0 1.14 0a0.57 0.57 0 1 0 -1.14 0M251.8 196.5a0.51 0.51 0 1 0 1.02 0a0.51 0.51 0 1 0 -1.02 0M258.9 295.6a0.68 0.68 0 1 0 1.36 0a0.68 0.68 0 1 0 -1.36 0M300.9 277.2a0.60 0.60 0 1 0 1.20 0a0.60 0.60 0 1 0 -1.20 0M185.2 230.9a0.79 0.79 0 1 0 1.58 0a0.79 0.79 0 1 0 -1.58 0M249.4 260.1a0.54 0.54 0 1 0 1.08 0a0.54 0.54 0 1 0 -1.08 0M214.8 202.0a0.58 0.58 0 1 0 1.15 0a0.58 0.58 0 1 0 -1.15 0M189.8 217.4a0.54 0.54 0 1 0 1.08 0a0.54 0.54 0 1 0 -1.08 0M324.2 237.6a0.71 0.71 0 1 0 1.43 0a0.71 0.71 0 1 0 -1.43 0M194.3 236.2a0.72 0.72 0 1 0 1.44 0a0.72 0.72 0 1 0 -1.44 0M186.9 258.9a0.55 0.55 0 1 0 1.09 0a0.55 0.55 0 1 0 -1.09 0M265.6 287.9a0.80 0.80 0 1 0 1.60 0a0.80 0.80 0 1 0 -1.60 0M285.7 290.6a0.71 0.71 0 1 0 1.41 0a0.71 0.71 0 1 0 -1.41 0M191.9 252.9a0.81 0.81 0 1 0 1.62 0a0.81 0.81 0 1 0 -1.62 0M281.5 202.1a0.75 0.75 0 1 0 1.49 0a0.75 0.75 0 1 0 -1.49 0M204.3 229.8a0.73 0.73 0 1 0 1.46 0a0.73 0.73 0 1 0 -1.46 0M190.5 243.1a0.72 0.72 0 1 0 1.44 0a0.72 0.72 0 1 0 -1.44 0M287.6 289.3a0.53 0.53 0 1 0 1.05 0a0.53 0.53 0 1 0 -1.05 0M295.4 242.5a0.58 0.58 0 1 0 1.17 0a0.58 0.58 0 1 0 -1.17 0M210.2 198.4a0.80 0.80 0 1 0 1.61 0a0.80 0.80 0 1 0 -1.61 0M259.4 263.1a0.82 0.82 0 1 0 1.64 0a0.82 0.82 0 1 0 -1.64 0M210.0 286.2a0.61 0.61 0 1 0 1.23 0a0.61 0.61 0 1 0 -1.23 0M253.6 263.2a0.58 0.58 0 1 0 1.16 0a0.58 0.58 0 1 0 -1.16 0M310.5 265.2a0.70 0.70 0 1 0 1.40 0a0.70 0.70 0 1 0 -1.40 0M231.3 232.3a0.77 0.77 0 1 0 1.55 0a0.77 0.77 0 1 0 -1.55 0M289.1 246.5a0.60 0.60 0 1 0 1.20 0a0.60 0.60 0 1 0 -1.20 0M212.6 271.9a0.82 0.82 0 1 0 1.65 0a0.82 0.82 0 1 0 -1.65 0M193.2 212.2a0.67 0.67 0 1 0 1.34 0a0.67 0.67 0 1 0 -1.34 0M286.1 227.8a0.82 0.82 0 1 0 1.64 0a0.82 0.82 0 1 0 -1.64 0M275.5 262.7a0.75 0.75 0 1 0 1.49 0a0.75 0.75 0 1 0 -1.49 0M304.7 274.0a0.56 0.56 0 1 0 1.12 0a0.56 0.56 0 1 0 -1.12 0M223.0 225.0a0.59 0.59 0 1 0 1.18 0a0.59 0.59 0 1 0 -1.18 0M298.3 246.0a0.65 0.65 0 1 0 1.30 0a0.65 0.65 0 1 0 -1.30 0M288.6 292.6a0.80 0.80 0 1 0 1.59 0a0.80 0.80 0 1 0 -1.59 0M313.5 297.2a0.70 0.70 0 1 0 1.40 0a0.70 0.70 0 1 0 -1.40 0M278.3 278.1a0.67 0.67 0 1 0 1.33 0a0.67 0.67 0 1 0 -1.33 0M325.0 303.7a0.68 0.68 0 1 0 1.35 0a0.68 0.68 0 1 0 -1.35 0M312.1 284.0a0.83 0.83 0 1 0 1.67 0a0.83 0.83 0 1 0 -1.67 0M217.9 263.7a0.55 0.55 0 1 0 1.09 0a0.55 0.55 0 1 0 -1.09 0M204.8 199.5a0.63 0.63 0 1 0 1.26 0a0.63 0.63 0 1 0 -1.26 0M188.9 208.4a0.54 0.54 0 1 0 1.08 0a0.54 0.54 0 1 0 -1.08 0M302.6 297.6a0.58 0.58 0 1 0 1.15 0a0.58 0.58 0 1 0 -1.15 0M227.3 298.1a0.75 0.75 0 1 0 1.50 0a0.75 0.75 0 1 0 -1.50 0M211.0 232.4a0.77 0.77 0 1 0 1.55 0a0.77 0.77 0 1 0 -1.55 0M223.7 283.4a0.61 0.61 0 1 0 1.23 0a0.61 0.61 0 1 0 -1.23 0M285.6 202.2a0.78 0.78 0 1 0 1.57 0a0.78 0.78 0 1 0 -1.57 0M302.9 224.0a0.67 0.67 0 1 0 1.34 0a0.67 0.67 0 1 0 -1.34 0M222.2 257.4a0.68 0.68 0 1 0 1.36 0a0.68 0.68 0 1 0 -1.36 0M251.5 283.9a0.53 0.53 0 1 0 1.06 0a0.53 0.53 0 1 0 -1.06 0M205.8 230.9a0.67 0.67 0 1 0 1.34 0a0.67 0.67 0 1 0 -1.34 0M316.8 303.0a0.67 0.67 0 1 0 1.34 0a0.67 0.67 0 1 0 -1.34 0M280.3 213.6a0.63 0.63 0 1 0 1.26 0a0.63 0.63 0 1 0 -1.26 0M261.1 274.8a0.82 0.82 0 1 0 1.64 0a0.82 0.82 0 1 0 -1.64 0M315.9 244.5a0.72 0.72 0 1 0 1.45 0a0.72 0.72 0 1 0 -1.45 0M250.5 211.5a0.61 0.61 0 1 0 1.22 0a0.61 0.61 0 1 0 -1.22 0M199.2 212.3a0.69 0.69 0 1 0 1.37 0a0.69 0.69 0 1 0 -1.37 0M325.3 276.1a0.64 0.64 0 1 0 1.28 0a0.64 0.64 0 1 0 -1.28 0M230.4 223.4a0.73 0.73 0 1 0 1.46 0a0.73 0.73 0 1 0 -1.46 0M250.3 281.3a0.65 0.65 0 1 0 1.29 0a0.65 0.65 0 1 0 -1.29 0M229.6 210.3a0.50 0.50 0 1 0 1.00 0a0.50 0.50 0 1 0 -1.00 0M232.3 200.5a0.75 0.75 0 1 0 1.50 0a0.75 0.75 0 1 0 -1.50 0M272.8 247.8a0.77 0.77 0 1 0 1.54 0a0.77 0.77 0 1 0 -1.54 0M288.2 271.3a0.77 0.77 0 1 0 1.54 0a0.77 0.77 0 1 0 -1.54 0M220.7 202.2a0.64 0.64 0 1 0 1.28 0a0.64 0.64 0 1 0 -1.28 0M302.3 245.1a0.56 0.56 0 1 0 1.11 0a0.56 0.56 0 1 0 -1.11 0M226.9 282.0a0.61 0.61 0 1 0 1.23 0a0.61 0.61 0 1 0 -1.23 0M279.1 204.8a0.82 0.82 0 1 0 1.64 0a0.82 0.82 0 1 0 -1.64 0M283.2 246.6a0.54 0.54 0 1 0 1.08 0a0.54 0.54 0 1 0 -1.08 0M296.1 300.6a0.79 0.79 0 1 0 1.59 0a0.79 0.79 0 1 0 -1.59 0M261.2 292.1a0.71 0.71 0 1 0 1.42 0a0.71 0.71 0 1 0 -1.42 0M285.4 278.7a0.58 0.58 0 1 0 1.16 0a0.58 0.58 0 1 0 -1.16 0M260.8 278.4a0.75 0.75 0 1 0 1.49 0a0.75 0.75 0 1 0 -1.49 0M298.2 272.8a0.70 0.70 0 1 0 1.41 0a0.70 0.70 0 1 0 -1.41 0M216.6 240.1a0.75 0.75 0 1 0 1.50 0a0.75 0.75 0 1 0 -1.50 0M313.3 223.5a0.71 0.71 0 1 0 1.42 0a0.71 0.71 0 1 0 -1.42 0M223.1 291.2a0.67 0.67 0 1 0 1.33 0a0.67 0.67 0 1 0 -1.33 0M259.1 209.4a0.60 0.60 0 1 0 1.21 0a0.60 0.60 0 1 0 -1.21 0M219.5 300.4a0.78 0.78 0 1 0 1.56 0a0.78 0.78 0 1 0 -1.56 0M228.0 242.5a0.62 0.62 0 1 0 1.24 0a0.62 0.62 0 1 0 -1.24 0M299.1 218.5a0.64 0.64 0 1 0 1.28 0a0.64 0.64 0 1 0 -1.28 0M287.0 280.6a0.75 0.75 0 1 0 1.50 0a0.75 0.75 0 1 0 -1.50 0M286.2 208.0a0.53 0.53 0 1 0 1.06 0a0.53 0.53 0 1 0 -1.06 0M255.6 222.7a0.84 0.84 0 1 0 1.68 0a0.84 0.84 0 1 0 -1.68 0M274.5 253.1a0.79 0.79 0 1 0 1.59 0a0.79 0.79 0 1 0 -1.59 0M246.6 223.0a0.76 0.76 0 1 0 1.52 0a0.76 0.76 0 1 0 -1.52 0M271.2 280.6a0.54 0.54 0 1 0 1.08 0a0.54 0.54 0 1 0 -1.08 0M268.4 274.0a0.57 0.57 0 1 0 1.13 0a0.57 0.57 0 1 0 -1.13 0M310.1 288.1a0.77 0.77 0 1 0 1.53 0a0.77 0.77 0 1 0 -1.53 0M302.5 259.7a0.54 0.54 0 1 0 1.09 0a0.54 0.54 0 1 0 -1.09 0M302.1 241.0a0.74 0.74 0 1 0 1.49 0a0.74 0.74 0 1 0 -1.49 0M257.9 238.4a0.69 0.69 0 1 0 1.38 0a0.69 0.69 0 1 0 -1.38 0M238.7 212.5a0.69 0.69 0 1 0 1.38 0a0.69 0.69 0 1 0 -1.38 0M265.3 202.6a0.71 0.71 0 1 0 1.41 0a0.71 0.71 0 1 0 -1.41 0" fill="#b45834" opacity="0.8"/>
<path d="M189.1 269.8a0.85 0.85 0 1 0 1.70 0a0.85 0.85 0 1 0 -1.70 0M234.8 274.6a0.70 0.70 0 1 0 1.39 0a0.70 0.70 0 1 0 -1.39 0M222.9 294.6a0.61 0.61 0 1 0 1.22 0a0.61 0.61 0 1 0 -1.22 0M219.3 219.0a0.81 0.81 0 1 0 1.62 0a0.81 0.81 0 1 0 -1.62 0M324.2 196.8a0.83 0.83 0 1 0 1.66 0a0.83 0.83 0 1 0 -1.66 0M290.9 293.6a0.76 0.76 0 1 0 1.53 0a0.76 0.76 0 1 0 -1.53 0M276.7 219.2a0.82 0.82 0 1 0 1.63 0a0.82 0.82 0 1 0 -1.63 0M272.9 196.9a0.51 0.51 0 1 0 1.02 0a0.51 0.51 0 1 0 -1.02 0M284.1 199.0a0.73 0.73 0 1 0 1.46 0a0.73 0.73 0 1 0 -1.46 0M205.4 241.3a0.52 0.52 0 1 0 1.05 0a0.52 0.52 0 1 0 -1.05 0M322.9 232.0a0.76 0.76 0 1 0 1.52 0a0.76 0.76 0 1 0 -1.52 0M216.6 263.3a0.64 0.64 0 1 0 1.28 0a0.64 0.64 0 1 0 -1.28 0M278.2 284.4a0.51 0.51 0 1 0 1.01 0a0.51 0.51 0 1 0 -1.01 0M209.1 277.3a0.77 0.77 0 1 0 1.55 0a0.77 0.77 0 1 0 -1.55 0M256.5 270.7a0.83 0.83 0 1 0 1.66 0a0.83 0.83 0 1 0 -1.66 0M236.3 205.9a0.57 0.57 0 1 0 1.13 0a0.57 0.57 0 1 0 -1.13 0M203.2 252.7a0.80 0.80 0 1 0 1.59 0a0.80 0.80 0 1 0 -1.59 0M268.9 254.4a0.84 0.84 0 1 0 1.69 0a0.84 0.84 0 1 0 -1.69 0M277.5 238.8a0.83 0.83 0 1 0 1.65 0a0.83 0.83 0 1 0 -1.65 0M307.0 252.2a0.52 0.52 0 1 0 1.05 0a0.52 0.52 0 1 0 -1.05 0M288.1 245.4a0.73 0.73 0 1 0 1.46 0a0.73 0.73 0 1 0 -1.46 0M212.8 230.1a0.61 0.61 0 1 0 1.22 0a0.61 0.61 0 1 0 -1.22 0M280.2 285.1a0.53 0.53 0 1 0 1.05 0a0.53 0.53 0 1 0 -1.05 0M276.7 254.7a0.74 0.74 0 1 0 1.47 0a0.74 0.74 0 1 0 -1.47 0M190.5 260.3a0.84 0.84 0 1 0 1.68 0a0.84 0.84 0 1 0 -1.68 0M185.0 240.0a0.68 0.68 0 1 0 1.35 0a0.68 0.68 0 1 0 -1.35 0M201.0 260.8a0.72 0.72 0 1 0 1.44 0a0.72 0.72 0 1 0 -1.44 0M323.8 238.4a0.72 0.72 0 1 0 1.43 0a0.72 0.72 0 1 0 -1.43 0M280.1 266.4a0.64 0.64 0 1 0 1.29 0a0.64 0.64 0 1 0 -1.29 0M184.3 279.1a0.76 0.76 0 1 0 1.52 0a0.76 0.76 0 1 0 -1.52 0M209.4 283.2a0.81 0.81 0 1 0 1.62 0a0.81 0.81 0 1 0 -1.62 0M206.3 220.9a0.72 0.72 0 1 0 1.43 0a0.72 0.72 0 1 0 -1.43 0M230.8 225.7a0.63 0.63 0 1 0 1.26 0a0.63 0.63 0 1 0 -1.26 0M287.9 289.2a0.76 0.76 0 1 0 1.53 0a0.76 0.76 0 1 0 -1.53 0M276.5 213.3a0.58 0.58 0 1 0 1.15 0a0.58 0.58 0 1 0 -1.15 0M313.5 255.8a0.71 0.71 0 1 0 1.42 0a0.71 0.71 0 1 0 -1.42 0M212.3 231.2a0.60 0.60 0 1 0 1.20 0a0.60 0.60 0 1 0 -1.20 0M288.0 197.5a0.73 0.73 0 1 0 1.46 0a0.73 0.73 0 1 0 -1.46 0M282.5 210.8a0.74 0.74 0 1 0 1.49 0a0.74 0.74 0 1 0 -1.49 0M324.0 259.0a0.51 0.51 0 1 0 1.01 0a0.51 0.51 0 1 0 -1.01 0M318.5 293.3a0.54 0.54 0 1 0 1.07 0a0.54 0.54 0 1 0 -1.07 0M268.4 265.9a0.60 0.60 0 1 0 1.20 0a0.60 0.60 0 1 0 -1.20 0M295.6 283.3a0.77 0.77 0 1 0 1.54 0a0.77 0.77 0 1 0 -1.54 0M271.8 215.3a0.84 0.84 0 1 0 1.68 0a0.84 0.84 0 1 0 -1.68 0M199.0 266.7a0.84 0.84 0 1 0 1.69 0a0.84 0.84 0 1 0 -1.69 0M313.0 196.6a0.81 0.81 0 1 0 1.63 0a0.81 0.81 0 1 0 -1.63 0M190.0 245.8a0.83 0.83 0 1 0 1.67 0a0.83 0.83 0 1 0 -1.67 0M225.6 277.2a0.81 0.81 0 1 0 1.62 0a0.81 0.81 0 1 0 -1.62 0M262.0 286.5a0.55 0.55 0 1 0 1.11 0a0.55 0.55 0 1 0 -1.11 0M231.7 196.7a0.80 0.80 0 1 0 1.59 0a0.80 0.80 0 1 0 -1.59 0M191.2 233.3a0.75 0.75 0 1 0 1.51 0a0.75 0.75 0 1 0 -1.51 0M279.1 280.3a0.64 0.64 0 1 0 1.28 0a0.64 0.64 0 1 0 -1.28 0M260.7 294.5a0.61 0.61 0 1 0 1.22 0a0.61 0.61 0 1 0 -1.22 0M233.6 283.3a0.58 0.58 0 1 0 1.16 0a0.58 0.58 0 1 0 -1.16 0M203.3 226.1a0.72 0.72 0 1 0 1.45 0a0.72 0.72 0 1 0 -1.45 0M267.8 301.7a0.72 0.72 0 1 0 1.45 0a0.72 0.72 0 1 0 -1.45 0M204.2 229.7a0.50 0.50 0 1 0 1.00 0a0.50 0.50 0 1 0 -1.00 0M237.8 272.1a0.84 0.84 0 1 0 1.68 0a0.84 0.84 0 1 0 -1.68 0M187.0 243.0a0.58 0.58 0 1 0 1.16 0a0.58 0.58 0 1 0 -1.16 0M252.0 222.5a0.78 0.78 0 1 0 1.56 0a0.78 0.78 0 1 0 -1.56 0M202.3 237.9a0.76 0.76 0 1 0 1.52 0a0.76 0.76 0 1 0 -1.52 0M189.5 238.9a0.52 0.52 0 1 0 1.05 0a0.52 0.52 0 1 0 -1.05 0M302.4 255.3a0.76 0.76 0 1 0 1.51 0a0.76 0.76 0 1 0 -1.51 0M292.0 265.2a0.68 0.68 0 1 0 1.37 0a0.68 0.68 0 1 0 -1.37 0M265.7 252.6a0.63 0.63 0 1 0 1.27 0a0.63 0.63 0 1 0 -1.27 0M253.5 284.2a0.73 0.73 0 1 0 1.46 0a0.73 0.73 0 1 0 -1.46 0M327.1 212.5a0.70 0.70 0 1 0 1.41 0a0.70 0.70 0 1 0 -1.41 0M308.9 294.7a0.77 0.77 0 1 0 1.54 0a0.77 0.77 0 1 0 -1.54 0M186.3 271.3a0.53 0.53 0 1 0 1.06 0a0.53 0.53 0 1 0 -1.06 0M244.1 247.8a0.70 0.70 0 1 0 1.39 0a0.70 0.70 0 1 0 -1.39 0M268.4 239.1a0.72 0.72 0 1 0 1.45 0a0.72 0.72 0 1 0 -1.45 0M192.2 232.0a0.63 0.63 0 1 0 1.26 0a0.63 0.63 0 1 0 -1.26 0M274.4 209.1a0.82 0.82 0 1 0 1.64 0a0.82 0.82 0 1 0 -1.64 0M235.1 234.8a0.53 0.53 0 1 0 1.06 0a0.53 0.53 0 1 0 -1.06 0M292.7 301.1a0.78 0.78 0 1 0 1.56 0a0.78 0.78 0 1 0 -1.56 0M242.9 247.4a0.63 0.63 0 1 0 1.26 0a0.63 0.63 0 1 0 -1.26 0M304.6 289.2a0.69 0.69 0 1 0 1.37 0a0.69 0.69 0 1 0 -1.37 0M247.4 205.1a0.65 0.65 0 1 0 1.30 0a0.65 0.65 0 1 0 -1.30 0M257.6 260.1a0.66 0.66 0 1 0 1.31 0a0.66 0.66 0 1 0 -1.31 0M210.7 238.6a0.78 0.78 0 1 0 1.56 0a0.78 0.78 0 1 0 -1.56 0M302.3 221.3a0.63 0.63 0 1 0 1.26 0a0.63 0.63 0 1 0 -1.26 0M200.6 205.7a0.62 0.62 0 1 0 1.23 0a0.62 0.62 0 1 0 -1.23 0M195.8 245.6a0.60 0.60 0 1 0 1.21 0a0.60 0.60 0 1 0 -1.21 0M265.5 241.7a0.64 0.64 0 1 0 1.29 0a0.64 0.64 0 1 0 -1.29 0M327.0 234.6a0.85 0.85 0 1 0 1.69 0a0.85 0.85 0 1 0 -1.69 0M195.9 227.4a0.79 0.79 0 1 0 1.57 0a0.79 0.79 0 1 0 -1.57 0M238.2 200.6a0.75 0.75 0 1 0 1.50 0a0.75 0.75 0 1 0 -1.50 0M287.9 205.1a0.75 0.75 0 1 0 1.50 0a0.75 0.75 0 1 0 -1.50 0M255.4 266.3a0.64 0.64 0 1 0 1.27 0a0.64 0.64 0 1 0 -1.27 0M197.2 274.0a0.77 0.77 0 1 0 1.53 0a0.77 0.77 0 1 0 -1.53 0M298.6 226.0a0.64 0.64 0 1 0 1.29 0a0.64 0.64 0 1 0 -1.29 0M264.2 269.5a0.76 0.76 0 1 0 1.51 0a0.76 0.76 0 1 0 -1.51 0M222.2 270.3a0.51 0.51 0 1 0 1.01 0a0.51 0.51 0 1 0 -1.01 0M225.2 253.8a0.60 0.60 0 1 0 1.20 0a0.60 0.60 0 1 0 -1.20 0M269.2 264.3a0.56 0.56 0 1 0 1.12 0a0.56 0.56 0 1 0 -1.12 0M226.3 283.7a0.68 0.68 0 1 0 1.35 0a0.68 0.68 0 1 0 -1.35 0M323.2 221.3a0.78 0.78 0 1 0 1.55 0a0.78 0.78 0 1 0 -1.55 0M309.5 289.0a0.81 0.81 0 1 0 1.62 0a0.81 0.81 0 1 0 -1.62 0M229.0 196.4a0.70 0.70 0 1 0 1.41 0a0.70 0.70 0 1 0 -1.41 0" fill="#a04a2c" opacity="0.8"/>
<path d="M223.0 200.2a0.51 0.51 0 1 0 1.02 0a0.51 0.51 0 1 0 -1.02 0M217.0 290.8a0.54 0.54 0 1 0 1.07 0a0.54 0.54 0 1 0 -1.07 0M254.3 231.7a0.81 0.81 0 1 0 1.61 0a0.81 0.81 0 1 0 -1.61 0M298.5 263.6a0.63 0.63 0 1 0 1.25 0a0.63 0.63 0 1 0 -1.25 0M236.9 252.3a0.82 0.82 0 1 0 1.65 0a0.82 0.82 0 1 0 -1.65 0M287.6 211.4a0.62 0.62 0 1 0 1.24 0a0.62 0.62 0 1 0 -1.24 0M285.9 227.7a0.84 0.84 0 1 0 1.67 0a0.84 0.84 0 1 0 -1.67 0M286.5 291.8a0.62 0.62 0 1 0 1.23 0a0.62 0.62 0 1 0 -1.23 0M220.8 275.2a0.64 0.64 0 1 0 1.29 0a0.64 0.64 0 1 0 -1.29 0M293.0 248.6a0.74 0.74 0 1 0 1.47 0a0.74 0.74 0 1 0 -1.47 0M310.7 246.0a0.85 0.85 0 1 0 1.69 0a0.85 0.85 0 1 0 -1.69 0M283.8 273.0a0.61 0.61 0 1 0 1.21 0a0.61 0.61 0 1 0 -1.21 0M260.6 288.1a0.78 0.78 0 1 0 1.56 0a0.78 0.78 0 1 0 -1.56 0M322.3 208.4a0.79 0.79 0 1 0 1.57 0a0.79 0.79 0 1 0 -1.57 0M309.6 297.2a0.76 0.76 0 1 0 1.53 0a0.76 0.76 0 1 0 -1.53 0M308.8 215.4a0.52 0.52 0 1 0 1.04 0a0.52 0.52 0 1 0 -1.04 0M290.6 289.2a0.58 0.58 0 1 0 1.16 0a0.58 0.58 0 1 0 -1.16 0M275.2 300.2a0.56 0.56 0 1 0 1.11 0a0.56 0.56 0 1 0 -1.11 0M290.3 298.2a0.51 0.51 0 1 0 1.01 0a0.51 0.51 0 1 0 -1.01 0M252.9 217.0a0.66 0.66 0 1 0 1.33 0a0.66 0.66 0 1 0 -1.33 0M295.4 274.1a0.72 0.72 0 1 0 1.44 0a0.72 0.72 0 1 0 -1.44 0M272.0 233.9a0.78 0.78 0 1 0 1.56 0a0.78 0.78 0 1 0 -1.56 0M316.2 210.0a0.65 0.65 0 1 0 1.30 0a0.65 0.65 0 1 0 -1.30 0M252.0 216.6a0.65 0.65 0 1 0 1.30 0a0.65 0.65 0 1 0 -1.30 0M266.4 270.4a0.59 0.59 0 1 0 1.17 0a0.59 0.59 0 1 0 -1.17 0M227.2 273.4a0.84 0.84 0 1 0 1.68 0a0.84 0.84 0 1 0 -1.68 0M255.4 241.3a0.63 0.63 0 1 0 1.25 0a0.63 0.63 0 1 0 -1.25 0M313.6 234.3a0.80 0.80 0 1 0 1.59 0a0.80 0.80 0 1 0 -1.59 0M304.3 232.4a0.82 0.82 0 1 0 1.65 0a0.82 0.82 0 1 0 -1.65 0M191.2 207.8a0.51 0.51 0 1 0 1.01 0a0.51 0.51 0 1 0 -1.01 0M294.9 302.6a0.56 0.56 0 1 0 1.12 0a0.56 0.56 0 1 0 -1.12 0M190.8 232.5a0.66 0.66 0 1 0 1.31 0a0.66 0.66 0 1 0 -1.31 0M196.3 284.7a0.70 0.70 0 1 0 1.40 0a0.70 0.70 0 1 0 -1.40 0M262.4 298.4a0.61 0.61 0 1 0 1.22 0a0.61 0.61 0 1 0 -1.22 0M278.4 243.0a0.57 0.57 0 1 0 1.14 0a0.57 0.57 0 1 0 -1.14 0M192.6 218.6a0.79 0.79 0 1 0 1.58 0a0.79 0.79 0 1 0 -1.58 0M275.0 203.6a0.59 0.59 0 1 0 1.17 0a0.59 0.59 0 1 0 -1.17 0M271.4 272.3a0.71 0.71 0 1 0 1.42 0a0.71 0.71 0 1 0 -1.42 0M207.9 251.9a0.54 0.54 0 1 0 1.07 0a0.54 0.54 0 1 0 -1.07 0M310.0 226.6a0.77 0.77 0 1 0 1.53 0a0.77 0.77 0 1 0 -1.53 0M320.9 206.2a0.81 0.81 0 1 0 1.63 0a0.81 0.81 0 1 0 -1.63 0M195.8 240.9a0.66 0.66 0 1 0 1.32 0a0.66 0.66 0 1 0 -1.32 0M231.3 226.3a0.57 0.57 0 1 0 1.13 0a0.57 0.57 0 1 0 -1.13 0M282.6 289.5a0.84 0.84 0 1 0 1.69 0a0.84 0.84 0 1 0 -1.69 0M314.3 257.0a0.58 0.58 0 1 0 1.15 0a0.58 0.58 0 1 0 -1.15 0M262.2 282.7a0.74 0.74 0 1 0 1.47 0a0.74 0.74 0 1 0 -1.47 0M219.8 209.1a0.57 0.57 0 1 0 1.15 0a0.57 0.57 0 1 0 -1.15 0M275.5 219.7a0.55 0.55 0 1 0 1.10 0a0.55 0.55 0 1 0 -1.10 0M312.7 217.2a0.62 0.62 0 1 0 1.25 0a0.62 0.62 0 1 0 -1.25 0M218.0 220.2a0.77 0.77 0 1 0 1.54 0a0.77 0.77 0 1 0 -1.54 0M258.5 220.7a0.51 0.51 0 1 0 1.02 0a0.51 0.51 0 1 0 -1.02 0M197.6 288.0a0.81 0.81 0 1 0 1.61 0a0.81 0.81 0 1 0 -1.61 0M191.1 280.5a0.57 0.57 0 1 0 1.14 0a0.57 0.57 0 1 0 -1.14 0M281.0 302.4a0.75 0.75 0 1 0 1.49 0a0.75 0.75 0 1 0 -1.49 0M305.6 239.8a0.52 0.52 0 1 0 1.04 0a0.52 0.52 0 1 0 -1.04 0M256.9 272.9a0.65 0.65 0 1 0 1.29 0a0.65 0.65 0 1 0 -1.29 0M242.9 256.7a0.52 0.52 0 1 0 1.05 0a0.52 0.52 0 1 0 -1.05 0M304.5 227.1a0.80 0.80 0 1 0 1.60 0a0.80 0.80 0 1 0 -1.60 0M228.5 228.8a0.59 0.59 0 1 0 1.17 0a0.59 0.59 0 1 0 -1.17 0M226.7 197.7a0.52 0.52 0 1 0 1.03 0a0.52 0.52 0 1 0 -1.03 0M272.2 269.6a0.77 0.77 0 1 0 1.55 0a0.77 0.77 0 1 0 -1.55 0M310.3 260.2a0.61 0.61 0 1 0 1.22 0a0.61 0.61 0 1 0 -1.22 0M210.8 287.7a0.76 0.76 0 1 0 1.52 0a0.76 0.76 0 1 0 -1.52 0M323.9 286.1a0.73 0.73 0 1 0 1.46 0a0.73 0.73 0 1 0 -1.46 0M305.5 303.6a0.71 0.71 0 1 0 1.42 0a0.71 0.71 0 1 0 -1.42 0M277.8 252.1a0.73 0.73 0 1 0 1.46 0a0.73 0.73 0 1 0 -1.46 0M225.0 225.7a0.51 0.51 0 1 0 1.02 0a0.51 0.51 0 1 0 -1.02 0M320.5 240.8a0.61 0.61 0 1 0 1.22 0a0.61 0.61 0 1 0 -1.22 0M264.8 269.6a0.76 0.76 0 1 0 1.53 0a0.76 0.76 0 1 0 -1.53 0M271.2 227.3a0.62 0.62 0 1 0 1.24 0a0.62 0.62 0 1 0 -1.24 0M268.0 264.0a0.58 0.58 0 1 0 1.17 0a0.58 0.58 0 1 0 -1.17 0M272.9 291.5a0.83 0.83 0 1 0 1.67 0a0.83 0.83 0 1 0 -1.67 0M204.5 213.9a0.61 0.61 0 1 0 1.21 0a0.61 0.61 0 1 0 -1.21 0M242.3 249.7a0.66 0.66 0 1 0 1.32 0a0.66 0.66 0 1 0 -1.32 0M297.6 261.6a0.74 0.74 0 1 0 1.47 0a0.74 0.74 0 1 0 -1.47 0M210.1 260.6a0.59 0.59 0 1 0 1.17 0a0.59 0.59 0 1 0 -1.17 0M280.8 240.4a0.80 0.80 0 1 0 1.60 0a0.80 0.80 0 1 0 -1.60 0M310.5 226.8a0.51 0.51 0 1 0 1.02 0a0.51 0.51 0 1 0 -1.02 0M239.1 266.2a0.54 0.54 0 1 0 1.08 0a0.54 0.54 0 1 0 -1.08 0M214.4 272.3a0.69 0.69 0 1 0 1.38 0a0.69 0.69 0 1 0 -1.38 0M291.4 270.2a0.55 0.55 0 1 0 1.09 0a0.55 0.55 0 1 0 -1.09 0M241.3 250.2a0.66 0.66 0 1 0 1.31 0a0.66 0.66 0 1 0 -1.31 0M244.7 198.4a0.58 0.58 0 1 0 1.16 0a0.58 0.58 0 1 0 -1.16 0M195.5 270.5a0.80 0.80 0 1 0 1.60 0a0.80 0.80 0 1 0 -1.60 0M250.3 237.3a0.67 0.67 0 1 0 1.34 0a0.67 0.67 0 1 0 -1.34 0M209.6 232.5a0.67 0.67 0 1 0 1.34 0a0.67 0.67 0 1 0 -1.34 0M261.2 223.9a0.72 0.72 0 1 0 1.43 0a0.72 0.72 0 1 0 -1.43 0M238.9 277.1a0.84 0.84 0 1 0 1.68 0a0.84 0.84 0 1 0 -1.68 0M185.8 216.6a0.60 0.60 0 1 0 1.19 0a0.60 0.60 0 1 0 -1.19 0M227.8 296.8a0.59 0.59 0 1 0 1.18 0a0.59 0.59 0 1 0 -1.18 0" fill="#b04c32" opacity="0.8"/>
<path d="M236.0 251.7a0.70 0.70 0 1 0 1.39 0a0.70 0.70 0 1 0 -1.39 0M235.1 302.1a0.84 0.84 0 1 0 1.67 0a0.84 0.84 0 1 0 -1.67 0M287.4 246.1a0.69 0.69 0 1 0 1.37 0a0.69 0.69 0 1 0 -1.37 0M256.5 286.0a0.62 0.62 0 1 0 1.25 0a0.62 0.62 0 1 0 -1.25 0M304.1 257.0a0.68 0.68 0 1 0 1.36 0a0.68 0.68 0 1 0 -1.36 0M187.5 281.4a0.83 0.83 0 1 0 1.66 0a0.83 0.83 0 1 0 -1.66 0M281.1 223.6a0.55 0.55 0 1 0 1.09 0a0.55 0.55 0 1 0 -1.09 0M300.7 242.2a0.51 0.51 0 1 0 1.01 0a0.51 0.51 0 1 0 -1.01 0M318.1 259.0a0.82 0.82 0 1 0 1.64 0a0.82 0.82 0 1 0 -1.64 0M283.9 296.9a0.61 0.61 0 1 0 1.22 0a0.61 0.61 0 1 0 -1.22 0M195.3 277.8a0.57 0.57 0 1 0 1.13 0a0.57 0.57 0 1 0 -1.13 0M223.0 253.1a0.67 0.67 0 1 0 1.33 0a0.67 0.67 0 1 0 -1.33 0M318.8 286.5a0.60 0.60 0 1 0 1.21 0a0.60 0.60 0 1 0 -1.21 0M289.3 246.7a0.75 0.75 0 1 0 1.50 0a0.75 0.75 0 1 0 -1.50 0M311.5 215.8a0.68 0.68 0 1 0 1.36 0a0.68 0.68 0 1 0 -1.36 0M316.2 230.1a0.68 0.68 0 1 0 1.37 0a0.68 0.68 0 1 0 -1.37 0M266.4 237.9a0.58 0.58 0 1 0 1.15 0a0.58 0.58 0 1 0 -1.15 0M248.1 290.2a0.61 0.61 0 1 0 1.22 0a0.61 0.61 0 1 0 -1.22 0M227.9 266.0a0.78 0.78 0 1 0 1.56 0a0.78 0.78 0 1 0 -1.56 0M215.0 234.7a0.62 0.62 0 1 0 1.23 0a0.62 0.62 0 1 0 -1.23 0M247.8 227.8a0.81 0.81 0 1 0 1.63 0a0.81 0.81 0 1 0 -1.63 0M298.8 221.5a0.78 0.78 0 1 0 1.57 0a0.78 0.78 0 1 0 -1.57 0M261.1 265.0a0.53 0.53 0 1 0 1.05 0a0.53 0.53 0 1 0 -1.05 0M235.9 295.3a0.81 0.81 0 1 0 1.62 0a0.81 0.81 0 1 0 -1.62 0M225.4 265.1a0.55 0.55 0 1 0 1.11 0a0.55 0.55 0 1 0 -1.11 0M198.0 211.6a0.57 0.57 0 1 0 1.14 0a0.57 0.57 0 1 0 -1.14 0M272.1 238.9a0.85 0.85 0 1 0 1.70 0a0.85 0.85 0 1 0 -1.70 0M237.8 196.5a0.69 0.69 0 1 0 1.38 0a0.69 0.69 0 1 0 -1.38 0M241.5 282.4a0.78 0.78 0 1 0 1.57 0a0.78 0.78 0 1 0 -1.57 0M223.5 253.2a0.67 0.67 0 1 0 1.34 0a0.67 0.67 0 1 0 -1.34 0M316.7 278.6a0.53 0.53 0 1 0 1.06 0a0.53 0.53 0 1 0 -1.06 0M246.3 210.2a0.56 0.56 0 1 0 1.12 0a0.56 0.56 0 1 0 -1.12 0M204.1 263.4a0.64 0.64 0 1 0 1.27 0a0.64 0.64 0 1 0 -1.27 0M223.6 235.6a0.63 0.63 0 1 0 1.25 0a0.63 0.63 0 1 0 -1.25 0M215.9 253.0a0.85 0.85 0 1 0 1.70 0a0.85 0.85 0 1 0 -1.70 0M191.9 299.7a0.56 0.56 0 1 0 1.13 0a0.56 0.56 0 1 0 -1.13 0M270.5 284.9a0.80 0.80 0 1 0 1.61 0a0.80 0.80 0 1 0 -1.61 0M325.2 265.1a0.70 0.70 0 1 0 1.40 0a0.70 0.70 0 1 0 -1.40 0M245.9 296.8a0.51 0.51 0 1 0 1.02 0a0.51 0.51 0 1 0 -1.02 0M257.0 293.2a0.76 0.76 0 1 0 1.52 0a0.76 0.76 0 1 0 -1.52 0M300.7 240.2a0.82 0.82 0 1 0 1.64 0a0.82 0.82 0 1 0 -1.64 0M185.7 286.6a0.61 0.61 0 1 0 1.23 0a0.61 0.61 0 1 0 -1.23 0M261.9 266.3a0.72 0.72 0 1 0 1.44 0a0.72 0.72 0 1 0 -1.44 0M228.2 257.9a0.67 0.67 0 1 0 1.33 0a0.67 0.67 0 1 0 -1.33 0M214.3 241.3a0.54 0.54 0 1 0 1.09 0a0.54 0.54 0 1 0 -1.09 0M320.8 229.7a0.70 0.70 0 1 0 1.39 0a0.70 0.70 0 1 0 -1.39 0M194.4 197.1a0.82 0.82 0 1 0 1.65 0a0.82 0.82 0 1 0 -1.65 0M257.5 292.6a0.56 0.56 0 1 0 1.11 0a0.56 0.56 0 1 0 -1.11 0M235.3 300.3a0.72 0.72 0 1 0 1.44 0a0.72 0.72 0 1 0 -1.44 0M208.4 217.2a0.65 0.65 0 1 0 1.30 0a0.65 0.65 0 1 0 -1.30 0M327.5 225.8a0.72 0.72 0 1 0 1.44 0a0.72 0.72 0 1 0 -1.44 0M254.4 267.1a0.61 0.61 0 1 0 1.22 0a0.61 0.61 0 1 0 -1.22 0M296.8 283.8a0.84 0.84 0 1 0 1.68 0a0.84 0.84 0 1 0 -1.68 0M292.6 226.1a0.75 0.75 0 1 0 1.49 0a0.75 0.75 0 1 0 -1.49 0M243.0 253.3a0.73 0.73 0 1 0 1.45 0a0.73 0.73 0 1 0 -1.45 0M191.4 235.3a0.50 0.50 0 1 0 1.01 0a0.50 0.50 0 1 0 -1.01 0M269.0 207.2a0.83 0.83 0 1 0 1.66 0a0.83 0.83 0 1 0 -1.66 0M312.5 259.6a0.51 0.51 0 1 0 1.02 0a0.51 0.51 0 1 0 -1.02 0M279.3 237.3a0.55 0.55 0 1 0 1.10 0a0.55 0.55 0 1 0 -1.10 0M214.4 298.5a0.74 0.74 0 1 0 1.48 0a0.74 0.74 0 1 0 -1.48 0M241.9 272.5a0.79 0.79 0 1 0 1.57 0a0.79 0.79 0 1 0 -1.57 0M307.5 221.0a0.61 0.61 0 1 0 1.21 0a0.61 0.61 0 1 0 -1.21 0M316.9 221.3a0.61 0.61 0 1 0 1.23 0a0.61 0.61 0 1 0 -1.23 0M213.0 197.6a0.69 0.69 0 1 0 1.39 0a0.69 0.69 0 1 0 -1.39 0M268.2 264.3a0.74 0.74 0 1 0 1.48 0a0.74 0.74 0 1 0 -1.48 0M286.0 217.4a0.70 0.70 0 1 0 1.40 0a0.70 0.70 0 1 0 -1.40 0M293.9 297.4a0.52 0.52 0 1 0 1.04 0a0.52 0.52 0 1 0 -1.04 0M301.0 240.3a0.83 0.83 0 1 0 1.67 0a0.83 0.83 0 1 0 -1.67 0M319.1 256.4a0.59 0.59 0 1 0 1.18 0a0.59 0.59 0 1 0 -1.18 0M227.4 283.1a0.55 0.55 0 1 0 1.10 0a0.55 0.55 0 1 0 -1.10 0M324.9 241.2a0.57 0.57 0 1 0 1.14 0a0.57 0.57 0 1 0 -1.14 0M321.6 262.5a0.75 0.75 0 1 0 1.51 0a0.75 0.75 0 1 0 -1.51 0M304.9 228.1a0.75 0.75 0 1 0 1.50 0a0.75 0.75 0 1 0 -1.50 0M309.8 282.6a0.64 0.64 0 1 0 1.27 0a0.64 0.64 0 1 0 -1.27 0M212.6 238.9a0.63 0.63 0 1 0 1.25 0a0.63 0.63 0 1 0 -1.25 0M290.5 252.9a0.57 0.57 0 1 0 1.14 0a0.57 0.57 0 1 0 -1.14 0M214.9 263.9a0.84 0.84 0 1 0 1.69 0a0.84 0.84 0 1 0 -1.69 0M243.7 213.7a0.62 0.62 0 1 0 1.24 0a0.62 0.62 0 1 0 -1.24 0M327.8 280.2a0.56 0.56 0 1 0 1.13 0a0.56 0.56 0 1 0 -1.13 0M240.3 218.6a0.78 0.78 0 1 0 1.56 0a0.78 0.78 0 1 0 -1.56 0M218.1 225.8a0.57 0.57 0 1 0 1.14 0a0.57 0.57 0 1 0 -1.14 0M250.4 287.3a0.58 0.58 0 1 0 1.17 0a0.58 0.58 0 1 0 -1.17 0M209.4 231.7a0.63 0.63 0 1 0 1.26 0a0.63 0.63 0 1 0 -1.26 0M222.9 287.6a0.57 0.57 0 1 0 1.15 0a0.57 0.57 0 1 0 -1.15 0M215.5 249.6a0.75 0.75 0 1 0 1.49 0a0.75 0.75 0 1 0 -1.49 0M273.1 213.0a0.77 0.77 0 1 0 1.54 0a0.77 0.77 0 1 0 -1.54 0M195.5 297.1a0.56 0.56 0 1 0 1.11 0a0.56 0.56 0 1 0 -1.11 0M243.3 214.4a0.50 0.50 0 1 0 1.00 0a0.50 0.50 0 1 0 -1.00 0M285.2 286.2a0.69 0.69 0 1 0 1.37 0a0.69 0.69 0 1 0 -1.37 0M321.0 235.4a0.61 0.61 0 1 0 1.23 0a0.61 0.61 0 1 0 -1.23 0M209.3 275.4a0.73 0.73 0 1 0 1.45 0a0.73 0.73 0 1 0 -1.45 0M215.6 297.0a0.61 0.61 0 1 0 1.21 0a0.61 0.61 0 1 0 -1.21 0M200.9 281.0a0.72 0.72 0 1 0 1.44 0a0.72 0.72 0 1 0 -1.44 0M219.9 276.4a0.74 0.74 0 1 0 1.47 0a0.74 0.74 0 1 0 -1.47 0M267.2 270.4a0.68 0.68 0 1 0 1.36 0a0.68 0.68 0 1 0 -1.36 0M194.5 227.0a0.71 0.71 0 1 0 1.42 0a0.71 0.71 0 1 0 -1.42 0M278.2 266.9a0.59 0.59 0 1 0 1.18 0a0.59 0.59 0 1 0 -1.18 0M286.6 283.2a0.60 0.60 0 1 0 1.21 0a0.60 0.60 0 1 0 -1.21 0M281.1 293.6a0.50 0.50 0 1 0 1.01 0a0.50 0.50 0 1 0 -1.01 0M274.1 256.1a0.61 0.61 0 1 0 1.22 0a0.61 0.61 0 1 0 -1.22 0M258.4 251.4a0.78 0.78 0 1 0 1.57 0a0.78 0.78 0 1 0 -1.57 0M281.7 249.7a0.63 0.63 0 1 0 1.25 0a0.63 0.63 0 1 0 -1.25 0M325.1 235.8a0.50 0.50 0 1 0 1.00 0a0.50 0.50 0 1 0 -1.00 0M318.1 246.9a0.74 0.74 0 1 0 1.48 0a0.74 0.74 0 1 0 -1.48 0M228.9 295.7a0.63 0.63 0 1 0 1.27 0a0.63 0.63 0 1 0 -1.27 0M298.3 246.6a0.65 0.65 0 1 0 1.30 0a0.65 0.65 0 1 0 -1.30 0M303.4 288.8a0.52 0.52 0 1 0 1.05 0a0.52 0.52 0 1 0 -1.05 0" fill="#903c30" opacity="0.8"/>
<path d="M311.6 280.9a0.62 0.62 0 1 0 1.24 0a0.62 0.62 0 1 0 -1.24 0M258.2 205.8a0.54 0.54 0 1 0 1.07 0a0.54 0.54 0 1 0 -1.07 0M292.7 219.2a0.64 0.64 0 1 0 1.27 0a0.64 0.64 0 1 0 -1.27 0M270.0 210.1a0.62 0.62 0 1 0 1.25 0a0.62 0.62 0 1 0 -1.25 0M235.2 222.3a0.65 0.65 0 1 0 1.30 0a0.65 0.65 0 1 0 -1.30 0M222.5 289.8a0.50 0.50 0 1 0 1.00 0a0.50 0.50 0 1 0 -1.00 0M197.3 250.1a0.67 0.67 0 1 0 1.33 0a0.67 0.67 0 1 0 -1.33 0M194.8 233.4a0.67 0.67 0 1 0 1.33 0a0.67 0.67 0 1 0 -1.33 0M302.3 264.0a0.76 0.76 0 1 0 1.52 0a0.76 0.76 0 1 0 -1.52 0M314.5 278.8a0.76 0.76 0 1 0 1.52 0a0.76 0.76 0 1 0 -1.52 0" fill="#9cc230" opacity="0.75"/>
<path d="M328.1 207.8a0.70 0.70 0 1 0 1.40 0a0.70 0.70 0 1 0 -1.40 0M239.3 246.4a0.60 0.60 0 1 0 1.21 0a0.60 0.60 0 1 0 -1.21 0M285.6 271.7a0.73 0.73 0 1 0 1.46 0a0.73 0.73 0 1 0 -1.46 0M210.6 258.0a0.53 0.53 0 1 0 1.06 0a0.53 0.53 0 1 0 -1.06 0M218.5 209.2a0.73 0.73 0 1 0 1.45 0a0.73 0.73 0 1 0 -1.45 0M221.2 265.3a0.78 0.78 0 1 0 1.55 0a0.78 0.78 0 1 0 -1.55 0M222.3 287.4a0.84 0.84 0 1 0 1.68 0a0.84 0.84 0 1 0 -1.68 0" fill="#a8b83a" opacity="0.75"/>
<path d="M293.8 202.4a0.63 0.63 0 1 0 1.25 0a0.63 0.63 0 1 0 -1.25 0M196.3 299.3a0.51 0.51 0 1 0 1.02 0a0.51 0.51 0 1 0 -1.02 0M206.4 299.8a0.53 0.53 0 1 0 1.07 0a0.53 0.53 0 1 0 -1.07 0M260.3 196.8a0.51 0.51 0 1 0 1.02 0a0.51 0.51 0 1 0 -1.02 0M198.6 229.3a0.79 0.79 0 1 0 1.59 0a0.79 0.79 0 1 0 -1.59 0M270.2 255.5a0.74 0.74 0 1 0 1.49 0a0.74 0.74 0 1 0 -1.49 0M200.2 254.7a0.83 0.83 0 1 0 1.66 0a0.83 0.83 0 1 0 -1.66 0M253.8 251.7a0.56 0.56 0 1 0 1.12 0a0.56 0.56 0 1 0 -1.12 0M234.7 294.0a0.69 0.69 0 1 0 1.37 0a0.69 0.69 0 1 0 -1.37 0M190.0 298.8a0.70 0.70 0 1 0 1.39 0a0.70 0.70 0 1 0 -1.39 0M272.3 232.6a0.63 0.63 0 1 0 1.26 0a0.63 0.63 0 1 0 -1.26 0M254.8 290.3a0.69 0.69 0 1 0 1.38 0a0.69 0.69 0 1 0 -1.38 0M316.3 204.6a0.61 0.61 0 1 0 1.21 0a0.61 0.61 0 1 0 -1.21 0M280.7 206.2a0.84 0.84 0 1 0 1.68 0a0.84 0.84 0 1 0 -1.68 0M308.2 247.5a0.52 0.52 0 1 0 1.05 0a0.52 0.52 0 1 0 -1.05 0M204.3 250.5a0.52 0.52 0 1 0 1.04 0a0.52 0.52 0 1 0 -1.04 0M274.4 276.4a0.75 0.75 0 1 0 1.49 0a0.75 0.75 0 1 0 -1.49 0M261.6 285.1a0.53 0.53 0 1 0 1.07 0a0.53 0.53 0 1 0 -1.07 0M267.9 272.4a0.76 0.76 0 1 0 1.51 0a0.76 0.76 0 1 0 -1.51 0M261.7 262.7a0.73 0.73 0 1 0 1.45 0a0.73 0.73 0 1 0 -1.45 0M235.3 233.0a0.82 0.82 0 1 0 1.65 0a0.82 0.82 0 1 0 -1.65 0M300.3 293.0a0.68 0.68 0 1 0 1.36 0a0.68 0.68 0 1 0 -1.36 0M298.0 292.8a0.64 0.64 0 1 0 1.28 0a0.64 0.64 0 1 0 -1.28 0M318.4 294.8a0.58 0.58 0 1 0 1.17 0a0.58 0.58 0 1 0 -1.17 0M292.4 299.1a0.79 0.79 0 1 0 1.57 0a0.79 0.79 0 1 0 -1.57 0M207.0 227.4a0.83 0.83 0 1 0 1.66 0a0.83 0.83 0 1 0 -1.66 0M280.7 239.5a0.51 0.51 0 1 0 1.03 0a0.51 0.51 0 1 0 -1.03 0M186.8 199.6a0.67 0.67 0 1 0 1.35 0a0.67 0.67 0 1 0 -1.35 0M185.4 240.1a0.73 0.73 0 1 0 1.46 0a0.73 0.73 0 1 0 -1.46 0M223.7 262.9a0.51 0.51 0 1 0 1.02 0a0.51 0.51 0 1 0 -1.02 0M317.6 288.8a0.74 0.74 0 1 0 1.49 0a0.74 0.74 0 1 0 -1.49 0M277.4 288.0a0.55 0.55 0 1 0 1.11 0a0.55 0.55 0 1 0 -1.11 0M193.2 263.8a0.84 0.84 0 1 0 1.67 0a0.84 0.84 0 1 0 -1.67 0M266.8 280.3a0.58 0.58 0 1 0 1.16 0a0.58 0.58 0 1 0 -1.16 0M310.6 268.3a0.57 0.57 0 1 0 1.15 0a0.57 0.57 0 1 0 -1.15 0M327.4 265.9a0.77 0.77 0 1 0 1.53 0a0.77 0.77 0 1 0 -1.53 0M245.0 270.7a0.79 0.79 0 1 0 1.58 0a0.79 0.79 0 1 0 -1.58 0M324.7 244.3a0.74 0.74 0 1 0 1.47 0a0.74 0.74 0 1 0 -1.47 0M324.8 278.6a0.52 0.52 0 1 0 1.04 0a0.52 0.52 0 1 0 -1.04 0M283.4 231.9a0.79 0.79 0 1 0 1.59 0a0.79 0.79 0 1 0 -1.59 0M288.1 287.7a0.77 0.77 0 1 0 1.54 0a0.77 0.77 0 1 0 -1.54 0M206.6 228.2a0.54 0.54 0 1 0 1.08 0a0.54 0.54 0 1 0 -1.08 0M213.7 210.5a0.78 0.78 0 1 0 1.55 0a0.78 0.78 0 1 0 -1.55 0M236.2 271.0a0.57 0.57 0 1 0 1.15 0a0.57 0.57 0 1 0 -1.15 0M247.3 223.0a0.59 0.59 0 1 0 1.18 0a0.59 0.59 0 1 0 -1.18 0M289.7 285.7a0.50 0.50 0 1 0 1.01 0a0.50 0.50 0 1 0 -1.01 0M298.0 297.4a0.77 0.77 0 1 0 1.53 0a0.77 0.77 0 1 0 -1.53 0M245.5 251.8a0.51 0.51 0 1 0 1.02 0a0.51 0.51 0 1 0 -1.02 0M208.9 294.5a0.82 0.82 0 1 0 1.64 0a0.82 0.82 0 1 0 -1.64 0M313.7 226.4a0.82 0.82 0 1 0 1.64 0a0.82 0.82 0 1 0 -1.64 0M231.9 204.1a0.81 0.81 0 1 0 1.63 0a0.81 0.81 0 1 0 -1.63 0M215.9 303.6a0.57 0.57 0 1 0 1.14 0a0.57 0.57 0 1 0 -1.14 0M310.5 283.6a0.64 0.64 0 1 0 1.29 0a0.64 0.64 0 1 0 -1.29 0M311.3 285.4a0.56 0.56 0 1 0 1.12 0a0.56 0.56 0 1 0 -1.12 0M268.1 199.7a0.74 0.74 0 1 0 1.48 0a0.74 0.74 0 1 0 -1.48 0M196.2 243.0a0.69 0.69 0 1 0 1.39 0a0.69 0.69 0 1 0 -1.39 0M244.4 222.7a0.72 0.72 0 1 0 1.44 0a0.72 0.72 0 1 0 -1.44 0M236.0 241.7a0.76 0.76 0 1 0 1.52 0a0.76 0.76 0 1 0 -1.52 0M246.3 250.9a0.71 0.71 0 1 0 1.42 0a0.71 0.71 0 1 0 -1.42 0M323.4 268.9a0.65 0.65 0 1 0 1.29 0a0.65 0.65 0 1 0 -1.29 0M273.4 216.9a0.76 0.76 0 1 0 1.52 0a0.76 0.76 0 1 0 -1.52 0M205.7 279.4a0.60 0.60 0 1 0 1.21 0a0.60 0.60 0 1 0 -1.21 0M218.3 275.9a0.80 0.80 0 1 0 1.60 0a0.80 0.80 0 1 0 -1.60 0M261.1 240.0a0.75 0.75 0 1 0 1.49 0a0.75 0.75 0 1 0 -1.49 0M226.8 295.7a0.79 0.79 0 1 0 1.59 0a0.79 0.79 0 1 0 -1.59 0M276.8 287.3a0.84 0.84 0 1 0 1.68 0a0.84 0.84 0 1 0 -1.68 0M185.2 291.1a0.60 0.60 0 1 0 1.20 0a0.60 0.60 0 1 0 -1.20 0M302.6 274.7a0.55 0.55 0 1 0 1.10 0a0.55 0.55 0 1 0 -1.10 0M212.0 289.0a0.69 0.69 0 1 0 1.38 0a0.69 0.69 0 1 0 -1.38 0M196.1 259.8a0.52 0.52 0 1 0 1.03 0a0.52 0.52 0 1 0 -1.03 0M202.7 259.2a0.66 0.66 0 1 0 1.32 0a0.66 0.66 0 1 0 -1.32 0M197.3 198.5a0.75 0.75 0 1 0 1.51 0a0.75 0.75 0 1 0 -1.51 0M253.8 215.1a0.65 0.65 0 1 0 1.30 0a0.65 0.65 0 1 0 -1.30 0M320.0 234.3a0.68 0.68 0 1 0 1.37 0a0.68 0.68 0 1 0 -1.37 0M280.3 303.4a0.64 0.64 0 1 0 1.28 0a0.64 0.64 0 1 0 -1.28 0M297.5 242.7a0.82 0.82 0 1 0 1.65 0a0.82 0.82 0 1 0 -1.65 0M191.0 271.6a0.60 0.60 0 1 0 1.21 0a0.60 0.60 0 1 0 -1.21 0M304.5 254.4a0.57 0.57 0 1 0 1.13 0a0.57 0.57 0 1 0 -1.13 0M184.6 281.5a0.65 0.65 0 1 0 1.30 0a0.65 0.65 0 1 0 -1.30 0M323.9 240.4a0.59 0.59 0 1 0 1.18 0a0.59 0.59 0 1 0 -1.18 0M202.4 214.5a0.73 0.73 0 1 0 1.47 0a0.73 0.73 0 1 0 -1.47 0M220.8 303.0a0.62 0.62 0 1 0 1.25 0a0.62 0.62 0 1 0 -1.25 0M221.3 282.4a0.84 0.84 0 1 0 1.67 0a0.84 0.84 0 1 0 -1.67 0M302.4 263.6a0.80 0.80 0 1 0 1.61 0a0.80 0.80 0 1 0 -1.61 0M262.1 274.1a0.71 0.71 0 1 0 1.42 0a0.71 0.71 0 1 0 -1.42 0M249.9 204.4a0.62 0.62 0 1 0 1.24 0a0.62 0.62 0 1 0 -1.24 0M196.5 204.9a0.54 0.54 0 1 0 1.07 0a0.54 0.54 0 1 0 -1.07 0M195.2 200.2a0.52 0.52 0 1 0 1.05 0a0.52 0.52 0 1 0 -1.05 0M192.1 243.4a0.66 0.66 0 1 0 1.31 0a0.66 0.66 0 1 0 -1.31 0M297.7 228.7a0.64 0.64 0 1 0 1.28 0a0.64 0.64 0 1 0 -1.28 0M266.8 280.0a0.58 0.58 0 1 0 1.16 0a0.58 0.58 0 1 0 -1.16 0M257.1 256.6a0.55 0.55 0 1 0 1.11 0a0.55 0.55 0 1 0 -1.11 0" fill="#a8432e" opacity="0.8"/>
<path d="M267.9 249.1a0.71 0.71 0 1 0 1.43 0a0.71 0.71 0 1 0 -1.43 0M274.3 286.2a0.75 0.75 0 1 0 1.50 0a0.75 0.75 0 1 0 -1.50 0M220.7 268.5a0.58 0.58 0 1 0 1.15 0a0.58 0.58 0 1 0 -1.15 0M313.9 256.0a0.65 0.65 0 1 0 1.31 0a0.65 0.65 0 1 0 -1.31 0M273.5 239.5a0.82 0.82 0 1 0 1.64 0a0.82 0.82 0 1 0 -1.64 0M220.5 224.9a0.73 0.73 0 1 0 1.46 0a0.73 0.73 0 1 0 -1.46 0M191.1 298.9a0.72 0.72 0 1 0 1.44 0a0.72 0.72 0 1 0 -1.44 0" fill="#b4c030" opacity="0.75"/>
<path d="M249.8 240.7a0.68 0.68 0 1 0 1.37 0a0.68 0.68 0 1 0 -1.37 0M282.2 215.3a0.82 0.82 0 1 0 1.63 0a0.82 0.82 0 1 0 -1.63 0M185.5 286.2a0.59 0.59 0 1 0 1.18 0a0.59 0.59 0 1 0 -1.18 0M255.0 223.3a0.60 0.60 0 1 0 1.19 0a0.60 0.60 0 1 0 -1.19 0M243.3 302.7a0.72 0.72 0 1 0 1.44 0a0.72 0.72 0 1 0 -1.44 0M278.5 212.2a0.63 0.63 0 1 0 1.26 0a0.63 0.63 0 1 0 -1.26 0M309.8 288.7a0.59 0.59 0 1 0 1.18 0a0.59 0.59 0 1 0 -1.18 0" fill="#86c03a" opacity="0.75"/>
<path d="M314.6 273.6a0.69 0.69 0 1 0 1.38 0a0.69 0.69 0 1 0 -1.38 0M292.3 245.0a0.77 0.77 0 1 0 1.53 0a0.77 0.77 0 1 0 -1.53 0M238.2 266.0a0.69 0.69 0 1 0 1.38 0a0.69 0.69 0 1 0 -1.38 0M287.7 265.0a0.59 0.59 0 1 0 1.19 0a0.59 0.59 0 1 0 -1.19 0M303.7 298.6a0.85 0.85 0 1 0 1.69 0a0.85 0.85 0 1 0 -1.69 0M311.6 303.1a0.72 0.72 0 1 0 1.43 0a0.72 0.72 0 1 0 -1.43 0M276.7 263.4a0.72 0.72 0 1 0 1.44 0a0.72 0.72 0 1 0 -1.44 0M208.5 209.0a0.54 0.54 0 1 0 1.08 0a0.54 0.54 0 1 0 -1.08 0" fill="#70bc38" opacity="0.75"/>
<path d="M321.1 295.7h1v1h-1zM247.3 301.8h1v1h-1zM300.7 270.2h1v1h-1zM262.0 273.6h1v1h-1zM268.1 281.7h1v1h-1zM218.8 241.9h1v1h-1zM223.2 196.1h1v1h-1zM286.9 261.9h1v1h-1zM219.2 284.2h1v1h-1zM290.0 278.9h1v1h-1zM269.4 229.0h1v1h-1zM279.9 223.8h1v1h-1zM261.9 284.3h1v1h-1zM258.4 289.6h1v1h-1zM304.0 246.1h1v1h-1zM241.3 226.0h1v1h-1zM252.1 205.3h1v1h-1zM304.9 222.6h1v1h-1zM195.5 210.9h1v1h-1zM235.1 232.0h1v1h-1zM274.2 232.6h1v1h-1zM216.0 247.6h1v1h-1zM258.1 251.7h1v1h-1zM239.8 255.3h1v1h-1zM327.1 234.9h1v1h-1zM286.5 242.8h1v1h-1zM287.8 239.0h1v1h-1zM300.7 303.5h1v1h-1zM287.4 276.9h1v1h-1zM191.9 270.4h1v1h-1zM285.0 213.2h1v1h-1zM296.2 285.1h1v1h-1zM317.6 240.8h1v1h-1zM210.8 217.9h1v1h-1zM186.4 250.5h1v1h-1zM326.5 236.2h1v1h-1zM260.4 210.2h1v1h-1zM296.0 234.5h1v1h-1zM225.9 284.3h1v1h-1zM285.4 258.3h1v1h-1zM288.2 210.7h1v1h-1zM287.4 258.2h1v1h-1zM274.8 231.2h1v1h-1zM249.9 206.1h1v1h-1zM250.9 247.5h1v1h-1zM266.3 249.4h1v1h-1zM273.2 255.5h1v1h-1zM329.0 213.3h1v1h-1zM278.4 276.8h1v1h-1zM298.3 214.7h1v1h-1zM221.9 272.5h1v1h-1zM275.3 231.1h1v1h-1zM302.9 244.1h1v1h-1zM222.2 246.8h1v1h-1zM215.5 276.9h1v1h-1zM324.7 274.4h1v1h-1zM268.1 206.5h1v1h-1zM321.8 290.6h1v1h-1zM304.8 274.8h1v1h-1zM195.9 230.4h1v1h-1zM255.0 261.3h1v1h-1zM215.1 291.9h1v1h-1zM255.9 274.6h1v1h-1zM312.8 223.7h1v1h-1zM212.6 259.0h1v1h-1zM202.0 199.1h1v1h-1zM189.6 280.8h1v1h-1zM306.5 237.7h1v1h-1zM252.4 258.0h1v1h-1zM229.2 232.6h1v1h-1zM240.5 224.3h1v1h-1zM285.8 256.2h1v1h-1zM200.7 206.7h1v1h-1zM292.6 248.4h1v1h-1zM309.0 274.0h1v1h-1zM269.4 223.7h1v1h-1zM273.0 246.8h1v1h-1zM293.0 223.7h1v1h-1zM327.6 298.9h1v1h-1zM326.8 237.8h1v1h-1zM212.6 244.5h1v1h-1zM295.6 266.9h1v1h-1zM186.4 220.3h1v1h-1zM323.9 253.9h1v1h-1zM194.5 258.0h1v1h-1zM297.1 294.6h1v1h-1zM201.3 273.1h1v1h-1zM200.4 265.4h1v1h-1zM263.1 198.3h1v1h-1zM209.8 241.4h1v1h-1zM287.1 303.1h1v1h-1zM224.7 226.0h1v1h-1zM284.4 245.4h1v1h-1zM271.0 288.4h1v1h-1zM293.5 242.6h1v1h-1zM237.2 271.0h1v1h-1zM271.7 268.1h1v1h-1zM255.0 275.3h1v1h-1zM218.5 283.9h1v1h-1zM242.9 241.7h1v1h-1zM191.7 286.0h1v1h-1zM266.5 264.9h1v1h-1zM232.2 202.7h1v1h-1zM262.0 251.5h1v1h-1zM212.5 284.6h1v1h-1zM189.3 288.9h1v1h-1zM316.9 207.0h1v1h-1zM322.3 297.9h1v1h-1zM235.7 243.1h1v1h-1zM302.8 202.6h1v1h-1zM302.8 197.3h1v1h-1zM275.4 201.0h1v1h-1zM250.2 272.9h1v1h-1zM262.4 235.3h1v1h-1zM222.8 206.1h1v1h-1zM225.9 219.1h1v1h-1zM218.6 208.5h1v1h-1zM212.6 240.1h1v1h-1zM199.1 274.6h1v1h-1zM227.1 280.3h1v1h-1zM266.0 274.0h1v1h-1zM291.1 234.8h1v1h-1zM283.2 200.1h1v1h-1zM307.7 274.1h1v1h-1zM318.5 233.7h1v1h-1zM208.0 275.4h1v1h-1zM210.6 291.1h1v1h-1zM232.5 289.4h1v1h-1zM195.3 227.4h1v1h-1zM301.4 204.2h1v1h-1zM290.0 238.7h1v1h-1zM266.2 215.2h1v1h-1zM219.7 291.2h1v1h-1zM289.3 208.4h1v1h-1zM196.4 207.7h1v1h-1zM213.0 226.7h1v1h-1zM260.7 229.8h1v1h-1zM321.1 204.6h1v1h-1zM256.8 264.1h1v1h-1zM299.1 247.7h1v1h-1zM275.8 212.5h1v1h-1zM225.8 289.0h1v1h-1zM187.9 254.8h1v1h-1zM317.6 296.1h1v1h-1zM212.2 304.1h1v1h-1zM252.2 210.1h1v1h-1zM302.3 253.8h1v1h-1zM327.3 209.5h1v1h-1zM306.7 230.0h1v1h-1zM190.1 213.3h1v1h-1zM296.9 295.1h1v1h-1zM290.2 267.4h1v1h-1zM246.3 229.1h1v1h-1zM239.3 203.9h1v1h-1zM204.8 222.5h1v1h-1zM316.9 294.8h1v1h-1zM225.1 299.2h1v1h-1zM205.5 267.6h1v1h-1zM200.7 258.4h1v1h-1zM327.2 275.9h1v1h-1zM283.6 267.6h1v1h-1zM305.1 249.7h1v1h-1zM313.7 274.5h1v1h-1zM288.0 221.7h1v1h-1zM299.0 299.3h1v1h-1zM193.4 244.3h1v1h-1zM284.8 283.7h1v1h-1zM301.8 230.4h1v1h-1zM252.7 276.9h1v1h-1zM325.4 208.9h1v1h-1zM186.8 289.0h1v1h-1zM189.7 205.2h1v1h-1zM237.4 197.1h1v1h-1zM317.9 198.9h1v1h-1zM195.3 250.2h1v1h-1zM241.5 277.4h1v1h-1zM309.8 198.2h1v1h-1zM321.0 203.4h1v1h-1zM238.2 222.4h1v1h-1zM209.3 204.6h1v1h-1zM300.8 231.1h1v1h-1zM234.3 292.7h1v1h-1zM241.1 212.2h1v1h-1zM204.5 235.0h1v1h-1zM193.3 267.9h1v1h-1zM237.8 269.7h1v1h-1zM248.3 202.4h1v1h-1zM328.4 277.3h1v1h-1zM269.3 211.1h1v1h-1zM278.3 253.7h1v1h-1zM287.5 202.5h1v1h-1zM281.2 299.1h1v1h-1zM301.2 267.7h1v1h-1zM212.8 264.3h1v1h-1zM283.5 222.7h1v1h-1zM315.6 226.9h1v1h-1zM193.8 247.3h1v1h-1zM316.0 272.2h1v1h-1zM222.2 239.3h1v1h-1zM313.8 297.7h1v1h-1zM249.7 248.8h1v1h-1zM224.4 269.2h1v1h-1zM313.6 232.7h1v1h-1zM303.8 250.1h1v1h-1zM284.8 275.1h1v1h-1zM276.5 214.9h1v1h-1zM324.6 201.1h1v1h-1zM214.8 208.1h1v1h-1zM282.2 245.7h1v1h-1zM326.2 214.5h1v1h-1zM197.2 197.2h1v1h-1zM229.2 284.2h1v1h-1zM236.5 252.3h1v1h-1zM227.0 226.7h1v1h-1zM290.4 196.1h1v1h-1zM265.2 298.2h1v1h-1zM230.1 249.1h1v1h-1zM278.0 227.5h1v1h-1zM212.5 288.1h1v1h-1zM184.9 221.1h1v1h-1zM253.7 203.0h1v1h-1zM190.7 290.5h1v1h-1zM301.1 253.1h1v1h-1zM322.9 285.4h1v1h-1zM291.1 235.8h1v1h-1zM290.4 233.4h1v1h-1zM234.9 216.6h1v1h-1zM184.6 282.4h1v1h-1zM297.0 287.3h1v1h-1zM244.8 272.1h1v1h-1zM271.4 225.4h1v1h-1zM249.6 207.9h1v1h-1zM303.6 272.8h1v1h-1zM190.7 272.4h1v1h-1zM287.0 202.2h1v1h-1zM327.2 303.5h1v1h-1zM255.2 236.2h1v1h-1zM185.1 279.0h1v1h-1zM289.9 219.1h1v1h-1zM194.3 239.8h1v1h-1zM299.9 230.9h1v1h-1zM270.7 270.5h1v1h-1zM210.9 258.9h1v1h-1zM205.7 283.0h1v1h-1zM253.7 293.4h1v1h-1zM247.3 239.5h1v1h-1zM248.5 243.9h1v1h-1zM298.0 228.6h1v1h-1zM186.7 266.4h1v1h-1zM206.4 212.5h1v1h-1zM234.0 247.3h1v1h-1zM218.2 294.9h1v1h-1zM229.0 295.2h1v1h-1zM225.0 197.5h1v1h-1zM306.1 239.4h1v1h-1zM189.4 263.2h1v1h-1zM298.2 239.6h1v1h-1zM283.7 303.7h1v1h-1zM224.3 263.3h1v1h-1zM327.8 227.7h1v1h-1zM305.5 206.2h1v1h-1zM282.4 253.9h1v1h-1zM292.9 252.4h1v1h-1zM287.2 207.4h1v1h-1zM309.9 253.4h1v1h-1zM284.4 278.5h1v1h-1zM257.5 289.8h1v1h-1zM288.9 223.6h1v1h-1zM197.6 274.7h1v1h-1zM315.1 232.4h1v1h-1zM231.0 269.4h1v1h-1zM322.3 262.8h1v1h-1zM195.9 250.1h1v1h-1zM254.7 217.8h1v1h-1zM277.6 257.5h1v1h-1zM245.3 262.1h1v1h-1zM201.5 294.7h1v1h-1zM235.2 232.5h1v1h-1zM312.7 259.0h1v1h-1zM327.9 281.4h1v1h-1zM292.5 300.6h1v1h-1zM285.3 202.8h1v1h-1zM265.3 248.2h1v1h-1zM261.8 302.2h1v1h-1zM326.8 274.1h1v1h-1zM304.2 196.4h1v1h-1zM249.6 246.6h1v1h-1zM219.0 296.0h1v1h-1zM188.5 287.1h1v1h-1zM328.1 232.7h1v1h-1zM188.4 243.0h1v1h-1zM199.3 299.2h1v1h-1zM260.2 216.5h1v1h-1zM288.1 251.9h1v1h-1zM264.8 219.1h1v1h-1zM324.5 291.1h1v1h-1zM313.1 285.6h1v1h-1zM320.6 221.3h1v1h-1zM296.9 239.6h1v1h-1zM214.2 273.4h1v1h-1zM258.4 223.3h1v1h-1zM260.3 239.8h1v1h-1zM268.8 278.8h1v1h-1zM295.5 226.6h1v1h-1zM236.5 220.6h1v1h-1zM322.6 302.5h1v1h-1zM217.8 235.8h1v1h-1zM259.6 208.3h1v1h-1zM277.4 266.9h1v1h-1zM215.2 227.7h1v1h-1zM282.3 298.3h1v1h-1zM202.5 274.4h1v1h-1zM310.3 276.4h1v1h-1zM328.3 223.6h1v1h-1zM212.1 301.0h1v1h-1zM250.8 270.4h1v1h-1zM261.6 258.8h1v1h-1zM187.8 203.2h1v1h-1zM197.1 289.8h1v1h-1zM195.4 236.4h1v1h-1zM203.6 265.0h1v1h-1zM281.3 282.9h1v1h-1zM291.9 279.3h1v1h-1zM212.2 244.6h1v1h-1zM324.9 243.1h1v1h-1zM304.2 255.3h1v1h-1zM230.0 296.0h1v1h-1zM193.0 265.8h1v1h-1zM295.0 286.0h1v1h-1zM193.2 262.6h1v1h-1zM229.8 267.9h1v1h-1zM191.4 246.9h1v1h-1zM255.4 225.4h1v1h-1zM225.2 275.9h1v1h-1zM267.5 237.9h1v1h-1zM250.4 263.7h1v1h-1zM271.4 269.8h1v1h-1zM320.0 302.0h1v1h-1zM204.4 248.2h1v1h-1zM267.4 209.6h1v1h-1zM222.9 215.2h1v1h-1zM242.1 232.3h1v1h-1zM196.1 272.1h1v1h-1zM293.6 220.6h1v1h-1zM207.8 230.9h1v1h-1zM290.2 208.7h1v1h-1zM286.7 298.8h1v1h-1zM222.4 220.9h1v1h-1zM269.9 287.5h1v1h-1zM213.0 202.4h1v1h-1zM245.9 239.6h1v1h-1zM202.8 283.1h1v1h-1zM193.8 267.5h1v1h-1zM223.0 208.1h1v1h-1zM239.8 239.0h1v1h-1zM235.9 264.7h1v1h-1zM252.2 230.0h1v1h-1zM213.2 260.9h1v1h-1zM307.4 287.6h1v1h-1zM220.4 269.5h1v1h-1zM234.6 265.7h1v1h-1zM193.9 279.0h1v1h-1zM245.3 277.2h1v1h-1zM312.8 210.0h1v1h-1zM306.2 299.6h1v1h-1zM217.6 267.1h1v1h-1zM310.3 200.6h1v1h-1zM280.4 229.4h1v1h-1zM254.0 215.0h1v1h-1zM242.4 293.0h1v1h-1zM224.5 240.5h1v1h-1zM204.1 236.1h1v1h-1zM213.8 234.7h1v1h-1zM244.6 253.2h1v1h-1zM274.6 263.2h1v1h-1zM187.0 249.0h1v1h-1zM328.5 289.8h1v1h-1zM278.3 270.7h1v1h-1zM232.2 199.5h1v1h-1zM218.8 297.5h1v1h-1zM241.6 248.1h1v1h-1zM227.7 198.3h1v1h-1zM264.2 204.7h1v1h-1zM301.5 258.2h1v1h-1zM201.4 219.8h1v1h-1zM192.0 213.6h1v1h-1zM226.8 237.6h1v1h-1zM242.3 201.8h1v1h-1zM321.0 239.9h1v1h-1zM328.6 216.0h1v1h-1zM282.1 289.5h1v1h-1zM241.9 276.9h1v1h-1zM222.9 272.6h1v1h-1zM209.5 288.0h1v1h-1zM318.7 226.9h1v1h-1zM221.9 273.4h1v1h-1zM232.1 261.0h1v1h-1zM242.4 296.8h1v1h-1zM274.6 290.5h1v1h-1zM260.5 258.3h1v1h-1zM301.2 288.4h1v1h-1zM292.9 243.2h1v1h-1zM276.5 275.8h1v1h-1zM213.8 209.0h1v1h-1zM273.7 224.0h1v1h-1zM290.6 197.5h1v1h-1zM284.0 200.8h1v1h-1zM187.2 214.4h1v1h-1zM234.7 209.7h1v1h-1zM271.3 289.8h1v1h-1zM273.6 217.7h1v1h-1zM314.1 301.7h1v1h-1zM243.3 300.6h1v1h-1zM272.7 196.4h1v1h-1zM189.2 213.5h1v1h-1zM326.0 216.9h1v1h-1zM313.8 275.5h1v1h-1zM319.5 265.9h1v1h-1zM219.8 281.0h1v1h-1zM189.0 233.0h1v1h-1zM234.8 280.6h1v1h-1zM245.5 211.2h1v1h-1zM203.3 216.4h1v1h-1zM242.1 253.1h1v1h-1zM184.7 301.3h1v1h-1zM271.5 224.5h1v1h-1zM272.9 304.2h1v1h-1zM205.7 203.9h1v1h-1zM221.6 258.8h1v1h-1zM316.8 254.7h1v1h-1zM199.7 271.3h1v1h-1zM321.6 268.4h1v1h-1zM213.3 259.6h1v1h-1zM273.8 266.0h1v1h-1zM230.8 255.8h1v1h-1zM247.5 276.1h1v1h-1zM205.5 273.1h1v1h-1zM319.0 241.9h1v1h-1zM222.1 223.5h1v1h-1zM231.4 263.3h1v1h-1zM260.0 215.1h1v1h-1zM251.7 221.0h1v1h-1zM216.5 235.4h1v1h-1zM285.2 244.3h1v1h-1zM219.0 198.9h1v1h-1zM212.7 261.1h1v1h-1zM276.7 220.8h1v1h-1zM229.5 268.9h1v1h-1zM199.1 262.2h1v1h-1zM259.4 226.8h1v1h-1zM266.1 210.4h1v1h-1zM253.2 235.4h1v1h-1zM211.1 241.4h1v1h-1zM316.0 287.0h1v1h-1zM258.8 283.4h1v1h-1zM288.0 248.6h1v1h-1zM216.7 227.4h1v1h-1zM243.0 207.8h1v1h-1zM269.3 249.9h1v1h-1zM281.9 199.5h1v1h-1zM316.4 267.5h1v1h-1zM264.5 228.6h1v1h-1zM288.4 218.6h1v1h-1zM320.3 216.5h1v1h-1zM256.2 227.9h1v1h-1zM325.5 221.5h1v1h-1zM270.4 204.7h1v1h-1zM316.5 297.1h1v1h-1zM285.5 206.0h1v1h-1zM225.0 210.7h1v1h-1zM244.0 289.5h1v1h-1zM194.6 206.2h1v1h-1zM238.3 249.9h1v1h-1zM215.6 245.0h1v1h-1zM301.3 246.6h1v1h-1zM242.3 274.5h1v1h-1zM285.3 244.3h1v1h-1zM308.4 277.7h1v1h-1zM289.6 257.2h1v1h-1zM211.1 276.0h1v1h-1zM292.9 262.6h1v1h-1zM270.7 255.1h1v1h-1zM285.6 223.9h1v1h-1zM252.1 295.2h1v1h-1zM316.8 269.7h1v1h-1zM185.8 244.9h1v1h-1zM193.2 293.1h1v1h-1zM279.3 276.8h1v1h-1zM271.3 209.6h1v1h-1zM261.9 284.2h1v1h-1zM213.9 278.1h1v1h-1zM203.0 225.3h1v1h-1zM250.5 202.0h1v1h-1zM238.4 252.3h1v1h-1zM260.8 293.4h1v1h-1zM298.8 223.1h1v1h-1zM315.0 257.7h1v1h-1zM301.0 206.7h1v1h-1zM244.2 233.3h1v1h-1zM257.8 293.1h1v1h-1zM194.0 228.1h1v1h-1zM201.5 277.9h1v1h-1zM257.0 252.4h1v1h-1zM268.3 217.2h1v1h-1zM267.7 262.2h1v1h-1zM303.7 220.0h1v1h-1zM255.5 248.4h1v1h-1zM195.7 281.6h1v1h-1zM213.9 275.0h1v1h-1zM221.2 278.7h1v1h-1zM322.2 204.2h1v1h-1zM221.7 276.1h1v1h-1z" fill="#c8c8c8" opacity="0.3"/>
<rect x="355" y="198" width="157" height="107" fill="#909090"/>
<rect x="355" y="198" width="157" height="107" fill="url(#noise)" opacity="0.07"/>
<path d="M355,198.5 H512" stroke="#7a7a7a" stroke-width="1" opacity="0.6"/>
<path d="M392.4 255.7a1.03 1.03 0 1 0 2.06 0a1.03 1.03 0 1 0 -2.06 0M445.4 262.1a1.22 1.22 0 1 0 2.44 0a1.22 1.22 0 1 0 -2.44 0M391.8 303.2a1.06 1.06 0 1 0 2.13 0a1.06 1.06 0 1 0 -2.13 0M467.0 290.9a1.15 1.15 0 1 0 2.30 0a1.15 1.15 0 1 0 -2.30 0M370.6 212.6a0.98 0.98 0 1 0 1.95 0a0.98 0.98 0 1 0 -1.95 0M476.4 288.4a1.05 1.05 0 1 0 2.09 0a1.05 1.05 0 1 0 -2.09 0M409.8 260.0a1.10 1.10 0 1 0 2.21 0a1.10 1.10 0 1 0 -2.21 0M497.7 201.3a1.00 1.00 0 1 0 2.00 0a1.00 1.00 0 1 0 -2.00 0M380.5 289.0a1.24 1.24 0 1 0 2.48 0a1.24 1.24 0 1 0 -2.48 0M371.5 267.4a1.12 1.12 0 1 0 2.24 0a1.12 1.12 0 1 0 -2.24 0M399.5 205.0a1.20 1.20 0 1 0 2.40 0a1.20 1.20 0 1 0 -2.40 0M475.0 290.3a0.92 0.92 0 1 0 1.83 0a0.92 0.92 0 1 0 -1.83 0M414.0 260.1a1.09 1.09 0 1 0 2.19 0a1.09 1.09 0 1 0 -2.19 0M379.5 202.8a1.20 1.20 0 1 0 2.41 0a1.20 1.20 0 1 0 -2.41 0M494.7 238.1a1.06 1.06 0 1 0 2.12 0a1.06 1.06 0 1 0 -2.12 0M490.2 270.1a0.94 0.94 0 1 0 1.87 0a0.94 0.94 0 1 0 -1.87 0M397.4 265.2a1.15 1.15 0 1 0 2.30 0a1.15 1.15 0 1 0 -2.30 0M508.8 231.5a1.03 1.03 0 1 0 2.06 0a1.03 1.03 0 1 0 -2.06 0M364.7 264.4a1.06 1.06 0 1 0 2.13 0a1.06 1.06 0 1 0 -2.13 0M449.9 227.7a1.07 1.07 0 1 0 2.14 0a1.07 1.07 0 1 0 -2.14 0M405.1 236.7a1.01 1.01 0 1 0 2.02 0a1.01 1.01 0 1 0 -2.02 0M396.5 281.3a0.94 0.94 0 1 0 1.87 0a0.94 0.94 0 1 0 -1.87 0M461.6 212.2a1.08 1.08 0 1 0 2.15 0a1.08 1.08 0 1 0 -2.15 0M392.4 218.1a1.05 1.05 0 1 0 2.10 0a1.05 1.05 0 1 0 -2.10 0M367.8 276.5a0.98 0.98 0 1 0 1.95 0a0.98 0.98 0 1 0 -1.95 0M383.7 227.7a1.18 1.18 0 1 0 2.37 0a1.18 1.18 0 1 0 -2.37 0M409.1 212.0a1.00 1.00 0 1 0 2.00 0a1.00 1.00 0 1 0 -2.00 0M427.6 265.1a1.00 1.00 0 1 0 2.00 0a1.00 1.00 0 1 0 -2.00 0M498.6 214.7a0.90 0.90 0 1 0 1.80 0a0.90 0.90 0 1 0 -1.80 0M508.5 244.1a1.23 1.23 0 1 0 2.47 0a1.23 1.23 0 1 0 -2.47 0M360.3 246.4a1.16 1.16 0 1 0 2.33 0a1.16 1.16 0 1 0 -2.33 0M439.7 292.1a1.20 1.20 0 1 0 2.40 0a1.20 1.20 0 1 0 -2.40 0M374.1 224.1a0.91 0.91 0 1 0 1.82 0a0.91 0.91 0 1 0 -1.82 0M498.8 292.8a1.21 1.21 0 1 0 2.43 0a1.21 1.21 0 1 0 -2.43 0M436.8 241.9a1.23 1.23 0 1 0 2.46 0a1.23 1.23 0 1 0 -2.46 0M374.8 300.7a1.09 1.09 0 1 0 2.18 0a1.09 1.09 0 1 0 -2.18 0M410.0 219.1a1.09 1.09 0 1 0 2.17 0a1.09 1.09 0 1 0 -2.17 0M431.1 258.5a1.04 1.04 0 1 0 2.08 0a1.04 1.04 0 1 0 -2.08 0M397.1 253.9a1.05 1.05 0 1 0 2.10 0a1.05 1.05 0 1 0 -2.10 0M506.9 288.4a0.93 0.93 0 1 0 1.86 0a0.93 0.93 0 1 0 -1.86 0M379.8 205.9a1.04 1.04 0 1 0 2.07 0a1.04 1.04 0 1 0 -2.07 0M355.8 274.5a1.18 1.18 0 1 0 2.36 0a1.18 1.18 0 1 0 -2.36 0M413.2 262.0a1.17 1.17 0 1 0 2.35 0a1.17 1.17 0 1 0 -2.35 0M452.2 243.8a1.03 1.03 0 1 0 2.06 0a1.03 1.03 0 1 0 -2.06 0M438.7 271.6a0.93 0.93 0 1 0 1.85 0a0.93 0.93 0 1 0 -1.85 0M375.6 201.3a1.01 1.01 0 1 0 2.03 0a1.01 1.01 0 1 0 -2.03 0M478.4 268.7a1.16 1.16 0 1 0 2.31 0a1.16 1.16 0 1 0 -2.31 0M362.4 208.0a0.93 0.93 0 1 0 1.87 0a0.93 0.93 0 1 0 -1.87 0M459.8 286.4a1.23 1.23 0 1 0 2.47 0a1.23 1.23 0 1 0 -2.47 0M361.0 279.2a1.08 1.08 0 1 0 2.16 0a1.08 1.08 0 1 0 -2.16 0M441.5 208.8a1.09 1.09 0 1 0 2.19 0a1.09 1.09 0 1 0 -2.19 0M383.2 206.5a1.25 1.25 0 1 0 2.50 0a1.25 1.25 0 1 0 -2.50 0M451.1 277.7a1.04 1.04 0 1 0 2.08 0a1.04 1.04 0 1 0 -2.08 0M501.0 257.0a1.24 1.24 0 1 0 2.48 0a1.24 1.24 0 1 0 -2.48 0M472.8 269.3a1.08 1.08 0 1 0 2.16 0a1.08 1.08 0 1 0 -2.16 0M417.8 291.8a0.96 0.96 0 1 0 1.91 0a0.96 0.96 0 1 0 -1.91 0M497.8 252.8a1.06 1.06 0 1 0 2.11 0a1.06 1.06 0 1 0 -2.11 0M376.6 277.6a0.95 0.95 0 1 0 1.90 0a0.95 0.95 0 1 0 -1.90 0M487.5 255.0a1.17 1.17 0 1 0 2.35 0a1.17 1.17 0 1 0 -2.35 0M447.7 259.9a1.24 1.24 0 1 0 2.49 0a1.24 1.24 0 1 0 -2.49 0M392.3 249.2a1.20 1.20 0 1 0 2.40 0a1.20 1.20 0 1 0 -2.40 0M429.9 261.4a1.06 1.06 0 1 0 2.13 0a1.06 1.06 0 1 0 -2.13 0M441.8 249.0a1.15 1.15 0 1 0 2.30 0a1.15 1.15 0 1 0 -2.30 0M477.2 291.2a0.92 0.92 0 1 0 1.83 0a0.92 0.92 0 1 0 -1.83 0M495.0 225.2a1.20 1.20 0 1 0 2.41 0a1.20 1.20 0 1 0 -2.41 0M360.9 246.0a1.16 1.16 0 1 0 2.31 0a1.16 1.16 0 1 0 -2.31 0M470.8 249.9a0.94 0.94 0 1 0 1.89 0a0.94 0.94 0 1 0 -1.89 0M367.2 243.9a1.05 1.05 0 1 0 2.11 0a1.05 1.05 0 1 0 -2.11 0M370.4 297.5a1.03 1.03 0 1 0 2.06 0a1.03 1.03 0 1 0 -2.06 0M401.2 269.5a1.13 1.13 0 1 0 2.26 0a1.13 1.13 0 1 0 -2.26 0M372.0 297.8a1.02 1.02 0 1 0 2.04 0a1.02 1.02 0 1 0 -2.04 0M373.0 250.4a1.02 1.02 0 1 0 2.05 0a1.02 1.02 0 1 0 -2.05 0M468.4 276.5a1.13 1.13 0 1 0 2.25 0a1.13 1.13 0 1 0 -2.25 0M377.2 233.2a1.15 1.15 0 1 0 2.30 0a1.15 1.15 0 1 0 -2.30 0M402.0 218.0a1.07 1.07 0 1 0 2.14 0a1.07 1.07 0 1 0 -2.14 0M365.9 273.7a1.16 1.16 0 1 0 2.33 0a1.16 1.16 0 1 0 -2.33 0M362.0 251.5a0.99 0.99 0 1 0 1.97 0a0.99 0.99 0 1 0 -1.97 0M491.4 297.9a1.06 1.06 0 1 0 2.11 0a1.06 1.06 0 1 0 -2.11 0M443.5 268.9a1.04 1.04 0 1 0 2.07 0a1.04 1.04 0 1 0 -2.07 0M381.7 217.2a1.20 1.20 0 1 0 2.41 0a1.20 1.20 0 1 0 -2.41 0M359.9 283.0a1.21 1.21 0 1 0 2.42 0a1.21 1.21 0 1 0 -2.42 0M404.5 293.8a1.01 1.01 0 1 0 2.02 0a1.01 1.01 0 1 0 -2.02 0M461.9 229.9a1.20 1.20 0 1 0 2.40 0a1.20 1.20 0 1 0 -2.40 0M385.1 265.1a0.94 0.94 0 1 0 1.88 0a0.94 0.94 0 1 0 -1.88 0M388.1 284.0a1.22 1.22 0 1 0 2.45 0a1.22 1.22 0 1 0 -2.45 0M432.9 200.3a1.02 1.02 0 1 0 2.04 0a1.02 1.02 0 1 0 -2.04 0M463.1 212.5a1.20 1.20 0 1 0 2.40 0a1.20 1.20 0 1 0 -2.40 0M466.6 276.3a1.02 1.02 0 1 0 2.04 0a1.02 1.02 0 1 0 -2.04 0M489.1 244.4a1.16 1.16 0 1 0 2.33 0a1.16 1.16 0 1 0 -2.33 0M477.5 241.4a1.20 1.20 0 1 0 2.39 0a1.20 1.20 0 1 0 -2.39 0M432.6 272.0a1.09 1.09 0 1 0 2.18 0a1.09 1.09 0 1 0 -2.18 0M431.3 200.8a1.06 1.06 0 1 0 2.12 0a1.06 1.06 0 1 0 -2.12 0M383.3 293.1a1.15 1.15 0 1 0 2.30 0a1.15 1.15 0 1 0 -2.30 0M424.9 236.4a1.04 1.04 0 1 0 2.08 0a1.04 1.04 0 1 0 -2.08 0M395.4 237.3a1.20 1.20 0 1 0 2.40 0a1.20 1.20 0 1 0 -2.40 0M418.1 231.8a0.91 0.91 0 1 0 1.82 0a0.91 0.91 0 1 0 -1.82 0M418.2 240.1a0.91 0.91 0 1 0 1.82 0a0.91 0.91 0 1 0 -1.82 0M393.0 239.3a0.97 0.97 0 1 0 1.93 0a0.97 0.97 0 1 0 -1.93 0M409.3 211.4a0.92 0.92 0 1 0 1.84 0a0.92 0.92 0 1 0 -1.84 0M507.7 297.6a1.18 1.18 0 1 0 2.35 0a1.18 1.18 0 1 0 -2.35 0M394.1 226.3a1.19 1.19 0 1 0 2.37 0a1.19 1.19 0 1 0 -2.37 0M430.2 218.2a1.08 1.08 0 1 0 2.16 0a1.08 1.08 0 1 0 -2.16 0M408.2 248.7a1.02 1.02 0 1 0 2.05 0a1.02 1.02 0 1 0 -2.05 0M383.9 241.8a1.08 1.08 0 1 0 2.16 0a1.08 1.08 0 1 0 -2.16 0M461.1 296.2a0.96 0.96 0 1 0 1.92 0a0.96 0.96 0 1 0 -1.92 0M423.4 245.1a1.15 1.15 0 1 0 2.29 0a1.15 1.15 0 1 0 -2.29 0M434.0 277.6a1.22 1.22 0 1 0 2.44 0a1.22 1.22 0 1 0 -2.44 0M361.9 216.4a1.16 1.16 0 1 0 2.33 0a1.16 1.16 0 1 0 -2.33 0M491.9 290.2a1.06 1.06 0 1 0 2.11 0a1.06 1.06 0 1 0 -2.11 0M407.9 231.1a1.06 1.06 0 1 0 2.12 0a1.06 1.06 0 1 0 -2.12 0M392.8 203.4a0.95 0.95 0 1 0 1.91 0a0.95 0.95 0 1 0 -1.91 0M435.3 251.5a1.22 1.22 0 1 0 2.44 0a1.22 1.22 0 1 0 -2.44 0M448.4 288.8a0.94 0.94 0 1 0 1.87 0a0.94 0.94 0 1 0 -1.87 0M368.8 247.3a0.98 0.98 0 1 0 1.96 0a0.98 0.98 0 1 0 -1.96 0M372.2 249.5a1.13 1.13 0 1 0 2.27 0a1.13 1.13 0 1 0 -2.27 0M449.2 245.3a0.94 0.94 0 1 0 1.88 0a0.94 0.94 0 1 0 -1.88 0M468.5 206.4a1.02 1.02 0 1 0 2.04 0a1.02 1.02 0 1 0 -2.04 0M499.0 270.6a1.03 1.03 0 1 0 2.06 0a1.03 1.03 0 1 0 -2.06 0M449.5 220.9a1.02 1.02 0 1 0 2.05 0a1.02 1.02 0 1 0 -2.05 0M392.1 244.6a0.99 0.99 0 1 0 1.98 0a0.99 0.99 0 1 0 -1.98 0M499.9 274.9a1.21 1.21 0 1 0 2.41 0a1.21 1.21 0 1 0 -2.41 0M427.2 273.3a1.20 1.20 0 1 0 2.40 0a1.20 1.20 0 1 0 -2.40 0M495.7 298.4a1.07 1.07 0 1 0 2.14 0a1.07 1.07 0 1 0 -2.14 0M428.4 260.2a0.91 0.91 0 1 0 1.82 0a0.91 0.91 0 1 0 -1.82 0M422.4 234.6a1.16 1.16 0 1 0 2.32 0a1.16 1.16 0 1 0 -2.32 0M377.4 245.1a1.22 1.22 0 1 0 2.44 0a1.22 1.22 0 1 0 -2.44 0M379.1 278.7a1.15 1.15 0 1 0 2.29 0a1.15 1.15 0 1 0 -2.29 0M413.3 215.3a1.01 1.01 0 1 0 2.02 0a1.01 1.01 0 1 0 -2.02 0M500.0 253.1a0.91 0.91 0 1 0 1.81 0a0.91 0.91 0 1 0 -1.81 0M410.5 300.1a1.03 1.03 0 1 0 2.05 0a1.03 1.03 0 1 0 -2.05 0M384.1 199.7a1.05 1.05 0 1 0 2.10 0a1.05 1.05 0 1 0 -2.10 0M420.5 225.7a0.92 0.92 0 1 0 1.83 0a0.92 0.92 0 1 0 -1.83 0M510.0 215.8a1.17 1.17 0 1 0 2.33 0a1.17 1.17 0 1 0 -2.33 0M470.9 287.0a1.04 1.04 0 1 0 2.09 0a1.04 1.04 0 1 0 -2.09 0M494.7 293.8a1.06 1.06 0 1 0 2.13 0a1.06 1.06 0 1 0 -2.13 0M461.6 302.9a1.09 1.09 0 1 0 2.18 0a1.09 1.09 0 1 0 -2.18 0M379.5 231.5a1.08 1.08 0 1 0 2.17 0a1.08 1.08 0 1 0 -2.17 0M448.3 210.5a0.94 0.94 0 1 0 1.89 0a0.94 0.94 0 1 0 -1.89 0M371.3 268.8a1.03 1.03 0 1 0 2.06 0a1.03 1.03 0 1 0 -2.06 0M425.0 231.1a1.02 1.02 0 1 0 2.04 0a1.02 1.02 0 1 0 -2.04 0M404.3 226.9a1.23 1.23 0 1 0 2.46 0a1.23 1.23 0 1 0 -2.46 0M450.4 256.8a0.91 0.91 0 1 0 1.82 0a0.91 0.91 0 1 0 -1.82 0M501.7 301.0a1.14 1.14 0 1 0 2.28 0a1.14 1.14 0 1 0 -2.28 0M356.6 237.4a0.95 0.95 0 1 0 1.90 0a0.95 0.95 0 1 0 -1.90 0M410.4 298.5a1.07 1.07 0 1 0 2.14 0a1.07 1.07 0 1 0 -2.14 0M428.8 276.2a1.09 1.09 0 1 0 2.17 0a1.09 1.09 0 1 0 -2.17 0M443.7 247.2a1.09 1.09 0 1 0 2.18 0a1.09 1.09 0 1 0 -2.18 0M401.9 288.8a1.24 1.24 0 1 0 2.47 0a1.24 1.24 0 1 0 -2.47 0M375.7 261.9a0.92 0.92 0 1 0 1.84 0a0.92 0.92 0 1 0 -1.84 0M373.0 199.8a1.20 1.20 0 1 0 2.41 0a1.20 1.20 0 1 0 -2.41 0M434.1 237.7a1.01 1.01 0 1 0 2.02 0a1.01 1.01 0 1 0 -2.02 0M475.2 274.5a1.02 1.02 0 1 0 2.04 0a1.02 1.02 0 1 0 -2.04 0M505.6 246.0a1.07 1.07 0 1 0 2.13 0a1.07 1.07 0 1 0 -2.13 0M508.7 254.0a1.05 1.05 0 1 0 2.11 0a1.05 1.05 0 1 0 -2.11 0M487.9 238.8a1.24 1.24 0 1 0 2.49 0a1.24 1.24 0 1 0 -2.49 0M364.1 250.4a0.94 0.94 0 1 0 1.88 0a0.94 0.94 0 1 0 -1.88 0M465.9 236.4a1.01 1.01 0 1 0 2.01 0a1.01 1.01 0 1 0 -2.01 0M378.1 221.5a1.03 1.03 0 1 0 2.06 0a1.03 1.03 0 1 0 -2.06 0M439.0 295.4a1.09 1.09 0 1 0 2.17 0a1.09 1.09 0 1 0 -2.17 0M485.5 294.5a1.05 1.05 0 1 0 2.11 0a1.05 1.05 0 1 0 -2.11 0M399.8 218.3a1.19 1.19 0 1 0 2.38 0a1.19 1.19 0 1 0 -2.38 0M422.3 282.2a1.03 1.03 0 1 0 2.07 0a1.03 1.03 0 1 0 -2.07 0M428.9 213.1a0.97 0.97 0 1 0 1.94 0a0.97 0.97 0 1 0 -1.94 0M365.2 290.8a1.16 1.16 0 1 0 2.32 0a1.16 1.16 0 1 0 -2.32 0M455.5 291.2a0.98 0.98 0 1 0 1.96 0a0.98 0.98 0 1 0 -1.96 0M483.5 295.1a1.04 1.04 0 1 0 2.08 0a1.04 1.04 0 1 0 -2.08 0M375.9 254.3a1.12 1.12 0 1 0 2.23 0a1.12 1.12 0 1 0 -2.23 0M488.6 264.7a1.07 1.07 0 1 0 2.15 0a1.07 1.07 0 1 0 -2.15 0M483.3 297.1a0.94 0.94 0 1 0 1.88 0a0.94 0.94 0 1 0 -1.88 0M486.1 231.5a1.16 1.16 0 1 0 2.33 0a1.16 1.16 0 1 0 -2.33 0M412.4 221.9a1.00 1.00 0 1 0 2.00 0a1.00 1.00 0 1 0 -2.00 0M449.9 216.8a1.16 1.16 0 1 0 2.33 0a1.16 1.16 0 1 0 -2.33 0M421.4 217.0a1.01 1.01 0 1 0 2.01 0a1.01 1.01 0 1 0 -2.01 0M477.6 288.9a1.07 1.07 0 1 0 2.14 0a1.07 1.07 0 1 0 -2.14 0M436.1 242.5a1.07 1.07 0 1 0 2.15 0a1.07 1.07 0 1 0 -2.15 0M508.4 234.8a1.25 1.25 0 1 0 2.50 0a1.25 1.25 0 1 0 -2.50 0M371.9 254.0a1.20 1.20 0 1 0 2.40 0a1.20 1.20 0 1 0 -2.40 0M483.5 219.7a0.93 0.93 0 1 0 1.87 0a0.93 0.93 0 1 0 -1.87 0M421.0 257.2a1.17 1.17 0 1 0 2.33 0a1.17 1.17 0 1 0 -2.33 0M443.4 224.6a1.14 1.14 0 1 0 2.29 0a1.14 1.14 0 1 0 -2.29 0M466.3 232.5a0.96 0.96 0 1 0 1.91 0a0.96 0.96 0 1 0 -1.91 0M382.2 239.9a0.97 0.97 0 1 0 1.94 0a0.97 0.97 0 1 0 -1.94 0M412.1 274.6a1.11 1.11 0 1 0 2.22 0a1.11 1.11 0 1 0 -2.22 0M434.0 215.9a0.94 0.94 0 1 0 1.87 0a0.94 0.94 0 1 0 -1.87 0M429.5 244.0a0.99 0.99 0 1 0 1.98 0a0.99 0.99 0 1 0 -1.98 0M396.3 280.5a1.23 1.23 0 1 0 2.46 0a1.23 1.23 0 1 0 -2.46 0M508.4 281.7a1.16 1.16 0 1 0 2.31 0a1.16 1.16 0 1 0 -2.31 0M490.4 212.6a0.93 0.93 0 1 0 1.86 0a0.93 0.93 0 1 0 -1.86 0M397.2 251.9a1.03 1.03 0 1 0 2.06 0a1.03 1.03 0 1 0 -2.06 0M421.8 257.9a1.10 1.10 0 1 0 2.20 0a1.10 1.10 0 1 0 -2.20 0M395.3 255.7a1.10 1.10 0 1 0 2.21 0a1.10 1.10 0 1 0 -2.21 0M360.4 243.8a0.90 0.90 0 1 0 1.80 0a0.90 0.90 0 1 0 -1.80 0M433.7 298.8a1.20 1.20 0 1 0 2.39 0a1.20 1.20 0 1 0 -2.39 0M395.2 264.5a1.10 1.10 0 1 0 2.19 0a1.10 1.10 0 1 0 -2.19 0M386.7 215.0a1.24 1.24 0 1 0 2.49 0a1.24 1.24 0 1 0 -2.49 0M421.9 228.7a0.94 0.94 0 1 0 1.88 0a0.94 0.94 0 1 0 -1.88 0M370.1 271.9a1.12 1.12 0 1 0 2.24 0a1.12 1.12 0 1 0 -2.24 0M415.7 283.2a1.06 1.06 0 1 0 2.11 0a1.06 1.06 0 1 0 -2.11 0M391.2 242.1a0.93 0.93 0 1 0 1.87 0a0.93 0.93 0 1 0 -1.87 0M359.5 234.0a0.97 0.97 0 1 0 1.94 0a0.97 0.97 0 1 0 -1.94 0M454.8 302.2a1.03 1.03 0 1 0 2.07 0a1.03 1.03 0 1 0 -2.07 0M432.9 208.8a1.22 1.22 0 1 0 2.45 0a1.22 1.22 0 1 0 -2.45 0M378.4 253.0a1.01 1.01 0 1 0 2.02 0a1.01 1.01 0 1 0 -2.02 0M412.4 303.6a0.94 0.94 0 1 0 1.89 0a0.94 0.94 0 1 0 -1.89 0M428.8 198.8a1.15 1.15 0 1 0 2.30 0a1.15 1.15 0 1 0 -2.30 0M362.8 269.5a1.01 1.01 0 1 0 2.01 0a1.01 1.01 0 1 0 -2.01 0M476.4 282.8a1.01 1.01 0 1 0 2.02 0a1.01 1.01 0 1 0 -2.02 0M379.9 239.6a1.16 1.16 0 1 0 2.32 0a1.16 1.16 0 1 0 -2.32 0M453.3 207.0a1.14 1.14 0 1 0 2.27 0a1.14 1.14 0 1 0 -2.27 0M356.2 205.5a1.14 1.14 0 1 0 2.27 0a1.14 1.14 0 1 0 -2.27 0M458.8 233.4a1.17 1.17 0 1 0 2.35 0a1.17 1.17 0 1 0 -2.35 0M448.9 201.3a1.01 1.01 0 1 0 2.01 0a1.01 1.01 0 1 0 -2.01 0M425.6 243.8a1.05 1.05 0 1 0 2.10 0a1.05 1.05 0 1 0 -2.10 0M422.2 202.5a1.16 1.16 0 1 0 2.31 0a1.16 1.16 0 1 0 -2.31 0M474.3 201.6a1.04 1.04 0 1 0 2.09 0a1.04 1.04 0 1 0 -2.09 0M474.4 248.7a1.03 1.03 0 1 0 2.06 0a1.03 1.03 0 1 0 -2.06 0M450.7 248.3a0.92 0.92 0 1 0 1.84 0a0.92 0.92 0 1 0 -1.84 0M497.4 218.8a1.21 1.21 0 1 0 2.42 0a1.21 1.21 0 1 0 -2.42 0M370.5 284.4a1.04 1.04 0 1 0 2.08 0a1.04 1.04 0 1 0 -2.08 0M358.2 298.3a1.01 1.01 0 1 0 2.02 0a1.01 1.01 0 1 0 -2.02 0M402.4 221.0a1.09 1.09 0 1 0 2.18 0a1.09 1.09 0 1 0 -2.18 0M476.8 246.2a0.99 0.99 0 1 0 1.98 0a0.99 0.99 0 1 0 -1.98 0M403.8 268.4a0.94 0.94 0 1 0 1.87 0a0.94 0.94 0 1 0 -1.87 0M449.9 211.2a0.96 0.96 0 1 0 1.92 0a0.96 0.96 0 1 0 -1.92 0M381.8 232.9a0.94 0.94 0 1 0 1.88 0a0.94 0.94 0 1 0 -1.88 0M476.2 244.4a1.17 1.17 0 1 0 2.34 0a1.17 1.17 0 1 0 -2.34 0M386.1 246.9a1.07 1.07 0 1 0 2.13 0a1.07 1.07 0 1 0 -2.13 0M357.0 255.7a1.07 1.07 0 1 0 2.14 0a1.07 1.07 0 1 0 -2.14 0M373.3 289.6a0.96 0.96 0 1 0 1.92 0a0.96 0.96 0 1 0 -1.92 0M491.8 301.6a0.92 0.92 0 1 0 1.84 0a0.92 0.92 0 1 0 -1.84 0M455.0 251.2a1.02 1.02 0 1 0 2.04 0a1.02 1.02 0 1 0 -2.04 0M510.4 269.6a1.21 1.21 0 1 0 2.41 0a1.21 1.21 0 1 0 -2.41 0M470.8 263.6a1.17 1.17 0 1 0 2.34 0a1.17 1.17 0 1 0 -2.34 0M423.0 272.2a1.02 1.02 0 1 0 2.04 0a1.02 1.02 0 1 0 -2.04 0M459.3 212.7a1.16 1.16 0 1 0 2.31 0a1.16 1.16 0 1 0 -2.31 0M399.2 223.0a0.96 0.96 0 1 0 1.92 0a0.96 0.96 0 1 0 -1.92 0M480.5 223.7a1.22 1.22 0 1 0 2.44 0a1.22 1.22 0 1 0 -2.44 0M384.0 239.0a1.01 1.01 0 1 0 2.01 0a1.01 1.01 0 1 0 -2.01 0M422.4 221.1a0.94 0.94 0 1 0 1.87 0a0.94 0.94 0 1 0 -1.87 0M469.6 244.7a0.92 0.92 0 1 0 1.84 0a0.92 0.92 0 1 0 -1.84 0M457.9 261.7a1.12 1.12 0 1 0 2.23 0a1.12 1.12 0 1 0 -2.23 0M470.9 280.2a1.16 1.16 0 1 0 2.32 0a1.16 1.16 0 1 0 -2.32 0M368.8 271.1a1.18 1.18 0 1 0 2.37 0a1.18 1.18 0 1 0 -2.37 0M496.1 225.9a1.25 1.25 0 1 0 2.49 0a1.25 1.25 0 1 0 -2.49 0M481.8 269.0a0.90 0.90 0 1 0 1.80 0a0.90 0.90 0 1 0 -1.80 0M448.4 294.5a1.12 1.12 0 1 0 2.25 0a1.12 1.12 0 1 0 -2.25 0M452.5 259.9a1.07 1.07 0 1 0 2.15 0a1.07 1.07 0 1 0 -2.15 0M367.0 284.9a0.96 0.96 0 1 0 1.93 0a0.96 0.96 0 1 0 -1.93 0M377.5 228.4a0.99 0.99 0 1 0 1.97 0a0.99 0.99 0 1 0 -1.97 0M445.4 214.0a1.05 1.05 0 1 0 2.10 0a1.05 1.05 0 1 0 -2.10 0M427.5 240.8a0.91 0.91 0 1 0 1.82 0a0.91 0.91 0 1 0 -1.82 0M367.9 295.1a1.05 1.05 0 1 0 2.09 0a1.05 1.05 0 1 0 -2.09 0M383.5 282.5a0.93 0.93 0 1 0 1.87 0a0.93 0.93 0 1 0 -1.87 0M362.0 226.3a1.03 1.03 0 1 0 2.06 0a1.03 1.03 0 1 0 -2.06 0M410.6 251.8a1.16 1.16 0 1 0 2.32 0a1.16 1.16 0 1 0 -2.32 0M463.3 228.6a0.96 0.96 0 1 0 1.91 0a0.96 0.96 0 1 0 -1.91 0M490.8 301.6a1.17 1.17 0 1 0 2.33 0a1.17 1.17 0 1 0 -2.33 0M492.5 215.7a1.19 1.19 0 1 0 2.38 0a1.19 1.19 0 1 0 -2.38 0M473.5 239.6a0.97 0.97 0 1 0 1.94 0a0.97 0.97 0 1 0 -1.94 0M491.0 268.1a1.03 1.03 0 1 0 2.05 0a1.03 1.03 0 1 0 -2.05 0M402.4 293.6a1.13 1.13 0 1 0 2.26 0a1.13 1.13 0 1 0 -2.26 0M456.7 220.8a1.15 1.15 0 1 0 2.30 0a1.15 1.15 0 1 0 -2.30 0M490.7 226.1a0.99 0.99 0 1 0 1.97 0a0.99 0.99 0 1 0 -1.97 0M508.0 210.0a1.10 1.10 0 1 0 2.20 0a1.10 1.10 0 1 0 -2.20 0M491.5 241.8a1.20 1.20 0 1 0 2.39 0a1.20 1.20 0 1 0 -2.39 0M440.4 297.2a1.01 1.01 0 1 0 2.02 0a1.01 1.01 0 1 0 -2.02 0M436.8 225.5a1.23 1.23 0 1 0 2.45 0a1.23 1.23 0 1 0 -2.45 0M474.2 278.4a0.93 0.93 0 1 0 1.86 0a0.93 0.93 0 1 0 -1.86 0M508.8 269.2a1.20 1.20 0 1 0 2.41 0a1.20 1.20 0 1 0 -2.41 0M493.2 264.1a1.01 1.01 0 1 0 2.02 0a1.01 1.01 0 1 0 -2.02 0M454.0 260.0a1.20 1.20 0 1 0 2.40 0a1.20 1.20 0 1 0 -2.40 0M445.4 264.4a1.01 1.01 0 1 0 2.03 0a1.01 1.01 0 1 0 -2.03 0M380.1 263.7a1.06 1.06 0 1 0 2.11 0a1.06 1.06 0 1 0 -2.11 0M491.7 288.5a1.19 1.19 0 1 0 2.39 0a1.19 1.19 0 1 0 -2.39 0M423.5 251.2a0.98 0.98 0 1 0 1.97 0a0.98 0.98 0 1 0 -1.97 0M452.7 262.1a0.96 0.96 0 1 0 1.91 0a0.96 0.96 0 1 0 -1.91 0M396.8 211.5a1.18 1.18 0 1 0 2.36 0a1.18 1.18 0 1 0 -2.36 0" fill="#d0d0d0" opacity="0.18"/>
<path d="M392.2 256.2a0.63 0.63 0 1 0 1.26 0a0.63 0.63 0 1 0 -1.26 0M409.6 260.5a0.70 0.70 0 1 0 1.41 0a0.70 0.70 0 1 0 -1.41 0M497.5 201.8a0.60 0.60 0 1 0 1.20 0a0.60 0.60 0 1 0 -1.20 0M494.5 238.6a0.66 0.66 0 1 0 1.32 0a0.66 0.66 0 1 0 -1.32 0M449.7 228.2a0.67 0.67 0 1 0 1.34 0a0.67 0.67 0 1 0 -1.34 0M452.0 244.3a0.63 0.63 0 1 0 1.26 0a0.63 0.63 0 1 0 -1.26 0M472.6 269.8a0.68 0.68 0 1 0 1.36 0a0.68 0.68 0 1 0 -1.36 0M392.1 249.7a0.80 0.80 0 1 0 1.60 0a0.80 0.80 0 1 0 -1.60 0M429.7 261.9a0.66 0.66 0 1 0 1.33 0a0.66 0.66 0 1 0 -1.33 0M372.8 250.9a0.62 0.62 0 1 0 1.25 0a0.62 0.62 0 1 0 -1.25 0M401.8 218.5a0.67 0.67 0 1 0 1.34 0a0.67 0.67 0 1 0 -1.34 0M365.7 274.2a0.76 0.76 0 1 0 1.53 0a0.76 0.76 0 1 0 -1.53 0M432.4 272.5a0.69 0.69 0 1 0 1.38 0a0.69 0.69 0 1 0 -1.38 0M460.9 296.7a0.56 0.56 0 1 0 1.12 0a0.56 0.56 0 1 0 -1.12 0M491.7 290.7a0.66 0.66 0 1 0 1.31 0a0.66 0.66 0 1 0 -1.31 0M391.9 245.1a0.59 0.59 0 1 0 1.18 0a0.59 0.59 0 1 0 -1.18 0M378.9 279.2a0.75 0.75 0 1 0 1.49 0a0.75 0.75 0 1 0 -1.49 0M420.3 226.2a0.52 0.52 0 1 0 1.03 0a0.52 0.52 0 1 0 -1.03 0M371.1 269.3a0.63 0.63 0 1 0 1.26 0a0.63 0.63 0 1 0 -1.26 0M438.8 295.9a0.69 0.69 0 1 0 1.37 0a0.69 0.69 0 1 0 -1.37 0M455.3 291.7a0.58 0.58 0 1 0 1.16 0a0.58 0.58 0 1 0 -1.16 0M397.0 252.4a0.63 0.63 0 1 0 1.26 0a0.63 0.63 0 1 0 -1.26 0M369.9 272.4a0.72 0.72 0 1 0 1.44 0a0.72 0.72 0 1 0 -1.44 0M497.2 219.3a0.81 0.81 0 1 0 1.62 0a0.81 0.81 0 1 0 -1.62 0M385.9 247.4a0.67 0.67 0 1 0 1.33 0a0.67 0.67 0 1 0 -1.33 0M459.1 213.2a0.76 0.76 0 1 0 1.51 0a0.76 0.76 0 1 0 -1.51 0M495.9 226.4a0.85 0.85 0 1 0 1.69 0a0.85 0.85 0 1 0 -1.69 0M361.8 226.8a0.63 0.63 0 1 0 1.26 0a0.63 0.63 0 1 0 -1.26 0M463.1 229.1a0.56 0.56 0 1 0 1.11 0a0.56 0.56 0 1 0 -1.11 0M507.8 210.5a0.70 0.70 0 1 0 1.40 0a0.70 0.70 0 1 0 -1.40 0M440.2 297.7a0.61 0.61 0 1 0 1.22 0a0.61 0.61 0 1 0 -1.22 0" fill="#a04a2c" opacity="0.8"/>
<path d="M445.2 262.6a0.82 0.82 0 1 0 1.64 0a0.82 0.82 0 1 0 -1.64 0M476.2 288.9a0.65 0.65 0 1 0 1.29 0a0.65 0.65 0 1 0 -1.29 0M380.3 289.5a0.84 0.84 0 1 0 1.68 0a0.84 0.84 0 1 0 -1.68 0M490.0 270.6a0.54 0.54 0 1 0 1.07 0a0.54 0.54 0 1 0 -1.07 0M404.9 237.2a0.61 0.61 0 1 0 1.22 0a0.61 0.61 0 1 0 -1.22 0M396.3 281.8a0.54 0.54 0 1 0 1.07 0a0.54 0.54 0 1 0 -1.07 0M383.5 228.2a0.78 0.78 0 1 0 1.57 0a0.78 0.78 0 1 0 -1.57 0M498.4 215.2a0.50 0.50 0 1 0 1.00 0a0.50 0.50 0 1 0 -1.00 0M373.9 224.6a0.51 0.51 0 1 0 1.02 0a0.51 0.51 0 1 0 -1.02 0M375.4 201.8a0.61 0.61 0 1 0 1.23 0a0.61 0.61 0 1 0 -1.23 0M441.3 209.3a0.69 0.69 0 1 0 1.39 0a0.69 0.69 0 1 0 -1.39 0M371.8 298.3a0.62 0.62 0 1 0 1.24 0a0.62 0.62 0 1 0 -1.24 0M377.0 233.7a0.75 0.75 0 1 0 1.50 0a0.75 0.75 0 1 0 -1.50 0M404.3 294.3a0.61 0.61 0 1 0 1.22 0a0.61 0.61 0 1 0 -1.22 0M461.7 230.4a0.80 0.80 0 1 0 1.60 0a0.80 0.80 0 1 0 -1.60 0M383.7 242.3a0.68 0.68 0 1 0 1.36 0a0.68 0.68 0 1 0 -1.36 0M392.6 203.9a0.55 0.55 0 1 0 1.11 0a0.55 0.55 0 1 0 -1.11 0M435.1 252.0a0.82 0.82 0 1 0 1.64 0a0.82 0.82 0 1 0 -1.64 0M368.6 247.8a0.58 0.58 0 1 0 1.16 0a0.58 0.58 0 1 0 -1.16 0M449.0 245.8a0.54 0.54 0 1 0 1.08 0a0.54 0.54 0 1 0 -1.08 0M499.7 275.4a0.81 0.81 0 1 0 1.61 0a0.81 0.81 0 1 0 -1.61 0M413.1 215.8a0.61 0.61 0 1 0 1.22 0a0.61 0.61 0 1 0 -1.22 0M494.5 294.3a0.66 0.66 0 1 0 1.33 0a0.66 0.66 0 1 0 -1.33 0M443.5 247.7a0.69 0.69 0 1 0 1.38 0a0.69 0.69 0 1 0 -1.38 0M372.8 200.3a0.80 0.80 0 1 0 1.61 0a0.80 0.80 0 1 0 -1.61 0M433.9 238.2a0.61 0.61 0 1 0 1.22 0a0.61 0.61 0 1 0 -1.22 0M428.7 213.6a0.57 0.57 0 1 0 1.14 0a0.57 0.57 0 1 0 -1.14 0M375.7 254.8a0.72 0.72 0 1 0 1.43 0a0.72 0.72 0 1 0 -1.43 0M449.7 217.3a0.76 0.76 0 1 0 1.53 0a0.76 0.76 0 1 0 -1.53 0M435.9 243.0a0.67 0.67 0 1 0 1.35 0a0.67 0.67 0 1 0 -1.35 0M371.7 254.5a0.80 0.80 0 1 0 1.60 0a0.80 0.80 0 1 0 -1.60 0M483.3 220.2a0.53 0.53 0 1 0 1.07 0a0.53 0.53 0 1 0 -1.07 0M382.0 240.4a0.57 0.57 0 1 0 1.14 0a0.57 0.57 0 1 0 -1.14 0M421.7 229.2a0.54 0.54 0 1 0 1.08 0a0.54 0.54 0 1 0 -1.08 0M391.0 242.6a0.53 0.53 0 1 0 1.07 0a0.53 0.53 0 1 0 -1.07 0M432.7 209.3a0.82 0.82 0 1 0 1.65 0a0.82 0.82 0 1 0 -1.65 0M453.1 207.5a0.74 0.74 0 1 0 1.47 0a0.74 0.74 0 1 0 -1.47 0M474.1 202.1a0.64 0.64 0 1 0 1.29 0a0.64 0.64 0 1 0 -1.29 0M449.7 211.7a0.56 0.56 0 1 0 1.12 0a0.56 0.56 0 1 0 -1.12 0M381.6 233.4a0.54 0.54 0 1 0 1.08 0a0.54 0.54 0 1 0 -1.08 0M383.8 239.5a0.61 0.61 0 1 0 1.21 0a0.61 0.61 0 1 0 -1.21 0M422.2 221.6a0.54 0.54 0 1 0 1.07 0a0.54 0.54 0 1 0 -1.07 0M469.4 245.2a0.52 0.52 0 1 0 1.04 0a0.52 0.52 0 1 0 -1.04 0M457.7 262.2a0.72 0.72 0 1 0 1.43 0a0.72 0.72 0 1 0 -1.43 0M452.3 260.4a0.67 0.67 0 1 0 1.35 0a0.67 0.67 0 1 0 -1.35 0M427.3 241.3a0.51 0.51 0 1 0 1.02 0a0.51 0.51 0 1 0 -1.02 0M402.2 294.1a0.73 0.73 0 1 0 1.46 0a0.73 0.73 0 1 0 -1.46 0M491.3 242.3a0.80 0.80 0 1 0 1.59 0a0.80 0.80 0 1 0 -1.59 0M423.3 251.7a0.58 0.58 0 1 0 1.17 0a0.58 0.58 0 1 0 -1.17 0M452.5 262.6a0.56 0.56 0 1 0 1.11 0a0.56 0.56 0 1 0 -1.11 0" fill="#b45834" opacity="0.8"/>
<path d="M391.6 303.7a0.66 0.66 0 1 0 1.33 0a0.66 0.66 0 1 0 -1.33 0M466.8 291.4a0.75 0.75 0 1 0 1.50 0a0.75 0.75 0 1 0 -1.50 0M370.4 213.1a0.58 0.58 0 1 0 1.15 0a0.58 0.58 0 1 0 -1.15 0M397.2 265.7a0.75 0.75 0 1 0 1.50 0a0.75 0.75 0 1 0 -1.50 0M438.5 272.1a0.53 0.53 0 1 0 1.05 0a0.53 0.53 0 1 0 -1.05 0M383.0 207.0a0.85 0.85 0 1 0 1.70 0a0.85 0.85 0 1 0 -1.70 0M450.9 278.2a0.64 0.64 0 1 0 1.28 0a0.64 0.64 0 1 0 -1.28 0M417.6 292.3a0.56 0.56 0 1 0 1.11 0a0.56 0.56 0 1 0 -1.11 0M487.3 255.5a0.77 0.77 0 1 0 1.55 0a0.77 0.77 0 1 0 -1.55 0M441.6 249.5a0.75 0.75 0 1 0 1.50 0a0.75 0.75 0 1 0 -1.50 0M494.8 225.7a0.80 0.80 0 1 0 1.61 0a0.80 0.80 0 1 0 -1.61 0M370.2 298.0a0.63 0.63 0 1 0 1.26 0a0.63 0.63 0 1 0 -1.26 0M359.7 283.5a0.81 0.81 0 1 0 1.62 0a0.81 0.81 0 1 0 -1.62 0M477.3 241.9a0.80 0.80 0 1 0 1.59 0a0.80 0.80 0 1 0 -1.59 0M431.1 201.3a0.66 0.66 0 1 0 1.32 0a0.66 0.66 0 1 0 -1.32 0M507.5 298.1a0.78 0.78 0 1 0 1.55 0a0.78 0.78 0 1 0 -1.55 0M430.0 218.7a0.68 0.68 0 1 0 1.36 0a0.68 0.68 0 1 0 -1.36 0M408.0 249.2a0.62 0.62 0 1 0 1.25 0a0.62 0.62 0 1 0 -1.25 0M433.8 278.1a0.82 0.82 0 1 0 1.64 0a0.82 0.82 0 1 0 -1.64 0M372.0 250.0a0.73 0.73 0 1 0 1.47 0a0.73 0.73 0 1 0 -1.47 0M495.5 298.9a0.67 0.67 0 1 0 1.34 0a0.67 0.67 0 1 0 -1.34 0M410.3 300.6a0.63 0.63 0 1 0 1.25 0a0.63 0.63 0 1 0 -1.25 0M424.8 231.6a0.62 0.62 0 1 0 1.24 0a0.62 0.62 0 1 0 -1.24 0M450.2 257.3a0.51 0.51 0 1 0 1.02 0a0.51 0.51 0 1 0 -1.02 0M501.5 301.5a0.74 0.74 0 1 0 1.48 0a0.74 0.74 0 1 0 -1.48 0M428.6 276.7a0.69 0.69 0 1 0 1.37 0a0.69 0.69 0 1 0 -1.37 0M363.9 250.9a0.54 0.54 0 1 0 1.08 0a0.54 0.54 0 1 0 -1.08 0M465.7 236.9a0.61 0.61 0 1 0 1.21 0a0.61 0.61 0 1 0 -1.21 0M483.3 295.6a0.64 0.64 0 1 0 1.28 0a0.64 0.64 0 1 0 -1.28 0M483.1 297.6a0.54 0.54 0 1 0 1.08 0a0.54 0.54 0 1 0 -1.08 0M443.2 225.1a0.74 0.74 0 1 0 1.49 0a0.74 0.74 0 1 0 -1.49 0M466.1 233.0a0.56 0.56 0 1 0 1.11 0a0.56 0.56 0 1 0 -1.11 0M433.8 216.4a0.54 0.54 0 1 0 1.07 0a0.54 0.54 0 1 0 -1.07 0M421.6 258.4a0.70 0.70 0 1 0 1.40 0a0.70 0.70 0 1 0 -1.40 0M386.5 215.5a0.84 0.84 0 1 0 1.69 0a0.84 0.84 0 1 0 -1.69 0M412.2 304.1a0.54 0.54 0 1 0 1.09 0a0.54 0.54 0 1 0 -1.09 0M476.2 283.3a0.61 0.61 0 1 0 1.22 0a0.61 0.61 0 1 0 -1.22 0M356.0 206.0a0.74 0.74 0 1 0 1.47 0a0.74 0.74 0 1 0 -1.47 0M425.4 244.3a0.65 0.65 0 1 0 1.30 0a0.65 0.65 0 1 0 -1.30 0M474.2 249.2a0.63 0.63 0 1 0 1.26 0a0.63 0.63 0 1 0 -1.26 0M402.2 221.5a0.69 0.69 0 1 0 1.38 0a0.69 0.69 0 1 0 -1.38 0M476.6 246.7a0.59 0.59 0 1 0 1.18 0a0.59 0.59 0 1 0 -1.18 0M403.6 268.9a0.54 0.54 0 1 0 1.07 0a0.54 0.54 0 1 0 -1.07 0M356.8 256.2a0.67 0.67 0 1 0 1.34 0a0.67 0.67 0 1 0 -1.34 0M422.8 272.7a0.62 0.62 0 1 0 1.24 0a0.62 0.62 0 1 0 -1.24 0M399.0 223.5a0.56 0.56 0 1 0 1.12 0a0.56 0.56 0 1 0 -1.12 0M368.6 271.6a0.78 0.78 0 1 0 1.57 0a0.78 0.78 0 1 0 -1.57 0M481.6 269.5a0.50 0.50 0 1 0 1.00 0a0.50 0.50 0 1 0 -1.00 0M383.3 283.0a0.53 0.53 0 1 0 1.07 0a0.53 0.53 0 1 0 -1.07 0M490.6 302.1a0.77 0.77 0 1 0 1.53 0a0.77 0.77 0 1 0 -1.53 0M492.3 216.2a0.79 0.79 0 1 0 1.58 0a0.79 0.79 0 1 0 -1.58 0M436.6 226.0a0.83 0.83 0 1 0 1.65 0a0.83 0.83 0 1 0 -1.65 0M508.6 269.7a0.80 0.80 0 1 0 1.61 0a0.80 0.80 0 1 0 -1.61 0M396.6 212.0a0.78 0.78 0 1 0 1.56 0a0.78 0.78 0 1 0 -1.56 0" fill="#903c30" opacity="0.8"/>
<path d="M416.9 289.6a0.58 0.58 0 1 0 1.16 0a0.58 0.58 0 1 0 -1.16 0M415.6 200.4a0.77 0.77 0 1 0 1.54 0a0.77 0.77 0 1 0 -1.54 0M361.7 281.0a0.79 0.79 0 1 0 1.58 0a0.79 0.79 0 1 0 -1.58 0M433.7 304.0a0.61 0.61 0 1 0 1.22 0a0.61 0.61 0 1 0 -1.22 0M358.4 237.7a0.72 0.72 0 1 0 1.44 0a0.72 0.72 0 1 0 -1.44 0M390.1 211.5a0.69 0.69 0 1 0 1.37 0a0.69 0.69 0 1 0 -1.37 0M411.3 218.9a0.62 0.62 0 1 0 1.23 0a0.62 0.62 0 1 0 -1.23 0M478.0 226.4a0.66 0.66 0 1 0 1.32 0a0.66 0.66 0 1 0 -1.32 0M506.3 242.3a0.76 0.76 0 1 0 1.52 0a0.76 0.76 0 1 0 -1.52 0M407.2 244.8a0.67 0.67 0 1 0 1.34 0a0.67 0.67 0 1 0 -1.34 0M382.9 292.6a0.73 0.73 0 1 0 1.46 0a0.73 0.73 0 1 0 -1.46 0M447.1 214.2a0.64 0.64 0 1 0 1.28 0a0.64 0.64 0 1 0 -1.28 0M431.6 254.0a0.66 0.66 0 1 0 1.32 0a0.66 0.66 0 1 0 -1.32 0M404.4 204.8a0.65 0.65 0 1 0 1.30 0a0.65 0.65 0 1 0 -1.30 0M508.3 210.6a0.60 0.60 0 1 0 1.20 0a0.60 0.60 0 1 0 -1.20 0M383.7 208.9a0.75 0.75 0 1 0 1.51 0a0.75 0.75 0 1 0 -1.51 0M424.2 228.1a0.59 0.59 0 1 0 1.18 0a0.59 0.59 0 1 0 -1.18 0M483.7 297.0a0.71 0.71 0 1 0 1.43 0a0.71 0.71 0 1 0 -1.43 0M403.6 267.2a0.55 0.55 0 1 0 1.09 0a0.55 0.55 0 1 0 -1.09 0M461.6 254.2a0.77 0.77 0 1 0 1.54 0a0.77 0.77 0 1 0 -1.54 0M399.8 301.7a0.59 0.59 0 1 0 1.19 0a0.59 0.59 0 1 0 -1.19 0M416.0 208.1a0.72 0.72 0 1 0 1.45 0a0.72 0.72 0 1 0 -1.45 0M458.0 254.5a0.57 0.57 0 1 0 1.14 0a0.57 0.57 0 1 0 -1.14 0M392.8 217.9a0.53 0.53 0 1 0 1.07 0a0.53 0.53 0 1 0 -1.07 0M432.5 264.8a0.68 0.68 0 1 0 1.36 0a0.68 0.68 0 1 0 -1.36 0M490.6 234.0a0.76 0.76 0 1 0 1.52 0a0.76 0.76 0 1 0 -1.52 0M400.4 235.1a0.58 0.58 0 1 0 1.15 0a0.58 0.58 0 1 0 -1.15 0M476.7 237.7a0.80 0.80 0 1 0 1.60 0a0.80 0.80 0 1 0 -1.60 0M356.8 206.6a0.61 0.61 0 1 0 1.21 0a0.61 0.61 0 1 0 -1.21 0M488.7 272.8a0.73 0.73 0 1 0 1.45 0a0.73 0.73 0 1 0 -1.45 0M465.8 220.1a0.59 0.59 0 1 0 1.18 0a0.59 0.59 0 1 0 -1.18 0M429.2 224.2a0.57 0.57 0 1 0 1.14 0a0.57 0.57 0 1 0 -1.14 0M369.7 288.5a0.70 0.70 0 1 0 1.41 0a0.70 0.70 0 1 0 -1.41 0M409.4 242.4a0.51 0.51 0 1 0 1.01 0a0.51 0.51 0 1 0 -1.01 0M355.1 267.2a0.67 0.67 0 1 0 1.34 0a0.67 0.67 0 1 0 -1.34 0M474.7 269.7a0.59 0.59 0 1 0 1.18 0a0.59 0.59 0 1 0 -1.18 0M366.1 225.5a0.77 0.77 0 1 0 1.54 0a0.77 0.77 0 1 0 -1.54 0M386.2 216.7a0.77 0.77 0 1 0 1.54 0a0.77 0.77 0 1 0 -1.54 0" fill="#a8b83a" opacity="0.75"/>
<path d="M468.1 259.6a0.84 0.84 0 1 0 1.67 0a0.84 0.84 0 1 0 -1.67 0M438.2 298.8a0.84 0.84 0 1 0 1.68 0a0.84 0.84 0 1 0 -1.68 0M358.8 249.3a0.63 0.63 0 1 0 1.27 0a0.63 0.63 0 1 0 -1.27 0M456.0 280.7a0.52 0.52 0 1 0 1.05 0a0.52 0.52 0 1 0 -1.05 0M369.4 283.0a0.54 0.54 0 1 0 1.08 0a0.54 0.54 0 1 0 -1.08 0M402.3 262.8a0.83 0.83 0 1 0 1.66 0a0.83 0.83 0 1 0 -1.66 0M424.2 238.8a0.54 0.54 0 1 0 1.08 0a0.54 0.54 0 1 0 -1.08 0M383.5 201.6a0.54 0.54 0 1 0 1.07 0a0.54 0.54 0 1 0 -1.07 0M434.4 296.6a0.58 0.58 0 1 0 1.16 0a0.58 0.58 0 1 0 -1.16 0M405.5 295.0a0.72 0.72 0 1 0 1.44 0a0.72 0.72 0 1 0 -1.44 0M382.0 216.5a0.67 0.67 0 1 0 1.34 0a0.67 0.67 0 1 0 -1.34 0M372.8 243.0a0.80 0.80 0 1 0 1.61 0a0.80 0.80 0 1 0 -1.61 0M378.8 296.0a0.63 0.63 0 1 0 1.26 0a0.63 0.63 0 1 0 -1.26 0M447.2 260.4a0.74 0.74 0 1 0 1.47 0a0.74 0.74 0 1 0 -1.47 0M490.1 253.1a0.64 0.64 0 1 0 1.28 0a0.64 0.64 0 1 0 -1.28 0M366.0 270.7a0.65 0.65 0 1 0 1.29 0a0.65 0.65 0 1 0 -1.29 0M477.5 277.6a0.57 0.57 0 1 0 1.14 0a0.57 0.57 0 1 0 -1.14 0M470.7 299.6a0.67 0.67 0 1 0 1.33 0a0.67 0.67 0 1 0 -1.33 0M404.1 237.0a0.50 0.50 0 1 0 1.00 0a0.50 0.50 0 1 0 -1.00 0M453.6 205.3a0.76 0.76 0 1 0 1.53 0a0.76 0.76 0 1 0 -1.53 0M475.4 215.0a0.62 0.62 0 1 0 1.24 0a0.62 0.62 0 1 0 -1.24 0M476.5 210.3a0.53 0.53 0 1 0 1.06 0a0.53 0.53 0 1 0 -1.06 0M459.9 288.2a0.56 0.56 0 1 0 1.13 0a0.56 0.56 0 1 0 -1.13 0" fill="#70bc38" opacity="0.75"/>
<path d="M371.3 267.9a0.72 0.72 0 1 0 1.44 0a0.72 0.72 0 1 0 -1.44 0M413.8 260.6a0.69 0.69 0 1 0 1.39 0a0.69 0.69 0 1 0 -1.39 0M364.5 264.9a0.66 0.66 0 1 0 1.33 0a0.66 0.66 0 1 0 -1.33 0M461.4 212.7a0.68 0.68 0 1 0 1.35 0a0.68 0.68 0 1 0 -1.35 0M367.6 277.0a0.58 0.58 0 1 0 1.15 0a0.58 0.58 0 1 0 -1.15 0M408.9 212.5a0.60 0.60 0 1 0 1.20 0a0.60 0.60 0 1 0 -1.20 0M360.1 246.9a0.76 0.76 0 1 0 1.53 0a0.76 0.76 0 1 0 -1.53 0M439.5 292.6a0.80 0.80 0 1 0 1.60 0a0.80 0.80 0 1 0 -1.60 0M436.6 242.4a0.83 0.83 0 1 0 1.66 0a0.83 0.83 0 1 0 -1.66 0M506.7 288.9a0.53 0.53 0 1 0 1.06 0a0.53 0.53 0 1 0 -1.06 0M379.6 206.4a0.64 0.64 0 1 0 1.27 0a0.64 0.64 0 1 0 -1.27 0M447.5 260.4a0.84 0.84 0 1 0 1.69 0a0.84 0.84 0 1 0 -1.69 0M470.6 250.4a0.54 0.54 0 1 0 1.09 0a0.54 0.54 0 1 0 -1.09 0M367.0 244.4a0.65 0.65 0 1 0 1.31 0a0.65 0.65 0 1 0 -1.31 0M401.0 270.0a0.73 0.73 0 1 0 1.46 0a0.73 0.73 0 1 0 -1.46 0M361.8 252.0a0.59 0.59 0 1 0 1.17 0a0.59 0.59 0 1 0 -1.17 0M381.5 217.7a0.80 0.80 0 1 0 1.61 0a0.80 0.80 0 1 0 -1.61 0M432.7 200.8a0.62 0.62 0 1 0 1.24 0a0.62 0.62 0 1 0 -1.24 0M383.1 293.6a0.75 0.75 0 1 0 1.50 0a0.75 0.75 0 1 0 -1.50 0M409.1 211.9a0.52 0.52 0 1 0 1.04 0a0.52 0.52 0 1 0 -1.04 0M393.9 226.8a0.79 0.79 0 1 0 1.57 0a0.79 0.79 0 1 0 -1.57 0M448.2 289.3a0.54 0.54 0 1 0 1.07 0a0.54 0.54 0 1 0 -1.07 0M449.3 221.4a0.62 0.62 0 1 0 1.25 0a0.62 0.62 0 1 0 -1.25 0M422.2 235.1a0.76 0.76 0 1 0 1.52 0a0.76 0.76 0 1 0 -1.52 0M470.7 287.5a0.64 0.64 0 1 0 1.29 0a0.64 0.64 0 1 0 -1.29 0M461.4 303.4a0.69 0.69 0 1 0 1.38 0a0.69 0.69 0 1 0 -1.38 0M448.1 211.0a0.54 0.54 0 1 0 1.09 0a0.54 0.54 0 1 0 -1.09 0M404.1 227.4a0.83 0.83 0 1 0 1.66 0a0.83 0.83 0 1 0 -1.66 0M410.2 299.0a0.67 0.67 0 1 0 1.34 0a0.67 0.67 0 1 0 -1.34 0M475.0 275.0a0.62 0.62 0 1 0 1.24 0a0.62 0.62 0 1 0 -1.24 0M477.4 289.4a0.67 0.67 0 1 0 1.34 0a0.67 0.67 0 1 0 -1.34 0M420.8 257.7a0.77 0.77 0 1 0 1.53 0a0.77 0.77 0 1 0 -1.53 0M490.2 213.1a0.53 0.53 0 1 0 1.06 0a0.53 0.53 0 1 0 -1.06 0M433.5 299.3a0.80 0.80 0 1 0 1.59 0a0.80 0.80 0 1 0 -1.59 0M395.0 265.0a0.70 0.70 0 1 0 1.39 0a0.70 0.70 0 1 0 -1.39 0M415.5 283.7a0.66 0.66 0 1 0 1.31 0a0.66 0.66 0 1 0 -1.31 0M359.3 234.5a0.57 0.57 0 1 0 1.14 0a0.57 0.57 0 1 0 -1.14 0M362.6 270.0a0.61 0.61 0 1 0 1.21 0a0.61 0.61 0 1 0 -1.21 0M458.6 233.9a0.77 0.77 0 1 0 1.55 0a0.77 0.77 0 1 0 -1.55 0M448.7 201.8a0.61 0.61 0 1 0 1.21 0a0.61 0.61 0 1 0 -1.21 0M422.0 203.0a0.76 0.76 0 1 0 1.51 0a0.76 0.76 0 1 0 -1.51 0M373.1 290.1a0.56 0.56 0 1 0 1.12 0a0.56 0.56 0 1 0 -1.12 0M480.3 224.2a0.82 0.82 0 1 0 1.64 0a0.82 0.82 0 1 0 -1.64 0M470.7 280.7a0.76 0.76 0 1 0 1.52 0a0.76 0.76 0 1 0 -1.52 0M366.8 285.4a0.56 0.56 0 1 0 1.13 0a0.56 0.56 0 1 0 -1.13 0M377.3 228.9a0.59 0.59 0 1 0 1.17 0a0.59 0.59 0 1 0 -1.17 0M410.4 252.3a0.76 0.76 0 1 0 1.52 0a0.76 0.76 0 1 0 -1.52 0M490.8 268.6a0.63 0.63 0 1 0 1.25 0a0.63 0.63 0 1 0 -1.25 0M456.5 221.3a0.75 0.75 0 1 0 1.50 0a0.75 0.75 0 1 0 -1.50 0M493.0 264.6a0.61 0.61 0 1 0 1.22 0a0.61 0.61 0 1 0 -1.22 0M491.5 289.0a0.79 0.79 0 1 0 1.59 0a0.79 0.79 0 1 0 -1.59 0" fill="#b04c32" opacity="0.8"/>
<path d="M399.3 205.5a0.80 0.80 0 1 0 1.60 0a0.80 0.80 0 1 0 -1.60 0M474.8 290.8a0.52 0.52 0 1 0 1.03 0a0.52 0.52 0 1 0 -1.03 0M392.2 218.6a0.65 0.65 0 1 0 1.30 0a0.65 0.65 0 1 0 -1.30 0M427.4 265.6a0.60 0.60 0 1 0 1.20 0a0.60 0.60 0 1 0 -1.20 0M498.6 293.3a0.81 0.81 0 1 0 1.63 0a0.81 0.81 0 1 0 -1.63 0M374.6 301.2a0.69 0.69 0 1 0 1.38 0a0.69 0.69 0 1 0 -1.38 0M396.9 254.4a0.65 0.65 0 1 0 1.30 0a0.65 0.65 0 1 0 -1.30 0M355.6 275.0a0.78 0.78 0 1 0 1.56 0a0.78 0.78 0 1 0 -1.56 0M413.0 262.5a0.77 0.77 0 1 0 1.55 0a0.77 0.77 0 1 0 -1.55 0M478.2 269.2a0.76 0.76 0 1 0 1.51 0a0.76 0.76 0 1 0 -1.51 0M459.6 286.9a0.83 0.83 0 1 0 1.67 0a0.83 0.83 0 1 0 -1.67 0M360.8 279.7a0.68 0.68 0 1 0 1.36 0a0.68 0.68 0 1 0 -1.36 0M360.7 246.5a0.76 0.76 0 1 0 1.51 0a0.76 0.76 0 1 0 -1.51 0M491.2 298.4a0.66 0.66 0 1 0 1.31 0a0.66 0.66 0 1 0 -1.31 0M387.9 284.5a0.82 0.82 0 1 0 1.65 0a0.82 0.82 0 1 0 -1.65 0M462.9 213.0a0.80 0.80 0 1 0 1.60 0a0.80 0.80 0 1 0 -1.60 0M466.4 276.8a0.62 0.62 0 1 0 1.24 0a0.62 0.62 0 1 0 -1.24 0M488.9 244.9a0.76 0.76 0 1 0 1.53 0a0.76 0.76 0 1 0 -1.53 0M392.8 239.8a0.57 0.57 0 1 0 1.13 0a0.57 0.57 0 1 0 -1.13 0M361.7 216.9a0.76 0.76 0 1 0 1.53 0a0.76 0.76 0 1 0 -1.53 0M468.3 206.9a0.62 0.62 0 1 0 1.24 0a0.62 0.62 0 1 0 -1.24 0M498.8 271.1a0.63 0.63 0 1 0 1.26 0a0.63 0.63 0 1 0 -1.26 0M428.2 260.7a0.51 0.51 0 1 0 1.02 0a0.51 0.51 0 1 0 -1.02 0M383.9 200.2a0.65 0.65 0 1 0 1.30 0a0.65 0.65 0 1 0 -1.30 0M356.4 237.9a0.55 0.55 0 1 0 1.10 0a0.55 0.55 0 1 0 -1.10 0M508.5 254.5a0.65 0.65 0 1 0 1.31 0a0.65 0.65 0 1 0 -1.31 0M485.3 295.0a0.65 0.65 0 1 0 1.31 0a0.65 0.65 0 1 0 -1.31 0M399.6 218.8a0.79 0.79 0 1 0 1.58 0a0.79 0.79 0 1 0 -1.58 0M365.0 291.3a0.76 0.76 0 1 0 1.52 0a0.76 0.76 0 1 0 -1.52 0M412.2 222.4a0.60 0.60 0 1 0 1.20 0a0.60 0.60 0 1 0 -1.20 0M421.2 217.5a0.61 0.61 0 1 0 1.21 0a0.61 0.61 0 1 0 -1.21 0M508.2 282.2a0.76 0.76 0 1 0 1.51 0a0.76 0.76 0 1 0 -1.51 0M395.1 256.2a0.70 0.70 0 1 0 1.41 0a0.70 0.70 0 1 0 -1.41 0M428.6 199.3a0.75 0.75 0 1 0 1.50 0a0.75 0.75 0 1 0 -1.50 0M370.3 284.9a0.64 0.64 0 1 0 1.28 0a0.64 0.64 0 1 0 -1.28 0M358.0 298.8a0.61 0.61 0 1 0 1.22 0a0.61 0.61 0 1 0 -1.22 0M476.0 244.9a0.77 0.77 0 1 0 1.54 0a0.77 0.77 0 1 0 -1.54 0M491.6 302.1a0.52 0.52 0 1 0 1.04 0a0.52 0.52 0 1 0 -1.04 0M454.8 251.7a0.62 0.62 0 1 0 1.24 0a0.62 0.62 0 1 0 -1.24 0M510.2 270.1a0.81 0.81 0 1 0 1.61 0a0.81 0.81 0 1 0 -1.61 0M470.6 264.1a0.77 0.77 0 1 0 1.54 0a0.77 0.77 0 1 0 -1.54 0M445.2 214.5a0.65 0.65 0 1 0 1.30 0a0.65 0.65 0 1 0 -1.30 0M367.7 295.6a0.65 0.65 0 1 0 1.29 0a0.65 0.65 0 1 0 -1.29 0M490.5 226.6a0.59 0.59 0 1 0 1.17 0a0.59 0.59 0 1 0 -1.17 0M474.0 278.9a0.53 0.53 0 1 0 1.06 0a0.53 0.53 0 1 0 -1.06 0M445.2 264.9a0.61 0.61 0 1 0 1.23 0a0.61 0.61 0 1 0 -1.23 0" fill="#a8432e" opacity="0.8"/>
<path d="M408.5 205.8a0.81 0.81 0 1 0 1.63 0a0.81 0.81 0 1 0 -1.63 0M507.1 253.7a0.69 0.69 0 1 0 1.38 0a0.69 0.69 0 1 0 -1.38 0M488.5 280.5a0.52 0.52 0 1 0 1.03 0a0.52 0.52 0 1 0 -1.03 0M481.3 274.3a0.67 0.67 0 1 0 1.33 0a0.67 0.67 0 1 0 -1.33 0M415.1 297.6a0.63 0.63 0 1 0 1.25 0a0.63 0.63 0 1 0 -1.25 0M364.8 248.6a0.57 0.57 0 1 0 1.14 0a0.57 0.57 0 1 0 -1.14 0M438.6 216.3a0.52 0.52 0 1 0 1.04 0a0.52 0.52 0 1 0 -1.04 0M448.9 284.3a0.66 0.66 0 1 0 1.32 0a0.66 0.66 0 1 0 -1.32 0M426.9 229.3a0.70 0.70 0 1 0 1.39 0a0.70 0.70 0 1 0 -1.39 0M503.8 214.0a0.82 0.82 0 1 0 1.63 0a0.82 0.82 0 1 0 -1.63 0M504.5 255.2a0.63 0.63 0 1 0 1.27 0a0.63 0.63 0 1 0 -1.27 0M445.4 233.1a0.71 0.71 0 1 0 1.41 0a0.71 0.71 0 1 0 -1.41 0M389.4 303.7a0.76 0.76 0 1 0 1.51 0a0.76 0.76 0 1 0 -1.51 0M423.3 294.5a0.74 0.74 0 1 0 1.48 0a0.74 0.74 0 1 0 -1.48 0M436.7 259.3a0.53 0.53 0 1 0 1.06 0a0.53 0.53 0 1 0 -1.06 0M488.5 276.6a0.57 0.57 0 1 0 1.14 0a0.57 0.57 0 1 0 -1.14 0M414.7 288.5a0.79 0.79 0 1 0 1.58 0a0.79 0.79 0 1 0 -1.58 0M463.1 234.7a0.54 0.54 0 1 0 1.08 0a0.54 0.54 0 1 0 -1.08 0M506.5 233.2a0.77 0.77 0 1 0 1.53 0a0.77 0.77 0 1 0 -1.53 0M373.0 269.0a0.59 0.59 0 1 0 1.17 0a0.59 0.59 0 1 0 -1.17 0M436.3 243.8a0.61 0.61 0 1 0 1.22 0a0.61 0.61 0 1 0 -1.22 0M448.2 268.7a0.85 0.85 0 1 0 1.70 0a0.85 0.85 0 1 0 -1.70 0M496.1 244.7a0.55 0.55 0 1 0 1.10 0a0.55 0.55 0 1 0 -1.10 0M365.7 292.8a0.69 0.69 0 1 0 1.39 0a0.69 0.69 0 1 0 -1.39 0M398.9 268.6a0.51 0.51 0 1 0 1.02 0a0.51 0.51 0 1 0 -1.02 0M360.8 252.6a0.83 0.83 0 1 0 1.66 0a0.83 0.83 0 1 0 -1.66 0M462.3 243.4a0.59 0.59 0 1 0 1.17 0a0.59 0.59 0 1 0 -1.17 0M492.8 278.8a0.60 0.60 0 1 0 1.19 0a0.60 0.60 0 1 0 -1.19 0M425.8 293.5a0.79 0.79 0 1 0 1.57 0a0.79 0.79 0 1 0 -1.57 0" fill="#b4c030" opacity="0.75"/>
<path d="M379.3 203.3a0.80 0.80 0 1 0 1.61 0a0.80 0.80 0 1 0 -1.61 0M508.6 232.0a0.63 0.63 0 1 0 1.26 0a0.63 0.63 0 1 0 -1.26 0M508.3 244.6a0.83 0.83 0 1 0 1.67 0a0.83 0.83 0 1 0 -1.67 0M409.8 219.6a0.69 0.69 0 1 0 1.37 0a0.69 0.69 0 1 0 -1.37 0M430.9 259.0a0.64 0.64 0 1 0 1.28 0a0.64 0.64 0 1 0 -1.28 0M362.2 208.5a0.53 0.53 0 1 0 1.07 0a0.53 0.53 0 1 0 -1.07 0M500.8 257.5a0.84 0.84 0 1 0 1.68 0a0.84 0.84 0 1 0 -1.68 0M497.6 253.3a0.66 0.66 0 1 0 1.31 0a0.66 0.66 0 1 0 -1.31 0M376.4 278.1a0.55 0.55 0 1 0 1.10 0a0.55 0.55 0 1 0 -1.10 0M477.0 291.7a0.52 0.52 0 1 0 1.03 0a0.52 0.52 0 1 0 -1.03 0M468.2 277.0a0.73 0.73 0 1 0 1.45 0a0.73 0.73 0 1 0 -1.45 0M443.3 269.4a0.64 0.64 0 1 0 1.27 0a0.64 0.64 0 1 0 -1.27 0M384.9 265.6a0.54 0.54 0 1 0 1.08 0a0.54 0.54 0 1 0 -1.08 0M424.7 236.9a0.64 0.64 0 1 0 1.28 0a0.64 0.64 0 1 0 -1.28 0M395.2 237.8a0.80 0.80 0 1 0 1.60 0a0.80 0.80 0 1 0 -1.60 0M417.9 232.3a0.51 0.51 0 1 0 1.02 0a0.51 0.51 0 1 0 -1.02 0M418.0 240.6a0.51 0.51 0 1 0 1.02 0a0.51 0.51 0 1 0 -1.02 0M423.2 245.6a0.75 0.75 0 1 0 1.49 0a0.75 0.75 0 1 0 -1.49 0M407.7 231.6a0.66 0.66 0 1 0 1.32 0a0.66 0.66 0 1 0 -1.32 0M427.0 273.8a0.80 0.80 0 1 0 1.60 0a0.80 0.80 0 1 0 -1.60 0M377.2 245.6a0.82 0.82 0 1 0 1.64 0a0.82 0.82 0 1 0 -1.64 0M499.8 253.6a0.51 0.51 0 1 0 1.01 0a0.51 0.51 0 1 0 -1.01 0M509.8 216.3a0.77 0.77 0 1 0 1.53 0a0.77 0.77 0 1 0 -1.53 0M379.3 232.0a0.68 0.68 0 1 0 1.37 0a0.68 0.68 0 1 0 -1.37 0M401.7 289.3a0.84 0.84 0 1 0 1.67 0a0.84 0.84 0 1 0 -1.67 0M375.5 262.4a0.52 0.52 0 1 0 1.04 0a0.52 0.52 0 1 0 -1.04 0M505.4 246.5a0.67 0.67 0 1 0 1.33 0a0.67 0.67 0 1 0 -1.33 0M487.7 239.3a0.84 0.84 0 1 0 1.69 0a0.84 0.84 0 1 0 -1.69 0M377.9 222.0a0.63 0.63 0 1 0 1.26 0a0.63 0.63 0 1 0 -1.26 0M422.1 282.7a0.63 0.63 0 1 0 1.27 0a0.63 0.63 0 1 0 -1.27 0M488.4 265.2a0.67 0.67 0 1 0 1.35 0a0.67 0.67 0 1 0 -1.35 0M485.9 232.0a0.76 0.76 0 1 0 1.53 0a0.76 0.76 0 1 0 -1.53 0M508.2 235.3a0.85 0.85 0 1 0 1.70 0a0.85 0.85 0 1 0 -1.70 0M411.9 275.1a0.71 0.71 0 1 0 1.42 0a0.71 0.71 0 1 0 -1.42 0M429.3 244.5a0.59 0.59 0 1 0 1.18 0a0.59 0.59 0 1 0 -1.18 0M396.1 281.0a0.83 0.83 0 1 0 1.66 0a0.83 0.83 0 1 0 -1.66 0M360.2 244.3a0.50 0.50 0 1 0 1.00 0a0.50 0.50 0 1 0 -1.00 0M454.6 302.7a0.63 0.63 0 1 0 1.27 0a0.63 0.63 0 1 0 -1.27 0M378.2 253.5a0.61 0.61 0 1 0 1.22 0a0.61 0.61 0 1 0 -1.22 0M379.7 240.1a0.76 0.76 0 1 0 1.52 0a0.76 0.76 0 1 0 -1.52 0M450.5 248.8a0.52 0.52 0 1 0 1.04 0a0.52 0.52 0 1 0 -1.04 0M448.2 295.0a0.72 0.72 0 1 0 1.45 0a0.72 0.72 0 1 0 -1.45 0M473.3 240.1a0.57 0.57 0 1 0 1.14 0a0.57 0.57 0 1 0 -1.14 0M453.8 260.5a0.80 0.80 0 1 0 1.60 0a0.80 0.80 0 1 0 -1.60 0M379.9 264.2a0.66 0.66 0 1 0 1.31 0a0.66 0.66 0 1 0 -1.31 0" fill="#9c3e30" opacity="0.8"/>
<path d="M448.4 298.8a0.74 0.74 0 1 0 1.47 0a0.74 0.74 0 1 0 -1.47 0M404.1 299.0a0.65 0.65 0 1 0 1.29 0a0.65 0.65 0 1 0 -1.29 0M416.1 209.3a0.59 0.59 0 1 0 1.19 0a0.59 0.59 0 1 0 -1.19 0M460.9 258.3a0.82 0.82 0 1 0 1.64 0a0.82 0.82 0 1 0 -1.64 0M427.0 292.3a0.78 0.78 0 1 0 1.56 0a0.78 0.78 0 1 0 -1.56 0M460.1 267.0a0.55 0.55 0 1 0 1.10 0a0.55 0.55 0 1 0 -1.10 0M374.7 235.9a0.82 0.82 0 1 0 1.64 0a0.82 0.82 0 1 0 -1.64 0M425.9 239.3a0.76 0.76 0 1 0 1.53 0a0.76 0.76 0 1 0 -1.53 0M420.0 256.8a0.71 0.71 0 1 0 1.43 0a0.71 0.71 0 1 0 -1.43 0M468.8 226.1a0.53 0.53 0 1 0 1.06 0a0.53 0.53 0 1 0 -1.06 0M435.5 233.4a0.84 0.84 0 1 0 1.68 0a0.84 0.84 0 1 0 -1.68 0M452.7 245.3a0.58 0.58 0 1 0 1.17 0a0.58 0.58 0 1 0 -1.17 0M495.6 240.1a0.68 0.68 0 1 0 1.37 0a0.68 0.68 0 1 0 -1.37 0M373.9 261.5a0.83 0.83 0 1 0 1.66 0a0.83 0.83 0 1 0 -1.66 0M398.8 207.8a0.81 0.81 0 1 0 1.62 0a0.81 0.81 0 1 0 -1.62 0M355.3 266.7a0.79 0.79 0 1 0 1.57 0a0.79 0.79 0 1 0 -1.57 0M472.3 285.2a0.52 0.52 0 1 0 1.05 0a0.52 0.52 0 1 0 -1.05 0M396.2 229.2a0.83 0.83 0 1 0 1.66 0a0.83 0.83 0 1 0 -1.66 0M503.9 246.8a0.70 0.70 0 1 0 1.40 0a0.70 0.70 0 1 0 -1.40 0M365.7 223.5a0.69 0.69 0 1 0 1.38 0a0.69 0.69 0 1 0 -1.38 0M366.3 250.0a0.73 0.73 0 1 0 1.46 0a0.73 0.73 0 1 0 -1.46 0M455.1 228.1a0.81 0.81 0 1 0 1.62 0a0.81 0.81 0 1 0 -1.62 0M451.8 285.5a0.62 0.62 0 1 0 1.25 0a0.62 0.62 0 1 0 -1.25 0" fill="#9cc230" opacity="0.75"/>
<path d="M429.9 211.5a0.68 0.68 0 1 0 1.35 0a0.68 0.68 0 1 0 -1.35 0M392.2 227.7a0.81 0.81 0 1 0 1.62 0a0.81 0.81 0 1 0 -1.62 0M482.3 234.8a0.80 0.80 0 1 0 1.60 0a0.80 0.80 0 1 0 -1.60 0M392.8 218.8a0.59 0.59 0 1 0 1.18 0a0.59 0.59 0 1 0 -1.18 0M410.1 288.1a0.54 0.54 0 1 0 1.08 0a0.54 0.54 0 1 0 -1.08 0M442.9 299.9a0.81 0.81 0 1 0 1.62 0a0.81 0.81 0 1 0 -1.62 0M452.0 204.1a0.63 0.63 0 1 0 1.25 0a0.63 0.63 0 1 0 -1.25 0M387.7 216.8a0.64 0.64 0 1 0 1.28 0a0.64 0.64 0 1 0 -1.28 0M376.8 263.0a0.65 0.65 0 1 0 1.31 0a0.65 0.65 0 1 0 -1.31 0M355.8 202.0a0.53 0.53 0 1 0 1.06 0a0.53 0.53 0 1 0 -1.06 0M473.1 270.2a0.53 0.53 0 1 0 1.07 0a0.53 0.53 0 1 0 -1.07 0M455.8 303.9a0.50 0.50 0 1 0 1.00 0a0.50 0.50 0 1 0 -1.00 0M476.6 248.1a0.72 0.72 0 1 0 1.44 0a0.72 0.72 0 1 0 -1.44 0M510.1 222.3a0.83 0.83 0 1 0 1.67 0a0.83 0.83 0 1 0 -1.67 0M441.0 228.3a0.56 0.56 0 1 0 1.12 0a0.56 0.56 0 1 0 -1.12 0M435.1 237.9a0.72 0.72 0 1 0 1.44 0a0.72 0.72 0 1 0 -1.44 0M507.5 207.2a0.58 0.58 0 1 0 1.16 0a0.58 0.58 0 1 0 -1.16 0M463.6 210.9a0.72 0.72 0 1 0 1.44 0a0.72 0.72 0 1 0 -1.44 0M492.7 220.8a0.65 0.65 0 1 0 1.30 0a0.65 0.65 0 1 0 -1.30 0M452.8 268.3a0.65 0.65 0 1 0 1.31 0a0.65 0.65 0 1 0 -1.31 0M508.6 286.9a0.76 0.76 0 1 0 1.52 0a0.76 0.76 0 1 0 -1.52 0M461.5 223.1a0.59 0.59 0 1 0 1.18 0a0.59 0.59 0 1 0 -1.18 0M425.9 303.6a0.71 0.71 0 1 0 1.43 0a0.71 0.71 0 1 0 -1.43 0M479.7 276.8a0.77 0.77 0 1 0 1.54 0a0.77 0.77 0 1 0 -1.54 0M504.8 203.4a0.84 0.84 0 1 0 1.67 0a0.84 0.84 0 1 0 -1.67 0M466.2 282.6a0.77 0.77 0 1 0 1.55 0a0.77 0.77 0 1 0 -1.55 0M372.0 279.3a0.73 0.73 0 1 0 1.47 0a0.73 0.73 0 1 0 -1.47 0M407.3 279.6a0.77 0.77 0 1 0 1.54 0a0.77 0.77 0 1 0 -1.54 0M506.3 199.0a0.57 0.57 0 1 0 1.14 0a0.57 0.57 0 1 0 -1.14 0M463.6 257.5a0.65 0.65 0 1 0 1.30 0a0.65 0.65 0 1 0 -1.30 0" fill="#86c03a" opacity="0.75"/>
<path d="M359.7 239.4h1v1h-1zM485.3 256.2h1v1h-1zM490.7 216.0h1v1h-1zM367.4 248.7h1v1h-1zM482.0 217.1h1v1h-1zM406.0 262.9h1v1h-1zM497.1 233.7h1v1h-1zM498.2 247.2h1v1h-1zM367.5 294.6h1v1h-1zM480.4 236.6h1v1h-1zM444.8 200.7h1v1h-1zM411.5 202.2h1v1h-1zM383.5 211.2h1v1h-1zM490.0 271.3h1v1h-1zM452.4 248.3h1v1h-1zM356.6 297.3h1v1h-1zM421.2 293.5h1v1h-1zM363.3 234.9h1v1h-1zM487.2 235.8h1v1h-1zM456.8 205.7h1v1h-1zM477.5 230.2h1v1h-1zM472.0 238.7h1v1h-1zM416.3 207.3h1v1h-1zM446.7 250.4h1v1h-1zM434.9 208.0h1v1h-1zM403.3 206.1h1v1h-1zM491.8 275.8h1v1h-1zM440.9 231.9h1v1h-1zM394.0 221.9h1v1h-1zM468.3 240.2h1v1h-1zM504.3 265.7h1v1h-1zM400.8 272.1h1v1h-1zM503.5 214.7h1v1h-1zM462.3 268.6h1v1h-1zM443.5 224.1h1v1h-1zM434.5 246.5h1v1h-1zM470.6 242.4h1v1h-1zM481.4 277.2h1v1h-1zM435.6 230.5h1v1h-1zM418.7 238.8h1v1h-1zM505.2 206.8h1v1h-1zM483.9 263.9h1v1h-1zM404.7 209.7h1v1h-1zM498.5 239.3h1v1h-1zM421.4 273.5h1v1h-1zM401.8 304.4h1v1h-1zM426.3 258.9h1v1h-1zM450.7 249.7h1v1h-1zM490.8 260.4h1v1h-1zM467.1 220.9h1v1h-1zM423.8 200.7h1v1h-1zM492.2 302.8h1v1h-1zM461.4 229.4h1v1h-1zM376.9 292.8h1v1h-1zM468.3 203.0h1v1h-1zM419.7 239.7h1v1h-1zM480.9 289.8h1v1h-1zM422.6 200.0h1v1h-1zM473.3 238.4h1v1h-1zM491.0 246.2h1v1h-1zM393.6 287.1h1v1h-1zM462.1 266.8h1v1h-1zM373.1 258.9h1v1h-1zM497.2 295.0h1v1h-1zM498.8 276.6h1v1h-1zM409.7 201.1h1v1h-1zM412.2 203.8h1v1h-1zM487.1 228.1h1v1h-1zM406.9 198.8h1v1h-1zM414.6 274.3h1v1h-1zM495.7 291.8h1v1h-1zM502.5 199.3h1v1h-1zM394.3 232.6h1v1h-1zM429.6 249.2h1v1h-1zM417.6 238.4h1v1h-1zM358.5 246.4h1v1h-1zM506.5 257.5h1v1h-1zM459.4 224.7h1v1h-1zM423.4 251.5h1v1h-1zM366.1 290.3h1v1h-1zM394.1 200.5h1v1h-1zM463.3 231.7h1v1h-1zM478.6 203.4h1v1h-1zM390.8 206.5h1v1h-1zM372.9 267.9h1v1h-1zM465.1 238.9h1v1h-1zM486.1 286.3h1v1h-1zM382.2 299.1h1v1h-1zM411.5 257.6h1v1h-1zM495.7 294.7h1v1h-1zM383.4 207.5h1v1h-1zM486.1 235.7h1v1h-1zM370.1 300.1h1v1h-1zM428.8 230.8h1v1h-1zM427.9 229.3h1v1h-1zM371.0 205.5h1v1h-1zM371.7 206.3h1v1h-1zM491.6 224.1h1v1h-1zM404.8 266.6h1v1h-1zM382.5 301.9h1v1h-1zM469.9 281.9h1v1h-1zM437.5 273.0h1v1h-1zM490.1 219.3h1v1h-1zM454.6 232.7h1v1h-1zM500.4 223.6h1v1h-1zM459.6 216.9h1v1h-1zM467.6 224.6h1v1h-1zM399.4 231.2h1v1h-1zM413.6 304.1h1v1h-1zM413.3 255.5h1v1h-1zM408.0 259.4h1v1h-1zM444.0 294.0h1v1h-1zM370.9 234.3h1v1h-1zM467.4 272.5h1v1h-1zM396.1 297.6h1v1h-1zM390.7 245.8h1v1h-1zM466.4 271.9h1v1h-1zM506.6 284.4h1v1h-1zM429.8 210.9h1v1h-1zM433.1 217.8h1v1h-1zM459.0 203.8h1v1h-1zM365.1 263.2h1v1h-1zM356.0 223.4h1v1h-1zM413.2 226.1h1v1h-1zM449.4 270.3h1v1h-1zM510.2 231.9h1v1h-1zM509.3 261.6h1v1h-1zM436.0 272.6h1v1h-1zM492.2 243.5h1v1h-1zM466.3 282.3h1v1h-1zM391.9 302.3h1v1h-1zM374.9 258.8h1v1h-1zM477.3 288.1h1v1h-1zM435.9 250.2h1v1h-1zM395.9 232.5h1v1h-1zM388.1 240.8h1v1h-1zM471.0 293.9h1v1h-1zM374.0 243.7h1v1h-1zM478.5 299.0h1v1h-1zM468.1 215.5h1v1h-1zM434.4 224.0h1v1h-1zM406.8 243.9h1v1h-1zM506.2 240.2h1v1h-1zM357.2 286.6h1v1h-1zM442.1 228.5h1v1h-1zM504.0 215.2h1v1h-1zM486.0 200.4h1v1h-1zM470.8 216.8h1v1h-1zM478.5 262.9h1v1h-1zM367.2 199.4h1v1h-1zM419.3 271.5h1v1h-1zM436.8 248.6h1v1h-1zM369.9 279.9h1v1h-1zM455.1 253.1h1v1h-1zM359.5 260.5h1v1h-1zM442.9 284.7h1v1h-1zM448.1 262.3h1v1h-1zM456.4 266.2h1v1h-1zM473.9 277.5h1v1h-1zM433.2 271.0h1v1h-1zM381.6 234.3h1v1h-1zM369.1 285.8h1v1h-1zM394.7 254.9h1v1h-1zM404.3 261.5h1v1h-1zM360.1 256.7h1v1h-1zM377.9 298.7h1v1h-1zM370.3 245.6h1v1h-1zM401.4 250.3h1v1h-1zM435.7 229.9h1v1h-1zM411.3 227.9h1v1h-1zM390.5 303.5h1v1h-1zM409.0 291.5h1v1h-1zM429.8 257.6h1v1h-1zM365.3 200.1h1v1h-1zM442.1 261.9h1v1h-1zM399.5 260.2h1v1h-1zM467.8 272.5h1v1h-1zM414.3 237.5h1v1h-1zM466.4 261.0h1v1h-1zM486.0 243.4h1v1h-1zM371.0 260.6h1v1h-1zM379.2 231.7h1v1h-1zM365.4 304.3h1v1h-1zM433.9 279.6h1v1h-1zM395.8 299.3h1v1h-1zM465.3 199.2h1v1h-1zM358.4 246.3h1v1h-1zM404.9 267.3h1v1h-1zM485.0 244.4h1v1h-1zM372.6 260.0h1v1h-1zM374.8 285.9h1v1h-1zM382.9 212.2h1v1h-1zM451.4 275.6h1v1h-1zM446.6 218.8h1v1h-1zM384.9 247.2h1v1h-1zM486.4 300.3h1v1h-1zM431.6 294.4h1v1h-1zM459.8 232.1h1v1h-1zM403.3 265.9h1v1h-1zM477.8 236.0h1v1h-1zM445.3 266.4h1v1h-1zM472.5 238.2h1v1h-1zM412.0 228.9h1v1h-1zM497.1 295.4h1v1h-1zM469.8 242.9h1v1h-1zM411.7 291.8h1v1h-1zM427.1 207.1h1v1h-1zM357.8 269.7h1v1h-1zM426.0 288.7h1v1h-1zM437.4 236.3h1v1h-1zM499.8 236.6h1v1h-1zM472.1 215.4h1v1h-1zM497.4 203.8h1v1h-1zM362.9 228.6h1v1h-1zM425.9 247.5h1v1h-1zM498.7 276.0h1v1h-1zM356.2 287.1h1v1h-1zM489.6 220.2h1v1h-1zM446.0 246.6h1v1h-1zM498.6 258.2h1v1h-1zM391.7 283.6h1v1h-1zM417.7 236.5h1v1h-1zM481.6 266.2h1v1h-1zM432.8 270.6h1v1h-1zM488.5 251.8h1v1h-1zM478.6 221.0h1v1h-1zM511.3 205.6h1v1h-1zM467.3 276.2h1v1h-1zM426.8 268.2h1v1h-1zM376.2 285.8h1v1h-1zM495.2 243.1h1v1h-1zM414.5 248.1h1v1h-1zM392.4 250.0h1v1h-1zM494.5 206.4h1v1h-1zM392.8 238.3h1v1h-1zM359.1 245.5h1v1h-1zM484.9 298.7h1v1h-1zM460.2 273.6h1v1h-1zM363.4 210.3h1v1h-1zM433.2 248.6h1v1h-1zM453.8 233.7h1v1h-1zM448.8 211.3h1v1h-1zM450.1 265.1h1v1h-1zM411.3 297.5h1v1h-1zM461.7 257.8h1v1h-1zM490.5 273.8h1v1h-1zM491.0 291.5h1v1h-1zM429.7 257.2h1v1h-1zM414.2 255.4h1v1h-1zM424.7 208.0h1v1h-1zM506.4 231.3h1v1h-1zM405.7 290.3h1v1h-1zM404.5 261.8h1v1h-1zM377.0 237.3h1v1h-1zM450.6 287.7h1v1h-1zM437.9 210.4h1v1h-1zM435.1 284.8h1v1h-1zM394.0 285.9h1v1h-1zM368.8 258.6h1v1h-1zM411.5 220.4h1v1h-1zM470.3 280.3h1v1h-1zM384.8 214.8h1v1h-1zM503.1 279.5h1v1h-1zM437.7 276.2h1v1h-1zM443.2 240.0h1v1h-1zM450.3 300.0h1v1h-1zM364.1 271.9h1v1h-1zM442.2 250.7h1v1h-1zM420.4 262.1h1v1h-1zM412.4 276.2h1v1h-1zM489.1 293.0h1v1h-1zM444.7 206.4h1v1h-1zM504.4 241.7h1v1h-1zM386.3 221.6h1v1h-1zM429.5 278.9h1v1h-1zM413.5 237.8h1v1h-1zM485.8 281.2h1v1h-1zM408.8 210.0h1v1h-1zM437.3 247.8h1v1h-1zM397.3 232.7h1v1h-1zM411.9 243.5h1v1h-1zM507.2 268.9h1v1h-1zM496.8 261.8h1v1h-1zM505.8 238.3h1v1h-1zM395.7 277.5h1v1h-1zM417.1 272.6h1v1h-1zM497.6 200.5h1v1h-1zM424.2 256.4h1v1h-1zM371.3 210.5h1v1h-1zM486.9 250.5h1v1h-1zM395.6 261.3h1v1h-1zM482.0 258.3h1v1h-1zM370.7 249.2h1v1h-1zM480.2 249.6h1v1h-1zM472.2 301.2h1v1h-1zM433.9 263.4h1v1h-1zM467.2 250.7h1v1h-1zM490.7 200.8h1v1h-1zM493.2 223.9h1v1h-1zM502.6 237.3h1v1h-1zM453.2 245.8h1v1h-1zM445.7 231.9h1v1h-1zM400.4 238.1h1v1h-1zM386.3 216.1h1v1h-1zM355.5 242.0h1v1h-1zM482.3 287.0h1v1h-1zM450.2 239.7h1v1h-1zM480.2 222.4h1v1h-1zM480.2 240.4h1v1h-1zM361.4 226.0h1v1h-1zM464.1 224.2h1v1h-1zM463.5 263.3h1v1h-1zM362.5 233.9h1v1h-1zM445.3 293.9h1v1h-1zM367.2 262.8h1v1h-1zM471.5 221.1h1v1h-1zM505.9 292.1h1v1h-1zM372.0 293.4h1v1h-1zM397.6 278.5h1v1h-1zM486.9 202.7h1v1h-1zM389.2 262.3h1v1h-1zM417.5 303.7h1v1h-1zM455.6 201.8h1v1h-1zM423.8 227.5h1v1h-1zM390.5 266.1h1v1h-1zM503.6 269.0h1v1h-1zM486.4 269.8h1v1h-1zM426.7 276.1h1v1h-1zM482.1 290.0h1v1h-1zM412.8 241.6h1v1h-1zM416.7 240.9h1v1h-1zM444.4 208.8h1v1h-1zM442.7 299.6h1v1h-1zM359.0 284.8h1v1h-1zM387.1 207.7h1v1h-1zM497.3 300.6h1v1h-1z" fill="#c8c8c8" opacity="0.3"/>
<path d="M367.1 271.4a1.29 1.29 0 1 0 2.58 0a1.29 1.29 0 1 0 -2.58 0M428.9 252.2a1.37 1.37 0 1 0 2.73 0a1.37 1.37 0 1 0 -2.73 0M507.0 233.0a0.90 0.90 0 1 0 1.80 0a0.90 0.90 0 1 0 -1.80 0M407.5 200.1a1.18 1.18 0 1 0 2.37 0a1.18 1.18 0 1 0 -2.37 0M408.9 200.0a1.18 1.18 0 1 0 2.36 0a1.18 1.18 0 1 0 -2.36 0M355.0 249.4a0.80 0.80 0 1 0 1.61 0a0.80 0.80 0 1 0 -1.61 0M474.2 222.9a0.81 0.81 0 1 0 1.63 0a0.81 0.81 0 1 0 -1.63 0" fill="#903c30" opacity="0.95"/>
<path d="M366.5 271.2a1.08 1.08 0 1 0 2.15 0a1.08 1.08 0 1 0 -2.15 0M432.5 219.6a1.28 1.28 0 1 0 2.55 0a1.28 1.28 0 1 0 -2.55 0M448.6 229.5a0.81 0.81 0 1 0 1.62 0a0.81 0.81 0 1 0 -1.62 0M448.5 231.2a1.12 1.12 0 1 0 2.24 0a1.12 1.12 0 1 0 -2.24 0M408.9 200.9a1.16 1.16 0 1 0 2.32 0a1.16 1.16 0 1 0 -2.32 0" fill="#a8b83a" opacity="0.95"/>
<path d="M365.3 268.9a1.15 1.15 0 1 0 2.30 0a1.15 1.15 0 1 0 -2.30 0M378.3 273.3a1.13 1.13 0 1 0 2.26 0a1.13 1.13 0 1 0 -2.26 0M433.2 218.1a1.24 1.24 0 1 0 2.48 0a1.24 1.24 0 1 0 -2.48 0M450.8 229.9a1.21 1.21 0 1 0 2.42 0a1.21 1.21 0 1 0 -2.42 0M439.4 265.0a1.26 1.26 0 1 0 2.53 0a1.26 1.26 0 1 0 -2.53 0M439.2 267.9a1.26 1.26 0 1 0 2.52 0a1.26 1.26 0 1 0 -2.52 0M423.1 282.8a1.29 1.29 0 1 0 2.58 0a1.29 1.29 0 1 0 -2.58 0M497.5 301.6a0.81 0.81 0 1 0 1.63 0a0.81 0.81 0 1 0 -1.63 0M470.8 252.5a1.34 1.34 0 1 0 2.69 0a1.34 1.34 0 1 0 -2.69 0" fill="#86c03a" opacity="0.95"/>
<path d="M364.4 268.8a0.88 0.88 0 1 0 1.75 0a0.88 0.88 0 1 0 -1.75 0M429.5 251.5a0.95 0.95 0 1 0 1.90 0a0.95 0.95 0 1 0 -1.90 0M356.6 248.1a0.92 0.92 0 1 0 1.84 0a0.92 0.92 0 1 0 -1.84 0M473.1 222.0a1.15 1.15 0 1 0 2.29 0a1.15 1.15 0 1 0 -2.29 0" fill="#a8432e" opacity="0.95"/>
<path d="M366.4 272.1a1.15 1.15 0 1 0 2.30 0a1.15 1.15 0 1 0 -2.30 0M366.5 270.8a1.30 1.30 0 1 0 2.59 0a1.30 1.30 0 1 0 -2.59 0M376.3 274.0a1.35 1.35 0 1 0 2.70 0a1.35 1.35 0 1 0 -2.70 0M480.7 209.3a0.99 0.99 0 1 0 1.97 0a0.99 0.99 0 1 0 -1.97 0M450.8 230.3a1.03 1.03 0 1 0 2.05 0a1.03 1.03 0 1 0 -2.05 0M440.3 265.7a1.03 1.03 0 1 0 2.05 0a1.03 1.03 0 1 0 -2.05 0M482.5 268.0a0.81 0.81 0 1 0 1.62 0a0.81 0.81 0 1 0 -1.62 0M506.0 233.8a1.37 1.37 0 1 0 2.75 0a1.37 1.37 0 1 0 -2.75 0M470.9 239.9a1.16 1.16 0 1 0 2.31 0a1.16 1.16 0 1 0 -2.31 0M470.7 252.6a1.06 1.06 0 1 0 2.12 0a1.06 1.06 0 1 0 -2.12 0" fill="#9cc230" opacity="0.95"/>
<path d="M364.0 269.3a1.22 1.22 0 1 0 2.43 0a1.22 1.22 0 1 0 -2.43 0M378.2 275.3a1.25 1.25 0 1 0 2.51 0a1.25 1.25 0 1 0 -2.51 0M376.3 275.0a1.22 1.22 0 1 0 2.44 0a1.22 1.22 0 1 0 -2.44 0M478.7 205.3a0.82 0.82 0 1 0 1.64 0a0.82 0.82 0 1 0 -1.64 0M433.8 219.6a1.16 1.16 0 1 0 2.32 0a1.16 1.16 0 1 0 -2.32 0M429.0 252.3a1.11 1.11 0 1 0 2.22 0a1.11 1.11 0 1 0 -2.22 0M480.8 269.0a0.87 0.87 0 1 0 1.73 0a0.87 0.87 0 1 0 -1.73 0M480.9 270.3a1.00 1.00 0 1 0 2.00 0a1.00 1.00 0 1 0 -2.00 0M483.4 270.2a1.18 1.18 0 1 0 2.37 0a1.18 1.18 0 1 0 -2.37 0M423.6 281.7a0.96 0.96 0 1 0 1.92 0a0.96 0.96 0 1 0 -1.92 0M422.3 282.2a1.39 1.39 0 1 0 2.78 0a1.39 1.39 0 1 0 -2.78 0M507.4 235.4a1.40 1.40 0 1 0 2.80 0a1.40 1.40 0 1 0 -2.80 0M507.4 234.3a1.27 1.27 0 1 0 2.55 0a1.27 1.27 0 1 0 -2.55 0M507.7 236.4a1.22 1.22 0 1 0 2.45 0a1.22 1.22 0 1 0 -2.45 0" fill="#70bc38" opacity="0.95"/>
<path d="M377.9 274.7a0.98 0.98 0 1 0 1.96 0a0.98 0.98 0 1 0 -1.96 0M378.0 272.8a1.35 1.35 0 1 0 2.70 0a1.35 1.35 0 1 0 -2.70 0M480.0 208.1a0.96 0.96 0 1 0 1.91 0a0.96 0.96 0 1 0 -1.91 0M479.6 206.2a1.18 1.18 0 1 0 2.36 0a1.18 1.18 0 1 0 -2.36 0M451.3 231.1a1.21 1.21 0 1 0 2.42 0a1.21 1.21 0 1 0 -2.42 0M430.4 248.7a0.98 0.98 0 1 0 1.95 0a0.98 0.98 0 1 0 -1.95 0M427.2 249.9a1.36 1.36 0 1 0 2.71 0a1.36 1.36 0 1 0 -2.71 0M441.0 267.2a0.83 0.83 0 1 0 1.66 0a0.83 0.83 0 1 0 -1.66 0M423.8 280.9a0.97 0.97 0 1 0 1.94 0a0.97 0.97 0 1 0 -1.94 0M497.1 300.5a1.00 1.00 0 1 0 2.00 0a1.00 1.00 0 1 0 -2.00 0M470.4 239.2a1.34 1.34 0 1 0 2.67 0a1.34 1.34 0 1 0 -2.67 0M489.4 202.6a1.06 1.06 0 1 0 2.12 0a1.06 1.06 0 1 0 -2.12 0M489.3 201.1a1.15 1.15 0 1 0 2.30 0a1.15 1.15 0 1 0 -2.30 0M499.4 205.2a0.90 0.90 0 1 0 1.80 0a0.90 0.90 0 1 0 -1.80 0M507.6 237.2a1.02 1.02 0 1 0 2.05 0a1.02 1.02 0 1 0 -2.05 0" fill="#b4c030" opacity="0.95"/>
<path d="M480.0 204.8a1.19 1.19 0 1 0 2.38 0a1.19 1.19 0 1 0 -2.38 0M480.8 207.7a1.03 1.03 0 1 0 2.06 0a1.03 1.03 0 1 0 -2.06 0M479.2 207.1a1.16 1.16 0 1 0 2.32 0a1.16 1.16 0 1 0 -2.32 0" fill="#9c3e30" opacity="0.95"/>
<path d="M479.3 205.7a0.93 0.93 0 1 0 1.86 0a0.93 0.93 0 1 0 -1.86 0M432.2 217.6a1.11 1.11 0 1 0 2.23 0a1.11 1.11 0 1 0 -2.23 0M507.7 215.2a1.08 1.08 0 1 0 2.17 0a1.08 1.08 0 1 0 -2.17 0M353.8 249.6a1.21 1.21 0 1 0 2.42 0a1.21 1.21 0 1 0 -2.42 0M474.2 221.4a1.32 1.32 0 1 0 2.63 0a1.32 1.32 0 1 0 -2.63 0" fill="#b45834" opacity="0.95"/>
<path d="M480.6 270.9a1.33 1.33 0 1 0 2.66 0a1.33 1.33 0 1 0 -2.66 0" fill="#b04c32" opacity="0.95"/>
<path d="M506.7 215.4a1.25 1.25 0 1 0 2.50 0a1.25 1.25 0 1 0 -2.50 0M506.3 213.8a1.16 1.16 0 1 0 2.32 0a1.16 1.16 0 1 0 -2.32 0M498.2 299.9a0.85 0.85 0 1 0 1.70 0a0.85 0.85 0 1 0 -1.70 0M410.6 199.4a0.94 0.94 0 1 0 1.89 0a0.94 0.94 0 1 0 -1.89 0M500.2 203.9a1.16 1.16 0 1 0 2.33 0a1.16 1.16 0 1 0 -2.33 0M506.7 236.1a0.86 0.86 0 1 0 1.72 0a0.86 0.86 0 1 0 -1.72 0" fill="#a04a2c" opacity="0.95"/>
<ellipse cx="372.8" cy="272.8" rx="11.9" ry="10.4" fill="none" stroke="#000" stroke-width="1.9"/>
<path d="M51.9,339.50 H63.2" stroke="#c8284e" stroke-width="1.1"/>
<text x="66.60" y="342.20" font-size="7.6" text-anchor="start" font-weight="normal" fill="#1a1a1a" >Isotype control</text>
<path d="M51.9,351.15 H63.2" stroke="#3a5a9c" stroke-width="1.1"/>
<text x="66.60" y="353.85" font-size="7.6" text-anchor="start" font-weight="normal" fill="#1a1a1a" >K562</text>
<path d="M51.9,362.80 H63.2" stroke="#72b84a" stroke-width="1.1"/>
<text x="66.60" y="365.50" font-size="7.6" text-anchor="start" font-weight="normal" fill="#1a1a1a" >K.PD-L1</text>
<polyline points="78.0,509.8 84.2,509.5 89.3,508.5 97.5,508.5 104.7,509.3 110.0,508.4 115.0,507.6 120.5,506.0 125.3,504.2 128.3,502.0 133.3,494.8 138.3,484.8 141.6,477.3 144.9,469.8 147.4,464.5 149.1,462.4 149.9,459.0 151.6,453.2 153.2,449.6 154.6,449.1 155.2,443.3 156.6,426.6 157.4,419.5 159.0,418.0 160.9,401.6 161.7,394.7 163.4,395.3 165.3,382.0 167.2,391.5 168.4,398.4 169.7,400.3 171.6,406.0 172.3,418.0 174.0,435.0 178.2,456.5 181.5,478.1 184.0,493.1 187.3,504.7 189.8,509.7 192.0,510.0" fill="none" stroke="#72b84a" stroke-width="1.1" stroke-linejoin="round"/>
<polyline points="52.0,508.8 59.6,508.8 60.1,508.1 64.4,508.1 65.9,508.8 71.2,508.8 72.6,507.3 78.0,507.3 81.1,505.9 84.2,503.4 87.3,500.3 90.3,497.2 93.4,495.6 95.0,493.1 96.5,487.9 98.1,480.7 99.1,468.4 100.1,466.8 101.4,466.3 103.6,460.4 104.5,464.0 106.8,464.0 108.1,468.5 109.9,471.7 111.3,474.0 112.6,481.2 114.4,483.9 115.8,486.6 117.1,492.0 120.8,496.5 123.0,500.1 125.3,504.2 127.0,506.5 129.0,508.0 133.0,509.2 155.0,509.4" fill="none" stroke="#3a5a9c" stroke-width="1.1" stroke-linejoin="round"/>
<polyline points="52.0,510.0 80.0,510.0 81.1,509.5 84.2,504.4 86.7,498.2 88.3,491.0 89.8,480.7 90.9,470.4 91.6,462.0 92.4,449.8 93.2,437.9 94.0,428.3 94.7,424.8 96.2,423.4 97.5,424.8 98.1,429.9 98.3,437.1 99.1,439.5 100.7,443.4 101.9,448.2 103.1,454.6 105.0,464.9 106.8,476.7 109.0,482.1 110.8,490.2 112.6,496.5 114.9,501.9 117.1,504.7 121.9,507.6 126.7,509.0 135.0,510.0" fill="none" stroke="#c8284e" stroke-width="1.1" stroke-linejoin="round"/>
<rect x="51.7" y="371.2" width="140.7" height="139" fill="none" stroke="#1a1a1a" stroke-width="1.3"/>
<path d="M48.6,510.20 H51.7" stroke="#1a1a1a" stroke-width="1"/>
<text x="45.20" y="513.20" font-size="8.3" text-anchor="end" font-weight="normal" fill="#1a1a1a" >0</text>
<path d="M50.2,503.12 H51.7" stroke="#1a1a1a" stroke-width="0.9"/>
<path d="M50.2,496.04 H51.7" stroke="#1a1a1a" stroke-width="0.9"/>
<path d="M50.2,488.96 H51.7" stroke="#1a1a1a" stroke-width="0.9"/>
<path d="M50.2,481.88 H51.7" stroke="#1a1a1a" stroke-width="0.9"/>
<path d="M48.6,474.80 H51.7" stroke="#1a1a1a" stroke-width="1"/>
<text x="45.20" y="477.80" font-size="8.3" text-anchor="end" font-weight="normal" fill="#1a1a1a" >50</text>
<path d="M50.2,467.72 H51.7" stroke="#1a1a1a" stroke-width="0.9"/>
<path d="M50.2,460.64 H51.7" stroke="#1a1a1a" stroke-width="0.9"/>
<path d="M50.2,453.56 H51.7" stroke="#1a1a1a" stroke-width="0.9"/>
<path d="M50.2,446.48 H51.7" stroke="#1a1a1a" stroke-width="0.9"/>
<path d="M48.6,439.40 H51.7" stroke="#1a1a1a" stroke-width="1"/>
<text x="45.20" y="442.40" font-size="8.3" text-anchor="end" font-weight="normal" fill="#1a1a1a" >100</text>
<path d="M50.2,432.32 H51.7" stroke="#1a1a1a" stroke-width="0.9"/>
<path d="M50.2,425.24 H51.7" stroke="#1a1a1a" stroke-width="0.9"/>
<path d="M50.2,418.16 H51.7" stroke="#1a1a1a" stroke-width="0.9"/>
<path d="M50.2,411.08 H51.7" stroke="#1a1a1a" stroke-width="0.9"/>
<path d="M48.6,404.00 H51.7" stroke="#1a1a1a" stroke-width="1"/>
<text x="45.20" y="407.00" font-size="8.3" text-anchor="end" font-weight="normal" fill="#1a1a1a" >150</text>
<path d="M50.2,396.92 H51.7" stroke="#1a1a1a" stroke-width="0.9"/>
<path d="M50.2,389.84 H51.7" stroke="#1a1a1a" stroke-width="0.9"/>
<path d="M50.2,382.76 H51.7" stroke="#1a1a1a" stroke-width="0.9"/>
<path d="M50.2,375.68 H51.7" stroke="#1a1a1a" stroke-width="0.9"/>
<path d="M60.4,510.2 V513.4" stroke="#1a1a1a" stroke-width="1"/>
<path d="M82.7,510.2 V513.4" stroke="#1a1a1a" stroke-width="1"/>
<path d="M107.3,510.2 V513.4" stroke="#1a1a1a" stroke-width="1"/>
<path d="M144.6,510.2 V513.4" stroke="#1a1a1a" stroke-width="1"/>
<path d="M178.2,510.2 V513.4" stroke="#1a1a1a" stroke-width="1"/>
<path d="M64.0,510.2 V512.2" stroke="#1a1a1a" stroke-width="0.8"/>
<path d="M67.0,510.2 V512.2" stroke="#1a1a1a" stroke-width="0.8"/>
<path d="M70.0,510.2 V512.2" stroke="#1a1a1a" stroke-width="0.8"/>
<path d="M72.5,510.2 V512.2" stroke="#1a1a1a" stroke-width="0.8"/>
<path d="M74.5,510.2 V512.2" stroke="#1a1a1a" stroke-width="0.8"/>
<path d="M76.5,510.2 V512.2" stroke="#1a1a1a" stroke-width="0.8"/>
<path d="M78.0,510.2 V512.2" stroke="#1a1a1a" stroke-width="0.8"/>
<path d="M79.5,510.2 V512.2" stroke="#1a1a1a" stroke-width="0.8"/>
<path d="M80.8,510.2 V512.2" stroke="#1a1a1a" stroke-width="0.8"/>
<path d="M84.6,510.2 V512.2" stroke="#1a1a1a" stroke-width="0.8"/>
<path d="M86.0,510.2 V512.2" stroke="#1a1a1a" stroke-width="0.8"/>
<path d="M87.5,510.2 V512.2" stroke="#1a1a1a" stroke-width="0.8"/>
<path d="M89.0,510.2 V512.2" stroke="#1a1a1a" stroke-width="0.8"/>
<path d="M91.0,510.2 V512.2" stroke="#1a1a1a" stroke-width="0.8"/>
<path d="M93.5,510.2 V512.2" stroke="#1a1a1a" stroke-width="0.8"/>
<path d="M96.5,510.2 V512.2" stroke="#1a1a1a" stroke-width="0.8"/>
<path d="M100.0,510.2 V512.2" stroke="#1a1a1a" stroke-width="0.8"/>
<path d="M103.5,510.2 V512.2" stroke="#1a1a1a" stroke-width="0.8"/>
<path d="M118.5,510.2 V512.2" stroke="#1a1a1a" stroke-width="0.8"/>
<path d="M125.0,510.2 V512.2" stroke="#1a1a1a" stroke-width="0.8"/>
<path d="M129.5,510.2 V512.2" stroke="#1a1a1a" stroke-width="0.8"/>
<path d="M133.0,510.2 V512.2" stroke="#1a1a1a" stroke-width="0.8"/>
<path d="M135.8,510.2 V512.2" stroke="#1a1a1a" stroke-width="0.8"/>
<path d="M138.0,510.2 V512.2" stroke="#1a1a1a" stroke-width="0.8"/>
<path d="M140.0,510.2 V512.2" stroke="#1a1a1a" stroke-width="0.8"/>
<path d="M142.0,510.2 V512.2" stroke="#1a1a1a" stroke-width="0.8"/>
<path d="M155.8,510.2 V512.2" stroke="#1a1a1a" stroke-width="0.8"/>
<path d="M162.4,510.2 V512.2" stroke="#1a1a1a" stroke-width="0.8"/>
<path d="M167.0,510.2 V512.2" stroke="#1a1a1a" stroke-width="0.8"/>
<path d="M170.5,510.2 V512.2" stroke="#1a1a1a" stroke-width="0.8"/>
<path d="M173.4,510.2 V512.2" stroke="#1a1a1a" stroke-width="0.8"/>
<path d="M175.6,510.2 V512.2" stroke="#1a1a1a" stroke-width="0.8"/>
<path d="M177.0,510.2 V512.2" stroke="#1a1a1a" stroke-width="0.8"/>
<path d="M189.4,510.2 V512.2" stroke="#1a1a1a" stroke-width="0.8"/>
<text x="60.6" y="527.6" font-size="8.3" fill="#1a1a1a" text-anchor="middle">-10<tspan font-size="6.3" dy="-3.3">3</tspan></text>
<text x="83.50" y="527.60" font-size="8.3" text-anchor="middle" font-weight="normal" fill="#1a1a1a" >0</text>
<text x="106.6" y="527.6" font-size="8.3" fill="#1a1a1a" text-anchor="middle">10<tspan font-size="6.3" dy="-3.3">3</tspan></text>
<text x="145.2" y="527.6" font-size="8.3" fill="#1a1a1a" text-anchor="middle">10<tspan font-size="6.3" dy="-3.3">4</tspan></text>
<text x="178.9" y="527.6" font-size="8.3" fill="#1a1a1a" text-anchor="middle">10<tspan font-size="6.3" dy="-3.3">5</tspan></text>
<text class="cb" font-size="10.2" text-anchor="middle" fill="#1a1a1a" transform="translate(25,440.5) rotate(-90) scale(0.62,1)">Count</text>
<text class="cb" font-size="10.4" text-anchor="middle" fill="#1a1a1a" transform="translate(123.9,542.7) scale(0.63,1)">PD-L1</text>
<path d="M60.4,539.7 H110.3 M137.2,539.7 H183" stroke="#1a1a1a" stroke-width="1"/>
<path d="M187.4,539.7 L181.2,537.2 L181.2,542.2 Z" fill="#1a1a1a"/>
<rect x="324.2" y="416" width="35.8" height="94.4" fill="#2e4c7c"/>
<rect x="381" y="456" width="36.1" height="54.4" fill="#6ba543"/>
<rect x="267.6" y="508.6" width="35.9" height="1.4" fill="#c8284e"/>
<path d="M342.4,403.1 V416.0 M332.9,403.1 H351.7" stroke="#222" stroke-width="1.1"/>
<path d="M399.0,444.6 V456.0 M389.4,444.6 H408.5" stroke="#222" stroke-width="1.1"/>
<path d="M285.5,507.4 V508.4 M276.3,507.4 H294.9" stroke="#222" stroke-width="1.1"/>
<path d="M247.8,374.8 V510.4 M247.1,510.4 H437.3" stroke="#2a2a2a" stroke-width="1.4" fill="none"/>
<path d="M244.8,510.40 H247.5" stroke="#1a1a1a" stroke-width="1"/>
<text x="241.40" y="513.40" font-size="8.6" text-anchor="end" font-weight="normal" fill="#1a1a1a" stroke="#1a1a1a" stroke-width="0.12">0</text>
<path d="M244.8,483.80 H247.5" stroke="#1a1a1a" stroke-width="1"/>
<text x="241.40" y="486.80" font-size="8.6" text-anchor="end" font-weight="normal" fill="#1a1a1a" stroke="#1a1a1a" stroke-width="0.12">10</text>
<path d="M244.8,457.20 H247.5" stroke="#1a1a1a" stroke-width="1"/>
<text x="241.40" y="460.20" font-size="8.6" text-anchor="end" font-weight="normal" fill="#1a1a1a" stroke="#1a1a1a" stroke-width="0.12">20</text>
<path d="M244.8,430.60 H247.5" stroke="#1a1a1a" stroke-width="1"/>
<text x="241.40" y="433.60" font-size="8.6" text-anchor="end" font-weight="normal" fill="#1a1a1a" stroke="#1a1a1a" stroke-width="0.12">30</text>
<path d="M244.8,404.00 H247.5" stroke="#1a1a1a" stroke-width="1"/>
<text x="241.40" y="407.00" font-size="8.6" text-anchor="end" font-weight="normal" fill="#1a1a1a" stroke="#1a1a1a" stroke-width="0.12">40</text>
<path d="M244.8,377.40 H247.5" stroke="#1a1a1a" stroke-width="1"/>
<text x="241.40" y="380.40" font-size="8.6" text-anchor="end" font-weight="normal" fill="#1a1a1a" stroke="#1a1a1a" stroke-width="0.12">50</text>
<path d="M285.5,510.4 V513.3" stroke="#1a1a1a" stroke-width="1"/>
<path d="M342.2,510.4 V513.3" stroke="#1a1a1a" stroke-width="1"/>
<path d="M399.0,510.4 V513.3" stroke="#1a1a1a" stroke-width="1"/>
<text x="285.50" y="523.90" font-size="7.8" text-anchor="middle" font-weight="normal" fill="#1a1a1a" >No Targets</text>
<text x="342.20" y="523.90" font-size="7.8" text-anchor="middle" font-weight="normal" fill="#1a1a1a" >K562</text>
<text x="399.00" y="523.90" font-size="7.8" text-anchor="middle" font-weight="normal" fill="#1a1a1a" >K.PD-L1</text>
<text class="h" font-size="9.6" text-anchor="middle" fill="#1a1a1a" transform="translate(225.1,441.9) rotate(-90) scale(0.715,1)">%CD107a+ NK</text>
<path d="M287.0,349.7 V361.2 M398.8,349.7 V361.2 M287.0,355.5 H398.8" stroke="#222" stroke-width="1.1" fill="none"/>
<path d="M287.0,367.9 V379.3 M341.2,367.9 V379.3 M287.0,373.5 H341.2" stroke="#222" stroke-width="1.1" fill="none"/>
<path d="M341.5,388.0 V399.2 M399.5,388.0 V399.2 M341.5,393.8 H399.5" stroke="#222" stroke-width="1.1" fill="none"/>
<rect x="340.50" y="350.50" width="1.70" height="1.6" fill="#222"/>
<rect x="343.40" y="350.50" width="1.70" height="1.6" fill="#222"/>
<rect x="310.45" y="369.10" width="1.70" height="1.6" fill="#222"/>
<rect x="313.35" y="369.10" width="1.70" height="1.6" fill="#222"/>
<rect x="316.25" y="369.10" width="1.70" height="1.6" fill="#222"/>
<rect x="369.75" y="388.50" width="1.70" height="1.6" fill="#222"/>
</svg></div></body></html>
